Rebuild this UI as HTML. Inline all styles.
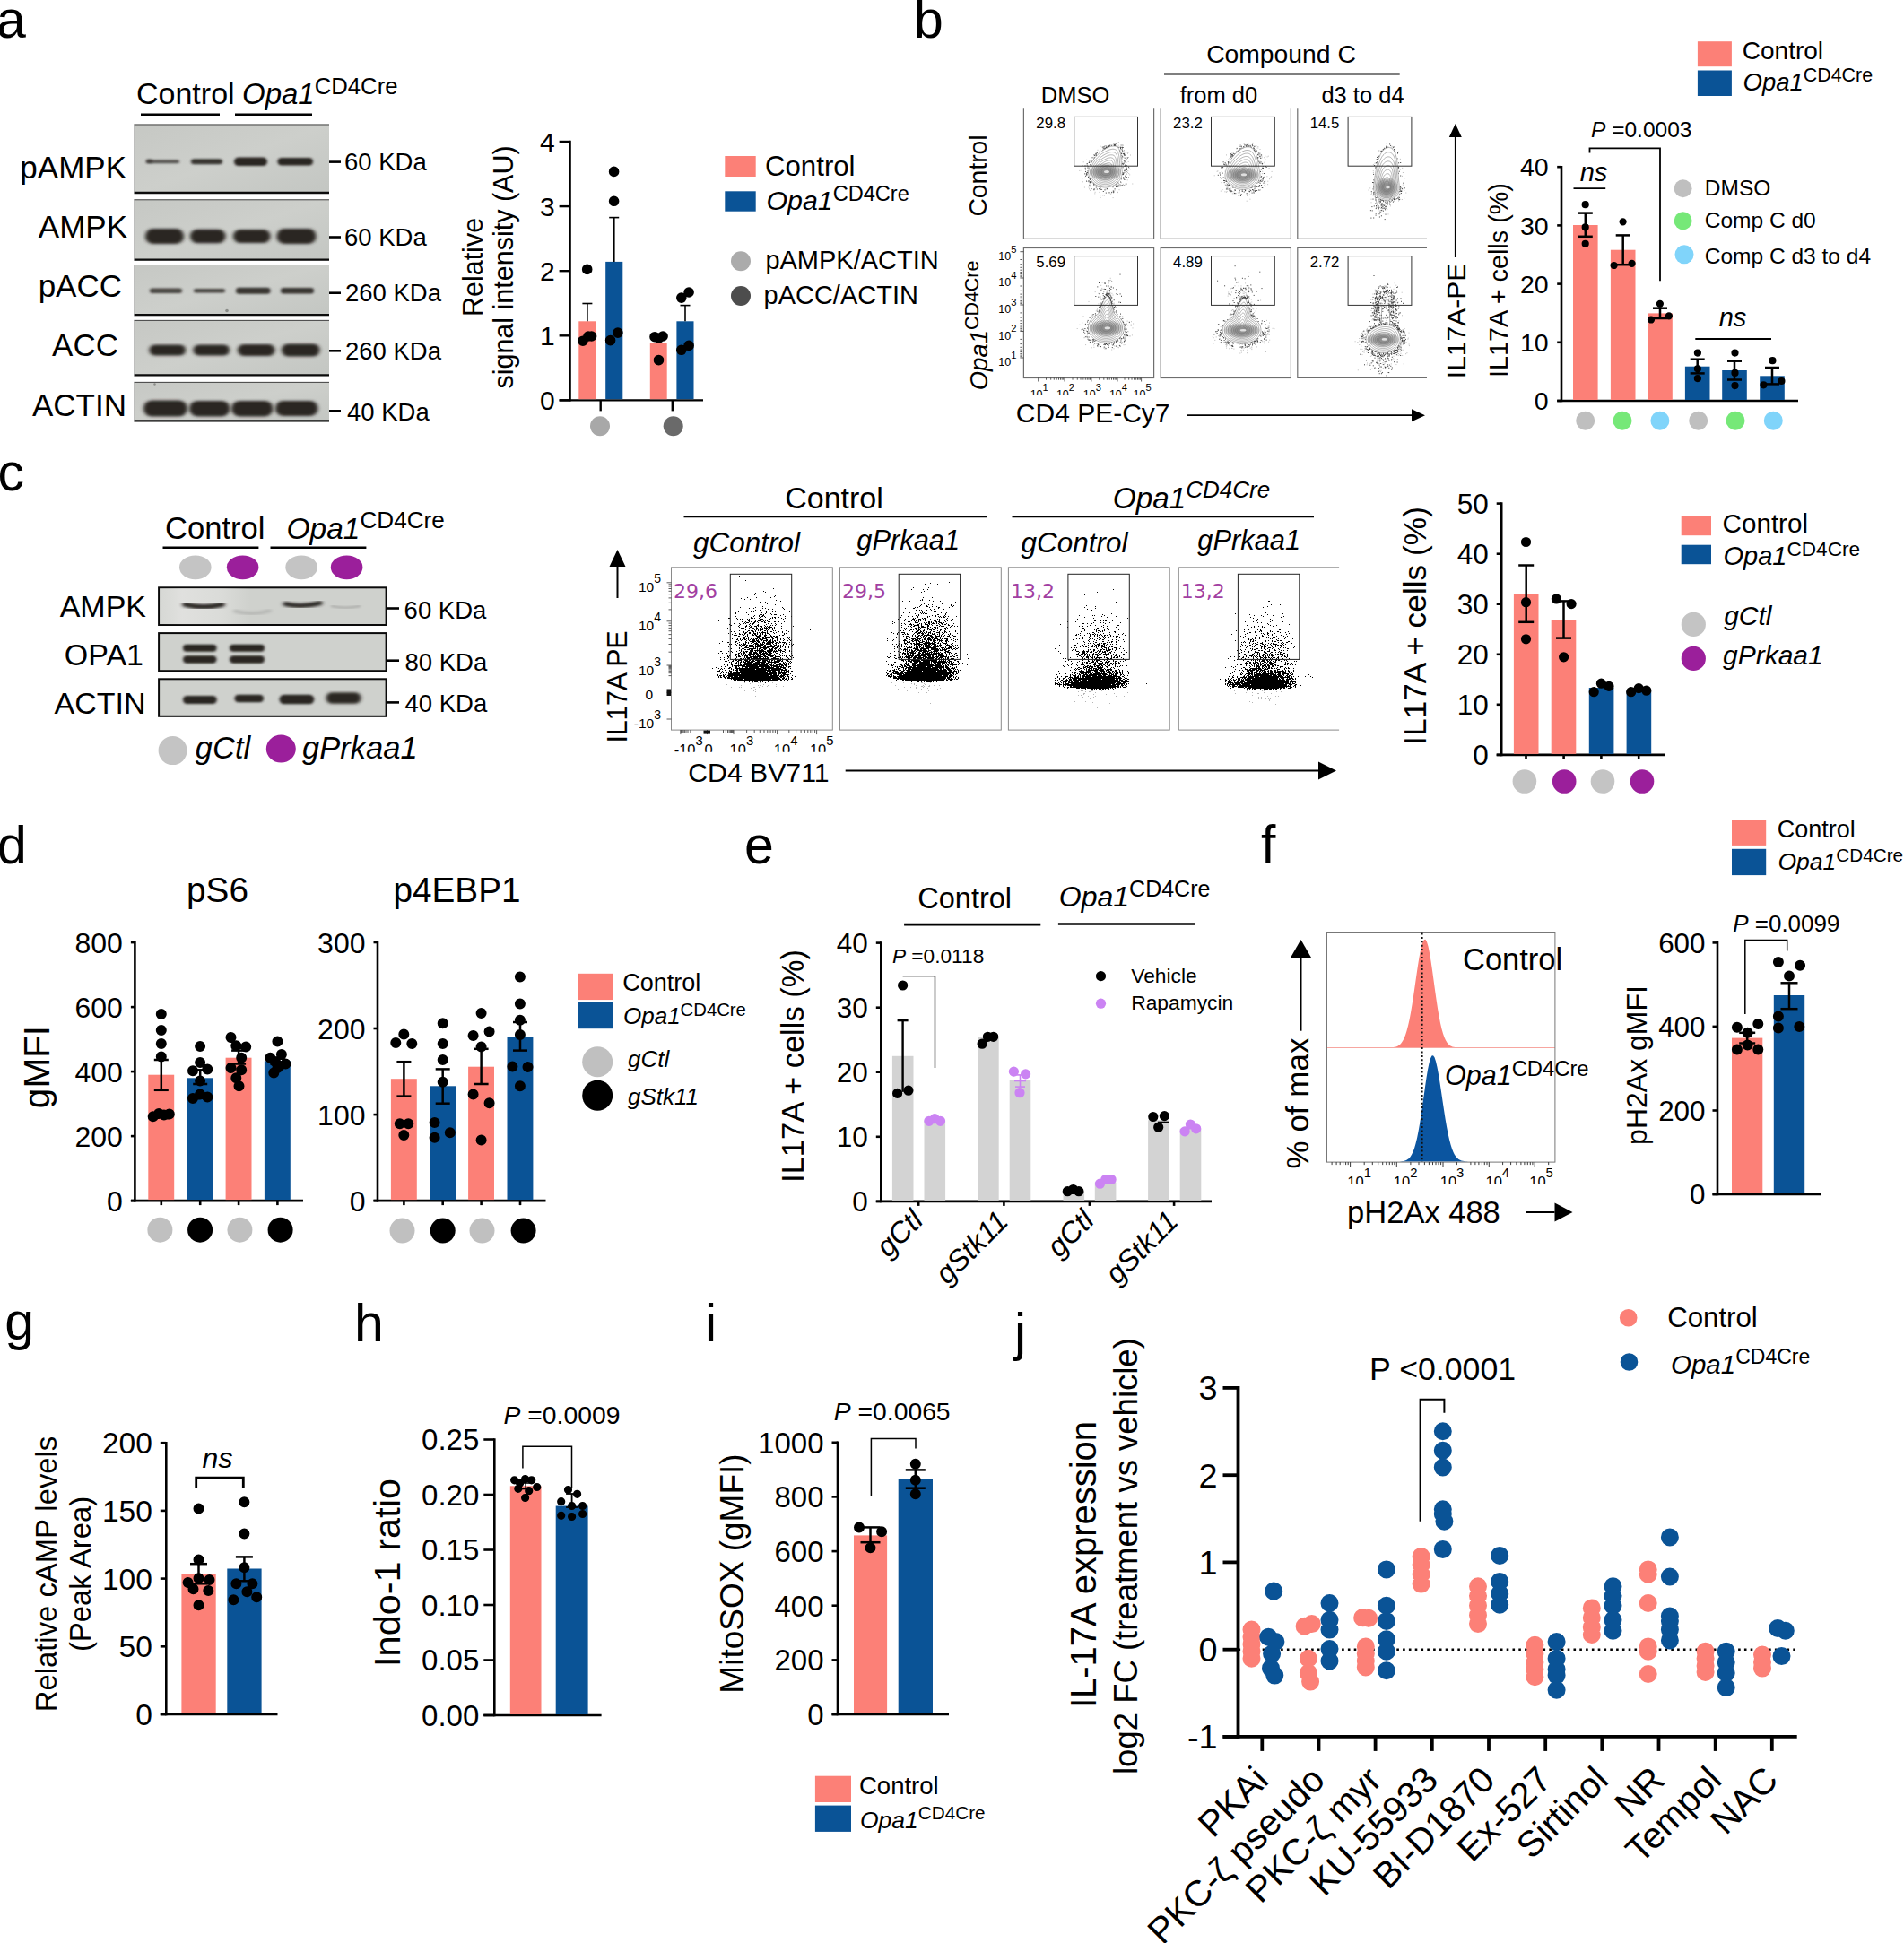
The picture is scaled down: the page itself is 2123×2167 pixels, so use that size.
<!DOCTYPE html>
<html><head><meta charset="utf-8"><title>Figure</title>
<style>html,body{margin:0;padding:0;background:#fff}svg{display:block}</style></head>
<body>
<svg width="2123" height="2167" viewBox="0 0 2123 2167" font-family="Liberation Sans, Arial, sans-serif" fill="#000">
<defs><filter id="b1" x="-20%" y="-50%" width="140%" height="200%"><feGaussianBlur stdDeviation="1.6 1.2"/></filter><filter id="b2" x="-20%" y="-50%" width="140%" height="200%"><feGaussianBlur stdDeviation="2.2 1.6"/></filter><filter id="b3" x="-20%" y="-80%" width="140%" height="260%"><feGaussianBlur stdDeviation="3 2.2"/></filter><linearGradient id="bg1" x1="0" y1="0" x2="1" y2="1"><stop offset="0" stop-color="#c6c8c4"/><stop offset="0.5" stop-color="#cdcfcb"/><stop offset="1" stop-color="#c3c6c2"/></linearGradient></defs>
<text x="-4" y="41.8" font-size="59">a</text>
<text x="152" y="116" font-size="34">Control</text>
<text x="270" y="116" font-size="33"><tspan font-style="italic">Opa1</tspan><tspan dy="-11.5" font-size="25.7">CD4Cre</tspan></text>
<line x1="157" y1="127.7" x2="245" y2="127.7" stroke="#000" stroke-width="2.6"/>
<line x1="262" y1="127.7" x2="348" y2="127.7" stroke="#000" stroke-width="2.6"/>
<rect x="149.5" y="138.5" width="217.5" height="77.5" fill="url(#bg1)"/>
<line x1="149.5" y1="139" x2="367" y2="139" stroke="#444" stroke-width="1"/>
<line x1="149.5" y1="215" x2="367" y2="215" stroke="#0c0c0c" stroke-width="2.3"/>
<line x1="150" y1="138.5" x2="150" y2="216" stroke="#999" stroke-width="1"/>
<rect x="149.5" y="222.3" width="217.5" height="68.4" fill="url(#bg1)"/>
<line x1="149.5" y1="222.8" x2="367" y2="222.8" stroke="#444" stroke-width="1"/>
<line x1="149.5" y1="289.7" x2="367" y2="289.7" stroke="#0c0c0c" stroke-width="2.3"/>
<line x1="150" y1="222.3" x2="150" y2="290.7" stroke="#999" stroke-width="1"/>
<rect x="149.5" y="295" width="217.5" height="57.2" fill="url(#bg1)"/>
<line x1="149.5" y1="295.5" x2="367" y2="295.5" stroke="#444" stroke-width="1"/>
<line x1="149.5" y1="351.2" x2="367" y2="351.2" stroke="#0c0c0c" stroke-width="2.3"/>
<line x1="150" y1="295" x2="150" y2="352.2" stroke="#999" stroke-width="1"/>
<rect x="149.5" y="356.9" width="217.5" height="62.4" fill="url(#bg1)"/>
<line x1="149.5" y1="357.4" x2="367" y2="357.4" stroke="#444" stroke-width="1"/>
<line x1="149.5" y1="418.3" x2="367" y2="418.3" stroke="#0c0c0c" stroke-width="2.3"/>
<line x1="150" y1="356.9" x2="150" y2="419.3" stroke="#999" stroke-width="1"/>
<rect x="149.5" y="425.9" width="217.5" height="44.4" fill="url(#bg1)"/>
<line x1="149.5" y1="426.4" x2="367" y2="426.4" stroke="#444" stroke-width="1"/>
<line x1="149.5" y1="469.3" x2="367" y2="469.3" stroke="#0c0c0c" stroke-width="2.3"/>
<line x1="150" y1="425.9" x2="150" y2="470.3" stroke="#999" stroke-width="1"/>
<rect x="163" y="178.3" width="37" height="4" rx="2" fill="#2a2524" opacity="0.7" filter="url(#b1)"/>
<rect x="163" y="177.3" width="7" height="5" rx="2.5" fill="#2a2524" opacity="0.5" filter="url(#b1)"/>
<rect x="213" y="177.3" width="35" height="6" rx="3" fill="#2a2524" opacity="0.9" filter="url(#b1)"/>
<rect x="261" y="175.6" width="37" height="9.5" rx="4.8" fill="#2a2524" opacity="1" filter="url(#b1)"/>
<rect x="309.5" y="176.1" width="39.5" height="8.5" rx="4.2" fill="#2a2524" opacity="1" filter="url(#b1)"/>
<rect x="162" y="255" width="43" height="17" rx="8.5" fill="#2a2524" opacity="1" filter="url(#b2)"/>
<rect x="212" y="255.8" width="39.5" height="15.5" rx="7.8" fill="#2a2524" opacity="1" filter="url(#b2)"/>
<rect x="260" y="256" width="41.5" height="15" rx="7.5" fill="#2a2524" opacity="1" filter="url(#b2)"/>
<rect x="308.5" y="255" width="44" height="17" rx="8.5" fill="#2a2524" opacity="1" filter="url(#b2)"/>
<rect x="167" y="321.4" width="36" height="5.5" rx="2.8" fill="#2a2524" opacity="0.8" filter="url(#b1)"/>
<rect x="216" y="321.9" width="35" height="4.5" rx="2.2" fill="#2a2524" opacity="0.8" filter="url(#b1)"/>
<rect x="263" y="320.7" width="38.5" height="7" rx="3.5" fill="#2a2524" opacity="0.9" filter="url(#b1)"/>
<rect x="313" y="320.9" width="37" height="6.5" rx="3.2" fill="#2a2524" opacity="0.9" filter="url(#b1)"/>
<rect x="166.5" y="384.5" width="40.5" height="12" rx="6" fill="#2a2524" opacity="1" filter="url(#b2)"/>
<rect x="215.5" y="384.5" width="40.5" height="12" rx="6" fill="#2a2524" opacity="1" filter="url(#b2)"/>
<rect x="265" y="384" width="41.5" height="13" rx="6.5" fill="#2a2524" opacity="1" filter="url(#b2)"/>
<rect x="314" y="383.5" width="42.5" height="14" rx="7" fill="#2a2524" opacity="1" filter="url(#b2)"/>
<rect x="160" y="446.6" width="49" height="18" rx="9" fill="#2a2524" opacity="1" filter="url(#b2)"/>
<rect x="211" y="446.9" width="45.5" height="17.5" rx="8.8" fill="#2a2524" opacity="1" filter="url(#b2)"/>
<rect x="258" y="446.9" width="46.5" height="17.5" rx="8.8" fill="#2a2524" opacity="1" filter="url(#b2)"/>
<rect x="307" y="447.1" width="47.5" height="17" rx="8.5" fill="#2a2524" opacity="1" filter="url(#b2)"/>
<circle cx="253" cy="346.5" r="1.8" fill="#8b8d89"/>
<circle cx="172.5" cy="428.5" r="1.2" fill="#8b8d89"/>
<text x="141" y="198.5" font-size="35" text-anchor="end">pAMPK</text>
<text x="142" y="265" font-size="35" text-anchor="end">AMPK</text>
<text x="136" y="330.5" font-size="35" text-anchor="end">pACC</text>
<text x="132" y="397" font-size="35" text-anchor="end">ACC</text>
<text x="141" y="463.7" font-size="35" text-anchor="end">ACTIN</text>
<line x1="367" y1="180.6" x2="380" y2="180.6" stroke="#000" stroke-width="2.6"/>
<text x="384" y="189.7" font-size="27.5">60 KDa</text>
<line x1="367" y1="264.5" x2="380" y2="264.5" stroke="#000" stroke-width="2.6"/>
<text x="384" y="273.5" font-size="27.5">60 KDa</text>
<line x1="367" y1="326.7" x2="380" y2="326.7" stroke="#000" stroke-width="2.6"/>
<text x="385" y="335.5" font-size="27.5">260 KDa</text>
<line x1="367" y1="391.3" x2="380" y2="391.3" stroke="#000" stroke-width="2.6"/>
<text x="385" y="400.5" font-size="27.5">260 KDa</text>
<line x1="367" y1="458.3" x2="380" y2="458.3" stroke="#000" stroke-width="2.6"/>
<text x="387" y="468.5" font-size="27.5">40 KDa</text>
<line x1="635.6" y1="156.8" x2="635.6" y2="447.6" stroke="#000" stroke-width="2.4"/>
<line x1="623.6" y1="446.4" x2="635.6" y2="446.4" stroke="#000" stroke-width="2.4"/>
<text x="618.6" y="457.1" font-size="30" text-anchor="end">0</text>
<line x1="623.6" y1="374.3" x2="635.6" y2="374.3" stroke="#000" stroke-width="2.4"/>
<text x="618.6" y="385" font-size="30" text-anchor="end">1</text>
<line x1="623.6" y1="302.2" x2="635.6" y2="302.2" stroke="#000" stroke-width="2.4"/>
<text x="618.6" y="312.9" font-size="30" text-anchor="end">2</text>
<line x1="623.6" y1="230.1" x2="635.6" y2="230.1" stroke="#000" stroke-width="2.4"/>
<text x="618.6" y="240.8" font-size="30" text-anchor="end">3</text>
<line x1="623.6" y1="158" x2="635.6" y2="158" stroke="#000" stroke-width="2.4"/>
<text x="618.6" y="168.7" font-size="30" text-anchor="end">4</text>
<line x1="623.6" y1="446.4" x2="784" y2="446.4" stroke="#000" stroke-width="2.4"/>
<line x1="669.7" y1="446.4" x2="669.7" y2="458.4" stroke="#000" stroke-width="2.4"/>
<line x1="749.8" y1="446.4" x2="749.8" y2="458.4" stroke="#000" stroke-width="2.4"/>
<text font-size="30.5" text-anchor="middle" transform="translate(537.5 298) rotate(-90)">Relative</text>
<text font-size="30.5" text-anchor="middle" transform="translate(572 298) rotate(-90)">signal intensity (AU)</text>
<rect x="645.3" y="358.3" width="19.2" height="86.9" fill="#fc8077"/>
<line x1="654.9" y1="338.5" x2="654.9" y2="358.3" stroke="#000" stroke-width="1.6"/>
<line x1="649.4" y1="338.5" x2="660.4" y2="338.5" stroke="#000" stroke-width="1.6"/>
<rect x="675.2" y="291.9" width="19.1" height="153.3" fill="#0a5396"/>
<line x1="684.8" y1="242.6" x2="684.8" y2="291.9" stroke="#000" stroke-width="1.6"/>
<line x1="679.2" y1="242.6" x2="690.2" y2="242.6" stroke="#000" stroke-width="1.6"/>
<rect x="724.8" y="382.7" width="18.9" height="62.5" fill="#fc8077"/>
<rect x="754.4" y="358.3" width="19.1" height="86.9" fill="#0a5396"/>
<line x1="764" y1="340.6" x2="764" y2="358.3" stroke="#000" stroke-width="1.6"/>
<line x1="758.5" y1="340.6" x2="769.5" y2="340.6" stroke="#000" stroke-width="1.6"/>
<path d="M648.9 300.4a5.8 5.8 0 1 0 11.6 0a5.8 5.8 0 1 0 -11.6 0M644.1 380.2a5.8 5.8 0 1 0 11.6 0a5.8 5.8 0 1 0 -11.6 0M650.2 375a5.8 5.8 0 1 0 11.6 0a5.8 5.8 0 1 0 -11.6 0M653.8 375a5.8 5.8 0 1 0 11.6 0a5.8 5.8 0 1 0 -11.6 0M678.8 191.4a5.8 5.8 0 1 0 11.6 0a5.8 5.8 0 1 0 -11.6 0M678.8 224.3a5.8 5.8 0 1 0 11.6 0a5.8 5.8 0 1 0 -11.6 0M674.8 379.6a5.8 5.8 0 1 0 11.6 0a5.8 5.8 0 1 0 -11.6 0M683.1 371.1a5.8 5.8 0 1 0 11.6 0a5.8 5.8 0 1 0 -11.6 0M724.2 375.7a5.8 5.8 0 1 0 11.6 0a5.8 5.8 0 1 0 -11.6 0M728.7 377.2a5.8 5.8 0 1 0 11.6 0a5.8 5.8 0 1 0 -11.6 0M733.3 375a5.8 5.8 0 1 0 11.6 0a5.8 5.8 0 1 0 -11.6 0M728.7 401.6a5.8 5.8 0 1 0 11.6 0a5.8 5.8 0 1 0 -11.6 0M754 332.1a5.8 5.8 0 1 0 11.6 0a5.8 5.8 0 1 0 -11.6 0M762.3 326a5.8 5.8 0 1 0 11.6 0a5.8 5.8 0 1 0 -11.6 0M754 390.3a5.8 5.8 0 1 0 11.6 0a5.8 5.8 0 1 0 -11.6 0M762.3 385.4a5.8 5.8 0 1 0 11.6 0a5.8 5.8 0 1 0 -11.6 0" fill="#000"/>
<circle cx="669" cy="475.3" r="11" fill="#a8a8a8"/>
<circle cx="750.7" cy="475.3" r="11" fill="#6a6a6a"/>
<rect x="808.3" y="174" width="34.4" height="23" fill="#fc8077"/>
<rect x="808.3" y="213.3" width="34.4" height="22.4" fill="#0a5396"/>
<text x="853" y="195.6" font-size="31.2">Control</text>
<text x="854.5" y="234.3" font-size="30.3"><tspan font-style="italic">Opa1</tspan><tspan dy="-10.6" font-size="23.6">CD4Cre</tspan></text>
<circle cx="826" cy="291.3" r="11" fill="#ababab"/>
<circle cx="826" cy="330" r="11" fill="#4d4d4d"/>
<text x="853.4" y="299.5" font-size="29">pAMPK/ACTIN</text>
<text x="851.5" y="338.5" font-size="29">pACC/ACTIN</text>
<text x="1019" y="41.6" font-size="59">b</text>
<text x="1428.5" y="69.6" font-size="28.3" text-anchor="middle">Compound C</text>
<line x1="1298" y1="82.5" x2="1560.7" y2="82.5" stroke="#000" stroke-width="2.2"/>
<text x="1199" y="115" font-size="25.5" text-anchor="middle">DMSO</text>
<text x="1359" y="115" font-size="25.5" text-anchor="middle">from d0</text>
<text x="1519.5" y="115" font-size="25.5" text-anchor="middle">d3 to d4</text>
<path d="M1218.7 175.3h1M1228.2 211.5h1M1239.2 162.1h1M1226.6 220.4h1M1229.1 217.9h1M1230.8 166.2h1M1232.7 210.3h1M1212.6 187.6h1M1203.3 190.4h1M1226.6 163.2h1M1246 214.6h1M1220.3 215.9h1M1257.4 170.3h1M1256.9 192.5h1M1212.6 202.5h1M1218.9 176.4h1M1262.3 205h1M1240.6 159.5h1M1254.9 191.4h1M1252.5 168.5h1M1246.7 162.2h1M1250.2 206.9h1M1214 210.8h1M1230.8 218.2h1M1215.1 212.4h1M1236 163.1h1M1206.2 199.7h1M1233.6 211.6h1M1234.7 164.2h1M1213.2 196.9h1M1250.7 177.4h1M1205.7 190.2h1M1258.6 178.4h1M1257.9 175.5h1M1230.7 163.7h1M1213.5 209h1M1255.9 189.4h1M1231.4 162.6h1M1257.3 190.7h1M1208.9 209h1M1259.2 194.9h1M1247.5 211.7h1M1236.5 214.7h1M1231.5 163.1h1M1216.1 199.5h1M1254.4 205.2h1M1206.8 184.6h1M1234.8 210.1h1M1245.2 213.6h1M1256.7 200.8h1M1248.4 208h1M1207.7 180.8h1M1250.8 180.8h1M1260.5 198.5h1M1219.4 212.3h1M1220.6 214.3h1M1237.1 162.1h1M1213.9 180.3h1M1230.6 164.1h1M1240.6 220.6h1M1259.9 188.7h1M1222.2 203.6h1M1223.7 207.8h1M1237.9 216.8h1M1235.4 163.3h1M1255.3 177.6h1M1240.7 161.4h1M1255.3 181.5h1M1256.3 169.8h1M1206 184.3h1M1253 167.5h1M1221.7 170.5h1M1254.5 197.7h1M1258.2 193.6h1M1251.9 192.8h1M1252.4 175.2h1M1250.9 171.2h1M1260 173h1M1255.8 204.9h1M1222.9 169.5h1M1216.8 182.5h1M1215 186.9h1M1237.6 161.8h1M1243 161.8h1M1241.9 164.5h1M1251.8 205.4h1M1219.9 173.6h1M1216.3 203h1M1242.9 161.1h1M1226.9 209.5h1M1252 162.1h1M1247.5 205.5h1M1213.5 187.8h1M1252.3 194.2h1M1238.7 215.7h1M1256.6 175.6h1M1241.4 160.6h1M1232 162.6h1M1242.7 160.6h1M1224.8 217.5h1M1241.5 160.8h1M1253.3 170.7h1M1214.4 180.7h1M1257.7 180.4h1M1246.9 158.7h1M1226.4 217.8h1M1247 204.6h1M1257 171.2h1M1249 162h1M1211.1 178.3h1M1225.4 214.4h1M1254.5 206.7h1M1249.8 203.8h1M1246.5 159.2h1M1206.3 203h1M1254.6 195.9h1M1241.5 214.5h1M1258.5 187.5h1M1242.5 212.2h1M1243 162h1M1206.7 202.7h1M1223.5 167.3h1M1251.1 164.5h1M1231.6 211.1h1" stroke="#bdbdbd" stroke-width="1" fill="none"/>
<path d="M1211 195h1M1225.6 169.3h1M1223.8 207.6h1M1221.8 209h1M1215.1 203.2h1M1222.8 170.6h1M1253.7 176.2h1M1255.3 177.3h1M1249.3 164.5h1M1252 194.2h1M1246.6 206.8h1M1241.3 213.4h1M1238.8 162.3h1M1244.7 162.7h1M1249.5 166.8h1M1240.5 208.7h1M1252.8 172.1h1M1242.2 161.7h1M1214.5 178.9h1M1216.5 210.6h1M1230.5 163.7h1M1236.3 162.7h1M1258.1 186.3h1M1243.4 159.6h1M1213.8 181.5h1M1219.6 177.9h1M1239.2 214.4h1M1251.1 167.8h1M1241.1 214.7h1M1223.2 207.7h1M1248.6 206.2h1M1241.9 162.2h1M1252.5 199.6h1M1217.8 179.1h1M1219.2 205.2h1M1250.7 206.6h1M1228.8 164.1h1M1256 197.8h1M1213.5 201.6h1M1214.7 203.8h1M1221.4 172.1h1M1209.7 187.3h1M1255.2 198.4h1M1244.4 208.2h1M1251.1 168.9h1M1231.7 165.5h1M1221.6 171.5h1M1230.5 165.2h1M1214.9 197.9h1M1241.8 162.6h1M1244.8 207.1h1M1253.2 190.3h1M1250.5 162h1M1229.8 213.5h1M1246.7 164.3h1M1220.1 175.9h1M1217 180.3h1M1236 163.5h1M1253.6 173.3h1M1251.1 174.8h1M1240.8 213h1M1214.4 206.3h1M1252.7 182.1h1M1218.7 204.1h1M1254 184.2h1M1219.1 211.2h1M1233.2 163.1h1M1215.3 203.7h1M1250.4 173.8h1M1213 197.4h1M1242.6 162.1h1M1231.5 211.9h1M1213.6 202.7h1M1211.8 192.7h1M1215.5 189.3h1M1249.8 199.8h1M1229.7 165.1h1M1252.7 206.9h1M1220.1 176.6h1M1209.9 188.9h1M1222.8 211h1M1209.3 198.4h1M1221.7 173.2h1M1250 187.2h1M1217.5 175.8h1M1253.4 200.5h1M1250 171.7h1M1243.5 204.5h1M1249.1 207.5h1M1227.6 211.4h1M1255.8 189.5h1M1211.8 192.4h1M1213.4 192.9h1M1216.3 182.6h1M1244.9 161.2h1M1252.8 171.5h1M1242.6 210.8h1M1211.9 188.4h1M1219.1 207.2h1M1250.4 176h1M1214.8 199.9h1M1215.3 200.5h1M1244.5 160.6h1M1232 166.1h1M1229.6 167.9h1M1215.1 199h1M1252.3 193.4h1M1248.6 164.2h1M1212.5 190.8h1M1247.4 167.5h1M1229.6 167.1h1M1214.6 199.1h1M1256.9 176.1h1M1253.4 192.2h1M1212.5 186.9h1M1231.2 166.2h1M1253.6 180.8h1M1255.1 194.5h1M1253.9 190.1h1M1211.7 182.5h1M1255.5 191.4h1M1255.7 184.7h1M1254.3 196.3h1M1225.2 210.7h1M1224.7 208h1M1219.5 172.8h1M1211.2 193.3h1M1211.7 184.1h1M1236.5 163.7h1M1245.4 163.8h1M1209.5 184.9h1M1243.6 205.7h1M1216.6 203h1M1249.9 198.3h1M1210 191.4h1M1212.6 185.4h1M1214.2 181.2h1M1244 208.4h1M1251 194.2h1M1251.7 164.5h1M1251.1 182.3h1M1210.1 196.3h1M1252.1 183h1M1251.7 194.6h1M1254.7 198.1h1M1252.9 179.1h1M1215.9 208.3h1M1251.5 183.2h1M1252.1 171.4h1M1251 164.3h1M1232.8 215.1h1M1215.4 183.6h1M1249.1 203h1M1248.1 170.1h1M1232.8 164.4h1M1219.5 205.8h1M1242.4 161.8h1M1222 173.2h1M1246.4 208.1h1M1211 202.1h1M1226.7 211.2h1M1249.6 170.9h1M1245.1 206h1M1255.2 205.6h1M1242.7 161.7h1M1253.5 172.9h1M1254.8 172.1h1M1233.4 164.6h1M1244.5 204.5h1M1226.1 167h1M1211.6 194.8h1M1246.2 203.8h1M1255.3 194h1M1244.8 206.8h1M1245.8 207.6h1M1252.9 172.8h1M1251.6 186.8h1M1220.1 211h1M1219.4 207.2h1M1253.7 185.5h1M1242.7 207.3h1M1236.8 162.3h1M1234.1 210.6h1M1249 165.4h1M1249.5 164.3h1M1234.2 164.1h1M1210.9 194.1h1M1245.8 207.9h1M1232.8 164.6h1M1258 198.1h1M1215 202.8h1M1225.7 210.4h1M1255.8 187.2h1M1242.7 162.6h1M1248.2 168.5h1M1253.6 179.8h1M1245.1 208.1h1M1221.7 206.9h1M1215.2 199.2h1M1250.9 165.9h1M1252.2 197.8h1M1235.7 163.7h1M1251.4 192.6h1M1209.2 193.9h1M1220.2 173.4h1M1236.5 214.9h1" stroke="#3a3a3a" stroke-width="1" fill="none"/>
<path d="M1251.3 191.5L1251.1 189.8L1250.9 188.1L1250.7 186.3L1250.5 184.7L1250.4 183L1250.3 181.4L1250.2 179.8L1250.1 178.2L1250 176.7L1249.8 175.3L1249.7 173.9L1249.5 172.5L1249.3 171.3L1249 170.1L1248.8 169L1248.4 168L1248.1 167L1247.7 166.2L1247.2 165.4L1246.6 164.8L1246 164.2L1245.4 163.7L1244.6 163.4L1243.8 163.1L1242.9 163L1242 162.9L1241 163L1239.9 163.1L1238.7 163.4L1237.5 163.7L1236.3 164.2L1235 164.8L1233.6 165.4L1232.2 166.2L1230.8 167L1229.4 168L1228 169L1226.6 170.1L1225.2 171.3L1223.9 172.5L1222.6 173.9L1221.3 175.3L1220.1 176.7L1219 178.2L1218 179.8L1217.1 181.4L1216.3 183L1215.5 184.7L1214.9 186.3L1214.4 188.1L1214 189.8L1213.7 191.5L1213.7 192.6L1213.8 193.6L1214 194.7L1214.2 195.7L1214.6 196.7L1214.9 197.7L1215.4 198.7L1215.9 199.6L1216.4 200.6L1217 201.4L1217.7 202.3L1218.4 203.1L1219.2 203.9L1220 204.6L1220.9 205.3L1221.8 205.9L1222.8 206.5L1223.8 207L1224.8 207.5L1225.8 207.9L1226.9 208.2L1228 208.5L1229.1 208.7L1230.2 208.9L1231.4 209L1232.5 209L1233.6 209L1234.8 208.9L1235.9 208.7L1237 208.5L1238.1 208.2L1239.2 207.9L1240.2 207.5L1241.2 207L1242.2 206.5L1243.2 205.9L1244.1 205.3L1245 204.6L1245.8 203.9L1246.6 203.1L1247.3 202.3L1248 201.4L1248.6 200.6L1249.1 199.6L1249.6 198.7L1250.1 197.7L1250.4 196.7L1250.8 195.7L1251 194.7L1251.2 193.6L1251.3 192.6Z" fill="#fff" stroke="#8a8a8a" stroke-width="0.65"/>
<path d="M1249.5 191.5L1249.3 190L1249.1 188.5L1249 187L1248.8 185.5L1248.7 184L1248.6 182.6L1248.5 181.1L1248.4 179.8L1248.3 178.4L1248.2 177.2L1248 175.9L1247.9 174.8L1247.7 173.7L1247.5 172.6L1247.2 171.6L1246.9 170.7L1246.6 169.9L1246.2 169.2L1245.8 168.5L1245.3 167.9L1244.7 167.4L1244.1 167L1243.5 166.7L1242.7 166.5L1242 166.3L1241.1 166.3L1240.2 166.3L1239.2 166.5L1238.1 166.7L1237.1 167L1235.9 167.4L1234.7 167.9L1233.5 168.5L1232.3 169.2L1231 169.9L1229.7 170.7L1228.4 171.6L1227.2 172.6L1225.9 173.7L1224.7 174.8L1223.5 175.9L1222.4 177.2L1221.3 178.4L1220.3 179.8L1219.4 181.1L1218.6 182.6L1217.8 184L1217.2 185.5L1216.6 187L1216.1 188.5L1215.8 190L1215.5 191.5L1215.5 192.5L1215.6 193.4L1215.8 194.4L1216 195.3L1216.3 196.2L1216.6 197.1L1217 198L1217.4 198.9L1217.9 199.7L1218.5 200.5L1219.1 201.3L1219.8 202L1220.5 202.7L1221.2 203.3L1222 204L1222.8 204.5L1223.7 205L1224.6 205.5L1225.5 205.9L1226.5 206.3L1227.4 206.6L1228.4 206.9L1229.4 207.1L1230.5 207.2L1231.5 207.3L1232.5 207.3L1233.5 207.3L1234.5 207.2L1235.6 207.1L1236.6 206.9L1237.6 206.6L1238.5 206.3L1239.5 205.9L1240.4 205.5L1241.3 205L1242.2 204.5L1243 204L1243.8 203.3L1244.5 202.7L1245.2 202L1245.9 201.3L1246.5 200.5L1247.1 199.7L1247.6 198.9L1248 198L1248.4 197.1L1248.7 196.2L1249 195.3L1249.2 194.4L1249.4 193.4L1249.5 192.5Z" fill="none" stroke="#8a8a8a" stroke-width="0.65"/>
<path d="M1247.7 191.5L1247.5 190.2L1247.3 188.9L1247.2 187.5L1247.1 186.2L1247 185L1246.9 183.7L1246.8 182.5L1246.7 181.3L1246.6 180.1L1246.5 179L1246.4 178L1246.2 177L1246.1 176L1245.9 175.1L1245.7 174.2L1245.4 173.4L1245.1 172.7L1244.8 172.1L1244.4 171.5L1243.9 171L1243.5 170.6L1242.9 170.2L1242.3 169.9L1241.7 169.7L1241 169.6L1240.2 169.6L1239.4 169.6L1238.5 169.7L1237.6 169.9L1236.6 170.2L1235.6 170.6L1234.5 171L1233.4 171.5L1232.3 172.1L1231.2 172.7L1230 173.4L1228.9 174.2L1227.7 175.1L1226.6 176L1225.5 177L1224.5 178L1223.5 179L1222.5 180.1L1221.6 181.3L1220.8 182.5L1220 183.7L1219.4 185L1218.8 186.2L1218.3 187.5L1217.9 188.9L1217.5 190.2L1217.3 191.5L1217.3 192.4L1217.4 193.2L1217.5 194.1L1217.7 194.9L1218 195.7L1218.3 196.5L1218.6 197.3L1219 198.1L1219.5 198.8L1220 199.5L1220.5 200.2L1221.1 200.9L1221.7 201.5L1222.4 202.1L1223.1 202.6L1223.9 203.1L1224.6 203.6L1225.4 204L1226.3 204.4L1227.1 204.7L1228 205L1228.9 205.2L1229.8 205.4L1230.7 205.6L1231.6 205.6L1232.5 205.7L1233.4 205.6L1234.3 205.6L1235.2 205.4L1236.1 205.2L1237 205L1237.9 204.7L1238.7 204.4L1239.6 204L1240.4 203.6L1241.1 203.1L1241.9 202.6L1242.6 202.1L1243.3 201.5L1243.9 200.9L1244.5 200.2L1245 199.5L1245.5 198.8L1246 198.1L1246.4 197.3L1246.7 196.5L1247 195.7L1247.3 194.9L1247.5 194.1L1247.6 193.2L1247.7 192.4Z" fill="none" stroke="#8a8a8a" stroke-width="0.65"/>
<path d="M1245.9 191.5L1245.7 190.4L1245.6 189.2L1245.5 188.1L1245.4 187L1245.3 185.9L1245.2 184.9L1245.1 183.8L1245 182.8L1244.9 181.8L1244.9 180.8L1244.7 179.9L1244.6 179.1L1244.5 178.2L1244.3 177.5L1244.1 176.7L1243.9 176.1L1243.6 175.5L1243.3 174.9L1243 174.4L1242.6 174L1242.2 173.6L1241.7 173.3L1241.2 173.1L1240.6 172.9L1240 172.8L1239.3 172.8L1238.6 172.8L1237.8 172.9L1237 173.1L1236.1 173.3L1235.2 173.6L1234.3 174L1233.3 174.4L1232.3 174.9L1231.3 175.5L1230.3 176.1L1229.3 176.7L1228.3 177.5L1227.3 178.2L1226.3 179.1L1225.4 179.9L1224.5 180.8L1223.7 181.8L1222.9 182.8L1222.2 183.8L1221.5 184.9L1220.9 185.9L1220.4 187L1220 188.1L1219.6 189.2L1219.3 190.4L1219.1 191.5L1219.1 192.3L1219.2 193L1219.3 193.8L1219.5 194.5L1219.7 195.2L1220 195.9L1220.3 196.6L1220.6 197.3L1221 198L1221.5 198.6L1221.9 199.2L1222.5 199.8L1223 200.3L1223.6 200.8L1224.2 201.3L1224.9 201.8L1225.6 202.2L1226.3 202.6L1227 202.9L1227.7 203.2L1228.5 203.4L1229.3 203.6L1230.1 203.8L1230.9 203.9L1231.7 204L1232.5 204L1233.3 204L1234.1 203.9L1234.9 203.8L1235.7 203.6L1236.5 203.4L1237.3 203.2L1238 202.9L1238.7 202.6L1239.4 202.2L1240.1 201.8L1240.8 201.3L1241.4 200.8L1242 200.3L1242.5 199.8L1243.1 199.2L1243.5 198.6L1244 198L1244.4 197.3L1244.7 196.6L1245 195.9L1245.3 195.2L1245.5 194.5L1245.7 193.8L1245.8 193L1245.9 192.3Z" fill="none" stroke="#8a8a8a" stroke-width="0.65"/>
<path d="M1244.1 191.5L1244 190.6L1243.8 189.6L1243.7 188.7L1243.6 187.8L1243.6 186.8L1243.5 185.9L1243.4 185.1L1243.4 184.2L1243.3 183.4L1243.2 182.6L1243.1 181.8L1243 181.1L1242.9 180.4L1242.7 179.8L1242.5 179.2L1242.4 178.6L1242.1 178.1L1241.9 177.6L1241.6 177.2L1241.2 176.9L1240.9 176.5L1240.5 176.3L1240 176.1L1239.5 176L1239 175.9L1238.4 175.8L1237.7 175.9L1237.1 176L1236.4 176.1L1235.6 176.3L1234.8 176.5L1234 176.9L1233.2 177.2L1232.3 177.6L1231.5 178.1L1230.6 178.6L1229.7 179.2L1228.9 179.8L1228 180.4L1227.2 181.1L1226.4 181.8L1225.6 182.6L1224.9 183.4L1224.2 184.2L1223.5 185.1L1223 185.9L1222.5 186.8L1222 187.8L1221.6 188.7L1221.3 189.6L1221.1 190.6L1220.9 191.5L1220.9 192.2L1221 192.8L1221.1 193.4L1221.2 194.1L1221.4 194.7L1221.6 195.3L1221.9 195.9L1222.2 196.5L1222.6 197.1L1222.9 197.6L1223.4 198.2L1223.8 198.7L1224.3 199.1L1224.8 199.6L1225.3 200L1225.9 200.4L1226.5 200.8L1227.1 201.1L1227.7 201.4L1228.4 201.6L1229 201.8L1229.7 202L1230.4 202.1L1231.1 202.2L1231.8 202.3L1232.5 202.3L1233.2 202.3L1233.9 202.2L1234.6 202.1L1235.3 202L1236 201.8L1236.6 201.6L1237.3 201.4L1237.9 201.1L1238.5 200.8L1239.1 200.4L1239.7 200L1240.2 199.6L1240.7 199.1L1241.2 198.7L1241.6 198.2L1242.1 197.6L1242.4 197.1L1242.8 196.5L1243.1 195.9L1243.4 195.3L1243.6 194.7L1243.8 194.1L1243.9 193.4L1244 192.8L1244.1 192.2Z" fill="none" stroke="#8a8a8a" stroke-width="0.65"/>
<path d="M1242.3 191.5L1242.2 190.7L1242.1 190L1242 189.2L1241.9 188.5L1241.9 187.7L1241.8 187L1241.7 186.3L1241.7 185.6L1241.6 184.9L1241.5 184.3L1241.5 183.7L1241.4 183.1L1241.3 182.5L1241.1 182L1241 181.5L1240.8 181.1L1240.6 180.6L1240.4 180.3L1240.2 179.9L1239.9 179.6L1239.6 179.4L1239.2 179.2L1238.8 179L1238.4 178.9L1238 178.8L1237.5 178.8L1236.9 178.8L1236.4 178.9L1235.8 179L1235.1 179.2L1234.5 179.4L1233.8 179.6L1233.1 179.9L1232.4 180.3L1231.6 180.6L1230.9 181.1L1230.2 181.5L1229.4 182L1228.7 182.5L1228 183.1L1227.3 183.7L1226.7 184.3L1226 184.9L1225.5 185.6L1224.9 186.3L1224.5 187L1224 187.7L1223.6 188.5L1223.3 189.2L1223.1 190L1222.8 190.7L1222.7 191.5L1222.7 192.1L1222.8 192.6L1222.8 193.1L1223 193.7L1223.1 194.2L1223.3 194.7L1223.5 195.3L1223.8 195.7L1224.1 196.2L1224.4 196.7L1224.8 197.1L1225.2 197.6L1225.6 198L1226 198.3L1226.4 198.7L1226.9 199L1227.4 199.3L1227.9 199.6L1228.5 199.8L1229 200L1229.6 200.2L1230.2 200.4L1230.7 200.5L1231.3 200.6L1231.9 200.6L1232.5 200.6L1233.1 200.6L1233.7 200.6L1234.3 200.5L1234.8 200.4L1235.4 200.2L1236 200L1236.5 199.8L1237.1 199.6L1237.6 199.3L1238.1 199L1238.6 198.7L1239 198.3L1239.4 198L1239.8 197.6L1240.2 197.1L1240.6 196.7L1240.9 196.2L1241.2 195.7L1241.5 195.3L1241.7 194.7L1241.9 194.2L1242 193.7L1242.2 193.1L1242.2 192.6L1242.3 192.1Z" fill="none" stroke="#8a8a8a" stroke-width="0.65"/>
<path d="M1240.5 191.5L1240.4 190.9L1240.3 190.3L1240.3 189.7L1240.2 189.1L1240.1 188.6L1240.1 188L1240 187.5L1240 186.9L1239.9 186.4L1239.9 185.9L1239.8 185.4L1239.7 185L1239.7 184.5L1239.6 184.1L1239.4 183.7L1239.3 183.4L1239.1 183.1L1239 182.8L1238.8 182.5L1238.5 182.3L1238.3 182.1L1238 181.9L1237.7 181.8L1237.3 181.7L1237 181.7L1236.6 181.6L1236.1 181.7L1235.7 181.7L1235.2 181.8L1234.6 181.9L1234.1 182.1L1233.6 182.3L1233 182.5L1232.4 182.8L1231.8 183.1L1231.2 183.4L1230.6 183.7L1230 184.1L1229.4 184.5L1228.8 185L1228.3 185.4L1227.7 185.9L1227.2 186.4L1226.8 186.9L1226.3 187.5L1225.9 188L1225.6 188.6L1225.3 189.1L1225 189.7L1224.8 190.3L1224.6 190.9L1224.5 191.5L1224.5 192L1224.5 192.4L1224.6 192.8L1224.7 193.3L1224.8 193.7L1225 194.1L1225.2 194.6L1225.4 195L1225.6 195.4L1225.9 195.7L1226.2 196.1L1226.5 196.5L1226.8 196.8L1227.2 197.1L1227.6 197.4L1227.9 197.6L1228.4 197.9L1228.8 198.1L1229.2 198.3L1229.7 198.5L1230.1 198.6L1230.6 198.7L1231.1 198.8L1231.5 198.9L1232 199L1232.5 199L1233 199L1233.5 198.9L1233.9 198.8L1234.4 198.7L1234.9 198.6L1235.3 198.5L1235.8 198.3L1236.2 198.1L1236.6 197.9L1237.1 197.6L1237.4 197.4L1237.8 197.1L1238.2 196.8L1238.5 196.5L1238.8 196.1L1239.1 195.7L1239.4 195.4L1239.6 195L1239.8 194.6L1240 194.1L1240.2 193.7L1240.3 193.3L1240.4 192.8L1240.5 192.4L1240.5 192Z" fill="none" stroke="#8a8a8a" stroke-width="0.65"/>
<path d="M1238.7 191.5L1238.6 191.1L1238.6 190.6L1238.5 190.2L1238.5 189.8L1238.4 189.4L1238.4 189L1238.4 188.6L1238.3 188.2L1238.3 187.8L1238.2 187.4L1238.2 187.1L1238.1 186.7L1238.1 186.4L1238 186.1L1237.9 185.8L1237.8 185.6L1237.7 185.4L1237.5 185.1L1237.4 184.9L1237.2 184.8L1237 184.6L1236.8 184.5L1236.5 184.4L1236.3 184.4L1236 184.3L1235.6 184.3L1235.3 184.3L1234.9 184.4L1234.6 184.4L1234.2 184.5L1233.8 184.6L1233.3 184.8L1232.9 184.9L1232.4 185.1L1231.9 185.4L1231.5 185.6L1231 185.8L1230.5 186.1L1230.1 186.4L1229.6 186.7L1229.2 187.1L1228.8 187.4L1228.4 187.8L1228 188.2L1227.7 188.6L1227.4 189L1227.1 189.4L1226.9 189.8L1226.7 190.2L1226.5 190.6L1226.4 191.1L1226.3 191.5L1226.3 191.8L1226.3 192.2L1226.4 192.5L1226.5 192.9L1226.6 193.2L1226.7 193.6L1226.8 193.9L1227 194.2L1227.2 194.5L1227.4 194.8L1227.6 195.1L1227.8 195.3L1228.1 195.6L1228.4 195.8L1228.7 196.1L1229 196.3L1229.3 196.5L1229.6 196.6L1229.9 196.8L1230.3 196.9L1230.6 197L1231 197.1L1231.4 197.2L1231.7 197.3L1232.1 197.3L1232.5 197.3L1232.9 197.3L1233.3 197.3L1233.6 197.2L1234 197.1L1234.4 197L1234.7 196.9L1235.1 196.8L1235.4 196.6L1235.7 196.5L1236 196.3L1236.3 196.1L1236.6 195.8L1236.9 195.6L1237.2 195.3L1237.4 195.1L1237.6 194.8L1237.8 194.5L1238 194.2L1238.2 193.9L1238.3 193.6L1238.4 193.2L1238.5 192.9L1238.6 192.5L1238.7 192.2L1238.7 191.8Z" fill="none" stroke="#8a8a8a" stroke-width="0.65"/>
<path d="M1236.9 191.5L1236.9 191.2L1236.8 190.9L1236.8 190.7L1236.8 190.4L1236.7 190.1L1236.7 189.8L1236.7 189.6L1236.6 189.3L1236.6 189.1L1236.6 188.8L1236.5 188.6L1236.5 188.4L1236.5 188.2L1236.4 188L1236.3 187.8L1236.3 187.6L1236.2 187.5L1236.1 187.3L1236 187.2L1235.8 187.1L1235.7 187L1235.5 186.9L1235.4 186.9L1235.2 186.8L1235 186.8L1234.7 186.8L1234.5 186.8L1234.2 186.8L1234 186.9L1233.7 186.9L1233.4 187L1233.1 187.1L1232.8 187.2L1232.4 187.3L1232.1 187.5L1231.8 187.6L1231.4 187.8L1231.1 188L1230.8 188.2L1230.5 188.4L1230.2 188.6L1229.9 188.8L1229.6 189.1L1229.3 189.3L1229.1 189.6L1228.9 189.8L1228.7 190.1L1228.5 190.4L1228.4 190.7L1228.2 190.9L1228.1 191.2L1228.1 191.5L1228.1 191.7L1228.1 192L1228.1 192.2L1228.2 192.5L1228.3 192.7L1228.4 193L1228.5 193.2L1228.6 193.4L1228.7 193.6L1228.9 193.8L1229 194L1229.2 194.2L1229.4 194.4L1229.6 194.6L1229.8 194.7L1230 194.9L1230.2 195L1230.4 195.2L1230.7 195.3L1230.9 195.4L1231.2 195.4L1231.4 195.5L1231.7 195.6L1232 195.6L1232.2 195.6L1232.5 195.6L1232.8 195.6L1233 195.6L1233.3 195.6L1233.6 195.5L1233.8 195.4L1234.1 195.4L1234.3 195.3L1234.6 195.2L1234.8 195L1235 194.9L1235.2 194.7L1235.4 194.6L1235.6 194.4L1235.8 194.2L1236 194L1236.1 193.8L1236.3 193.6L1236.4 193.4L1236.5 193.2L1236.6 193L1236.7 192.7L1236.8 192.5L1236.9 192.2L1236.9 192L1236.9 191.7Z" fill="none" stroke="#8a8a8a" stroke-width="0.65"/>
<ellipse cx="1232.5" cy="191.8" rx="17.3" ry="9.6" fill="#6c6c6c" opacity="0.3"/>
<ellipse cx="1232.5" cy="191.8" rx="14.2" ry="7.9" fill="#6c6c6c" opacity="0.3"/>
<ellipse cx="1232.5" cy="191.8" rx="11.1" ry="6.2" fill="#6c6c6c" opacity="0.3"/>
<ellipse cx="1232.5" cy="191.8" rx="8" ry="4.4" fill="#6c6c6c" opacity="0.3"/>
<ellipse cx="1234" cy="191.5" rx="3" ry="1.6" fill="#e8e8e8" opacity="0.9"/>
<path d="M1141.4 121.3V266.3H1286.6V121.3" fill="none" stroke="#6e6e6e" stroke-width="1.2"/>
<rect x="1197.7" y="130.4" width="70.8" height="54.8" fill="none" stroke="#333" stroke-width="1"/>
<text x="1155.3" y="143.2" font-size="16.8">29.8</text>
<path d="M1413.3 202.2h1M1415 199.7h1M1396.6 159.4h1M1413.8 174.2h1M1402.3 165h1M1406.9 201.5h1M1362.5 211.6h1M1373 173.9h1M1356.6 191.3h1M1393.3 211.8h1M1380.5 218.5h1M1373.8 215.9h1M1380.3 168.1h1M1407.4 199.4h1M1383.8 164h1M1409.8 182.2h1M1367 172.9h1M1416.6 197.8h1M1417.1 196.9h1M1369.4 204.3h1M1368.5 211.5h1M1361.8 191.4h1M1369 205h1M1412.6 174.9h1M1406.7 175.1h1M1382.6 161.5h1M1370.2 204.1h1M1380.8 217.7h1M1394.9 213h1M1380.8 210.4h1M1409.5 196.9h1M1404.4 212.3h1M1410.6 178.1h1M1388.3 161.8h1M1370.4 176.6h1M1386.7 160.6h1M1400.4 162.8h1M1417.6 191.4h1M1371.6 207.1h1M1395.3 163.6h1M1409.2 175.7h1M1412.4 196.8h1M1410.3 174.1h1M1410.2 205.1h1M1397.5 164.2h1M1379.8 215h1M1353.7 195.8h1M1414.6 187.5h1M1375.5 214h1M1366.9 214.3h1M1391.3 160.8h1M1393.4 222.2h1M1371.3 214.6h1M1372.5 173.3h1M1398.1 211h1M1404.8 211.7h1M1373.2 173h1M1402.3 163.6h1M1409.4 206.7h1M1360.8 213.1h1M1378.5 166h1M1402.5 176.8h1M1405.4 173.1h1M1396.6 159.9h1M1368.7 209h1M1377.4 171h1M1392.9 217.1h1M1365.7 205.9h1M1405.1 201h1M1365.6 181.4h1M1415.1 199.1h1M1392.2 213h1M1379.5 168.5h1M1375.4 208.9h1M1365.4 213.8h1M1384.7 212.6h1M1387.6 161.4h1M1396.9 212.3h1M1407 183.6h1M1365.6 191.1h1M1367.6 213.6h1M1410.3 202.1h1M1386.4 163.5h1M1367.3 204.7h1M1370.6 206.3h1M1404.3 170.5h1M1392.4 162.1h1M1382.7 162.8h1M1410.4 207.8h1M1396 160.8h1M1388.9 161.5h1M1373.3 170.9h1M1389 163.5h1M1409.3 181.2h1M1374.6 169.8h1M1392.9 211.5h1M1395.8 161.7h1M1403.1 211.7h1M1366.8 211h1M1392.6 162.7h1M1390.1 163.8h1M1406.2 174h1M1372.2 210.1h1M1384.7 213.4h1M1407.2 191.2h1M1406 200.5h1M1357.4 190.8h1M1388.9 161.4h1M1369.3 178h1M1369 181.5h1M1383.2 210.4h1M1411.8 198.5h1M1407.7 209.6h1M1413.1 205.7h1M1404.5 166.5h1M1375.7 216.1h1M1365 183.5h1M1406.9 193.7h1M1389.7 224.2h1M1406.2 176.4h1M1400.4 165.1h1M1370.2 213h1M1369.7 207.1h1M1404.5 180.1h1M1387.8 213.2h1" stroke="#bdbdbd" stroke-width="1" fill="none"/>
<path d="M1372.2 213.6h1M1376.5 172.8h1M1404.1 206.6h1M1398.6 168.1h1M1398 167.6h1M1399.7 163.2h1M1395.1 208h1M1405.8 189h1M1393.1 213.7h1M1376.4 171.6h1M1367.9 205.9h1M1372.5 212.7h1M1366.4 202.1h1M1371.7 212.2h1M1398.9 213.4h1M1387.5 211.4h1M1373.5 172.6h1M1360 198.2h1M1368.9 206.8h1M1359.6 193h1M1390.3 161.4h1M1401.9 176.1h1M1409.9 203.6h1M1374.5 173.9h1M1366 207.2h1M1397.8 165.4h1M1392.6 213.6h1M1382.2 166h1M1407.1 182.4h1M1406.8 209.5h1M1361.4 186.4h1M1378.4 169h1M1406.4 202.5h1M1405.2 201.5h1M1404.5 182.2h1M1407.9 199h1M1368.9 180.6h1M1391.1 163.1h1M1382.9 217.3h1M1377.3 215.7h1M1394.7 164.7h1M1372.5 173.8h1M1403.3 208.4h1M1364.9 183.8h1M1369.9 206.6h1M1406.7 182.6h1M1371.8 175.1h1M1406.1 206.5h1M1390.6 218.2h1M1399.8 208.8h1M1398.4 166.7h1M1365 201.6h1M1394.5 209.6h1M1400.4 168.8h1M1361.4 198.9h1M1404.3 207.6h1M1396.1 208.8h1M1371.3 178.3h1M1381.9 168h1M1407.1 187.3h1M1366.9 199.7h1M1383.9 163.2h1M1404.3 171.9h1M1405 191.4h1M1398.2 208h1M1389.6 215.8h1M1401.3 208.5h1M1381.4 214.8h1M1367.2 202.5h1M1387.4 161.9h1M1370.8 181.6h1M1405.6 180.9h1M1410.8 185.5h1M1402.2 172.4h1M1370.2 206h1M1367.4 211h1M1380.6 169.1h1M1373.3 213.6h1M1386.8 165.2h1M1392 163h1M1364.4 198.3h1M1369.4 182.4h1M1399.4 168.6h1M1368.6 202h1M1406.1 172.9h1M1362.2 187.2h1M1369.7 210.8h1M1402.4 198.3h1M1408.6 197.9h1M1373.1 176.5h1M1408.9 193.5h1M1371.7 172.2h1M1371.2 207.5h1M1367.7 199.4h1M1363.6 198h1M1405.1 176.3h1M1374.5 173.8h1M1376.7 212.5h1M1388.1 212.3h1M1377.1 209.4h1M1381.8 212.8h1M1400 166.6h1M1402.5 172.9h1M1380.9 169.3h1M1388.9 162.7h1M1385.9 165.2h1M1398.2 163.3h1M1367.1 207.2h1M1394.4 209.4h1M1397.1 165.1h1M1399.9 173h1M1393.7 162.4h1M1378.7 165.4h1M1361.8 203.7h1M1363.1 186.6h1M1364.7 203.6h1M1382.7 165.8h1M1401.4 204h1M1361.3 188h1M1389.3 163.8h1M1367.6 207.7h1M1402.3 175.5h1M1364 201.4h1M1400.7 168h1M1360 195h1M1362.7 193.1h1M1403 207.4h1M1371.7 171.5h1M1403.3 203.3h1M1374.8 174.2h1M1398.6 212.4h1M1388.1 212.4h1M1398.6 210.1h1M1369.1 181.8h1M1403.4 212.1h1M1383.8 216.9h1M1379.9 168.2h1M1402.9 171h1M1407.8 185.7h1M1401.4 177.1h1M1360.7 198.5h1M1363.6 180.8h1M1396.3 162.6h1M1399.2 213h1M1411.6 186.5h1M1399.5 208.2h1M1365.6 198.9h1M1408 187.6h1M1395.6 215.1h1M1396 211.6h1M1374.4 209.2h1M1382.9 218.5h1M1374.9 171.3h1M1401.1 212.5h1M1370.3 212.1h1M1389.7 162.1h1M1384.4 165.2h1M1367.6 210.1h1M1397.4 214h1M1408.5 204.2h1M1407.5 201h1M1366.6 183.2h1M1403.2 201.6h1M1397.6 215.1h1M1405.6 197.3h1M1396.9 212h1M1366.9 178.6h1M1403.1 180.1h1M1364.1 183.1h1M1384.7 211.7h1M1382.1 167.8h1M1376.5 211.7h1M1404.5 174.7h1M1386.3 163.6h1M1374.2 174.7h1M1382.5 163.3h1M1393.9 212.4h1M1373.1 172.4h1M1375.9 215.5h1M1393.7 163.7h1M1365.7 181.9h1M1404.2 181.2h1M1399.6 206.6h1M1367.8 207.4h1M1400 169.7h1M1390.7 215.9h1M1404.6 204.3h1M1406.1 196.7h1M1372.6 174.8h1M1366.8 201.4h1M1357.8 195.3h1M1404.3 174.2h1M1366.6 184.3h1M1386.7 214h1M1407.7 199.7h1M1409.4 202.6h1M1408.1 198h1M1362.1 188.3h1M1369.4 183.4h1M1374.1 173h1M1404.6 202.3h1M1379.7 169.7h1M1384.8 213.3h1M1408.8 198.4h1M1395.9 161.8h1" stroke="#3a3a3a" stroke-width="1" fill="none"/>
<path d="M1405 194.8L1404.7 192.9L1404.4 191.1L1404.2 189.2L1403.9 187.4L1403.6 185.6L1403.3 183.8L1403 182.1L1402.7 180.4L1402.4 178.8L1402 177.2L1401.6 175.7L1401.2 174.2L1400.8 172.9L1400.3 171.6L1399.8 170.4L1399.2 169.3L1398.6 168.3L1398 167.4L1397.4 166.5L1396.7 165.8L1395.9 165.2L1395.1 164.7L1394.3 164.3L1393.4 164L1392.5 163.9L1391.5 163.8L1390.5 163.9L1389.4 164L1388.3 164.3L1387.2 164.7L1386 165.2L1384.8 165.8L1383.6 166.5L1382.4 167.4L1381.1 168.3L1379.9 169.3L1378.7 170.4L1377.4 171.6L1376.2 172.9L1375.1 174.2L1373.9 175.7L1372.9 177.2L1371.8 178.8L1370.9 180.4L1370 182.1L1369.2 183.8L1368.4 185.6L1367.8 187.4L1367.2 189.2L1366.7 191.1L1366.3 192.9L1366 194.8L1366 195.8L1366.1 196.8L1366.3 197.8L1366.6 198.7L1366.9 199.7L1367.3 200.7L1367.7 201.6L1368.2 202.5L1368.8 203.3L1369.5 204.2L1370.1 205L1370.9 205.7L1371.7 206.5L1372.6 207.2L1373.5 207.8L1374.4 208.4L1375.4 208.9L1376.4 209.4L1377.5 209.8L1378.6 210.2L1379.7 210.6L1380.8 210.8L1382 211L1383.1 211.2L1384.3 211.3L1385.5 211.3L1386.7 211.3L1387.9 211.2L1389 211L1390.2 210.8L1391.3 210.6L1392.4 210.2L1393.5 209.8L1394.6 209.4L1395.6 208.9L1396.6 208.4L1397.5 207.8L1398.4 207.2L1399.3 206.5L1400.1 205.7L1400.9 205L1401.5 204.2L1402.2 203.3L1402.8 202.5L1403.3 201.6L1403.7 200.7L1404.1 199.7L1404.4 198.7L1404.7 197.8L1404.9 196.8L1405 195.8Z" fill="#fff" stroke="#8a8a8a" stroke-width="0.65"/>
<path d="M1403.1 194.8L1402.9 193.1L1402.6 191.5L1402.4 189.9L1402.1 188.3L1401.9 186.7L1401.6 185.1L1401.4 183.6L1401.1 182.1L1400.8 180.7L1400.4 179.3L1400.1 177.9L1399.7 176.7L1399.3 175.5L1398.9 174.3L1398.4 173.3L1397.9 172.3L1397.4 171.4L1396.8 170.6L1396.2 169.9L1395.6 169.2L1394.9 168.7L1394.2 168.3L1393.4 167.9L1392.6 167.7L1391.8 167.5L1390.9 167.5L1390 167.5L1389.1 167.7L1388.1 167.9L1387 168.3L1386 168.7L1384.9 169.2L1383.8 169.9L1382.7 170.6L1381.6 171.4L1380.4 172.3L1379.3 173.3L1378.2 174.3L1377.1 175.5L1376.1 176.7L1375 177.9L1374.1 179.3L1373.1 180.7L1372.3 182.1L1371.5 183.6L1370.7 185.1L1370.1 186.7L1369.5 188.3L1369 189.9L1368.5 191.5L1368.2 193.1L1367.9 194.8L1367.9 195.7L1368 196.6L1368.2 197.5L1368.4 198.4L1368.7 199.2L1369 200.1L1369.4 200.9L1369.9 201.7L1370.4 202.5L1371 203.3L1371.6 204L1372.3 204.7L1373 205.4L1373.8 206L1374.6 206.5L1375.5 207.1L1376.4 207.6L1377.3 208L1378.3 208.4L1379.2 208.8L1380.3 209L1381.3 209.3L1382.3 209.5L1383.4 209.6L1384.4 209.7L1385.5 209.7L1386.6 209.7L1387.6 209.6L1388.7 209.5L1389.7 209.3L1390.7 209L1391.8 208.8L1392.7 208.4L1393.7 208L1394.6 207.6L1395.5 207.1L1396.4 206.5L1397.2 206L1398 205.4L1398.7 204.7L1399.4 204L1400 203.3L1400.6 202.5L1401.1 201.7L1401.6 200.9L1402 200.1L1402.3 199.2L1402.6 198.4L1402.8 197.5L1403 196.6L1403.1 195.7Z" fill="none" stroke="#8a8a8a" stroke-width="0.65"/>
<path d="M1401.3 194.8L1401 193.4L1400.8 191.9L1400.6 190.5L1400.4 189.1L1400.2 187.7L1399.9 186.4L1399.7 185L1399.4 183.7L1399.2 182.5L1398.9 181.3L1398.5 180.1L1398.2 179L1397.8 178L1397.5 177L1397 176.1L1396.6 175.2L1396.1 174.4L1395.6 173.7L1395.1 173.1L1394.5 172.6L1393.9 172.1L1393.3 171.7L1392.6 171.4L1391.9 171.2L1391.1 171.1L1390.4 171L1389.5 171.1L1388.7 171.2L1387.8 171.4L1386.9 171.7L1385.9 172.1L1385 172.6L1384 173.1L1383 173.7L1382 174.4L1381 175.2L1380 176.1L1379 177L1378 178L1377.1 179L1376.1 180.1L1375.3 181.3L1374.4 182.5L1373.7 183.7L1372.9 185L1372.3 186.4L1371.7 187.7L1371.2 189.1L1370.7 190.5L1370.3 191.9L1370 193.4L1369.7 194.8L1369.8 195.6L1369.8 196.4L1370 197.2L1370.2 198L1370.4 198.8L1370.8 199.5L1371.1 200.3L1371.5 201L1372 201.7L1372.5 202.4L1373.1 203L1373.7 203.7L1374.3 204.2L1375 204.8L1375.8 205.3L1376.5 205.8L1377.3 206.2L1378.2 206.6L1379 207L1379.9 207.3L1380.8 207.5L1381.7 207.8L1382.7 207.9L1383.6 208L1384.5 208.1L1385.5 208.1L1386.5 208.1L1387.4 208L1388.3 207.9L1389.3 207.8L1390.2 207.5L1391.1 207.3L1392 207L1392.8 206.6L1393.7 206.2L1394.5 205.8L1395.2 205.3L1396 204.8L1396.7 204.2L1397.3 203.7L1397.9 203L1398.5 202.4L1399 201.7L1399.5 201L1399.9 200.3L1400.2 199.5L1400.6 198.8L1400.8 198L1401 197.2L1401.2 196.4L1401.2 195.6Z" fill="none" stroke="#8a8a8a" stroke-width="0.65"/>
<path d="M1399.4 194.8L1399.2 193.6L1399 192.4L1398.8 191.1L1398.6 189.9L1398.4 188.8L1398.2 187.6L1398 186.5L1397.8 185.4L1397.5 184.3L1397.3 183.3L1397 182.3L1396.7 181.3L1396.4 180.4L1396 179.6L1395.7 178.8L1395.3 178.1L1394.9 177.4L1394.4 176.8L1394 176.3L1393.5 175.8L1392.9 175.4L1392.4 175.1L1391.8 174.8L1391.1 174.6L1390.5 174.5L1389.8 174.5L1389.1 174.5L1388.3 174.6L1387.5 174.8L1386.7 175.1L1385.9 175.4L1385 175.8L1384.2 176.3L1383.3 176.8L1382.4 177.4L1381.5 178.1L1380.6 178.8L1379.7 179.6L1378.9 180.4L1378.1 181.3L1377.2 182.3L1376.5 183.3L1375.7 184.3L1375.1 185.4L1374.4 186.5L1373.8 187.6L1373.3 188.8L1372.9 189.9L1372.5 191.1L1372.1 192.4L1371.8 193.6L1371.6 194.8L1371.6 195.5L1371.7 196.2L1371.8 196.9L1372 197.6L1372.2 198.3L1372.5 199L1372.8 199.6L1373.2 200.3L1373.6 200.9L1374.1 201.5L1374.6 202.1L1375.1 202.6L1375.7 203.1L1376.3 203.6L1376.9 204.1L1377.6 204.5L1378.3 204.9L1379 205.2L1379.8 205.5L1380.6 205.8L1381.4 206L1382.2 206.2L1383 206.4L1383.8 206.5L1384.7 206.5L1385.5 206.6L1386.3 206.5L1387.2 206.5L1388 206.4L1388.8 206.2L1389.6 206L1390.4 205.8L1391.2 205.5L1392 205.2L1392.7 204.9L1393.4 204.5L1394.1 204.1L1394.7 203.6L1395.3 203.1L1395.9 202.6L1396.4 202.1L1396.9 201.5L1397.4 200.9L1397.8 200.3L1398.2 199.6L1398.5 199L1398.8 198.3L1399 197.6L1399.2 196.9L1399.3 196.2L1399.4 195.5Z" fill="none" stroke="#8a8a8a" stroke-width="0.65"/>
<path d="M1397.5 194.8L1397.4 193.8L1397.2 192.8L1397 191.7L1396.9 190.7L1396.7 189.7L1396.5 188.8L1396.3 187.8L1396.1 186.9L1395.9 186L1395.7 185.2L1395.5 184.3L1395.2 183.5L1394.9 182.8L1394.6 182.1L1394.3 181.4L1394 180.8L1393.6 180.3L1393.2 179.8L1392.8 179.3L1392.4 178.9L1391.9 178.6L1391.4 178.3L1390.9 178.1L1390.4 177.9L1389.8 177.9L1389.2 177.8L1388.6 177.9L1387.9 177.9L1387.2 178.1L1386.5 178.3L1385.8 178.6L1385.1 178.9L1384.3 179.3L1383.6 179.8L1382.8 180.3L1382 180.8L1381.3 181.4L1380.5 182.1L1379.8 182.8L1379.1 183.5L1378.4 184.3L1377.7 185.2L1377.1 186L1376.5 186.9L1375.9 187.8L1375.4 188.8L1375 189.7L1374.6 190.7L1374.2 191.7L1373.9 192.8L1373.7 193.8L1373.5 194.8L1373.5 195.4L1373.5 196L1373.7 196.6L1373.8 197.2L1374 197.8L1374.2 198.4L1374.5 199L1374.8 199.5L1375.2 200.1L1375.6 200.6L1376 201.1L1376.5 201.6L1377 202L1377.5 202.4L1378.1 202.8L1378.7 203.2L1379.3 203.5L1379.9 203.8L1380.6 204.1L1381.2 204.3L1381.9 204.5L1382.6 204.7L1383.3 204.8L1384 204.9L1384.8 205L1385.5 205L1386.2 205L1387 204.9L1387.7 204.8L1388.4 204.7L1389.1 204.5L1389.8 204.3L1390.4 204.1L1391.1 203.8L1391.7 203.5L1392.3 203.2L1392.9 202.8L1393.5 202.4L1394 202L1394.5 201.6L1395 201.1L1395.4 200.6L1395.8 200.1L1396.2 199.5L1396.5 199L1396.8 198.4L1397 197.8L1397.2 197.2L1397.3 196.6L1397.5 196L1397.5 195.4Z" fill="none" stroke="#8a8a8a" stroke-width="0.65"/>
<path d="M1395.7 194.8L1395.5 194L1395.4 193.1L1395.3 192.3L1395.1 191.5L1395 190.7L1394.8 189.9L1394.7 189.2L1394.5 188.4L1394.3 187.7L1394.1 187L1393.9 186.3L1393.7 185.7L1393.5 185.1L1393.2 184.5L1393 184L1392.7 183.5L1392.4 183L1392 182.6L1391.7 182.3L1391.3 181.9L1390.9 181.7L1390.5 181.4L1390.1 181.3L1389.6 181.1L1389.1 181.1L1388.6 181L1388.1 181.1L1387.6 181.1L1387 181.3L1386.4 181.4L1385.8 181.7L1385.2 181.9L1384.5 182.3L1383.9 182.6L1383.2 183L1382.6 183.5L1381.9 184L1381.3 184.5L1380.7 185.1L1380.1 185.7L1379.5 186.3L1378.9 187L1378.4 187.7L1377.9 188.4L1377.4 189.2L1377 189.9L1376.6 190.7L1376.2 191.5L1376 192.3L1375.7 193.1L1375.5 194L1375.3 194.8L1375.3 195.3L1375.4 195.8L1375.5 196.4L1375.6 196.9L1375.8 197.4L1376 197.9L1376.2 198.3L1376.5 198.8L1376.8 199.3L1377.1 199.7L1377.5 200.1L1377.9 200.5L1378.3 200.9L1378.7 201.2L1379.2 201.6L1379.7 201.9L1380.2 202.2L1380.8 202.4L1381.3 202.7L1381.9 202.9L1382.5 203L1383.1 203.2L1383.7 203.3L1384.3 203.4L1384.9 203.4L1385.5 203.4L1386.1 203.4L1386.7 203.4L1387.3 203.3L1387.9 203.2L1388.5 203L1389.1 202.9L1389.7 202.7L1390.2 202.4L1390.8 202.2L1391.3 201.9L1391.8 201.6L1392.3 201.2L1392.7 200.9L1393.1 200.5L1393.5 200.1L1393.9 199.7L1394.2 199.3L1394.5 198.8L1394.8 198.3L1395 197.9L1395.2 197.4L1395.4 196.9L1395.5 196.4L1395.6 195.8L1395.7 195.3Z" fill="none" stroke="#8a8a8a" stroke-width="0.65"/>
<path d="M1393.8 194.8L1393.7 194.2L1393.6 193.5L1393.5 192.9L1393.4 192.2L1393.2 191.6L1393.1 191L1393 190.4L1392.9 189.8L1392.7 189.3L1392.5 188.7L1392.4 188.2L1392.2 187.7L1392 187.2L1391.8 186.8L1391.6 186.4L1391.4 186L1391.1 185.7L1390.8 185.3L1390.6 185.1L1390.3 184.8L1389.9 184.6L1389.6 184.4L1389.2 184.3L1388.9 184.2L1388.5 184.1L1388.1 184.1L1387.6 184.1L1387.2 184.2L1386.7 184.3L1386.2 184.4L1385.7 184.6L1385.2 184.8L1384.7 185.1L1384.2 185.3L1383.6 185.7L1383.1 186L1382.6 186.4L1382.1 186.8L1381.5 187.2L1381 187.7L1380.6 188.2L1380.1 188.7L1379.7 189.3L1379.3 189.8L1378.9 190.4L1378.5 191L1378.2 191.6L1377.9 192.2L1377.7 192.9L1377.5 193.5L1377.3 194.2L1377.2 194.8L1377.2 195.2L1377.2 195.6L1377.3 196.1L1377.4 196.5L1377.6 196.9L1377.7 197.3L1377.9 197.7L1378.1 198.1L1378.4 198.4L1378.7 198.8L1379 199.1L1379.3 199.5L1379.6 199.8L1380 200.1L1380.4 200.3L1380.8 200.6L1381.2 200.8L1381.6 201L1382.1 201.2L1382.5 201.4L1383 201.5L1383.5 201.6L1384 201.7L1384.5 201.8L1385 201.8L1385.5 201.8L1386 201.8L1386.5 201.8L1387 201.7L1387.5 201.6L1388 201.5L1388.5 201.4L1388.9 201.2L1389.4 201L1389.8 200.8L1390.2 200.6L1390.6 200.3L1391 200.1L1391.4 199.8L1391.7 199.5L1392 199.1L1392.3 198.8L1392.6 198.4L1392.9 198.1L1393.1 197.7L1393.3 197.3L1393.4 196.9L1393.6 196.5L1393.7 196.1L1393.8 195.6L1393.8 195.2Z" fill="none" stroke="#8a8a8a" stroke-width="0.65"/>
<path d="M1392 194.8L1391.9 194.3L1391.8 193.9L1391.7 193.4L1391.6 192.9L1391.5 192.5L1391.4 192L1391.3 191.6L1391.2 191.2L1391.1 190.8L1391 190.4L1390.8 190L1390.7 189.6L1390.6 189.3L1390.4 189L1390.2 188.7L1390 188.4L1389.9 188.1L1389.6 187.9L1389.4 187.7L1389.2 187.5L1388.9 187.4L1388.7 187.2L1388.4 187.1L1388.1 187.1L1387.8 187L1387.5 187L1387.2 187L1386.8 187.1L1386.4 187.1L1386.1 187.2L1385.7 187.4L1385.3 187.5L1384.9 187.7L1384.5 187.9L1384.1 188.1L1383.6 188.4L1383.2 188.7L1382.8 189L1382.4 189.3L1382 189.6L1381.7 190L1381.3 190.4L1381 190.8L1380.7 191.2L1380.4 191.6L1380.1 192L1379.8 192.5L1379.6 192.9L1379.4 193.4L1379.3 193.9L1379.2 194.3L1379 194.8L1379.1 195.1L1379.1 195.5L1379.1 195.8L1379.2 196.1L1379.3 196.4L1379.5 196.7L1379.6 197L1379.8 197.3L1380 197.6L1380.2 197.9L1380.4 198.2L1380.7 198.4L1380.9 198.7L1381.2 198.9L1381.5 199.1L1381.8 199.3L1382.2 199.5L1382.5 199.6L1382.9 199.8L1383.2 199.9L1383.6 200L1384 200.1L1384.3 200.2L1384.7 200.2L1385.1 200.3L1385.5 200.3L1385.9 200.3L1386.3 200.2L1386.7 200.2L1387 200.1L1387.4 200L1387.8 199.9L1388.1 199.8L1388.5 199.6L1388.8 199.5L1389.2 199.3L1389.5 199.1L1389.8 198.9L1390.1 198.7L1390.3 198.4L1390.6 198.2L1390.8 197.9L1391 197.6L1391.2 197.3L1391.4 197L1391.5 196.7L1391.7 196.4L1391.8 196.1L1391.9 195.8L1391.9 195.5L1391.9 195.1Z" fill="none" stroke="#8a8a8a" stroke-width="0.65"/>
<path d="M1390.1 194.8L1390 194.5L1390 194.2L1389.9 193.9L1389.8 193.6L1389.8 193.3L1389.7 193L1389.6 192.7L1389.6 192.4L1389.5 192.2L1389.4 191.9L1389.3 191.7L1389.2 191.4L1389.1 191.2L1389 191L1388.9 190.8L1388.7 190.6L1388.6 190.4L1388.4 190.3L1388.3 190.2L1388.1 190L1388 189.9L1387.8 189.9L1387.6 189.8L1387.4 189.7L1387.1 189.7L1386.9 189.7L1386.7 189.7L1386.4 189.7L1386.2 189.8L1385.9 189.9L1385.6 189.9L1385.3 190L1385.1 190.2L1384.8 190.3L1384.5 190.4L1384.2 190.6L1383.9 190.8L1383.6 191L1383.3 191.2L1383 191.4L1382.8 191.7L1382.5 191.9L1382.3 192.2L1382.1 192.4L1381.8 192.7L1381.7 193L1381.5 193.3L1381.3 193.6L1381.2 193.9L1381.1 194.2L1381 194.5L1380.9 194.8L1380.9 195L1380.9 195.3L1381 195.5L1381 195.7L1381.1 196L1381.2 196.2L1381.3 196.4L1381.4 196.6L1381.6 196.8L1381.7 197L1381.9 197.2L1382.1 197.4L1382.3 197.5L1382.5 197.7L1382.7 197.9L1382.9 198L1383.1 198.1L1383.4 198.2L1383.6 198.3L1383.9 198.4L1384.1 198.5L1384.4 198.6L1384.7 198.6L1384.9 198.7L1385.2 198.7L1385.5 198.7L1385.8 198.7L1386.1 198.7L1386.3 198.6L1386.6 198.6L1386.9 198.5L1387.1 198.4L1387.4 198.3L1387.6 198.2L1387.9 198.1L1388.1 198L1388.3 197.9L1388.5 197.7L1388.7 197.5L1388.9 197.4L1389.1 197.2L1389.3 197L1389.4 196.8L1389.6 196.6L1389.7 196.4L1389.8 196.2L1389.9 196L1390 195.7L1390 195.5L1390.1 195.3L1390.1 195Z" fill="none" stroke="#8a8a8a" stroke-width="0.65"/>
<ellipse cx="1385.5" cy="195.1" rx="17.9" ry="9.1" fill="#6c6c6c" opacity="0.3"/>
<ellipse cx="1385.5" cy="195.1" rx="14.7" ry="7.4" fill="#6c6c6c" opacity="0.3"/>
<ellipse cx="1385.5" cy="195.1" rx="11.5" ry="5.8" fill="#6c6c6c" opacity="0.3"/>
<ellipse cx="1385.5" cy="195.1" rx="8.3" ry="4.2" fill="#6c6c6c" opacity="0.3"/>
<ellipse cx="1387" cy="194.8" rx="3.1" ry="1.5" fill="#e8e8e8" opacity="0.9"/>
<path d="M1294.2 121.3V266.3H1439.4V121.3" fill="none" stroke="#6e6e6e" stroke-width="1.2"/>
<rect x="1350.5" y="130.4" width="70.8" height="54.8" fill="none" stroke="#333" stroke-width="1"/>
<text x="1308.1" y="143.2" font-size="16.8">23.2</text>
<path d="M1530.9 183.7h1M1541.3 223.2h1M1563.3 210.1h1M1565.2 221.2h1M1545.9 164.9h1M1557.4 218.8h1M1559.3 215.8h1M1541.5 229.2h1M1563 196.4h1M1537.3 167.8h1M1532.5 182.2h1M1549.6 225.2h1M1558.9 187.7h1M1531 215.9h1M1534.2 182.4h1M1559 224h1M1563.8 206.1h1M1540.5 223.1h1M1562.8 222.5h1M1544.2 223.7h1M1545.7 159.9h1M1533.6 223.5h1M1526 213.5h1M1550.9 224h1M1550.7 164.3h1M1530.9 192.6h1M1537.8 221h1M1567.3 215h1M1535.6 175.1h1M1558.9 169.3h1M1541.1 229.7h1M1552.3 165.4h1M1528.6 216.5h1M1530.8 190.7h1M1533.5 217.4h1M1537 229.7h1M1543.5 165.4h1M1525.5 212h1M1537.4 173.5h1M1561.9 212.7h1M1566.1 198.7h1M1558.9 219.5h1M1545.7 159.8h1M1563.2 187.4h1M1560.8 189.1h1M1560.6 222.3h1M1564.8 211.3h1M1549.9 229.8h1M1528.5 222.2h1M1530.8 210.2h1M1527.2 209.9h1M1551.6 163.3h1M1546.4 226.2h1M1533 214.3h1M1563.9 192.5h1M1560.9 177.4h1M1529 215.2h1M1537.2 168.2h1M1545.6 224.2h1M1553.7 224.5h1M1558.1 197.4h1M1559.7 223.2h1M1528.5 225.8h1M1544 233.2h1M1544 230.1h1M1529.3 227.5h1M1537.7 235h1M1532.8 219.5h1M1547.5 238.9h1" stroke="#bdbdbd" stroke-width="1" fill="none"/>
<path d="M1554.4 222.8h1M1553.7 168.4h1M1531.9 214.2h1M1545.4 165.3h1M1535.7 181.5h1M1558.9 186.4h1M1561.2 196h1M1534.1 194.1h1M1533.9 181.6h1M1549.4 228.1h1M1533.4 198.3h1M1559.1 181.8h1M1535.2 180.8h1M1532.3 214.2h1M1546.4 224.9h1M1539.5 168.4h1M1546.8 226h1M1531.4 216.3h1M1542 224h1M1536.4 222.4h1M1554.4 166.7h1M1530.6 210.9h1M1561.2 210.8h1M1530.7 217.7h1M1561.1 208.4h1M1534.9 185.4h1M1561.4 209.6h1M1528.8 213.7h1M1561.5 213.3h1M1558.5 221.1h1M1542.6 227.6h1M1561.8 215.5h1M1565.1 212.5h1M1531.1 203.7h1M1552.6 220.7h1M1545.5 164h1M1547.3 164.2h1M1559.9 220.3h1M1558.1 170.4h1M1556 169.7h1M1536.2 220.7h1M1535.1 175.5h1M1532.9 196.9h1M1550.1 162.4h1M1563 210.7h1M1549.1 160.9h1M1549.1 224.8h1M1536.8 174.6h1M1561.1 212.9h1M1559.8 191.2h1M1542.2 224.7h1M1535.1 177.8h1M1545.2 164.3h1M1544.3 223.7h1M1559.6 217.7h1M1562.4 213.1h1M1531 208.7h1M1552.9 225.1h1M1539.8 168.9h1M1554 166.8h1M1558.8 193.3h1M1553.9 221.7h1M1543.2 165.3h1M1552.9 164.3h1M1531 214.9h1M1560.2 213.7h1M1556.8 221.7h1M1560.4 211.4h1M1533.5 222.9h1M1545.3 164.6h1M1551.7 221.8h1M1533.1 187h1M1532.1 184.5h1M1534.6 177.9h1M1538.9 222.6h1M1561.2 181.5h1M1555 164.5h1M1530.5 222.1h1M1553.7 163.9h1M1551.9 223.4h1M1533.8 220.6h1M1542.2 166.4h1M1531.1 194.4h1M1535.9 219.6h1M1564.3 204.2h1M1539.7 223.6h1M1540.5 168.3h1M1556.9 215.5h1M1545.3 163.2h1M1565.8 209.8h1M1559.9 222.5h1M1558 171h1M1553.9 222.5h1M1531.3 200.8h1M1531.3 217.5h1M1557.6 176.9h1M1538.6 224.7h1M1530.1 203.5h1M1541.6 167h1M1559.1 187.1h1M1559.3 222.2h1M1558.4 220.9h1M1561.5 217.4h1M1534.4 186.7h1M1555.4 222.4h1M1541.2 223.2h1M1562 213.5h1M1560.2 216.9h1M1544.3 225.3h1M1533.3 226.9h1M1541.5 228.6h1M1541.4 230.6h1M1538.5 224.4h1M1544.6 230.7h1M1544.1 233.8h1M1533.8 232.6h1M1544.5 230.5h1M1538.5 236.3h1M1537.5 238.7h1M1528.4 243.1h1M1533.7 238.2h1M1537.9 242h1M1526 239.7h1M1535.6 228.9h1M1540.3 234.7h1M1539.5 219.8h1M1538.5 227.4h1M1540.2 227h1M1546.1 233.6h1M1542.7 232.6h1M1541.7 223.4h1M1531.8 229.9h1M1534 229.6h1M1544.5 239.1h1M1536.9 232.8h1M1538.7 225.6h1M1531.2 243h1M1541.9 235.2h1M1548.9 220.5h1M1534.3 231.1h1M1533.6 240.1h1M1539.4 237.3h1M1529.4 230.6h1M1543.7 244.6h1M1539.6 234.6h1M1536.8 231.7h1M1540.1 231.5h1M1539.9 240.8h1M1540.9 227.1h1M1529.7 234.9h1M1541.4 232.2h1M1539.7 229.8h1M1543.1 229.4h1M1544.7 226.9h1M1538.5 222.9h1M1540 228.7h1M1547.8 215.8h1M1527.9 234.7h1M1542.3 237.6h1M1535.2 220.1h1M1544.5 232.3h1" stroke="#3a3a3a" stroke-width="1" fill="none"/>
<path d="M1560.5 209L1560.2 206.3L1559.9 203.6L1559.6 201L1559.4 198.4L1559.2 195.8L1559 193.2L1558.7 190.7L1558.6 188.3L1558.4 186L1558.1 183.7L1557.9 181.6L1557.7 179.5L1557.4 177.5L1557 175.7L1556.6 174L1556.2 172.4L1555.6 170.9L1555.1 169.6L1554.4 168.4L1553.7 167.4L1553 166.5L1552.2 165.8L1551.3 165.2L1550.4 164.8L1549.5 164.6L1548.5 164.5L1547.5 164.6L1546.5 164.8L1545.5 165.2L1544.6 165.8L1543.6 166.5L1542.6 167.4L1541.7 168.4L1540.9 169.6L1540 170.9L1539.2 172.4L1538.5 174L1537.8 175.7L1537.1 177.5L1536.5 179.5L1536 181.6L1535.5 183.7L1535 186L1534.5 188.3L1534.1 190.7L1533.7 193.2L1533.3 195.8L1532.9 198.4L1532.5 201L1532.2 203.6L1531.8 206.3L1531.5 209L1531.5 209.9L1531.6 210.7L1531.7 211.6L1531.9 212.5L1532.2 213.3L1532.4 214.1L1532.8 215L1533.2 215.7L1533.6 216.5L1534.1 217.2L1534.6 217.9L1535.1 218.6L1535.7 219.3L1536.4 219.9L1537.1 220.4L1537.8 220.9L1538.5 221.4L1539.3 221.8L1540 222.2L1540.9 222.6L1541.7 222.8L1542.5 223.1L1543.4 223.3L1544.3 223.4L1545.1 223.5L1546 223.5L1546.9 223.5L1547.7 223.4L1548.6 223.3L1549.5 223.1L1550.3 222.8L1551.1 222.6L1552 222.2L1552.7 221.8L1553.5 221.4L1554.2 220.9L1554.9 220.4L1555.6 219.9L1556.3 219.3L1556.9 218.6L1557.4 217.9L1557.9 217.2L1558.4 216.5L1558.8 215.7L1559.2 215L1559.6 214.1L1559.8 213.3L1560.1 212.5L1560.3 211.6L1560.4 210.7L1560.5 209.9Z" fill="#fff" stroke="#8a8a8a" stroke-width="0.65"/>
<path d="M1559.1 209L1558.8 206.6L1558.6 204.3L1558.3 201.9L1558.1 199.6L1557.9 197.3L1557.7 195.1L1557.5 192.9L1557.4 190.8L1557.2 188.7L1557 186.7L1556.8 184.8L1556.5 183L1556.3 181.2L1556 179.6L1555.6 178.1L1555.2 176.7L1554.7 175.4L1554.2 174.2L1553.6 173.2L1553 172.3L1552.3 171.5L1551.6 170.9L1550.8 170.4L1550 170L1549.1 169.8L1548.3 169.8L1547.4 169.8L1546.5 170L1545.6 170.4L1544.7 170.9L1543.8 171.5L1543 172.3L1542.1 173.2L1541.3 174.2L1540.6 175.4L1539.9 176.7L1539.2 178.1L1538.6 179.6L1538 181.2L1537.4 183L1536.9 184.8L1536.5 186.7L1536 188.7L1535.6 190.8L1535.2 192.9L1534.9 195.1L1534.5 197.3L1534.1 199.6L1533.8 201.9L1533.5 204.3L1533.2 206.6L1532.9 209L1532.9 209.8L1533 210.6L1533.1 211.4L1533.3 212.1L1533.5 212.9L1533.7 213.7L1534 214.4L1534.4 215.1L1534.8 215.8L1535.2 216.4L1535.7 217.1L1536.2 217.7L1536.7 218.3L1537.3 218.8L1537.9 219.3L1538.6 219.8L1539.2 220.2L1539.9 220.6L1540.6 221L1541.3 221.3L1542.1 221.5L1542.9 221.7L1543.6 221.9L1544.4 222L1545.2 222.1L1546 222.1L1546.8 222.1L1547.6 222L1548.4 221.9L1549.1 221.7L1549.9 221.5L1550.7 221.3L1551.4 221L1552.1 220.6L1552.8 220.2L1553.4 219.8L1554.1 219.3L1554.7 218.8L1555.3 218.3L1555.8 217.7L1556.3 217.1L1556.8 216.4L1557.2 215.8L1557.6 215.1L1558 214.4L1558.3 213.7L1558.5 212.9L1558.7 212.1L1558.9 211.4L1559 210.6L1559.1 209.8Z" fill="none" stroke="#8a8a8a" stroke-width="0.65"/>
<path d="M1557.7 209L1557.5 206.9L1557.2 204.9L1557 202.8L1556.8 200.8L1556.6 198.8L1556.5 196.9L1556.3 195L1556.2 193.1L1556 191.3L1555.8 189.6L1555.6 187.9L1555.4 186.4L1555.2 184.9L1554.9 183.4L1554.6 182.1L1554.2 180.9L1553.8 179.8L1553.3 178.8L1552.8 177.9L1552.2 177.1L1551.6 176.4L1551 175.9L1550.3 175.4L1549.6 175.1L1548.8 174.9L1548 174.9L1547.2 174.9L1546.4 175.1L1545.6 175.4L1544.8 175.9L1544.1 176.4L1543.3 177.1L1542.5 177.9L1541.8 178.8L1541.2 179.8L1540.5 180.9L1539.9 182.1L1539.4 183.4L1538.8 184.9L1538.3 186.4L1537.9 187.9L1537.5 189.6L1537.1 191.3L1536.7 193.1L1536.4 195L1536 196.9L1535.7 198.8L1535.4 200.8L1535.1 202.8L1534.8 204.9L1534.5 206.9L1534.3 209L1534.3 209.7L1534.4 210.4L1534.5 211.1L1534.6 211.8L1534.8 212.5L1535 213.2L1535.3 213.8L1535.6 214.5L1536 215.1L1536.3 215.7L1536.8 216.2L1537.2 216.8L1537.7 217.3L1538.2 217.8L1538.8 218.2L1539.3 218.7L1539.9 219L1540.5 219.4L1541.2 219.7L1541.8 220L1542.5 220.2L1543.2 220.4L1543.9 220.5L1544.6 220.6L1545.3 220.7L1546 220.7L1546.7 220.7L1547.4 220.6L1548.1 220.5L1548.8 220.4L1549.5 220.2L1550.2 220L1550.8 219.7L1551.5 219.4L1552.1 219L1552.7 218.7L1553.2 218.2L1553.8 217.8L1554.3 217.3L1554.8 216.8L1555.2 216.2L1555.7 215.7L1556 215.1L1556.4 214.5L1556.7 213.8L1557 213.2L1557.2 212.5L1557.4 211.8L1557.5 211.1L1557.6 210.4L1557.7 209.7Z" fill="none" stroke="#8a8a8a" stroke-width="0.65"/>
<path d="M1556.3 209L1556.1 207.2L1555.9 205.5L1555.7 203.7L1555.6 202L1555.4 200.3L1555.2 198.7L1555.1 197L1555 195.4L1554.8 193.9L1554.7 192.4L1554.5 191L1554.3 189.7L1554.1 188.4L1553.9 187.2L1553.6 186L1553.3 185L1552.9 184L1552.5 183.2L1552 182.4L1551.5 181.7L1551 181.1L1550.4 180.7L1549.8 180.3L1549.1 180L1548.5 179.9L1547.8 179.8L1547.1 179.9L1546.4 180L1545.7 180.3L1545 180.7L1544.3 181.1L1543.6 181.7L1543 182.4L1542.3 183.2L1541.7 184L1541.2 185L1540.6 186L1540.1 187.2L1539.7 188.4L1539.3 189.7L1538.9 191L1538.5 192.4L1538.1 193.9L1537.8 195.4L1537.5 197L1537.2 198.7L1536.9 200.3L1536.7 202L1536.4 203.7L1536.1 205.5L1535.9 207.2L1535.7 209L1535.7 209.6L1535.7 210.2L1535.8 210.9L1536 211.5L1536.1 212.1L1536.3 212.7L1536.6 213.2L1536.8 213.8L1537.1 214.4L1537.5 214.9L1537.9 215.4L1538.3 215.9L1538.7 216.3L1539.1 216.7L1539.6 217.1L1540.1 217.5L1540.6 217.9L1541.2 218.2L1541.8 218.4L1542.3 218.7L1542.9 218.9L1543.5 219L1544.1 219.2L1544.8 219.3L1545.4 219.3L1546 219.3L1546.6 219.3L1547.2 219.3L1547.9 219.2L1548.5 219L1549.1 218.9L1549.7 218.7L1550.2 218.4L1550.8 218.2L1551.4 217.9L1551.9 217.5L1552.4 217.1L1552.9 216.7L1553.3 216.3L1553.7 215.9L1554.1 215.4L1554.5 214.9L1554.9 214.4L1555.2 213.8L1555.4 213.2L1555.7 212.7L1555.9 212.1L1556 211.5L1556.2 210.9L1556.3 210.2L1556.3 209.6Z" fill="none" stroke="#8a8a8a" stroke-width="0.65"/>
<path d="M1555 209L1554.8 207.5L1554.6 206.1L1554.4 204.6L1554.3 203.2L1554.1 201.7L1554 200.4L1553.9 199L1553.8 197.7L1553.6 196.4L1553.5 195.2L1553.4 194L1553.2 192.8L1553 191.8L1552.8 190.8L1552.6 189.8L1552.3 188.9L1552 188.1L1551.6 187.4L1551.2 186.8L1550.8 186.2L1550.3 185.7L1549.8 185.3L1549.3 185L1548.7 184.8L1548.1 184.7L1547.5 184.6L1546.9 184.7L1546.3 184.8L1545.7 185L1545.1 185.3L1544.5 185.7L1543.9 186.2L1543.4 186.8L1542.8 187.4L1542.3 188.1L1541.8 188.9L1541.4 189.8L1540.9 190.8L1540.5 191.8L1540.2 192.8L1539.8 194L1539.5 195.2L1539.2 196.4L1538.9 197.7L1538.6 199L1538.4 200.4L1538.1 201.7L1537.9 203.2L1537.7 204.6L1537.5 206.1L1537.2 207.5L1537 209L1537.1 209.5L1537.1 210.1L1537.2 210.6L1537.3 211.1L1537.4 211.7L1537.6 212.2L1537.8 212.7L1538.1 213.2L1538.3 213.6L1538.6 214.1L1538.9 214.5L1539.3 214.9L1539.7 215.3L1540.1 215.7L1540.5 216.1L1540.9 216.4L1541.4 216.7L1541.8 216.9L1542.3 217.2L1542.8 217.4L1543.3 217.6L1543.9 217.7L1544.4 217.8L1544.9 217.9L1545.5 217.9L1546 218L1546.5 217.9L1547.1 217.9L1547.6 217.8L1548.1 217.7L1548.7 217.6L1549.2 217.4L1549.7 217.2L1550.2 216.9L1550.6 216.7L1551.1 216.4L1551.5 216.1L1551.9 215.7L1552.3 215.3L1552.7 214.9L1553.1 214.5L1553.4 214.1L1553.7 213.6L1553.9 213.2L1554.2 212.7L1554.4 212.2L1554.6 211.7L1554.7 211.1L1554.8 210.6L1554.9 210.1L1554.9 209.5Z" fill="none" stroke="#8a8a8a" stroke-width="0.65"/>
<path d="M1553.6 209L1553.4 207.8L1553.3 206.6L1553.1 205.4L1553 204.3L1552.9 203.1L1552.8 202L1552.7 200.9L1552.6 199.8L1552.5 198.8L1552.3 197.8L1552.2 196.8L1552.1 195.9L1551.9 195L1551.8 194.2L1551.5 193.4L1551.3 192.7L1551 192.1L1550.7 191.5L1550.4 191L1550 190.5L1549.6 190.1L1549.2 189.8L1548.8 189.6L1548.3 189.4L1547.8 189.3L1547.3 189.2L1546.8 189.3L1546.3 189.4L1545.8 189.6L1545.2 189.8L1544.7 190.1L1544.2 190.5L1543.8 191L1543.3 191.5L1542.9 192.1L1542.5 192.7L1542.1 193.4L1541.7 194.2L1541.4 195L1541.1 195.9L1540.8 196.8L1540.5 197.8L1540.2 198.8L1540 199.8L1539.8 200.9L1539.6 202L1539.4 203.1L1539.2 204.3L1539 205.4L1538.8 206.6L1538.6 207.8L1538.4 209L1538.4 209.5L1538.5 209.9L1538.6 210.4L1538.6 210.8L1538.8 211.3L1538.9 211.7L1539.1 212.1L1539.3 212.5L1539.5 212.9L1539.8 213.3L1540 213.7L1540.3 214L1540.6 214.4L1541 214.7L1541.3 215L1541.7 215.2L1542.1 215.5L1542.5 215.7L1542.9 215.9L1543.3 216.1L1543.7 216.2L1544.2 216.4L1544.6 216.4L1545.1 216.5L1545.5 216.6L1546 216.6L1546.5 216.6L1546.9 216.5L1547.4 216.4L1547.8 216.4L1548.3 216.2L1548.7 216.1L1549.1 215.9L1549.5 215.7L1549.9 215.5L1550.3 215.2L1550.7 215L1551 214.7L1551.4 214.4L1551.7 214L1552 213.7L1552.2 213.3L1552.5 212.9L1552.7 212.5L1552.9 212.1L1553.1 211.7L1553.2 211.3L1553.4 210.8L1553.4 210.4L1553.5 209.9L1553.6 209.5Z" fill="none" stroke="#8a8a8a" stroke-width="0.65"/>
<path d="M1552.2 209L1552.1 208.1L1551.9 207.2L1551.8 206.2L1551.7 205.3L1551.6 204.4L1551.5 203.6L1551.4 202.7L1551.4 201.9L1551.3 201.1L1551.2 200.3L1551.1 199.5L1551 198.8L1550.8 198.1L1550.7 197.5L1550.5 196.9L1550.3 196.4L1550.1 195.9L1549.9 195.4L1549.6 195L1549.3 194.7L1549 194.3L1548.6 194.1L1548.3 193.9L1547.9 193.8L1547.5 193.7L1547.1 193.7L1546.6 193.7L1546.2 193.8L1545.8 193.9L1545.4 194.1L1545 194.3L1544.6 194.7L1544.2 195L1543.8 195.4L1543.4 195.9L1543.1 196.4L1542.8 196.9L1542.5 197.5L1542.2 198.1L1542 198.8L1541.7 199.5L1541.5 200.3L1541.3 201.1L1541.1 201.9L1540.9 202.7L1540.7 203.6L1540.6 204.4L1540.4 205.3L1540.2 206.2L1540.1 207.2L1540 208.1L1539.8 209L1539.8 209.4L1539.9 209.7L1539.9 210.1L1540 210.5L1540.1 210.8L1540.2 211.2L1540.4 211.5L1540.5 211.9L1540.7 212.2L1540.9 212.5L1541.1 212.8L1541.4 213.1L1541.6 213.4L1541.9 213.6L1542.2 213.9L1542.5 214.1L1542.8 214.3L1543.1 214.5L1543.5 214.6L1543.8 214.8L1544.2 214.9L1544.5 215L1544.9 215.1L1545.3 215.1L1545.6 215.2L1546 215.2L1546.4 215.2L1546.7 215.1L1547.1 215.1L1547.5 215L1547.8 214.9L1548.2 214.8L1548.5 214.6L1548.9 214.5L1549.2 214.3L1549.5 214.1L1549.8 213.9L1550.1 213.6L1550.4 213.4L1550.6 213.1L1550.9 212.8L1551.1 212.5L1551.3 212.2L1551.5 211.9L1551.6 211.5L1551.8 211.2L1551.9 210.8L1552 210.5L1552.1 210.1L1552.1 209.7L1552.2 209.4Z" fill="none" stroke="#8a8a8a" stroke-width="0.65"/>
<path d="M1550.8 209L1550.7 208.3L1550.6 207.7L1550.5 207L1550.4 206.3L1550.4 205.7L1550.3 205L1550.2 204.4L1550.2 203.8L1550.1 203.2L1550 202.7L1549.9 202.1L1549.9 201.6L1549.8 201.1L1549.6 200.6L1549.5 200.2L1549.4 199.8L1549.2 199.4L1549 199.1L1548.8 198.8L1548.6 198.5L1548.3 198.3L1548 198.1L1547.8 198L1547.5 197.9L1547.1 197.8L1546.8 197.8L1546.5 197.8L1546.2 197.9L1545.8 198L1545.5 198.1L1545.2 198.3L1544.9 198.5L1544.6 198.8L1544.3 199.1L1544 199.4L1543.8 199.8L1543.5 200.2L1543.3 200.6L1543.1 201.1L1542.9 201.6L1542.7 202.1L1542.5 202.7L1542.4 203.2L1542.2 203.8L1542.1 204.4L1541.9 205L1541.8 205.7L1541.7 206.3L1541.5 207L1541.4 207.7L1541.3 208.3L1541.2 209L1541.2 209.3L1541.2 209.6L1541.3 209.9L1541.3 210.1L1541.4 210.4L1541.5 210.7L1541.6 211L1541.7 211.2L1541.9 211.5L1542 211.7L1542.2 212L1542.4 212.2L1542.6 212.4L1542.8 212.6L1543 212.8L1543.3 213L1543.5 213.1L1543.8 213.3L1544 213.4L1544.3 213.5L1544.6 213.6L1544.9 213.7L1545.1 213.7L1545.4 213.8L1545.7 213.8L1546 213.8L1546.3 213.8L1546.6 213.8L1546.9 213.7L1547.1 213.7L1547.4 213.6L1547.7 213.5L1548 213.4L1548.2 213.3L1548.5 213.1L1548.7 213L1549 212.8L1549.2 212.6L1549.4 212.4L1549.6 212.2L1549.8 212L1550 211.7L1550.1 211.5L1550.3 211.2L1550.4 211L1550.5 210.7L1550.6 210.4L1550.7 210.1L1550.7 209.9L1550.8 209.6L1550.8 209.3Z" fill="none" stroke="#8a8a8a" stroke-width="0.65"/>
<path d="M1549.4 209L1549.3 208.6L1549.3 208.1L1549.2 207.7L1549.2 207.3L1549.1 206.8L1549.1 206.4L1549 206L1549 205.6L1548.9 205.2L1548.9 204.9L1548.8 204.5L1548.7 204.2L1548.7 203.8L1548.6 203.5L1548.5 203.3L1548.4 203L1548.3 202.8L1548.1 202.5L1548 202.3L1547.8 202.2L1547.6 202L1547.4 201.9L1547.2 201.8L1547 201.8L1546.8 201.7L1546.6 201.7L1546.4 201.7L1546.1 201.8L1545.9 201.8L1545.7 201.9L1545.4 202L1545.2 202.2L1545 202.3L1544.8 202.5L1544.6 202.8L1544.4 203L1544.2 203.3L1544.1 203.5L1543.9 203.8L1543.8 204.2L1543.6 204.5L1543.5 204.9L1543.4 205.2L1543.3 205.6L1543.2 206L1543.1 206.4L1543 206.8L1542.9 207.3L1542.8 207.7L1542.7 208.1L1542.7 208.6L1542.6 209L1542.6 209.2L1542.6 209.4L1542.6 209.6L1542.7 209.8L1542.7 210L1542.8 210.2L1542.9 210.4L1543 210.6L1543.1 210.8L1543.2 210.9L1543.3 211.1L1543.4 211.3L1543.6 211.4L1543.7 211.6L1543.9 211.7L1544.1 211.8L1544.2 211.9L1544.4 212L1544.6 212.1L1544.8 212.2L1545 212.3L1545.2 212.3L1545.4 212.4L1545.6 212.4L1545.8 212.4L1546 212.4L1546.2 212.4L1546.4 212.4L1546.6 212.4L1546.8 212.3L1547 212.3L1547.2 212.2L1547.4 212.1L1547.6 212L1547.8 211.9L1547.9 211.8L1548.1 211.7L1548.3 211.6L1548.4 211.4L1548.6 211.3L1548.7 211.1L1548.8 210.9L1548.9 210.8L1549 210.6L1549.1 210.4L1549.2 210.2L1549.3 210L1549.3 209.8L1549.4 209.6L1549.4 209.4L1549.4 209.2Z" fill="none" stroke="#8a8a8a" stroke-width="0.65"/>
<path d="M1533 214C1533 224 1536 231 1541 233C1545 231 1551 226 1556 218M1536 214C1536 222 1538 228 1541.5 230C1545 228 1550 223 1553 217" fill="none" stroke="#8a8a8a" stroke-width="0.65"/>
<ellipse cx="1546" cy="209.3" rx="12.3" ry="11.6" fill="#6c6c6c" opacity="0.3"/>
<ellipse cx="1546" cy="209.3" rx="10.1" ry="9.5" fill="#6c6c6c" opacity="0.3"/>
<ellipse cx="1546" cy="209.3" rx="7.9" ry="7.4" fill="#6c6c6c" opacity="0.3"/>
<ellipse cx="1546" cy="209.3" rx="5.7" ry="5.3" fill="#6c6c6c" opacity="0.3"/>
<ellipse cx="1547.5" cy="209" rx="2.3" ry="1.3" fill="#e8e8e8" opacity="0.9"/>
<path d="M1446.8 121.3V266.3H1591" fill="none" stroke="#6e6e6e" stroke-width="1.2"/>
<rect x="1503.1" y="130.4" width="70.8" height="54.8" fill="none" stroke="#333" stroke-width="1"/>
<text x="1460.7" y="143.2" font-size="16.8">14.5</text>
<path d="M1254.1 365.6h1M1216 378.7h1M1209.4 368.2h1M1243.8 342.7h1M1262.5 365.9h1M1252.3 375.3h1M1239.4 327.3h1M1259.7 374.9h1M1250.5 373.4h1M1255 362.8h1M1203.4 362.2h1M1261 358.7h1M1242.9 347.9h1M1242.6 343.2h1M1260.7 363.4h1M1243 343h1M1236.7 333.8h1M1230.9 331.6h1M1241.7 338.1h1M1258.5 374.8h1M1231.3 332.5h1M1259 359.6h1M1241.6 339.7h1M1233.7 327.9h1M1240.6 339.7h1M1236.5 382.9h1M1211.5 375.1h1M1239 384h1M1241 384.6h1M1260.7 362h1M1254.6 364.4h1M1207.5 352.8h1M1200.7 366.5h1M1250.1 381.9h1M1232.1 388h1M1208.5 376.7h1M1254.2 361.6h1M1257.5 369.8h1M1239.9 336.1h1M1250.9 381.6h1M1241.5 388.8h1M1230.4 388.1h1M1252.5 360h1M1232.9 332.5h1M1254 376.3h1M1237.6 336h1M1243.4 342.6h1M1254.1 369.3h1M1240.9 384.1h1M1217.4 379.2h1M1236.3 327h1M1225.1 341h1M1245.8 379h1M1231.5 389h1M1252.6 384.7h1M1224.2 383.3h1M1227.5 342.6h1M1253.1 377.1h1M1239.2 390h1M1231.3 332.6h1M1248 352.6h1M1250.4 377.5h1M1223.1 344.8h1M1234.6 383.4h1M1218.5 380.6h1M1224.2 386.6h1M1212.8 366.2h1M1219.2 384.9h1M1237.8 334.4h1M1263.1 361h1M1234.2 324.9h1M1235.8 383h1M1235.8 332.1h1M1205.9 368.4h1M1238 334h1M1221.9 383.1h1M1227.7 391.5h1M1228.7 382.4h1M1211.2 368.3h1M1257.1 369.5h1M1219.4 387.3h1M1242.4 340.5h1M1230.6 332.3h1M1215.3 378.6h1M1254.3 367.3h1M1216.8 387.8h1M1206.3 360h1M1245.7 378.4h1M1235.6 381h1M1211 369.5h1M1251.2 352.8h1M1244.7 346.6h1M1261.9 373.9h1M1229.3 332.1h1M1209.4 376.2h1M1240.6 346.2h1M1225.1 347.8h1M1230.9 330.4h1M1230 384.4h1M1226 385.4h1M1238.2 338.5h1M1235 328.4h1M1210.1 384.6h1M1254.1 374.9h1M1216 355.7h1M1253.2 364.8h1M1217.9 351.7h1M1221.8 346.9h1M1226.7 339.7h1M1254.4 384.6h1M1242.1 385.9h1M1256.6 358.1h1M1237 325.8h1M1238.8 333.2h1M1237.6 326.9h1M1248.1 377.8h1M1237 334.1h1M1224.6 384.9h1M1217.4 351.2h1M1218.7 350.5h1M1246.9 387.7h1M1205.2 367.6h1M1222.7 345.9h1M1249.6 353.4h1M1241.4 338.7h1M1229.8 314.6h1M1228.5 322.4h1M1230.4 325.7h1M1234.8 343.7h1M1228.2 321.4h1M1237.7 310.3h1M1240.5 329h1M1213.5 336.4h1M1229.3 327.5h1M1226.4 330.4h1M1224.4 338.9h1M1227.2 318.3h1M1229.4 333h1M1233.8 323.8h1M1226.1 326.2h1M1233.4 338.9h1M1230.5 336.5h1M1224.4 327.3h1M1237 329.7h1M1238.2 312.4h1M1223.4 314.4h1M1238.7 320.1h1M1226.9 332.1h1M1226.3 339.1h1M1227.4 334.3h1M1226.1 318.5h1M1230 325.7h1M1238.6 319.4h1M1237.8 336.8h1M1220.7 325.6h1" stroke="#bdbdbd" stroke-width="1" fill="none"/>
<path d="M1232.8 328.7h1M1254.7 367.8h1M1233.6 329.7h1M1251.3 355.4h1M1238.2 341.2h1M1233 383.5h1M1215.8 358h1M1213.4 379.2h1M1221.3 379.7h1M1219.5 378.7h1M1227.8 339.1h1M1244 380.7h1M1232.9 382.5h1M1248.6 386.1h1M1249 350.1h1M1228.3 339.2h1M1232.5 328.7h1M1253.2 366.9h1M1242.9 341.2h1M1224.9 348h1M1239.2 381.5h1M1214.9 381.6h1M1235.9 330.4h1M1240.3 385h1M1230.8 387.1h1M1214 379.1h1M1246.2 380h1M1224.7 348h1M1255.8 370.4h1M1239.5 336.2h1M1237.7 329.2h1M1212.1 359h1M1216.6 374.1h1M1245.4 350.7h1M1224.2 384.4h1M1218.2 381.2h1M1212.8 371.8h1M1239.8 387.6h1M1214.6 354.3h1M1252 359.5h1M1227.9 340.1h1M1235.1 382.5h1M1226.7 341.1h1M1239.3 338.6h1M1218.7 379.9h1M1241.5 345.3h1M1223 385.9h1M1213 366.3h1M1241.3 347.3h1M1238.9 382h1M1245.3 379.6h1M1236.2 328h1M1231.1 330.5h1M1231.7 332.4h1M1245.2 387.2h1M1223.3 347.2h1M1234.5 329.1h1M1250.2 382.9h1M1218.6 379h1M1244 347h1M1256.3 374.6h1M1255.5 361.2h1M1229.7 336.9h1M1254.1 363.2h1M1234 329.7h1M1225.1 346.1h1M1241.1 344.1h1M1223.6 383.3h1M1208.2 368.6h1M1229.6 382.1h1M1253.1 380.3h1M1214.1 371.5h1M1226.1 345.5h1M1234.6 329.9h1M1217.4 353.2h1M1234 384.3h1M1243.9 386.1h1M1252.9 381h1M1231.1 336.1h1M1253.4 373.9h1M1238.1 334.4h1M1252 370.9h1M1254.6 372.3h1M1232.3 331.4h1M1254.2 379.8h1M1230.7 384.4h1M1218.3 378.6h1M1239.2 331.8h1M1248.5 376.3h1M1233.2 329h1M1232.2 383.9h1M1231.8 334.3h1M1212.5 361.8h1M1237.9 332h1M1212.7 357.4h1M1226.8 343.6h1M1241.5 383.2h1M1209.2 371.9h1M1212 372.7h1M1225.5 382.4h1M1227.5 341.8h1M1242.4 379.4h1M1238.9 336.9h1M1220.2 380.3h1M1241.9 342.6h1M1252 377h1M1257 374.5h1M1218.7 376h1M1245.5 378.6h1M1241.8 342.6h1M1232.6 388.7h1M1248.2 377.2h1M1255.6 367.1h1M1209.4 366.5h1M1237.4 382.5h1M1234.7 330.1h1M1218.6 350.7h1M1220.9 349.8h1M1210.3 375.6h1M1221.3 351.2h1M1247.9 385.4h1M1253.5 367h1M1257.2 362.6h1M1225.3 346.8h1M1235.7 385.1h1M1214.3 368.5h1M1256.3 373.5h1M1239.5 338.2h1M1237 331.7h1M1233.8 329.4h1M1209.9 361.4h1M1236.9 332.9h1M1208.2 370.3h1M1235.7 330.5h1M1248.7 381.8h1M1212 366h1M1213.6 376h1M1226.6 342.9h1M1234.5 380.1h1M1225.6 342.6h1M1220.1 383h1M1240.1 345h1M1213.3 367.4h1M1238.9 338.8h1M1255 366.6h1M1249.7 378h1M1207.3 367.2h1M1237.2 332.9h1M1238.8 337.2h1M1231.4 333.1h1M1251.4 358.4h1M1253.3 373.3h1M1235.8 387.3h1M1212.3 370.9h1M1225.4 342.5h1M1235.6 327.8h1M1223.5 385.1h1M1230 333h1M1237.9 335.1h1M1229.2 336.9h1M1243.9 381.7h1M1241.9 381.2h1M1229.6 339.1h1M1234.3 327.4h1M1248.7 353h1M1229.1 382.4h1M1235.2 328.9h1M1253.6 378h1M1241.5 348.7h1M1258.8 359.3h1M1241 384.1h1M1239.2 332.1h1M1240.3 342.1h1M1211.8 376h1M1246.5 353.6h1M1231.8 384.6h1M1236.1 331.2h1M1252.2 376.2h1M1244.8 352.2h1M1235 329.9h1M1214.3 368.9h1M1245.1 380.7h1M1211.9 369.5h1M1236.7 383.6h1M1244.3 348.8h1M1250.3 377.6h1M1239 339.7h1M1222.2 379.1h1M1234 328h1M1227 342h1M1227 386.6h1M1233 328.5h1M1231.3 383.6h1M1255.1 372.1h1M1215.3 379.6h1M1249.4 380h1M1219 353.4h1M1253.3 361.4h1M1221.7 378.3h1M1254.4 370h1M1212.6 378.2h1M1249.8 356.2h1M1238.9 382.4h1M1229.6 333.6h1M1231.5 331.7h1M1244.4 327.7h1M1232.7 331.8h1M1238.3 322.5h1M1229.4 337.5h1M1231.3 334.7h1M1236.8 323.4h1M1235.3 315.9h1M1225.4 315h1M1227.4 323.3h1M1238.3 330.3h1M1236.5 328.2h1M1231.5 315.6h1M1238.1 335.4h1M1238.7 320.1h1M1249 337.4h1M1241.7 334.7h1M1231.1 333.1h1M1230.2 333.9h1M1228.6 314.7h1M1229.8 329.7h1M1221.3 330.5h1M1244.3 322.7h1M1238.7 337.5h1M1230.7 322.4h1M1230.2 338.6h1M1225 315.5h1M1235.3 335.6h1M1223.3 319.9h1M1216.4 333.6h1M1232.1 322.5h1M1250 330.3h1M1233.2 319h1M1239.8 341.1h1M1248.6 327.9h1M1239.2 314h1M1237.1 321.4h1M1233.1 327.8h1M1236.5 327.4h1M1231.2 345.9h1M1248.5 306.1h1M1235.6 319h1M1247.4 337.1h1M1231.6 316.5h1M1229.5 327.6h1M1231.7 340.6h1M1234.2 339.9h1M1234.8 332.2h1M1228.3 333.9h1M1245.6 328.5h1M1227.5 338h1M1240.9 321h1M1235.1 320.2h1M1232.4 338.6h1M1233.6 326.2h1M1233.7 343h1M1235 318.6h1M1236.4 312.8h1M1224.3 331.2h1M1235.2 329.8h1M1225.4 327.7h1" stroke="#3a3a3a" stroke-width="1" fill="none"/>
<path d="M1253.4 365.8L1253.3 363.7L1252.8 361.5L1252 359.4L1250.9 357.4L1249.4 355.3L1247.3 353.3L1244.4 351.3L1242.1 349.4L1241.6 347.5L1241.1 345.7L1240.6 344L1240.1 342.4L1239.7 340.8L1239.2 339.4L1238.8 338L1238.4 336.7L1237.9 335.6L1237.6 334.5L1237.2 333.6L1236.8 332.8L1236.4 332.1L1236.1 331.5L1235.7 331.1L1235.3 330.8L1235 330.6L1234.6 330.5L1234.2 330.6L1233.8 330.8L1233.4 331.1L1233 331.5L1232.6 332.1L1232.1 332.8L1231.6 333.6L1231.1 334.5L1230.6 335.6L1230.1 336.7L1229.5 338L1228.9 339.4L1228.3 340.8L1227.7 342.4L1227.1 344L1226.5 345.7L1225.9 347.5L1225.2 349.4L1222.8 351.3L1219.8 353.3L1217.7 355.3L1216 357.4L1214.9 359.4L1214 361.5L1213.6 363.7L1213.4 365.8L1213.4 366.8L1213.5 367.8L1213.7 368.8L1214 369.7L1214.3 370.7L1214.7 371.6L1215.2 372.5L1215.7 373.4L1216.3 374.3L1216.9 375.1L1217.7 375.9L1218.4 376.7L1219.3 377.4L1220.1 378.1L1221.1 378.7L1222 379.3L1223.1 379.8L1224.1 380.3L1225.2 380.8L1226.3 381.1L1227.4 381.5L1228.6 381.7L1229.8 381.9L1231 382.1L1232.2 382.2L1233.4 382.2L1234.6 382.2L1235.8 382.1L1237 381.9L1238.2 381.7L1239.4 381.5L1240.5 381.1L1241.6 380.8L1242.7 380.3L1243.7 379.8L1244.8 379.3L1245.7 378.7L1246.7 378.1L1247.5 377.4L1248.4 376.7L1249.1 375.9L1249.9 375.1L1250.5 374.3L1251.1 373.4L1251.6 372.5L1252.1 371.6L1252.5 370.7L1252.8 369.7L1253.1 368.8L1253.3 367.8L1253.4 366.8Z" fill="#fff" stroke="#8a8a8a" stroke-width="0.65"/>
<path d="M1251.5 365.8L1251.4 363.9L1251 362L1250.3 360.2L1249.3 358.3L1248 356.5L1246.3 354.8L1243.9 353L1241.3 351.3L1240.8 349.7L1240.4 348.1L1239.9 346.6L1239.5 345.2L1239.1 343.8L1238.7 342.5L1238.3 341.3L1237.9 340.2L1237.5 339.2L1237.2 338.2L1236.8 337.4L1236.5 336.7L1236.1 336.1L1235.8 335.6L1235.5 335.2L1235.2 334.9L1234.8 334.7L1234.5 334.7L1234.1 334.7L1233.8 334.9L1233.4 335.2L1233 335.6L1232.6 336.1L1232.2 336.7L1231.8 337.4L1231.3 338.2L1230.9 339.2L1230.4 340.2L1229.9 341.3L1229.4 342.5L1228.8 343.8L1228.3 345.2L1227.7 346.6L1227.1 348.1L1226.6 349.7L1226 351.3L1223.2 353L1220.8 354.8L1219 356.5L1217.6 358.3L1216.6 360.2L1215.9 362L1215.4 363.9L1215.3 365.8L1215.3 366.7L1215.4 367.6L1215.6 368.5L1215.8 369.3L1216.1 370.2L1216.5 371.1L1216.9 371.9L1217.4 372.7L1217.9 373.5L1218.5 374.2L1219.2 374.9L1219.9 375.6L1220.6 376.3L1221.4 376.9L1222.2 377.5L1223.1 378L1224 378.5L1225 378.9L1226 379.3L1227 379.7L1228 380L1229.1 380.2L1230.1 380.4L1231.2 380.5L1232.3 380.6L1233.4 380.6L1234.5 380.6L1235.6 380.5L1236.7 380.4L1237.7 380.2L1238.8 380L1239.8 379.7L1240.8 379.3L1241.8 378.9L1242.8 378.5L1243.7 378L1244.6 377.5L1245.4 376.9L1246.2 376.3L1246.9 375.6L1247.6 374.9L1248.3 374.2L1248.9 373.5L1249.4 372.7L1249.9 371.9L1250.3 371.1L1250.7 370.2L1251 369.3L1251.2 368.5L1251.4 367.6L1251.5 366.7Z" fill="none" stroke="#8a8a8a" stroke-width="0.65"/>
<path d="M1249.6 365.8L1249.5 364.2L1249.1 362.5L1248.6 360.9L1247.8 359.3L1246.7 357.7L1245.2 356.2L1243.3 354.7L1240.5 353.2L1240 351.8L1239.6 350.4L1239.2 349.1L1238.8 347.8L1238.5 346.7L1238.1 345.5L1237.8 344.5L1237.4 343.5L1237.1 342.6L1236.8 341.8L1236.4 341.1L1236.1 340.5L1235.8 339.9L1235.6 339.5L1235.3 339.2L1235 338.9L1234.7 338.8L1234.4 338.7L1234.1 338.8L1233.7 338.9L1233.4 339.2L1233.1 339.5L1232.7 339.9L1232.4 340.5L1232 341.1L1231.6 341.8L1231.1 342.6L1230.7 343.5L1230.3 344.5L1229.8 345.5L1229.3 346.7L1228.8 347.8L1228.3 349.1L1227.8 350.4L1227.3 351.8L1226.7 353.2L1223.8 354.7L1221.8 356.2L1220.3 357.7L1219.1 359.3L1218.3 360.9L1217.7 362.5L1217.3 364.2L1217.2 365.8L1217.3 366.6L1217.3 367.4L1217.5 368.2L1217.7 369L1218 369.7L1218.3 370.5L1218.6 371.2L1219.1 372L1219.6 372.7L1220.1 373.3L1220.7 374L1221.3 374.6L1222 375.2L1222.7 375.7L1223.4 376.2L1224.2 376.7L1225 377.2L1225.9 377.5L1226.8 377.9L1227.7 378.2L1228.6 378.5L1229.5 378.7L1230.5 378.8L1231.4 379L1232.4 379L1233.4 379.1L1234.4 379L1235.4 379L1236.3 378.8L1237.3 378.7L1238.2 378.5L1239.1 378.2L1240 377.9L1240.9 377.5L1241.8 377.2L1242.6 376.7L1243.4 376.2L1244.1 375.7L1244.8 375.2L1245.5 374.6L1246.1 374L1246.7 373.3L1247.2 372.7L1247.7 372L1248.2 371.2L1248.5 370.5L1248.8 369.7L1249.1 369L1249.3 368.2L1249.5 367.4L1249.5 366.6Z" fill="none" stroke="#8a8a8a" stroke-width="0.65"/>
<path d="M1247.7 365.8L1247.6 364.4L1247.3 363L1246.8 361.6L1246.2 360.3L1245.3 358.9L1244.1 357.6L1242.6 356.3L1240.5 355L1239.2 353.8L1238.9 352.7L1238.5 351.5L1238.2 350.5L1237.9 349.4L1237.5 348.5L1237.2 347.6L1236.9 346.8L1236.6 346L1236.4 345.3L1236.1 344.7L1235.8 344.2L1235.6 343.7L1235.3 343.3L1235 343L1234.8 342.8L1234.5 342.7L1234.3 342.7L1234 342.7L1233.7 342.8L1233.4 343L1233.1 343.3L1232.8 343.7L1232.5 344.2L1232.1 344.7L1231.8 345.3L1231.4 346L1231 346.8L1230.6 347.6L1230.2 348.5L1229.8 349.4L1229.4 350.5L1228.9 351.5L1228.5 352.7L1228 353.8L1226.7 355L1224.5 356.3L1222.9 357.6L1221.7 358.9L1220.7 360.3L1220 361.6L1219.5 363L1219.2 364.4L1219.1 365.8L1219.2 366.5L1219.2 367.2L1219.4 367.9L1219.5 368.6L1219.8 369.3L1220.1 369.9L1220.4 370.6L1220.8 371.2L1221.2 371.9L1221.7 372.4L1222.2 373L1222.7 373.6L1223.3 374.1L1223.9 374.6L1224.6 375L1225.3 375.4L1226 375.8L1226.8 376.2L1227.5 376.5L1228.3 376.7L1229.2 377L1230 377.2L1230.8 377.3L1231.7 377.4L1232.5 377.5L1233.4 377.5L1234.3 377.5L1235.1 377.4L1236 377.3L1236.8 377.2L1237.6 377L1238.5 376.7L1239.3 376.5L1240 376.2L1240.8 375.8L1241.5 375.4L1242.2 375L1242.9 374.6L1243.5 374.1L1244.1 373.6L1244.6 373L1245.1 372.4L1245.6 371.9L1246 371.2L1246.4 370.6L1246.7 369.9L1247 369.3L1247.3 368.6L1247.4 367.9L1247.6 367.2L1247.6 366.5Z" fill="none" stroke="#8a8a8a" stroke-width="0.65"/>
<path d="M1245.8 365.8L1245.7 364.6L1245.5 363.5L1245.1 362.3L1244.6 361.2L1243.9 360L1242.9 358.9L1241.8 357.9L1240.2 356.8L1238.5 355.8L1238.2 354.8L1237.9 353.9L1237.6 353L1237.3 352.1L1237 351.3L1236.7 350.6L1236.5 349.9L1236.2 349.3L1236 348.7L1235.7 348.2L1235.5 347.7L1235.3 347.3L1235 347L1234.8 346.8L1234.6 346.6L1234.4 346.5L1234.1 346.5L1233.9 346.5L1233.7 346.6L1233.4 346.8L1233.2 347L1232.9 347.3L1232.6 347.7L1232.3 348.2L1232 348.7L1231.7 349.3L1231.3 349.9L1231 350.6L1230.6 351.3L1230.3 352.1L1229.9 353L1229.5 353.9L1229.1 354.8L1228.7 355.8L1226.9 356.8L1225.3 357.9L1224 358.9L1223.1 360L1222.3 361.2L1221.8 362.3L1221.4 363.5L1221.1 364.6L1221 365.8L1221.1 366.4L1221.1 367L1221.2 367.6L1221.4 368.2L1221.6 368.8L1221.8 369.4L1222.1 370L1222.5 370.5L1222.8 371L1223.2 371.6L1223.7 372L1224.2 372.5L1224.7 373L1225.2 373.4L1225.8 373.8L1226.4 374.1L1227 374.5L1227.7 374.8L1228.3 375L1229 375.3L1229.7 375.5L1230.4 375.6L1231.2 375.8L1231.9 375.9L1232.7 375.9L1233.4 375.9L1234.1 375.9L1234.9 375.9L1235.6 375.8L1236.4 375.6L1237.1 375.5L1237.8 375.3L1238.5 375L1239.1 374.8L1239.8 374.5L1240.4 374.1L1241 373.8L1241.6 373.4L1242.1 373L1242.6 372.5L1243.1 372L1243.6 371.6L1244 371L1244.3 370.5L1244.7 370L1245 369.4L1245.2 368.8L1245.4 368.2L1245.6 367.6L1245.7 367L1245.7 366.4Z" fill="none" stroke="#8a8a8a" stroke-width="0.65"/>
<path d="M1243.8 365.8L1243.8 364.9L1243.6 363.9L1243.3 363L1242.9 362L1242.4 361.1L1241.7 360.2L1240.8 359.4L1239.7 358.5L1238.1 357.7L1237.4 356.9L1237.2 356.1L1236.9 355.4L1236.7 354.7L1236.4 354.1L1236.2 353.5L1236 352.9L1235.8 352.4L1235.6 351.9L1235.4 351.5L1235.2 351.1L1235 350.8L1234.8 350.6L1234.6 350.4L1234.4 350.2L1234.2 350.2L1234 350.1L1233.8 350.2L1233.6 350.2L1233.4 350.4L1233.2 350.6L1233 350.8L1232.7 351.1L1232.5 351.5L1232.2 351.9L1231.9 352.4L1231.7 352.9L1231.4 353.5L1231.1 354.1L1230.8 354.7L1230.4 355.4L1230.1 356.1L1229.8 356.9L1229 357.7L1227.4 358.5L1226.2 359.4L1225.3 360.2L1224.5 361.1L1223.9 362L1223.5 363L1223.2 363.9L1223 364.9L1223 365.8L1223 366.3L1223 366.8L1223.1 367.3L1223.3 367.8L1223.4 368.3L1223.6 368.8L1223.9 369.3L1224.2 369.8L1224.5 370.2L1224.8 370.7L1225.2 371.1L1225.6 371.5L1226 371.9L1226.5 372.2L1227 372.5L1227.5 372.8L1228 373.1L1228.5 373.4L1229.1 373.6L1229.7 373.8L1230.3 374L1230.9 374.1L1231.5 374.2L1232.1 374.3L1232.8 374.3L1233.4 374.4L1234 374.3L1234.7 374.3L1235.3 374.2L1235.9 374.1L1236.5 374L1237.1 373.8L1237.7 373.6L1238.3 373.4L1238.8 373.1L1239.3 372.8L1239.8 372.5L1240.3 372.2L1240.8 371.9L1241.2 371.5L1241.6 371.1L1242 370.7L1242.3 370.2L1242.6 369.8L1242.9 369.3L1243.2 368.8L1243.4 368.3L1243.5 367.8L1243.7 367.3L1243.8 366.8L1243.8 366.3Z" fill="none" stroke="#8a8a8a" stroke-width="0.65"/>
<path d="M1241.9 365.8L1241.9 365.1L1241.8 364.3L1241.6 363.6L1241.3 362.9L1240.9 362.2L1240.4 361.5L1239.7 360.8L1239 360.1L1237.9 359.5L1236.7 358.9L1236.5 358.3L1236.3 357.7L1236.1 357.2L1235.9 356.7L1235.7 356.2L1235.5 355.8L1235.3 355.4L1235.2 355L1235 354.7L1234.8 354.4L1234.7 354.2L1234.5 354L1234.4 353.8L1234.2 353.7L1234.1 353.6L1233.9 353.6L1233.8 353.6L1233.6 353.7L1233.4 353.8L1233.2 354L1233 354.2L1232.8 354.4L1232.6 354.7L1232.4 355L1232.2 355.4L1232 355.8L1231.7 356.2L1231.5 356.7L1231.2 357.2L1231 357.7L1230.7 358.3L1230.4 358.9L1229.1 359.5L1228.1 360.1L1227.2 360.8L1226.6 361.5L1226 362.2L1225.6 362.9L1225.3 363.6L1225 364.3L1224.9 365.1L1224.9 365.8L1224.9 366.2L1224.9 366.6L1225 367.1L1225.1 367.5L1225.3 367.9L1225.4 368.3L1225.6 368.7L1225.8 369.1L1226.1 369.4L1226.4 369.8L1226.7 370.1L1227 370.4L1227.4 370.7L1227.7 371L1228.1 371.3L1228.6 371.6L1229 371.8L1229.4 372L1229.9 372.2L1230.4 372.3L1230.9 372.5L1231.4 372.6L1231.9 372.7L1232.4 372.7L1232.9 372.8L1233.4 372.8L1233.9 372.8L1234.4 372.7L1234.9 372.7L1235.4 372.6L1235.9 372.5L1236.4 372.3L1236.9 372.2L1237.4 372L1237.8 371.8L1238.2 371.6L1238.7 371.3L1239.1 371L1239.4 370.7L1239.8 370.4L1240.1 370.1L1240.4 369.8L1240.7 369.4L1241 369.1L1241.2 368.7L1241.4 368.3L1241.5 367.9L1241.7 367.5L1241.8 367.1L1241.9 366.6L1241.9 366.2Z" fill="none" stroke="#8a8a8a" stroke-width="0.65"/>
<path d="M1240 365.8L1240 365.3L1239.9 364.7L1239.8 364.2L1239.6 363.7L1239.3 363.2L1239 362.7L1238.6 362.2L1238.1 361.7L1237.4 361.2L1236.6 360.8L1235.8 360.3L1235.6 359.9L1235.5 359.5L1235.3 359.2L1235.2 358.8L1235 358.5L1234.9 358.2L1234.8 357.9L1234.6 357.7L1234.5 357.5L1234.4 357.3L1234.3 357.2L1234.2 357.1L1234 357L1233.9 356.9L1233.8 356.9L1233.7 356.9L1233.5 357L1233.4 357.1L1233.3 357.2L1233.1 357.3L1233 357.5L1232.8 357.7L1232.6 357.9L1232.5 358.2L1232.3 358.5L1232.1 358.8L1231.9 359.2L1231.7 359.5L1231.5 359.9L1231.3 360.3L1230.4 360.8L1229.6 361.2L1228.9 361.7L1228.4 362.2L1227.9 362.7L1227.6 363.2L1227.3 363.7L1227.1 364.2L1226.9 364.7L1226.8 365.3L1226.8 365.8L1226.8 366.1L1226.8 366.5L1226.9 366.8L1227 367.1L1227.1 367.4L1227.2 367.7L1227.4 368L1227.5 368.3L1227.7 368.6L1228 368.9L1228.2 369.1L1228.4 369.4L1228.7 369.6L1229 369.9L1229.3 370.1L1229.6 370.3L1230 370.4L1230.3 370.6L1230.7 370.8L1231.1 370.9L1231.4 371L1231.8 371.1L1232.2 371.1L1232.6 371.2L1233 371.2L1233.4 371.2L1233.8 371.2L1234.2 371.2L1234.6 371.1L1235 371.1L1235.4 371L1235.7 370.9L1236.1 370.8L1236.5 370.6L1236.8 370.4L1237.2 370.3L1237.5 370.1L1237.8 369.9L1238.1 369.6L1238.4 369.4L1238.6 369.1L1238.8 368.9L1239.1 368.6L1239.3 368.3L1239.4 368L1239.6 367.7L1239.7 367.4L1239.8 367.1L1239.9 366.8L1240 366.5L1240 366.1Z" fill="none" stroke="#8a8a8a" stroke-width="0.65"/>
<path d="M1238.1 365.8L1238.1 365.5L1238 365.1L1238 364.8L1237.8 364.4L1237.7 364.1L1237.5 363.7L1237.3 363.4L1237 363.1L1236.7 362.8L1236.2 362.5L1235.7 362.2L1235 362L1234.9 361.7L1234.8 361.5L1234.7 361.2L1234.6 361L1234.5 360.8L1234.4 360.7L1234.3 360.5L1234.2 360.4L1234.1 360.3L1234 360.2L1233.9 360.1L1233.9 360L1233.8 360L1233.7 360L1233.6 360L1233.5 360L1233.4 360.1L1233.3 360.2L1233.2 360.3L1233.1 360.4L1233 360.5L1232.9 360.7L1232.7 360.8L1232.6 361L1232.5 361.2L1232.3 361.5L1232.2 361.7L1232 362L1231.3 362.2L1230.7 362.5L1230.3 362.8L1229.9 363.1L1229.6 363.4L1229.4 363.7L1229.2 364.1L1229 364.4L1228.9 364.8L1228.8 365.1L1228.7 365.5L1228.7 365.8L1228.7 366L1228.7 366.3L1228.8 366.5L1228.8 366.7L1228.9 366.9L1229 367.2L1229.1 367.4L1229.2 367.6L1229.4 367.8L1229.5 368L1229.7 368.2L1229.9 368.4L1230.1 368.5L1230.3 368.7L1230.5 368.8L1230.7 369L1231 369.1L1231.2 369.2L1231.5 369.3L1231.7 369.4L1232 369.5L1232.3 369.6L1232.6 369.6L1232.8 369.6L1233.1 369.7L1233.4 369.7L1233.7 369.7L1234 369.6L1234.2 369.6L1234.5 369.6L1234.8 369.5L1235.1 369.4L1235.3 369.3L1235.6 369.2L1235.8 369.1L1236.1 369L1236.3 368.8L1236.5 368.7L1236.7 368.5L1236.9 368.4L1237.1 368.2L1237.3 368L1237.4 367.8L1237.6 367.6L1237.7 367.4L1237.8 367.2L1237.9 366.9L1238 366.7L1238 366.5L1238.1 366.3L1238.1 366Z" fill="none" stroke="#8a8a8a" stroke-width="0.65"/>
<ellipse cx="1233.4" cy="366.1" rx="18.4" ry="9" fill="#6c6c6c" opacity="0.3"/>
<ellipse cx="1233.4" cy="366.1" rx="15.1" ry="7.4" fill="#6c6c6c" opacity="0.3"/>
<ellipse cx="1233.4" cy="366.1" rx="11.8" ry="5.8" fill="#6c6c6c" opacity="0.3"/>
<ellipse cx="1233.4" cy="366.1" rx="8.5" ry="4.1" fill="#6c6c6c" opacity="0.3"/>
<ellipse cx="1234.9" cy="365.8" rx="3.2" ry="1.5" fill="#e8e8e8" opacity="0.9"/>
<rect x="1141.4" y="276.5" width="145.2" height="145" fill="none" stroke="#6e6e6e" stroke-width="1.2"/>
<rect x="1197.7" y="285.6" width="70.8" height="54.8" fill="none" stroke="#333" stroke-width="1"/>
<text x="1155.3" y="298.4" font-size="16.8">5.69</text>
<path d="M1388.9 328h1M1409.6 383h1M1398.2 382.1h1M1375.4 389.1h1M1385.2 334.5h1M1409.1 372.7h1M1414.1 381.2h1M1366.3 384.3h1M1387.9 332h1M1385.8 331.8h1M1418.6 366.3h1M1390.4 390.2h1M1366.1 382.1h1M1392.1 333h1M1383.9 393.1h1M1374.6 345.8h1M1373.7 385.6h1M1382 335.5h1M1406.9 370.5h1M1393.5 346.2h1M1395.2 387h1M1366.2 380.3h1M1384.6 331.3h1M1397.1 349.5h1M1394.4 346.3h1M1359.6 374.6h1M1370.2 388.8h1M1396.6 343.5h1M1351.8 375.6h1M1376.9 382h1M1399 384.5h1M1362.5 368.3h1M1360.6 364.6h1M1415 360.1h1M1383.5 390.5h1M1373.4 388.5h1M1352.4 383.3h1M1391.8 335.4h1M1371 378.9h1M1361.8 373.8h1M1381 333.7h1M1386.4 331.4h1M1383.2 333.7h1M1395.3 337h1M1407.7 374h1M1362.1 365.8h1M1415.2 379.2h1M1391.2 338.5h1M1388.1 383.8h1M1395.3 387.9h1M1359.6 377.8h1M1382.2 330.8h1M1367.4 385.4h1M1358.1 374.6h1M1395.3 389.6h1M1378.6 341.6h1M1393.6 382.5h1M1354.3 379.4h1M1352.7 376.7h1M1415 365.1h1M1414.1 365.1h1M1387.9 385.9h1M1386.5 327.5h1M1407 380.1h1M1420.4 366.7h1M1389 386.3h1M1384 331h1M1385 383.9h1M1384.4 331.6h1M1387.6 331.5h1M1376.6 350.2h1M1391.9 333.9h1M1367.7 379.7h1M1400.9 386.9h1M1367.1 388.1h1M1397.9 348.6h1M1384.3 335.8h1M1385.6 331.4h1M1410.9 392.5h1M1409.1 380.9h1M1393.8 339.1h1M1373.1 388.3h1M1381.5 335.8h1M1355.4 370.6h1M1393.5 346.8h1M1362.1 380.4h1M1372.9 346.6h1M1355.7 375.9h1M1414.7 373.4h1M1389.8 333.6h1M1389.4 333.6h1M1393.9 338h1M1368.9 378.9h1M1371.9 349.9h1M1410.3 379.4h1M1398 382.2h1M1371.8 385.6h1M1386.6 388.1h1M1368.9 380.8h1M1407.4 380.9h1M1359.9 382h1M1385.9 390.3h1M1412 357.4h1M1388.9 329.1h1M1387.1 391.5h1M1385.2 333.8h1M1366.9 386.3h1M1377 342.1h1M1394.7 346.5h1M1386.8 332.4h1M1373.8 352.9h1M1385.2 333h1M1392.8 345.1h1M1361.1 382.6h1M1398.8 352.4h1M1373.8 345.5h1M1411 361.6h1M1382.6 332.6h1M1371 381.1h1M1393 350.5h1M1384.5 383.9h1M1414.5 363.3h1M1380.8 341.5h1M1413.7 364.3h1M1393.5 344.4h1M1387.1 332.2h1M1394.4 381.4h1M1396.3 344.2h1M1385 331.7h1M1393.7 388.2h1M1387.5 330.5h1M1396 384.9h1M1370.7 351.2h1M1383.7 331.5h1M1397.2 344.8h1M1356.9 362.4h1M1382.3 394h1M1390 393.7h1M1369.2 326h1M1385.6 327.1h1M1392 323.2h1M1381.3 334.4h1M1394.1 321.9h1M1388.4 326.5h1M1368.7 330.1h1M1371.9 321.8h1M1389 321.1h1M1389 321.8h1M1386.9 325.9h1M1380.5 345.9h1M1393 332.9h1M1395.4 343h1M1391.9 324h1M1405.1 335h1M1392.5 304.3h1M1384.1 332.4h1M1371.6 329.1h1M1388.1 315.9h1M1372.9 326h1M1396.1 323.9h1M1387.3 334.9h1M1389.2 337.5h1M1383.5 318.9h1M1387.1 333.8h1M1387.7 345.3h1M1390.6 324.5h1M1381.4 348.5h1M1381.9 336.2h1M1389.1 322.5h1M1381.9 330.4h1M1382.7 326.4h1M1392.7 330.9h1M1379.4 331.3h1M1376.5 318.8h1M1386.4 337.6h1M1385.7 325.1h1M1391.1 347.6h1" stroke="#bdbdbd" stroke-width="1" fill="none"/>
<path d="M1361.7 372.6h1M1393.5 343.4h1M1409.8 369.1h1M1409.2 373.2h1M1392.9 385.1h1M1396.6 350h1M1374.6 383.2h1M1387.9 385.4h1M1389.8 382.9h1M1394.1 382.6h1M1397 352.2h1M1360.6 368.4h1M1392.2 343.6h1M1365 373.4h1M1368.3 356.6h1M1360.8 371.1h1M1363 372.3h1M1401.3 378.2h1M1379.5 340.3h1M1399.7 354.9h1M1398.3 383.3h1M1396.3 383.4h1M1378.5 341.5h1M1392.6 344.9h1M1369.9 382.1h1M1414.4 369.7h1M1371.8 356.1h1M1390 387h1M1362.7 363.6h1M1374.4 381.5h1M1388 331.7h1M1373.5 350.4h1M1401.9 380.6h1M1407.9 371.4h1M1407 369.9h1M1389.3 332.9h1M1392.4 343.3h1M1412.9 369.2h1M1410.8 366h1M1384.2 336.4h1M1356.6 369.5h1M1364.3 357.7h1M1404.6 374.3h1M1370.9 384.5h1M1407.7 371.2h1M1387.2 331.2h1M1409.1 377.9h1M1387.4 333.3h1M1413.3 372.2h1M1396.1 353.7h1M1389.9 337.9h1M1412.5 366.4h1M1360.9 379.4h1M1413.7 365.9h1M1398 352.2h1M1366.3 376.8h1M1391.2 342h1M1382.2 336.4h1M1362.7 375.5h1M1384.8 386.8h1M1356.6 371.6h1M1402.6 358.5h1M1395.5 353.2h1M1388.7 333.7h1M1371 381.5h1M1394.3 339.3h1M1396.6 352.2h1M1379.6 343h1M1411.7 379.1h1M1411.3 376.1h1M1397.3 382.3h1M1382.5 387.2h1M1391.1 335.8h1M1407.8 374.3h1M1362.1 372.7h1M1360.4 374h1M1372.3 350.9h1M1360.9 371.9h1M1394.1 351.2h1M1383.5 334.8h1M1389.6 329.9h1M1375.7 349.2h1M1375.9 348h1M1386.8 333.9h1M1395.8 381h1M1386.7 331.8h1M1395.6 351.9h1M1390.3 332h1M1363.8 362.8h1M1364.6 379.6h1M1407 372.4h1M1369.5 382.2h1M1386.5 332.2h1M1409.5 378.4h1M1401.5 379.8h1M1388.8 332.4h1M1373.7 385.3h1M1365.4 358.3h1M1380.6 341h1M1400.2 381.4h1M1409.2 373.3h1M1398.2 381h1M1379.7 338.2h1M1375.3 350.1h1M1388 331.9h1M1391.5 336.2h1M1363.3 368.9h1M1399.6 380.8h1M1405.7 379.6h1M1376.3 350.3h1M1370.6 378.3h1M1383.1 335.7h1M1361.4 381.5h1M1386.4 331.9h1M1388 331.5h1M1366 378.1h1M1406.6 372.9h1M1375.1 350.3h1M1359.2 378.3h1M1406.2 362.1h1M1390.3 330.8h1M1371.6 380.2h1M1390.6 337.8h1M1355.3 369.6h1M1392.1 337.5h1M1390.5 338.5h1M1394.8 347.6h1M1364.6 381.9h1M1391.8 337h1M1406.3 360.4h1M1392.1 384.4h1M1388.1 331.9h1M1363.9 376.8h1M1390.5 339.6h1M1368.5 380.9h1M1401.6 355.5h1M1410.4 372.1h1M1408.4 371h1M1398.9 380.5h1M1395.4 351h1M1381.2 384.4h1M1399.6 379.2h1M1376.8 347.1h1M1401.5 379.8h1M1383.6 386.9h1M1388.6 333.1h1M1370.2 379.3h1M1379.4 341h1M1409.7 377.9h1M1388.5 334h1M1367.4 383.9h1M1383.5 335.2h1M1379.9 338.8h1M1406.8 357.9h1M1394.1 347.7h1M1405.5 375.1h1M1380.8 344.2h1M1410 369.2h1M1385.3 386.9h1M1388.3 387.3h1M1363.8 357.7h1M1392.3 386.4h1M1408 372.9h1M1357.9 368.2h1M1360.4 373.7h1M1374.3 381.9h1M1384.3 388h1M1403.2 373.4h1M1377.5 346.9h1M1361.5 367.7h1M1389.6 337.6h1M1359.5 375h1M1377.3 346.4h1M1368.9 382h1M1373.1 385.7h1M1387.8 384.7h1M1394.8 345.7h1M1366.4 381.7h1M1414.6 368h1M1363.7 370.3h1M1373.8 386.4h1M1404.8 381.7h1M1411.8 366.5h1M1390.7 386.2h1M1369.3 383.5h1M1377 341.8h1M1382.3 336.5h1M1358.3 361.5h1M1397.8 380.6h1M1389.6 332.5h1M1383.3 383.2h1M1394.6 341.3h1M1402.1 381.1h1M1357.7 367.9h1M1374.3 386.4h1M1380.6 341.2h1M1384.6 330.4h1M1390.3 331.6h1M1367.7 381.3h1M1359.7 373.2h1M1382.7 334.1h1M1400 379.1h1M1361.7 371.8h1M1375.4 347.1h1M1396 384.8h1M1393.8 380.6h1M1360 370.3h1M1353.4 373h1M1364.2 376.7h1M1369.6 381.9h1M1370.7 384.8h1M1393.8 384.1h1M1402.2 377.7h1M1387.4 383.8h1M1394.9 381.5h1M1410.2 376h1M1395.1 351.6h1M1411.4 373.9h1M1413.2 372.7h1M1384.5 332.1h1M1410.6 370.4h1M1387.5 333.8h1M1391.3 318.9h1M1392.1 325.2h1M1394.8 333.7h1M1388.5 322.8h1M1394.3 317.9h1M1380.2 329.5h1M1380.9 318.9h1M1395.8 325.9h1M1387.1 334.4h1M1379.9 314.7h1M1373.7 321.3h1M1400.6 325.2h1M1377.7 323.5h1M1369.6 327.9h1M1383.6 331h1M1381.6 338.5h1M1383.8 322.7h1M1376.6 310.2h1M1400.2 344h1M1380.4 324.3h1M1390 314.5h1M1389.9 338.3h1M1381.8 327.7h1M1406.5 321.6h1M1384.9 332.5h1M1378 331.6h1M1383.4 321.3h1M1376.6 296.7h1M1378.2 333.1h1M1380.4 339.3h1M1380.6 314.4h1M1386.1 321.3h1M1394.6 321.9h1M1375.7 337.5h1M1357.1 313.2h1M1393.1 338.9h1M1370.2 339h1M1378.4 351h1M1384.9 310.3h1M1385.1 323.2h1M1389.8 318.7h1M1402.6 335.4h1M1379.4 337.8h1M1383.3 323h1M1395.2 340.1h1M1375.6 333.1h1M1399.9 347h1M1375 320.8h1M1397.7 329.4h1M1387.2 341.2h1M1409.3 358.5h1M1392.3 321h1M1377.3 326.6h1M1380.4 326.6h1M1365.1 318.8h1M1404.3 303.2h1M1386.4 321.4h1M1386.6 330h1M1374.1 340.4h1M1397.9 339.4h1M1389.2 337.2h1M1374.5 335.6h1M1391.9 331.1h1M1386 340.2h1M1378.3 315.1h1M1390 343h1M1385.9 331.8h1M1392.2 324.9h1M1389.9 333.5h1M1394.8 323.1h1M1391.3 325.8h1M1391.2 330.5h1M1377.1 311.9h1M1382 325.4h1M1388 321.3h1M1371.3 328.7h1M1381.8 334.1h1M1391.5 308.4h1M1387.6 310.8h1M1390.9 328.9h1M1382.6 332.3h1" stroke="#3a3a3a" stroke-width="1" fill="none"/>
<path d="M1406 368.3L1405.8 366.2L1405.3 364L1404.4 361.9L1403.1 359.9L1401.3 357.8L1398.9 355.8L1395.3 353.8L1394.7 351.9L1394.2 350L1393.7 348.2L1393.2 346.5L1392.8 344.9L1392.3 343.3L1391.9 341.9L1391.4 340.5L1391 339.2L1390.6 338.1L1390.2 337L1389.8 336.1L1389.5 335.3L1389.1 334.6L1388.7 334L1388.3 333.6L1387.9 333.3L1387.5 333.1L1387.1 333L1386.7 333.1L1386.2 333.3L1385.7 333.6L1385.2 334L1384.7 334.6L1384.1 335.3L1383.5 336.1L1382.9 337L1382.3 338.1L1381.6 339.2L1380.9 340.5L1380.1 341.9L1379.4 343.3L1378.6 344.9L1377.9 346.5L1377.1 348.2L1376.3 350L1375.5 351.9L1374.8 353.8L1371 355.8L1368.3 357.8L1366.4 359.9L1364.9 361.9L1364 364L1363.4 366.2L1363.2 368.3L1363.2 369.2L1363.4 370.1L1363.6 371L1363.8 371.9L1364.2 372.8L1364.6 373.6L1365.1 374.5L1365.7 375.3L1366.3 376.1L1367 376.8L1367.8 377.6L1368.6 378.2L1369.5 378.9L1370.4 379.5L1371.4 380.1L1372.4 380.6L1373.5 381.1L1374.7 381.6L1375.8 382L1377 382.3L1378.2 382.6L1379.5 382.9L1380.7 383.1L1382 383.2L1383.3 383.3L1384.6 383.3L1385.9 383.3L1387.2 383.2L1388.5 383.1L1389.7 382.9L1391 382.6L1392.2 382.3L1393.4 382L1394.5 381.6L1395.7 381.1L1396.8 380.6L1397.8 380.1L1398.8 379.5L1399.7 378.9L1400.6 378.2L1401.4 377.6L1402.2 376.8L1402.9 376.1L1403.5 375.3L1404.1 374.5L1404.6 373.6L1405 372.8L1405.4 371.9L1405.6 371L1405.8 370.1L1406 369.2Z" fill="#fff" stroke="#8a8a8a" stroke-width="0.65"/>
<path d="M1404 368.3L1403.8 366.4L1403.4 364.5L1402.6 362.7L1401.5 360.8L1400 359L1397.9 357.3L1395 355.5L1393.8 353.8L1393.3 352.2L1392.9 350.6L1392.4 349.1L1392 347.7L1391.6 346.3L1391.2 345L1390.8 343.8L1390.4 342.7L1390 341.7L1389.7 340.7L1389.3 339.9L1389 339.2L1388.6 338.6L1388.3 338.1L1388 337.7L1387.6 337.4L1387.2 337.2L1386.9 337.2L1386.5 337.2L1386.1 337.4L1385.6 337.7L1385.2 338.1L1384.7 338.6L1384.2 339.2L1383.6 339.9L1383.1 340.7L1382.5 341.7L1381.9 342.7L1381.2 343.8L1380.6 345L1379.9 346.3L1379.2 347.7L1378.5 349.1L1377.8 350.6L1377.1 352.2L1376.4 353.8L1375 355.5L1371.9 357.3L1369.6 359L1368 360.8L1366.7 362.7L1365.9 364.5L1365.4 366.4L1365.2 368.3L1365.3 369.1L1365.4 369.9L1365.6 370.7L1365.8 371.5L1366.1 372.3L1366.5 373.1L1367 373.9L1367.5 374.6L1368 375.3L1368.7 376L1369.4 376.7L1370.1 377.3L1370.9 377.9L1371.8 378.5L1372.7 379L1373.6 379.5L1374.6 379.9L1375.6 380.3L1376.7 380.7L1377.7 381L1378.8 381.3L1380 381.5L1381.1 381.6L1382.3 381.8L1383.4 381.8L1384.6 381.9L1385.8 381.8L1386.9 381.8L1388.1 381.6L1389.2 381.5L1390.4 381.3L1391.5 381L1392.5 380.7L1393.6 380.3L1394.6 379.9L1395.6 379.5L1396.5 379L1397.4 378.5L1398.3 377.9L1399.1 377.3L1399.8 376.7L1400.5 376L1401.2 375.3L1401.7 374.6L1402.2 373.9L1402.7 373.1L1403.1 372.3L1403.4 371.5L1403.6 370.7L1403.8 369.9L1403.9 369.1Z" fill="none" stroke="#8a8a8a" stroke-width="0.65"/>
<path d="M1401.9 368.3L1401.8 366.7L1401.4 365L1400.8 363.4L1399.8 361.8L1398.6 360.2L1396.9 358.7L1394.5 357.2L1392.8 355.7L1392.4 354.3L1392 352.9L1391.6 351.6L1391.2 350.3L1390.8 349.2L1390.5 348L1390.1 347L1389.8 346L1389.5 345.1L1389.1 344.3L1388.8 343.6L1388.5 343L1388.2 342.4L1387.9 342L1387.6 341.7L1387.3 341.4L1387 341.3L1386.6 341.2L1386.3 341.3L1385.9 341.4L1385.5 341.7L1385.1 342L1384.7 342.4L1384.2 343L1383.7 343.6L1383.2 344.3L1382.7 345.1L1382.2 346L1381.6 347L1381 348L1380.4 349.2L1379.8 350.3L1379.1 351.6L1378.5 352.9L1377.9 354.3L1377.3 355.7L1375.4 357.2L1372.8 358.7L1371 360.2L1369.6 361.8L1368.6 363.4L1367.8 365L1367.4 366.7L1367.3 368.3L1367.3 369L1367.4 369.8L1367.6 370.5L1367.8 371.2L1368.1 371.9L1368.4 372.6L1368.8 373.3L1369.3 373.9L1369.8 374.6L1370.4 375.2L1371 375.8L1371.6 376.3L1372.4 376.9L1373.1 377.4L1373.9 377.9L1374.8 378.3L1375.6 378.7L1376.6 379L1377.5 379.4L1378.5 379.6L1379.5 379.9L1380.5 380.1L1381.5 380.2L1382.5 380.3L1383.6 380.4L1384.6 380.4L1385.6 380.4L1386.7 380.3L1387.7 380.2L1388.7 380.1L1389.7 379.9L1390.7 379.6L1391.7 379.4L1392.6 379L1393.6 378.7L1394.4 378.3L1395.3 377.9L1396.1 377.4L1396.8 376.9L1397.6 376.3L1398.2 375.8L1398.8 375.2L1399.4 374.6L1399.9 373.9L1400.4 373.3L1400.8 372.6L1401.1 371.9L1401.4 371.2L1401.6 370.5L1401.8 369.8L1401.9 369Z" fill="none" stroke="#8a8a8a" stroke-width="0.65"/>
<path d="M1399.9 368.3L1399.8 366.9L1399.5 365.5L1398.9 364.1L1398.2 362.8L1397.1 361.4L1395.8 360.1L1393.9 358.8L1391.8 357.5L1391.5 356.3L1391.1 355.2L1390.8 354L1390.4 353L1390.1 351.9L1389.8 351L1389.5 350.1L1389.2 349.3L1388.9 348.5L1388.6 347.8L1388.3 347.2L1388.1 346.7L1387.8 346.2L1387.5 345.8L1387.2 345.5L1387 345.3L1386.7 345.2L1386.4 345.2L1386.1 345.2L1385.7 345.3L1385.4 345.5L1385 345.8L1384.7 346.2L1384.3 346.7L1383.8 347.2L1383.4 347.8L1382.9 348.5L1382.4 349.3L1381.9 350.1L1381.4 351L1380.9 351.9L1380.3 353L1379.8 354L1379.2 355.2L1378.7 356.3L1378.1 357.5L1375.9 358.8L1373.9 360.1L1372.4 361.4L1371.2 362.8L1370.4 364.1L1369.8 365.5L1369.4 366.9L1369.3 368.3L1369.4 368.9L1369.4 369.6L1369.6 370.2L1369.8 370.9L1370 371.5L1370.3 372.1L1370.7 372.7L1371.1 373.3L1371.5 373.8L1372 374.4L1372.6 374.9L1373.2 375.4L1373.8 375.9L1374.5 376.3L1375.2 376.7L1375.9 377.1L1376.7 377.5L1377.5 377.8L1378.3 378.1L1379.2 378.3L1380.1 378.5L1380.9 378.7L1381.8 378.8L1382.8 378.9L1383.7 379L1384.6 379L1385.5 379L1386.4 378.9L1387.4 378.8L1388.3 378.7L1389.1 378.5L1390 378.3L1390.9 378.1L1391.7 377.8L1392.5 377.5L1393.3 377.1L1394 376.7L1394.7 376.3L1395.4 375.9L1396 375.4L1396.6 374.9L1397.2 374.4L1397.7 373.8L1398.1 373.3L1398.5 372.7L1398.9 372.1L1399.2 371.5L1399.4 370.9L1399.6 370.2L1399.8 369.6L1399.8 368.9Z" fill="none" stroke="#8a8a8a" stroke-width="0.65"/>
<path d="M1397.8 368.3L1397.7 367.1L1397.5 366L1397.1 364.8L1396.5 363.7L1395.7 362.5L1394.6 361.4L1393.2 360.4L1391.2 359.3L1390.5 358.3L1390.2 357.3L1389.9 356.4L1389.6 355.5L1389.4 354.6L1389.1 353.8L1388.8 353.1L1388.6 352.4L1388.3 351.8L1388.1 351.2L1387.8 350.7L1387.6 350.2L1387.4 349.8L1387.1 349.5L1386.9 349.3L1386.7 349.1L1386.4 349L1386.1 349L1385.9 349L1385.6 349.1L1385.3 349.3L1385 349.5L1384.7 349.8L1384.3 350.2L1383.9 350.7L1383.6 351.2L1383.1 351.8L1382.7 352.4L1382.3 353.1L1381.8 353.8L1381.4 354.6L1380.9 355.5L1380.4 356.4L1380 357.3L1379.5 358.3L1378.7 359.3L1376.6 360.4L1375 361.4L1373.8 362.5L1372.9 363.7L1372.2 364.8L1371.8 366L1371.5 367.1L1371.4 368.3L1371.4 368.9L1371.5 369.4L1371.6 370L1371.8 370.5L1372 371.1L1372.2 371.6L1372.5 372.1L1372.9 372.6L1373.3 373.1L1373.7 373.6L1374.2 374L1374.7 374.4L1375.3 374.9L1375.8 375.2L1376.4 375.6L1377.1 375.9L1377.8 376.2L1378.5 376.5L1379.2 376.8L1379.9 377L1380.7 377.1L1381.4 377.3L1382.2 377.4L1383 377.5L1383.8 377.5L1384.6 377.6L1385.4 377.5L1386.2 377.5L1387 377.4L1387.8 377.3L1388.5 377.1L1389.3 377L1390 376.8L1390.7 376.5L1391.4 376.2L1392.1 375.9L1392.8 375.6L1393.4 375.2L1393.9 374.9L1394.5 374.4L1395 374L1395.5 373.6L1395.9 373.1L1396.3 372.6L1396.7 372.1L1397 371.6L1397.2 371.1L1397.4 370.5L1397.6 370L1397.7 369.4L1397.8 368.9Z" fill="none" stroke="#8a8a8a" stroke-width="0.65"/>
<path d="M1395.8 368.3L1395.7 367.4L1395.5 366.4L1395.2 365.5L1394.7 364.5L1394.1 363.6L1393.3 362.7L1392.3 361.9L1390.9 361L1389.6 360.2L1389.4 359.4L1389.1 358.6L1388.9 357.9L1388.6 357.2L1388.4 356.6L1388.2 356L1388 355.4L1387.7 354.9L1387.5 354.4L1387.3 354L1387.1 353.6L1386.9 353.3L1386.7 353.1L1386.5 352.9L1386.3 352.7L1386.1 352.7L1385.9 352.6L1385.7 352.7L1385.4 352.7L1385.2 352.9L1384.9 353.1L1384.6 353.3L1384.3 353.6L1384 354L1383.7 354.4L1383.4 354.9L1383 355.4L1382.7 356L1382.3 356.6L1381.9 357.2L1381.5 357.9L1381.1 358.6L1380.7 359.4L1380.3 360.2L1378.9 361L1377.4 361.9L1376.2 362.7L1375.3 363.6L1374.6 364.5L1374.1 365.5L1373.7 366.4L1373.5 367.4L1373.4 368.3L1373.4 368.8L1373.5 369.2L1373.6 369.7L1373.7 370.2L1373.9 370.6L1374.2 371.1L1374.4 371.5L1374.7 371.9L1375 372.4L1375.4 372.7L1375.8 373.1L1376.2 373.5L1376.7 373.8L1377.2 374.2L1377.7 374.5L1378.3 374.7L1378.8 375L1379.4 375.2L1380 375.4L1380.6 375.6L1381.3 375.8L1381.9 375.9L1382.6 376L1383.3 376.1L1383.9 376.1L1384.6 376.1L1385.3 376.1L1385.9 376.1L1386.6 376L1387.3 375.9L1387.9 375.8L1388.6 375.6L1389.2 375.4L1389.8 375.2L1390.4 375L1390.9 374.7L1391.5 374.5L1392 374.2L1392.5 373.8L1393 373.5L1393.4 373.1L1393.8 372.7L1394.2 372.4L1394.5 371.9L1394.8 371.5L1395 371.1L1395.3 370.6L1395.5 370.2L1395.6 369.7L1395.7 369.2L1395.8 368.8Z" fill="none" stroke="#8a8a8a" stroke-width="0.65"/>
<path d="M1393.7 368.3L1393.7 367.6L1393.5 366.8L1393.3 366.1L1393 365.4L1392.5 364.7L1391.9 364L1391.2 363.3L1390.3 362.6L1389 362L1388.5 361.4L1388.3 360.8L1388.1 360.2L1387.9 359.7L1387.7 359.2L1387.5 358.7L1387.3 358.3L1387.2 357.9L1387 357.5L1386.8 357.2L1386.7 356.9L1386.5 356.7L1386.3 356.5L1386.2 356.3L1386 356.2L1385.8 356.1L1385.7 356.1L1385.5 356.1L1385.3 356.2L1385.1 356.3L1384.9 356.5L1384.6 356.7L1384.4 356.9L1384.1 357.2L1383.9 357.5L1383.6 357.9L1383.3 358.3L1383 358.7L1382.7 359.2L1382.4 359.7L1382.1 360.2L1381.7 360.8L1381.4 361.4L1380.8 362L1379.4 362.6L1378.3 363.3L1377.5 364L1376.9 364.7L1376.3 365.4L1376 366.1L1375.7 366.8L1375.5 367.6L1375.5 368.3L1375.5 368.7L1375.5 369.1L1375.6 369.5L1375.7 369.8L1375.9 370.2L1376.1 370.6L1376.3 370.9L1376.5 371.3L1376.8 371.6L1377.1 371.9L1377.4 372.2L1377.8 372.5L1378.1 372.8L1378.5 373.1L1379 373.3L1379.4 373.6L1379.9 373.8L1380.4 374L1380.9 374.1L1381.4 374.3L1381.9 374.4L1382.4 374.5L1383 374.6L1383.5 374.7L1384 374.7L1384.6 374.7L1385.2 374.7L1385.7 374.7L1386.2 374.6L1386.8 374.5L1387.3 374.4L1387.8 374.3L1388.3 374.1L1388.8 374L1389.3 373.8L1389.8 373.6L1390.2 373.3L1390.7 373.1L1391.1 372.8L1391.4 372.5L1391.8 372.2L1392.1 371.9L1392.4 371.6L1392.7 371.3L1392.9 370.9L1393.1 370.6L1393.3 370.2L1393.5 369.8L1393.6 369.5L1393.7 369.1L1393.7 368.7Z" fill="none" stroke="#8a8a8a" stroke-width="0.65"/>
<path d="M1391.7 368.3L1391.7 367.8L1391.6 367.2L1391.4 366.7L1391.2 366.2L1390.9 365.7L1390.5 365.2L1390 364.7L1389.4 364.2L1388.7 363.7L1387.6 363.3L1387.5 362.8L1387.3 362.4L1387.2 362L1387 361.7L1386.9 361.3L1386.7 361L1386.6 360.7L1386.5 360.4L1386.3 360.2L1386.2 360L1386.1 359.8L1386 359.7L1385.8 359.6L1385.7 359.5L1385.6 359.4L1385.4 359.4L1385.3 359.4L1385.1 359.5L1385 359.6L1384.8 359.7L1384.6 359.8L1384.4 360L1384.2 360.2L1384 360.4L1383.8 360.7L1383.6 361L1383.4 361.3L1383.1 361.7L1382.9 362L1382.6 362.4L1382.4 362.8L1382.1 363.3L1381 363.7L1380.1 364.2L1379.5 364.7L1378.9 365.2L1378.5 365.7L1378.1 366.2L1377.9 366.7L1377.7 367.2L1377.6 367.8L1377.5 368.3L1377.5 368.6L1377.6 368.9L1377.6 369.2L1377.7 369.5L1377.8 369.8L1378 370.1L1378.1 370.3L1378.3 370.6L1378.5 370.9L1378.8 371.1L1379 371.4L1379.3 371.6L1379.6 371.8L1379.9 372L1380.2 372.2L1380.6 372.4L1380.9 372.6L1381.3 372.7L1381.7 372.8L1382.1 372.9L1382.5 373L1382.9 373.1L1383.3 373.2L1383.7 373.2L1384.2 373.3L1384.6 373.3L1385 373.3L1385.5 373.2L1385.9 373.2L1386.3 373.1L1386.7 373L1387.1 372.9L1387.5 372.8L1387.9 372.7L1388.3 372.6L1388.6 372.4L1389 372.2L1389.3 372L1389.6 371.8L1389.9 371.6L1390.2 371.4L1390.4 371.1L1390.7 370.9L1390.9 370.6L1391.1 370.3L1391.2 370.1L1391.4 369.8L1391.5 369.5L1391.6 369.2L1391.6 368.9L1391.7 368.6Z" fill="none" stroke="#8a8a8a" stroke-width="0.65"/>
<path d="M1389.6 368.3L1389.6 368L1389.6 367.6L1389.5 367.3L1389.3 366.9L1389.2 366.6L1389 366.2L1388.7 365.9L1388.4 365.6L1388 365.3L1387.5 365L1386.8 364.7L1386.5 364.5L1386.4 364.2L1386.3 364L1386.2 363.7L1386.1 363.5L1386 363.3L1385.9 363.2L1385.8 363L1385.7 362.9L1385.7 362.8L1385.6 362.7L1385.5 362.6L1385.4 362.5L1385.3 362.5L1385.2 362.5L1385.1 362.5L1385 362.5L1384.9 362.6L1384.7 362.7L1384.6 362.8L1384.5 362.9L1384.3 363L1384.2 363.2L1384 363.3L1383.9 363.5L1383.7 363.7L1383.5 364L1383.4 364.2L1383.2 364.5L1382.8 364.7L1382.1 365L1381.5 365.3L1381.1 365.6L1380.7 365.9L1380.4 366.2L1380.1 366.6L1379.9 366.9L1379.8 367.3L1379.6 367.6L1379.6 368L1379.6 368.3L1379.6 368.5L1379.6 368.7L1379.6 368.9L1379.7 369.1L1379.8 369.4L1379.9 369.6L1380 369.8L1380.1 369.9L1380.3 370.1L1380.5 370.3L1380.6 370.5L1380.8 370.6L1381 370.8L1381.3 370.9L1381.5 371.1L1381.7 371.2L1382 371.3L1382.3 371.4L1382.5 371.5L1382.8 371.6L1383.1 371.7L1383.4 371.7L1383.7 371.8L1384 371.8L1384.3 371.8L1384.6 371.8L1384.9 371.8L1385.2 371.8L1385.5 371.8L1385.8 371.7L1386.1 371.7L1386.4 371.6L1386.7 371.5L1386.9 371.4L1387.2 371.3L1387.5 371.2L1387.7 371.1L1387.9 370.9L1388.2 370.8L1388.4 370.6L1388.6 370.5L1388.7 370.3L1388.9 370.1L1389.1 369.9L1389.2 369.8L1389.3 369.6L1389.4 369.4L1389.5 369.1L1389.6 368.9L1389.6 368.7L1389.6 368.5Z" fill="none" stroke="#8a8a8a" stroke-width="0.65"/>
<ellipse cx="1384.6" cy="368.6" rx="19.7" ry="8.2" fill="#6c6c6c" opacity="0.3"/>
<ellipse cx="1384.6" cy="368.6" rx="16.1" ry="6.8" fill="#6c6c6c" opacity="0.3"/>
<ellipse cx="1384.6" cy="368.6" rx="12.6" ry="5.3" fill="#6c6c6c" opacity="0.3"/>
<ellipse cx="1384.6" cy="368.6" rx="9.1" ry="3.8" fill="#6c6c6c" opacity="0.3"/>
<ellipse cx="1386.1" cy="368.3" rx="3.4" ry="1.3" fill="#e8e8e8" opacity="0.9"/>
<rect x="1294.2" y="276.5" width="145.2" height="145" fill="none" stroke="#6e6e6e" stroke-width="1.2"/>
<rect x="1350.5" y="285.6" width="70.8" height="54.8" fill="none" stroke="#333" stroke-width="1"/>
<text x="1308.1" y="298.4" font-size="16.8">4.89</text>
<path d="M1563 377.6h1M1560 368.9h1M1525 384.4h1M1517.6 372.2h1M1523.9 366.4h1M1524.7 390.6h1M1555.1 395.9h1M1563.2 396.4h1M1519.6 374.2h1M1558.8 394.6h1M1570.9 385.6h1M1562.2 379.5h1M1558.6 394.6h1M1527.6 389.5h1M1525.6 364.6h1M1529.5 395.2h1M1560 371.8h1M1560.9 371.7h1M1544.2 359.9h1M1518.5 395.6h1M1561.5 394.2h1M1569.4 378.2h1M1546.2 361.9h1M1515.3 380.1h1M1548 400.5h1M1537.7 362h1M1515.6 382.4h1M1554.7 363h1M1547.6 362.6h1M1554.7 400.5h1M1563.6 390.3h1M1551 365.2h1M1562 375.5h1M1549.4 363.1h1M1570.5 371.1h1M1553.5 397.2h1M1559.6 368.8h1M1548.1 362.8h1M1531.5 364.8h1M1547.1 361.3h1M1550.5 394.1h1M1528.2 365.7h1M1549 394.8h1M1531.2 364h1M1554.9 362h1M1533.5 397.5h1M1524.2 371.1h1M1518 371.6h1M1538.2 393.8h1M1527.9 397.3h1M1532.3 364.7h1M1569.8 377.1h1M1522.5 382.1h1M1515.3 384.5h1M1559.4 368.6h1M1561 373.4h1M1525.4 367.7h1M1520.6 393.1h1M1560.1 389.6h1M1521.2 388.8h1M1531.1 364h1M1561.2 384.9h1M1558.5 365.1h1M1558.7 396.6h1M1559 385.4h1M1570.6 384h1M1557.8 390.4h1M1558.6 363.6h1M1561.8 388.1h1M1558.7 370.6h1M1558 363.7h1M1528.7 364h1M1547.3 361.8h1M1552.5 401.7h1M1551.5 395h1M1558.6 366.8h1M1530.5 393.5h1M1562.3 384.8h1M1540.1 362.1h1M1565.7 366.6h1M1539.2 398.8h1M1562.2 383.4h1M1521.8 375.7h1M1516.3 389.3h1M1557.7 392.8h1M1568.4 393.7h1M1547 360h1M1515.2 377.5h1M1520.5 378.7h1M1523.9 369.7h1M1523.9 368.8h1M1564.1 384.3h1M1537.7 394.8h1M1561.1 384.8h1M1523.6 389.7h1M1518.6 371.2h1M1543.5 361.5h1M1523.7 369.4h1M1533.1 363.6h1M1518.3 375.9h1M1519.2 392.5h1M1560.2 395.7h1M1530.8 390.4h1M1519.5 369.6h1M1567.1 394.7h1M1517.4 386.1h1M1533.4 396.8h1M1518 376.8h1M1519.6 374.2h1M1537.1 394.3h1M1559.9 388.4h1M1562.8 379.4h1M1561.6 390.7h1M1535.5 399.4h1M1551.1 391.4h1M1520.3 369.7h1M1521.5 371.9h1M1546.4 393.1h1M1518.9 373.7h1M1560.3 378.4h1M1561.8 387.6h1M1510.6 380.8h1M1540.7 361.6h1M1546.1 400.6h1M1518.4 389.4h1M1526.5 387.7h1M1566.9 373.9h1M1513.4 381.5h1M1548.5 394.8h1M1520.8 390.9h1M1545.2 361.2h1M1535.9 336.4h1M1530.4 328h1M1536.2 347.6h1M1536 349.8h1M1538.1 354h1M1538.2 338.2h1M1536 347.8h1M1538.7 343.5h1M1536.5 349.6h1M1533.2 369.3h1M1536 331.2h1M1536.9 360.7h1M1540.3 338.2h1M1536.9 343.1h1M1541 338.6h1M1537.9 355.5h1M1537.9 370.1h1M1532.6 333.4h1M1532.3 344h1M1535 356.6h1M1537 354.1h1M1535 343.7h1M1529.5 356.8h1M1534.1 344.2h1M1530.9 340.3h1M1535.7 347h1M1535.1 342.8h1M1535.9 332h1M1533.3 356.6h1M1538.9 365.5h1M1538.3 338.5h1M1535 336.3h1M1539.1 339.1h1M1532.2 345.8h1M1538.7 356.7h1M1533.1 353.3h1M1544.2 359.4h1M1528.5 346.4h1M1531.6 338.1h1M1536.7 332.6h1M1532.1 354.9h1M1532.8 331.6h1M1530 355.8h1M1532.5 357.3h1M1532.2 350.2h1M1529.8 349.2h1M1534.5 347.9h1M1537.6 346h1M1531.5 347.4h1M1538.4 350.1h1M1535.4 352.4h1M1538.4 326.9h1M1538.6 331.2h1M1531.1 355.5h1M1535.9 322.7h1M1537.5 341h1M1535.3 339.6h1M1531.3 357.6h1M1538.4 343.6h1M1537.8 342.1h1M1535.7 356.1h1M1529.3 352.8h1M1551.9 334.7h1M1551 352.4h1M1552.6 341.1h1M1548.9 339.2h1M1545.6 334.9h1M1552.9 338.1h1M1557.6 337.3h1M1551.7 350.9h1M1551 345.4h1M1548.4 354.5h1M1550.6 346h1M1555.2 337.1h1M1553.1 348.6h1M1549.5 349.7h1M1549.9 341h1M1557.1 363.3h1M1551.6 346.9h1M1556.9 323.6h1M1550.7 342.7h1M1555.5 336.7h1M1550.4 341h1M1551.9 331.4h1M1550.2 356.7h1M1549.5 336.6h1M1555.7 352.7h1M1553.4 337.1h1M1552.9 354.3h1M1548.1 340h1M1559.4 357.9h1M1549.5 349.9h1M1551.9 367.2h1M1552.9 345.6h1M1551.8 336.9h1M1554.1 352.8h1M1550.3 340.9h1M1555.4 337.6h1M1557.4 345.8h1M1549.8 335.7h1M1552.3 335h1M1556.6 353.2h1M1551.7 350.7h1M1555.4 349.8h1M1549.1 352.3h1M1556.2 354.6h1M1552.9 334.4h1M1563 351.8h1M1552.9 370.4h1M1555.1 348.9h1M1550 339.2h1M1549.7 350.2h1M1548.5 346.8h1M1550 330.5h1M1552.2 343h1M1550.4 347.9h1M1552.4 346.5h1M1557.2 334h1M1556.6 333.4h1M1554.4 352.3h1M1549.8 357.6h1M1558.5 337.1h1M1549.8 343.2h1M1556.3 318.2h1M1543.9 322.1h1M1542 325.2h1M1545.5 334.6h1M1540.9 330.7h1M1542.1 323.2h1M1542.2 329.6h1M1536.1 320.5h1M1536.9 331h1M1539.1 328.9h1M1548.1 327.5h1M1539.6 331.3h1M1547.1 316.4h1M1537.9 325.4h1M1554.9 321h1M1552.4 335h1M1544.7 333h1M1536.8 338.9h1M1545 323.9h1M1545 320.7h1M1539 341.5h1M1541.8 325.5h1M1546.3 324.9h1M1546.1 329.2h1M1536.3 323.8h1M1550.5 333.3h1M1546.4 334h1M1540.4 335.3h1M1543.5 328.2h1M1537 323.8h1M1543.1 319h1M1538 331.9h1M1532.8 323.2h1M1533.4 336.3h1M1549.7 335.7h1M1544.9 327h1M1553.5 322.3h1M1546.5 320.5h1M1541.6 322.3h1M1549.7 320.3h1M1562.7 326.2h1M1541.9 325.5h1M1541.6 344.5h1M1524 405h1M1553.2 399.8h1M1513.8 412.8h1M1537.2 405.3h1M1538 411.6h1M1546.4 396.5h1M1546.5 394.1h1M1537.5 399.9h1M1551 402.5h1M1545.7 392.3h1M1539.2 395.8h1M1541.7 398.4h1M1541.2 395.8h1M1531.7 394.8h1M1539.7 392.1h1M1548.2 392.1h1M1543.3 408.8h1M1538.2 403.4h1M1523.7 406.8h1M1541.1 415.4h1M1537.7 413.6h1M1533.6 411.2h1M1535.7 396.4h1M1538.1 400h1M1532.4 394.5h1M1541.5 404.7h1M1547.7 400.9h1M1541.4 396.1h1M1538.6 400.7h1M1540.4 400.9h1M1550.8 405.9h1M1560.6 392.3h1M1539.5 413.2h1M1543.5 405.3h1M1539 414.4h1M1527.2 405.8h1M1535.3 395.9h1M1534.8 401.2h1M1544.3 410.7h1M1545.8 404h1M1551.9 391.5h1M1537.5 405.5h1M1535.4 387.2h1M1541.8 410.4h1M1529.4 402.6h1M1546 378.7h1M1546.5 397.9h1M1543 406.7h1M1529.5 404.4h1M1536.5 392.8h1M1529.3 396.7h1M1556.4 406.6h1" stroke="#bdbdbd" stroke-width="1" fill="none"/>
<path d="M1559.8 366.5h1M1563.6 374.3h1M1563.9 369.7h1M1551.6 361.8h1M1561.2 376.7h1M1558.5 365.1h1M1544.6 394.7h1M1530.2 366.2h1M1564 383h1M1557.6 367.5h1M1523.7 386.9h1M1529.3 391.9h1M1525 369h1M1525.4 391.5h1M1521.2 372.6h1M1527.1 372.2h1M1553.2 364.3h1M1558.1 370.6h1M1535 391.4h1M1559.1 367.1h1M1547.3 394.5h1M1556.1 363.5h1M1556.6 390.9h1M1552.9 363.9h1M1559.2 372.5h1M1560.5 367.6h1M1530.5 394.1h1M1561.2 369.7h1M1532.3 366.3h1M1560.3 386.9h1M1560.7 383.8h1M1550.5 391.9h1M1540.4 397.6h1M1561.2 369.5h1M1555.2 395.2h1M1528.6 391.5h1M1563.7 370.1h1M1565.6 372.7h1M1553.4 365.8h1M1562.1 372.4h1M1528.8 366.5h1M1537.9 394.1h1M1565.5 370.1h1M1532.9 363.5h1M1557.7 363.3h1M1532.8 392.1h1M1518.7 380.8h1M1562.7 372.5h1M1559.4 391.4h1M1549.1 361.3h1M1534.4 364h1M1527.2 368.1h1M1520 380.8h1M1525.4 370.6h1M1541.7 360.5h1M1554.6 391.9h1M1531.5 391.3h1M1561.9 370.3h1M1545.7 361.3h1M1519 373h1M1531.6 364.8h1M1533.5 364.5h1M1554.1 364.1h1M1548.8 395.3h1M1564.5 381.1h1M1529.6 394.3h1M1522.8 376.1h1M1558 392.7h1M1532.3 396.4h1M1557 365.3h1M1519.2 380.3h1M1538.1 395.6h1M1536.7 396.9h1M1544.2 361h1M1522.9 372.4h1M1539.5 396.9h1M1557.1 395.7h1M1543 396.4h1M1540.7 396.2h1M1550.1 362.7h1M1540 362.7h1M1543.3 361.2h1M1547.6 392.6h1M1531 396.2h1M1529.5 391.9h1M1565.5 381.6h1M1525.2 390.3h1M1555.8 390.4h1M1561.1 374.8h1M1543.9 361.9h1M1524.1 389.6h1M1529.8 392.3h1M1565.8 376.7h1M1542.1 361.9h1M1566.9 378.4h1M1537.2 362.9h1M1553.7 362.2h1M1558.2 387.5h1M1530.9 365.7h1M1550.6 362h1M1538 362.4h1M1523.6 368h1M1518.2 375.5h1M1553.4 362h1M1527 388.4h1M1537.4 362.7h1M1558.7 366.7h1M1563.2 379.1h1M1528 366.3h1M1559.5 368.8h1M1554.2 366h1M1558.1 385.1h1M1518.6 375.4h1M1525.2 368.7h1M1557.9 368h1M1560.9 378.5h1M1553.9 391.1h1M1526.1 368.3h1M1561.5 376.5h1M1559.6 365.9h1M1538.1 395.4h1M1561.2 369.4h1M1547.3 392.2h1M1526.9 387.6h1M1520.3 369.1h1M1561.4 377.7h1M1544.1 361.9h1M1565.5 371.2h1M1559.4 385.7h1M1538.1 361.6h1M1527.4 368.5h1M1563 379.3h1M1539.8 395.1h1M1526.7 388.8h1M1565.5 379.4h1M1554.1 394.2h1M1561.5 387.1h1M1559 370.1h1M1555.2 363.7h1M1532.6 392.2h1M1566.6 374.6h1M1518.2 375.1h1M1556.4 390.9h1M1554.3 361.2h1M1565.8 380.1h1M1522.6 389.3h1M1546.1 362h1M1529.6 390.6h1M1556 390.8h1M1555.8 363.7h1M1558.1 388.3h1M1543.9 395.6h1M1558.7 391.8h1M1557.4 365.4h1M1530.5 390.8h1M1532.7 396.4h1M1565.6 383.4h1M1557.8 366.4h1M1521.8 386.6h1M1541.3 392.1h1M1559.2 367.4h1M1536.5 363.1h1M1519.5 374.8h1M1557.9 363.6h1M1558.4 387.1h1M1539 363.2h1M1561.4 389.3h1M1535.2 394.2h1M1521.6 382.1h1M1541.6 362.8h1M1559.3 374.8h1M1531.3 390.1h1M1533.7 392.6h1M1521.8 373h1M1542.1 393.7h1M1529.9 393.1h1M1563.1 377.1h1M1539 396.5h1M1528.7 389h1M1522.4 381.8h1M1560.5 382.1h1M1540 361.4h1M1523.8 386.5h1M1559.2 386h1M1548 362.5h1M1563.8 376.5h1M1563.3 380h1M1525.6 389.8h1M1560 367h1M1542.4 395.8h1M1540.7 363.5h1M1529.6 366.6h1M1552.6 365.7h1M1529.6 389h1M1561.7 377.5h1M1567.5 382.2h1M1546.9 392.8h1M1517.8 381.3h1M1526 368.4h1M1522.6 388.2h1M1518.5 377.7h1M1534.3 365.6h1M1556.1 393.6h1M1533.6 364.1h1M1548.5 396.6h1M1524.7 369.9h1M1521.4 376.9h1M1550.6 394.5h1M1564.8 377h1M1554.6 389.9h1M1558.2 363.9h1M1560.4 373.5h1M1562.3 381.1h1M1563.7 368.1h1M1519.7 376.9h1M1518.2 380.8h1M1543.2 361.3h1M1529.8 392.3h1M1532.4 365.8h1M1550.9 392.7h1M1553.5 392.7h1M1526.2 388.1h1M1535 397.6h1M1536.5 394h1M1559.9 374.8h1M1562 391h1M1558.7 389.4h1M1516.9 374.2h1M1547.2 362.8h1M1562 368.9h1M1564.3 379.9h1M1522.3 378.5h1M1527 389.5h1M1566.1 379.6h1M1546.3 395.8h1M1557.5 390.5h1M1556.7 393.5h1M1536.9 362.1h1M1554.4 394.6h1M1547.5 395.2h1M1551.4 393.7h1M1557.3 390.2h1M1523.4 391.7h1M1563.2 380.4h1M1564.3 369.7h1M1535.9 396.6h1M1531 365.6h1M1564.8 381.2h1M1544.4 393.8h1M1535.1 343h1M1535.2 332.4h1M1539.9 351.5h1M1537.2 348.4h1M1529.9 348.7h1M1543.1 342.5h1M1531.5 341.7h1M1538.3 329.3h1M1535.9 358h1M1535.5 344h1M1534 347.1h1M1530.6 338.7h1M1535 350.7h1M1538 357.2h1M1535.5 345.4h1M1534 346.5h1M1537.4 344h1M1536.2 332.4h1M1539.4 359h1M1541.4 332.1h1M1529.2 343.4h1M1541.1 364.6h1M1530.3 368.8h1M1534.5 347.1h1M1533.8 370.9h1M1537.1 342.4h1M1533.6 339.9h1M1526.9 358.6h1M1543.6 336.2h1M1534 328.4h1M1541.3 347.4h1M1534.4 343.6h1M1526.1 363.4h1M1534 348h1M1530.6 331.4h1M1535.7 347.1h1M1534.1 330.3h1M1537.9 330.7h1M1542 363.8h1M1537.8 348.7h1M1531.9 346.2h1M1533.5 366.9h1M1528.3 333.8h1M1534 337h1M1539 326.1h1M1531.9 349.5h1M1534.7 338.9h1M1535.2 338.9h1M1541.1 344.8h1M1537.3 333.2h1M1532.2 357.3h1M1534.4 345.8h1M1532.9 335h1M1537.6 356.5h1M1534.1 339.4h1M1536.8 342.5h1M1541.3 358.1h1M1541.7 355.1h1M1534.2 357.2h1M1529.2 344.2h1M1535.1 339.9h1M1537.1 346.2h1M1532.3 352.7h1M1538.3 351.7h1M1535.5 325.8h1M1537.6 356.1h1M1537.5 354.1h1M1536.8 344.9h1M1531.8 348.2h1M1539.9 353.4h1M1536.2 327.6h1M1539.4 360.3h1M1530.7 337.9h1M1536.2 361.8h1M1535.2 368.6h1M1540.4 341h1M1540.6 332.2h1M1531.5 348.8h1M1535.7 348.3h1M1533.4 337.4h1M1537.1 340.2h1M1532.2 356.4h1M1540.3 320h1M1527.6 364.5h1M1535.5 354.7h1M1536.9 340.9h1M1533.7 332.1h1M1533.4 352.6h1M1530.8 351.1h1M1536.6 346.1h1M1538.2 363.9h1M1536.1 346.7h1M1534.3 367.1h1M1535.9 356.2h1M1535.3 336.3h1M1533.4 344.8h1M1532.6 354.1h1M1537.3 342.3h1M1532.6 341.8h1M1538.2 366.5h1M1536.1 334.1h1M1534.3 331.7h1M1537.7 353.5h1M1539.3 338.2h1M1539.9 355h1M1535.3 362.5h1M1537 337.1h1M1536.8 363.1h1M1540.7 331.5h1M1536.2 344.9h1M1534.9 344.2h1M1538.5 359.4h1M1536.5 353.8h1M1533.7 354.4h1M1532 360.8h1M1532.8 343.1h1M1533.5 351.4h1M1531.5 307.5h1M1532.7 347.2h1M1533.3 342.7h1M1530.2 365.2h1M1533.6 356.7h1M1533.7 325.8h1M1534.6 340.9h1M1532.8 332.7h1M1536.3 331.6h1M1542 344h1M1538.9 330.7h1M1543.3 338.4h1M1541.1 331.7h1M1533.8 349.9h1M1533.1 356.9h1M1538 334.4h1M1536.9 342.9h1M1533 332.5h1M1537 336.7h1M1530.2 333.9h1M1533.1 338h1M1532.8 342.9h1M1533.8 346.3h1M1530.7 344.4h1M1535.7 346.8h1M1538.4 357.9h1M1535.7 339.7h1M1535.4 334.5h1M1534.9 334.3h1M1532.4 349.7h1M1540.3 364h1M1533.8 340.6h1M1537.7 361.8h1M1534.7 342.7h1M1528.2 337.5h1M1532.3 327.9h1M1535.7 348.8h1M1533.5 331.6h1M1528.5 351.9h1M1541.5 365.8h1M1544.1 325.6h1M1538.3 355.6h1M1537.2 338h1M1535.5 356.2h1M1536.1 365.5h1M1530.7 351.6h1M1546.1 337h1M1531.4 356.4h1M1537.7 357.6h1M1535 340.8h1M1536.8 364.9h1M1543.7 354.8h1M1548.1 341.1h1M1550.5 336.7h1M1547.7 338.8h1M1553.5 331.7h1M1552.8 341.9h1M1543.9 343.5h1M1550.3 350.5h1M1553.5 332.8h1M1558.8 344h1M1552.8 332.2h1M1545.8 357.4h1M1553.4 336.7h1M1552.1 359.5h1M1559.6 349.2h1M1553.1 354.4h1M1553.6 360.5h1M1553.5 327.3h1M1551.3 341.7h1M1551.5 338.5h1M1559 367.5h1M1552.5 329.9h1M1550.9 327.6h1M1554.8 373h1M1545.7 355.1h1M1552.9 342.9h1M1556.1 340.8h1M1555.3 353.8h1M1555.9 326.9h1M1550.4 333.8h1M1552.4 337.5h1M1551.3 348h1M1555.5 363.1h1M1556.5 358h1M1556.1 360.9h1M1553.3 351.4h1M1553.2 342.3h1M1551.1 325.2h1M1555 338.5h1M1547.1 354.7h1M1553 347.2h1M1551.6 340h1M1553.1 362.6h1M1548.5 348.1h1M1548.5 340.8h1M1556.6 335.1h1M1558.3 359.8h1M1547.5 333.8h1M1551.1 347.6h1M1551.6 326h1M1544.6 342h1M1556.7 346.4h1M1552.6 337.9h1M1551.3 342.6h1M1553.3 337.2h1M1554.9 347.2h1M1550.9 331.6h1M1553.3 348.2h1M1550.9 353.9h1M1555.1 338.9h1M1550.4 341.3h1M1551.4 328.9h1M1556.5 355h1M1559.2 350.8h1M1555.1 349.1h1M1554.5 336.8h1M1545.5 327.5h1M1555.8 339.7h1M1555.3 340h1M1555.1 341.2h1M1553.6 330.8h1M1558 333h1M1557.2 320.5h1M1551.4 370.4h1M1547.8 362.8h1M1552.3 344.1h1M1558 320h1M1561.5 332.8h1M1549.5 341.9h1M1554.2 351.9h1M1542.7 335.7h1M1556.5 345.3h1M1556.5 352.5h1M1554.7 336.7h1M1562 336.3h1M1550.3 358.5h1M1550.8 330.1h1M1552.4 354.1h1M1544.8 359.9h1M1549.6 341.6h1M1554.7 332.7h1M1553.1 332.9h1M1547.4 353.3h1M1549.8 351.2h1M1554.9 315.8h1M1552.4 360.2h1M1555.2 350.1h1M1555.3 347.7h1M1556.9 349.6h1M1555.9 345.1h1M1548.6 333.6h1M1550.1 349h1M1545.2 351.3h1M1548.5 336.7h1M1547.8 345.8h1M1556 344.9h1M1559.3 341.8h1M1552.3 351.5h1M1553 348.1h1M1551.4 334.9h1M1545 343.9h1M1549.4 330.1h1M1555.4 349.5h1M1553.5 334h1M1552.2 355.7h1M1560.8 348.9h1M1552.9 347.8h1M1558.1 337.8h1M1551.3 358.5h1M1553.3 349h1M1551.5 337h1M1554.4 340.6h1M1553.8 368.7h1M1556.3 341.5h1M1551.6 354.2h1M1564 338.3h1M1547.9 346.1h1M1545.9 355.4h1M1552.3 355.1h1M1559 359.9h1M1554.8 333.2h1M1551.5 334h1M1554.8 350.9h1M1553.6 367.3h1M1546.4 346.6h1M1553.5 357.5h1M1555.6 345.6h1M1551.1 334.6h1M1552.7 326.1h1M1553.8 324.5h1M1556.6 340.7h1M1552.9 340h1M1557.8 354.5h1M1551 351.2h1M1551.1 337.8h1M1555.5 363.2h1M1553.5 329.9h1M1551.7 333.4h1M1539.5 326h1M1547.3 317.4h1M1541.2 321.4h1M1541.6 319.7h1M1554 330.9h1M1542.4 329.2h1M1547.9 325.1h1M1544.5 319.2h1M1544 337h1M1551.1 326.5h1M1551 323.3h1M1549 323.5h1M1546.6 320.3h1M1539 332.3h1M1539.4 332h1M1542.8 321.5h1M1544.5 331.4h1M1542.2 325.8h1M1547.8 335.2h1M1538.7 318.9h1M1557.1 326h1M1535.3 325.8h1M1537.6 335.1h1M1534.8 326.6h1M1535.1 328.1h1M1535.6 324.1h1M1543.2 320.6h1M1542.6 324.6h1M1546.4 328.9h1M1537.5 327.4h1M1544.9 323.8h1M1539 332.4h1M1548.6 339.3h1M1533.8 323.9h1M1552.2 340.4h1M1546.9 323.5h1M1543 326.8h1M1541.6 320.9h1M1546.9 317h1M1544.8 325.5h1M1541.8 328.8h1M1542.4 334.4h1M1546.2 322.5h1M1546.2 328.4h1M1538.6 327.5h1M1547.6 326.1h1M1537.4 319.9h1M1550.5 326.9h1M1541.1 332h1M1546 327.7h1M1542.6 321.1h1M1546.1 326.6h1M1543.2 326.6h1M1548.1 342.8h1M1534 327.6h1M1544.3 325.2h1M1543.6 331.6h1M1536.9 321.3h1M1541 330.9h1M1542.4 341.3h1M1538.8 330.5h1M1544.8 325.8h1M1535.8 332h1M1543.7 335.3h1M1547.8 330.6h1M1548.6 333.3h1M1549.6 326.8h1M1543.1 325.8h1M1548.7 397.1h1M1544.3 409.4h1M1516.3 395.2h1M1544 399.9h1M1524.9 393.5h1M1527.9 411.8h1M1538.4 402.1h1M1534.3 404.6h1M1551.2 412.2h1M1548.8 407.1h1M1535.7 402h1M1536.2 401.9h1M1539.2 405.5h1M1548.3 410.3h1M1528.7 404.9h1M1538.6 398.3h1M1544.2 409.4h1M1521 406.8h1M1528.8 393.9h1M1561.2 396.5h1M1537.1 393.1h1M1537.6 399.2h1M1538.5 409h1M1551.1 395.2h1M1530.1 395.4h1M1554.1 403.7h1M1535.3 405.1h1M1541.8 406.6h1M1539.9 416.7h1M1541.4 401h1M1557.8 401.1h1M1553.7 391.1h1M1538.3 393h1M1537.4 392.7h1M1548.2 415.6h1M1530.8 407.8h1M1540.8 415.6h1M1546.7 399.2h1M1554.3 392.6h1M1546.8 393.6h1M1543.9 409.9h1M1542.5 401.3h1M1540.6 397.4h1M1544.6 401.4h1M1536.9 397.2h1M1551.8 398.3h1M1539.9 399.5h1M1535.6 405.2h1M1545.3 403.3h1M1537.1 414.3h1M1549.7 388.1h1M1537.6 401.7h1M1553.3 394.5h1M1545.5 418.9h1M1564.9 405.9h1M1547.6 415.5h1M1542.1 394.5h1M1529.5 411.4h1M1547.5 399.6h1M1527.3 407.3h1M1541.5 391.6h1M1542.3 397.2h1M1548.4 402.2h1M1550.3 408.3h1M1532.3 389.4h1M1543.1 388.9h1M1543.7 403.7h1M1537 410.7h1M1537.7 416.7h1M1542 402.1h1M1557.6 404h1M1532.1 411h1M1546.9 406.9h1M1547.2 408.6h1M1532.5 399.2h1M1530.2 402.8h1M1531.7 396h1M1551.3 400.7h1M1547.3 397.4h1M1539.1 387.9h1M1530.6 402.9h1M1534.6 404.1h1M1537.6 407.1h1M1532.6 410h1M1551.8 410h1M1523 401.9h1M1539.8 409.1h1" stroke="#3a3a3a" stroke-width="1" fill="none"/>
<path d="M1561.2 378.4L1561.2 377.4L1561.1 376.5L1561 375.5L1560.8 374.6L1560.6 373.6L1560.3 372.7L1560 371.8L1559.7 371L1559.3 370.1L1558.8 369.3L1558.3 368.5L1557.7 367.8L1557.1 367.1L1556.5 366.4L1555.8 365.8L1555 365.2L1554.2 364.7L1553.4 364.2L1552.5 363.8L1551.6 363.4L1550.6 363.1L1549.6 362.9L1548.5 362.7L1547.4 362.5L1546.3 362.4L1545.2 362.4L1544 362.4L1542.9 362.5L1541.7 362.7L1540.5 362.9L1539.3 363.1L1538.1 363.4L1536.9 363.8L1535.7 364.2L1534.6 364.7L1533.4 365.2L1532.3 365.8L1531.3 366.4L1530.3 367.1L1529.3 367.8L1528.4 368.5L1527.5 369.3L1526.7 370.1L1526 371L1525.4 371.8L1524.8 372.7L1524.3 373.6L1523.9 374.6L1523.6 375.5L1523.4 376.5L1523.2 377.4L1523.2 378.4L1523.2 379.3L1523.3 380.2L1523.5 381.1L1523.8 382L1524.1 382.9L1524.4 383.7L1524.9 384.6L1525.4 385.4L1525.9 386.2L1526.6 386.9L1527.2 387.7L1528 388.3L1528.8 389L1529.6 389.6L1530.5 390.2L1531.4 390.7L1532.4 391.2L1533.4 391.7L1534.4 392.1L1535.5 392.4L1536.5 392.7L1537.7 393L1538.8 393.2L1539.9 393.3L1541.1 393.4L1542.2 393.4L1543.3 393.4L1544.5 393.3L1545.6 393.2L1546.7 393L1547.9 392.7L1548.9 392.4L1550 392.1L1551 391.7L1552 391.2L1553 390.7L1553.9 390.2L1554.8 389.6L1555.6 389L1556.4 388.3L1557.2 387.7L1557.8 386.9L1558.5 386.2L1559 385.4L1559.5 384.6L1560 383.7L1560.3 382.9L1560.6 382L1560.9 381.1L1561.1 380.2L1561.2 379.3Z" fill="#fff" stroke="#8a8a8a" stroke-width="0.65"/>
<path d="M1559.2 378.4L1559.1 377.6L1559.1 376.7L1559 375.9L1558.8 375.1L1558.6 374.3L1558.4 373.5L1558.1 372.7L1557.8 371.9L1557.4 371.2L1557 370.5L1556.6 369.8L1556.1 369.2L1555.5 368.6L1554.9 368L1554.3 367.5L1553.6 367L1552.9 366.5L1552.2 366.1L1551.4 365.7L1550.6 365.4L1549.7 365.1L1548.8 364.9L1547.8 364.7L1546.9 364.6L1545.9 364.5L1544.9 364.5L1543.8 364.5L1542.8 364.6L1541.7 364.7L1540.7 364.9L1539.6 365.1L1538.5 365.4L1537.5 365.7L1536.4 366.1L1535.4 366.5L1534.4 367L1533.4 367.5L1532.5 368L1531.5 368.6L1530.7 369.2L1529.9 369.8L1529.1 370.5L1528.4 371.2L1527.8 371.9L1527.2 372.7L1526.7 373.5L1526.2 374.3L1525.9 375.1L1525.6 375.9L1525.4 376.7L1525.3 377.6L1525.2 378.4L1525.3 379.2L1525.4 380L1525.5 380.8L1525.7 381.6L1526 382.4L1526.3 383.1L1526.7 383.9L1527.2 384.6L1527.7 385.3L1528.2 386L1528.9 386.7L1529.5 387.3L1530.2 387.9L1531 388.4L1531.7 388.9L1532.6 389.4L1533.4 389.9L1534.3 390.3L1535.2 390.6L1536.2 390.9L1537.2 391.2L1538.1 391.4L1539.1 391.6L1540.2 391.7L1541.2 391.8L1542.2 391.8L1543.2 391.8L1544.2 391.7L1545.3 391.6L1546.3 391.4L1547.2 391.2L1548.2 390.9L1549.2 390.6L1550.1 390.3L1551 389.9L1551.8 389.4L1552.7 388.9L1553.4 388.4L1554.2 387.9L1554.9 387.3L1555.5 386.7L1556.2 386L1556.7 385.3L1557.2 384.6L1557.7 383.9L1558.1 383.1L1558.4 382.4L1558.7 381.6L1558.9 380.8L1559 380L1559.1 379.2Z" fill="none" stroke="#8a8a8a" stroke-width="0.65"/>
<path d="M1557.1 378.4L1557.1 377.7L1557 377L1556.9 376.3L1556.8 375.6L1556.6 374.9L1556.4 374.2L1556.2 373.5L1555.9 372.9L1555.6 372.3L1555.2 371.7L1554.8 371.1L1554.4 370.6L1553.9 370L1553.4 369.6L1552.9 369.1L1552.3 368.7L1551.6 368.3L1551 367.9L1550.3 367.6L1549.5 367.3L1548.8 367.1L1548 366.9L1547.2 366.8L1546.3 366.7L1545.4 366.6L1544.6 366.6L1543.6 366.6L1542.7 366.7L1541.8 366.8L1540.9 366.9L1539.9 367.1L1539 367.3L1538 367.6L1537.1 367.9L1536.2 368.3L1535.3 368.7L1534.5 369.1L1533.6 369.6L1532.8 370L1532.1 370.6L1531.4 371.1L1530.7 371.7L1530.1 372.3L1529.5 372.9L1529 373.5L1528.6 374.2L1528.2 374.9L1527.9 375.6L1527.6 376.3L1527.4 377L1527.3 377.7L1527.3 378.4L1527.3 379.1L1527.4 379.8L1527.5 380.5L1527.7 381.2L1528 381.9L1528.3 382.6L1528.6 383.2L1529 383.9L1529.4 384.5L1529.9 385.1L1530.5 385.7L1531 386.2L1531.7 386.7L1532.3 387.2L1533 387.7L1533.7 388.1L1534.5 388.5L1535.3 388.8L1536.1 389.1L1536.9 389.4L1537.8 389.6L1538.6 389.8L1539.5 390L1540.4 390.1L1541.3 390.2L1542.2 390.2L1543.1 390.2L1544 390.1L1544.9 390L1545.8 389.8L1546.6 389.6L1547.5 389.4L1548.3 389.1L1549.1 388.8L1549.9 388.5L1550.7 388.1L1551.4 387.7L1552.1 387.2L1552.7 386.7L1553.4 386.2L1553.9 385.7L1554.5 385.1L1555 384.5L1555.4 383.9L1555.8 383.2L1556.1 382.6L1556.4 381.9L1556.7 381.2L1556.9 380.5L1557 379.8L1557.1 379.1Z" fill="none" stroke="#8a8a8a" stroke-width="0.65"/>
<path d="M1555.1 378.4L1555.1 377.8L1555 377.2L1554.9 376.6L1554.8 376L1554.7 375.5L1554.5 374.9L1554.3 374.4L1554 373.8L1553.8 373.3L1553.4 372.8L1553.1 372.3L1552.7 371.9L1552.3 371.4L1551.9 371L1551.4 370.7L1550.9 370.3L1550.3 370L1549.8 369.7L1549.2 369.4L1548.5 369.2L1547.9 369L1547.2 368.9L1546.5 368.7L1545.8 368.6L1545 368.6L1544.2 368.6L1543.4 368.6L1542.7 368.6L1541.8 368.7L1541 368.9L1540.2 369L1539.4 369.2L1538.6 369.4L1537.8 369.7L1537 370L1536.3 370.3L1535.5 370.7L1534.8 371L1534.1 371.4L1533.5 371.9L1532.8 372.3L1532.3 372.8L1531.7 373.3L1531.2 373.8L1530.8 374.4L1530.4 374.9L1530.1 375.5L1529.8 376L1529.6 376.6L1529.5 377.2L1529.4 377.8L1529.3 378.4L1529.4 379L1529.4 379.6L1529.5 380.2L1529.7 380.8L1529.9 381.4L1530.2 382L1530.5 382.6L1530.8 383.1L1531.2 383.7L1531.6 384.2L1532.1 384.7L1532.6 385.1L1533.1 385.6L1533.7 386L1534.3 386.4L1534.9 386.8L1535.5 387.1L1536.2 387.4L1536.9 387.7L1537.6 387.9L1538.4 388.1L1539.1 388.3L1539.9 388.4L1540.6 388.5L1541.4 388.5L1542.2 388.6L1543 388.5L1543.8 388.5L1544.5 388.4L1545.3 388.3L1546 388.1L1546.8 387.9L1547.5 387.7L1548.2 387.4L1548.9 387.1L1549.5 386.8L1550.1 386.4L1550.7 386L1551.3 385.6L1551.8 385.1L1552.3 384.7L1552.8 384.2L1553.2 383.7L1553.6 383.1L1553.9 382.6L1554.2 382L1554.5 381.4L1554.7 380.8L1554.9 380.2L1555 379.6L1555 379Z" fill="none" stroke="#8a8a8a" stroke-width="0.65"/>
<path d="M1553 378.4L1553 377.9L1553 377.4L1552.9 377L1552.8 376.5L1552.7 376L1552.5 375.6L1552.4 375.1L1552.2 374.7L1551.9 374.3L1551.7 373.9L1551.4 373.5L1551.1 373.1L1550.7 372.8L1550.3 372.5L1549.9 372.2L1549.5 371.9L1549.1 371.6L1548.6 371.4L1548.1 371.2L1547.5 371L1547 370.8L1546.4 370.7L1545.8 370.6L1545.2 370.5L1544.6 370.5L1543.9 370.5L1543.2 370.5L1542.6 370.5L1541.9 370.6L1541.2 370.7L1540.5 370.8L1539.9 371L1539.2 371.2L1538.5 371.4L1537.8 371.6L1537.2 371.9L1536.6 372.2L1536 372.5L1535.4 372.8L1534.8 373.1L1534.3 373.5L1533.8 373.9L1533.4 374.3L1533 374.7L1532.6 375.1L1532.3 375.6L1532 376L1531.8 376.5L1531.6 377L1531.5 377.4L1531.4 377.9L1531.4 378.4L1531.4 378.9L1531.4 379.4L1531.5 379.9L1531.7 380.4L1531.9 380.9L1532.1 381.4L1532.3 381.9L1532.6 382.4L1532.9 382.8L1533.3 383.3L1533.7 383.7L1534.1 384.1L1534.5 384.4L1535 384.8L1535.5 385.1L1536 385.4L1536.6 385.7L1537.2 386L1537.8 386.2L1538.4 386.4L1539 386.6L1539.6 386.7L1540.2 386.8L1540.9 386.9L1541.5 386.9L1542.2 386.9L1542.9 386.9L1543.5 386.9L1544.2 386.8L1544.8 386.7L1545.4 386.6L1546 386.4L1546.6 386.2L1547.2 386L1547.8 385.7L1548.4 385.4L1548.9 385.1L1549.4 384.8L1549.9 384.4L1550.3 384.1L1550.7 383.7L1551.1 383.3L1551.5 382.8L1551.8 382.4L1552.1 381.9L1552.3 381.4L1552.5 380.9L1552.7 380.4L1552.9 379.9L1553 379.4L1553 378.9Z" fill="none" stroke="#8a8a8a" stroke-width="0.65"/>
<path d="M1551 378.4L1551 378L1550.9 377.7L1550.9 377.3L1550.8 376.9L1550.7 376.6L1550.6 376.2L1550.4 375.9L1550.3 375.6L1550.1 375.2L1549.9 374.9L1549.6 374.6L1549.4 374.4L1549.1 374.1L1548.8 373.8L1548.5 373.6L1548.1 373.4L1547.8 373.2L1547.4 373L1547 372.8L1546.5 372.7L1546.1 372.6L1545.6 372.5L1545.1 372.4L1544.6 372.3L1544.1 372.3L1543.6 372.3L1543.1 372.3L1542.5 372.3L1542 372.4L1541.4 372.5L1540.9 372.6L1540.3 372.7L1539.7 372.8L1539.2 373L1538.7 373.2L1538.1 373.4L1537.6 373.6L1537.2 373.8L1536.7 374.1L1536.2 374.4L1535.8 374.6L1535.4 374.9L1535.1 375.2L1534.7 375.6L1534.4 375.9L1534.2 376.2L1533.9 376.6L1533.7 376.9L1533.6 377.3L1533.5 377.7L1533.4 378L1533.4 378.4L1533.4 378.8L1533.5 379.2L1533.6 379.7L1533.7 380.1L1533.8 380.5L1534 380.9L1534.2 381.2L1534.4 381.6L1534.7 382L1535 382.3L1535.3 382.7L1535.6 383L1536 383.3L1536.4 383.6L1536.8 383.9L1537.2 384.1L1537.7 384.3L1538.1 384.5L1538.6 384.7L1539.1 384.9L1539.6 385L1540.1 385.1L1540.6 385.2L1541.1 385.3L1541.7 385.3L1542.2 385.3L1542.7 385.3L1543.3 385.3L1543.8 385.2L1544.3 385.1L1544.8 385L1545.3 384.9L1545.8 384.7L1546.3 384.5L1546.7 384.3L1547.2 384.1L1547.6 383.9L1548 383.6L1548.4 383.3L1548.8 383L1549.1 382.7L1549.4 382.3L1549.7 382L1550 381.6L1550.2 381.2L1550.4 380.9L1550.6 380.5L1550.7 380.1L1550.8 379.7L1550.9 379.2L1551 378.8Z" fill="none" stroke="#8a8a8a" stroke-width="0.65"/>
<path d="M1548.9 378.4L1548.9 378.1L1548.9 377.9L1548.9 377.6L1548.8 377.4L1548.7 377.1L1548.6 376.8L1548.5 376.6L1548.4 376.4L1548.3 376.1L1548.1 375.9L1547.9 375.7L1547.7 375.5L1547.5 375.3L1547.3 375.1L1547 374.9L1546.8 374.8L1546.5 374.6L1546.2 374.5L1545.9 374.4L1545.5 374.3L1545.2 374.2L1544.8 374.1L1544.4 374.1L1544.1 374L1543.7 374L1543.3 374L1542.9 374L1542.4 374L1542 374.1L1541.6 374.1L1541.2 374.2L1540.7 374.3L1540.3 374.4L1539.9 374.5L1539.5 374.6L1539.1 374.8L1538.7 374.9L1538.3 375.1L1538 375.3L1537.6 375.5L1537.3 375.7L1537 375.9L1536.7 376.1L1536.5 376.4L1536.2 376.6L1536 376.8L1535.9 377.1L1535.7 377.4L1535.6 377.6L1535.5 377.9L1535.5 378.1L1535.5 378.4L1535.5 378.7L1535.5 379L1535.6 379.4L1535.7 379.7L1535.8 380L1535.9 380.3L1536 380.6L1536.2 380.9L1536.4 381.2L1536.6 381.4L1536.9 381.7L1537.2 381.9L1537.4 382.2L1537.7 382.4L1538 382.6L1538.4 382.8L1538.7 383L1539.1 383.1L1539.4 383.3L1539.8 383.4L1540.2 383.5L1540.6 383.6L1541 383.6L1541.4 383.7L1541.8 383.7L1542.2 383.7L1542.6 383.7L1543 383.7L1543.4 383.6L1543.8 383.6L1544.2 383.5L1544.6 383.4L1545 383.3L1545.3 383.1L1545.7 383L1546 382.8L1546.4 382.6L1546.7 382.4L1547 382.2L1547.2 381.9L1547.5 381.7L1547.8 381.4L1548 381.2L1548.2 380.9L1548.4 380.6L1548.5 380.3L1548.6 380L1548.7 379.7L1548.8 379.4L1548.9 379L1548.9 378.7Z" fill="none" stroke="#8a8a8a" stroke-width="0.65"/>
<path d="M1546.9 378.4L1546.9 378.2L1546.9 378.1L1546.8 377.9L1546.8 377.7L1546.8 377.6L1546.7 377.4L1546.6 377.3L1546.5 377.1L1546.4 377L1546.3 376.8L1546.2 376.7L1546 376.5L1545.9 376.4L1545.7 376.3L1545.6 376.2L1545.4 376.1L1545.2 376L1545 375.9L1544.7 375.9L1544.5 375.8L1544.3 375.7L1544 375.7L1543.8 375.7L1543.5 375.6L1543.2 375.6L1542.9 375.6L1542.7 375.6L1542.4 375.6L1542.1 375.7L1541.8 375.7L1541.5 375.7L1541.2 375.8L1540.9 375.9L1540.6 375.9L1540.3 376L1540 376.1L1539.8 376.2L1539.5 376.3L1539.2 376.4L1539 376.5L1538.8 376.7L1538.6 376.8L1538.4 377L1538.2 377.1L1538 377.3L1537.9 377.4L1537.8 377.6L1537.7 377.7L1537.6 377.9L1537.5 378.1L1537.5 378.2L1537.5 378.4L1537.5 378.6L1537.5 378.8L1537.6 379.1L1537.6 379.3L1537.7 379.5L1537.8 379.7L1537.9 379.9L1538 380.1L1538.2 380.3L1538.3 380.5L1538.5 380.7L1538.7 380.9L1538.9 381L1539.1 381.2L1539.3 381.3L1539.5 381.5L1539.8 381.6L1540 381.7L1540.3 381.8L1540.5 381.9L1540.8 381.9L1541.1 382L1541.4 382.1L1541.6 382.1L1541.9 382.1L1542.2 382.1L1542.5 382.1L1542.8 382.1L1543 382.1L1543.3 382L1543.6 381.9L1543.9 381.9L1544.1 381.8L1544.4 381.7L1544.6 381.6L1544.9 381.5L1545.1 381.3L1545.3 381.2L1545.5 381L1545.7 380.9L1545.9 380.7L1546.1 380.5L1546.2 380.3L1546.4 380.1L1546.5 379.9L1546.6 379.7L1546.7 379.5L1546.8 379.3L1546.8 379.1L1546.9 378.8L1546.9 378.6Z" fill="none" stroke="#8a8a8a" stroke-width="0.65"/>
<path d="M1540 362C1541 352 1540 346 1541 340M1550 363C1549 352 1550 347 1549.5 340" fill="none" stroke="#8a8a8a" stroke-width="0.65"/>
<ellipse cx="1542.2" cy="378.7" rx="17.5" ry="8.2" fill="#6c6c6c" opacity="0.3"/>
<ellipse cx="1542.2" cy="378.7" rx="14.3" ry="6.8" fill="#6c6c6c" opacity="0.3"/>
<ellipse cx="1542.2" cy="378.7" rx="11.2" ry="5.3" fill="#6c6c6c" opacity="0.3"/>
<ellipse cx="1542.2" cy="378.7" rx="8" ry="3.8" fill="#6c6c6c" opacity="0.3"/>
<ellipse cx="1543.7" cy="378.4" rx="3" ry="1.3" fill="#e8e8e8" opacity="0.9"/>
<path d="M1591 276.5H1446.8V421.5H1591" fill="none" stroke="#6e6e6e" stroke-width="1.2"/>
<rect x="1503.1" y="285.6" width="70.8" height="54.8" fill="none" stroke="#333" stroke-width="1"/>
<text x="1460.7" y="298.4" font-size="16.8">2.72</text>
<path d="M1137.4 280.7h4M1137.4 289.5h2.2M1137.4 294.7h2.2M1137.4 298.3h2.2M1137.4 301.2h2.2M1137.4 303.5h2.2M1137.4 305.5h2.2M1137.4 307.2h2.2M1137.4 308.7h2.2M1137.4 310h4M1137.4 319h2.2M1137.4 324.3h2.2M1137.4 328.1h2.2M1137.4 331h2.2M1137.4 333.3h2.2M1137.4 335.4h2.2M1137.4 337.1h2.2M1137.4 338.6h2.2M1137.4 340h4M1137.4 348.9h2.2M1137.4 354.1h2.2M1137.4 357.8h2.2M1137.4 360.6h2.2M1137.4 363h2.2M1137.4 364.9h2.2M1137.4 366.6h2.2M1137.4 368.2h2.2M1137.4 369.5h4M1137.4 378.4h2.2M1137.4 383.6h2.2M1137.4 387.3h2.2M1137.4 390.1h2.2M1137.4 392.5h2.2M1137.4 394.4h2.2M1137.4 396.1h2.2M1137.4 397.7h2.2M1137.4 399h4" stroke="#333" stroke-width="0.8" fill="none"/>
<text x="1133.4" y="408" font-size="12.5" text-anchor="end">10<tspan dy="-8.2" font-size="11.2">1</tspan></text>
<text x="1133.4" y="378.5" font-size="12.5" text-anchor="end">10<tspan dy="-8.2" font-size="11.2">2</tspan></text>
<text x="1133.4" y="349" font-size="12.5" text-anchor="end">10<tspan dy="-8.2" font-size="11.2">3</tspan></text>
<text x="1133.4" y="319" font-size="12.5" text-anchor="end">10<tspan dy="-8.2" font-size="11.2">4</tspan></text>
<text x="1133.4" y="289.7" font-size="12.5" text-anchor="end">10<tspan dy="-8.2" font-size="11.2">5</tspan></text>
<path d="M1157.7 421.5v4M1166.5 421.5v2.2M1171.7 421.5v2.2M1175.3 421.5v2.2M1178.2 421.5v2.2M1180.5 421.5v2.2M1182.5 421.5v2.2M1184.2 421.5v2.2M1185.7 421.5v2.2M1187 421.5v4M1196 421.5v2.2M1201.3 421.5v2.2M1205 421.5v2.2M1207.9 421.5v2.2M1210.3 421.5v2.2M1212.3 421.5v2.2M1214 421.5v2.2M1215.5 421.5v2.2M1216.9 421.5v4M1225.7 421.5v2.2M1230.8 421.5v2.2M1234.4 421.5v2.2M1237.2 421.5v2.2M1239.5 421.5v2.2M1241.5 421.5v2.2M1243.2 421.5v2.2M1244.7 421.5v2.2M1246 421.5v4M1254 421.5v2.2M1258.7 421.5v2.2M1262 421.5v2.2M1264.6 421.5v2.2M1266.7 421.5v2.2M1268.5 421.5v2.2M1270 421.5v2.2M1271.4 421.5v2.2M1272.6 421.5v4" stroke="#333" stroke-width="0.8" fill="none"/>
<clipPath id="cpb"><rect x="1130" y="420" width="170" height="20.5"/></clipPath><g clip-path="url(#cpb)">
<text x="1158.7" y="444" font-size="12.5" text-anchor="middle">10<tspan dy="-8.2" font-size="11.2">1</tspan></text>
<text x="1188" y="444" font-size="12.5" text-anchor="middle">10<tspan dy="-8.2" font-size="11.2">2</tspan></text>
<text x="1217.9" y="444" font-size="12.5" text-anchor="middle">10<tspan dy="-8.2" font-size="11.2">3</tspan></text>
<text x="1247" y="444" font-size="12.5" text-anchor="middle">10<tspan dy="-8.2" font-size="11.2">4</tspan></text>
<text x="1273.6" y="444" font-size="12.5" text-anchor="middle">10<tspan dy="-8.2" font-size="11.2">5</tspan></text>
</g>
<text font-size="28.3" text-anchor="middle" transform="translate(1099.5 196) rotate(-90)">Control</text>
<text font-size="27.5" text-anchor="middle" transform="translate(1100.5 363) rotate(-90)"><tspan font-style="italic">Opa1</tspan><tspan dy="-9.6" font-size="21.4">CD4Cre</tspan></text>
<text x="1132.8" y="470.6" font-size="30">CD4 PE-Cy7</text>
<line x1="1323.4" y1="463.2" x2="1574" y2="463.2" stroke="#000" stroke-width="1.8"/>
<polygon points="1589,463.2 1574,470.2 1574,456.2" fill="#000"/>
<text font-size="30" text-anchor="middle" transform="translate(1634 358) rotate(-90)">IL17A-PE</text>
<line x1="1622.8" y1="287" x2="1622.8" y2="153" stroke="#000" stroke-width="1.8"/>
<polygon points="1622.8,138 1629.8,153 1615.8,153" fill="#000"/>
<line x1="1741" y1="184.9" x2="1741" y2="448.3" stroke="#000" stroke-width="2.6"/>
<line x1="1736.2" y1="447" x2="1741" y2="447" stroke="#000" stroke-width="2.6"/>
<text x="1726.7" y="457.2" font-size="28.5" text-anchor="end">0</text>
<line x1="1736.2" y1="381.8" x2="1741" y2="381.8" stroke="#000" stroke-width="2.6"/>
<text x="1726.7" y="392" font-size="28.5" text-anchor="end">10</text>
<line x1="1736.2" y1="316.6" x2="1741" y2="316.6" stroke="#000" stroke-width="2.6"/>
<text x="1726.7" y="326.8" font-size="28.5" text-anchor="end">20</text>
<line x1="1736.2" y1="251.4" x2="1741" y2="251.4" stroke="#000" stroke-width="2.6"/>
<text x="1726.7" y="261.6" font-size="28.5" text-anchor="end">30</text>
<line x1="1736.2" y1="186.2" x2="1741" y2="186.2" stroke="#000" stroke-width="2.6"/>
<text x="1726.7" y="196.4" font-size="28.5" text-anchor="end">40</text>
<line x1="1736.2" y1="447" x2="2005" y2="447" stroke="#000" stroke-width="2.6"/>
<text font-size="28.8" text-anchor="middle" transform="translate(1681 312.5) rotate(-90)">IL17A + cells (%)</text>
<rect x="1754" y="251" width="27.6" height="195" fill="#fc8077"/>
<rect x="1795.9" y="278.7" width="27.6" height="167.3" fill="#fc8077"/>
<rect x="1837.2" y="349.4" width="27.6" height="96.6" fill="#fc8077"/>
<rect x="1878.9" y="408.7" width="27.6" height="37.3" fill="#0a5396"/>
<rect x="1920.2" y="413" width="27.6" height="33" fill="#0a5396"/>
<rect x="1962.2" y="419.3" width="27.6" height="26.7" fill="#0a5396"/>
<line x1="1767.8" y1="237.6" x2="1767.8" y2="263.8" stroke="#000" stroke-width="2.5"/>
<line x1="1759.8" y1="237.6" x2="1775.8" y2="237.6" stroke="#000" stroke-width="2.5"/>
<line x1="1759.8" y1="263.8" x2="1775.8" y2="263.8" stroke="#000" stroke-width="2.5"/>
<line x1="1809.7" y1="262.4" x2="1809.7" y2="295.2" stroke="#000" stroke-width="2.5"/>
<line x1="1801.7" y1="262.4" x2="1817.7" y2="262.4" stroke="#000" stroke-width="2.5"/>
<line x1="1801.7" y1="295.2" x2="1817.7" y2="295.2" stroke="#000" stroke-width="2.5"/>
<line x1="1851" y1="343.7" x2="1851" y2="355" stroke="#000" stroke-width="2.5"/>
<line x1="1843" y1="343.7" x2="1859" y2="343.7" stroke="#000" stroke-width="2.5"/>
<line x1="1843" y1="355" x2="1859" y2="355" stroke="#000" stroke-width="2.5"/>
<line x1="1892.7" y1="400.7" x2="1892.7" y2="416.4" stroke="#000" stroke-width="2.5"/>
<line x1="1884.7" y1="400.7" x2="1900.7" y2="400.7" stroke="#000" stroke-width="2.5"/>
<line x1="1884.7" y1="416.4" x2="1900.7" y2="416.4" stroke="#000" stroke-width="2.5"/>
<line x1="1934" y1="402.7" x2="1934" y2="423.5" stroke="#000" stroke-width="2.5"/>
<line x1="1926" y1="402.7" x2="1942" y2="402.7" stroke="#000" stroke-width="2.5"/>
<line x1="1926" y1="423.5" x2="1942" y2="423.5" stroke="#000" stroke-width="2.5"/>
<line x1="1976" y1="410" x2="1976" y2="428.4" stroke="#000" stroke-width="2.5"/>
<line x1="1968" y1="410" x2="1984" y2="410" stroke="#000" stroke-width="2.5"/>
<line x1="1968" y1="428.4" x2="1984" y2="428.4" stroke="#000" stroke-width="2.5"/>
<path d="M1763.6 228.2a4.1 4.1 0 1 0 8.2 0a4.1 4.1 0 1 0 -8.2 0M1763.6 253.3a4.1 4.1 0 1 0 8.2 0a4.1 4.1 0 1 0 -8.2 0M1763.6 271.8a4.1 4.1 0 1 0 8.2 0a4.1 4.1 0 1 0 -8.2 0M1805.5 247.3a4.1 4.1 0 1 0 8.2 0a4.1 4.1 0 1 0 -8.2 0M1795.5 296a4.1 4.1 0 1 0 8.2 0a4.1 4.1 0 1 0 -8.2 0M1815.5 293.8a4.1 4.1 0 1 0 8.2 0a4.1 4.1 0 1 0 -8.2 0M1846.8 338.8a4.1 4.1 0 1 0 8.2 0a4.1 4.1 0 1 0 -8.2 0M1836.9 356.5a4.1 4.1 0 1 0 8.2 0a4.1 4.1 0 1 0 -8.2 0M1856.8 352.3a4.1 4.1 0 1 0 8.2 0a4.1 4.1 0 1 0 -8.2 0M1888.8 393.6a4.1 4.1 0 1 0 8.2 0a4.1 4.1 0 1 0 -8.2 0M1888.8 411.3a4.1 4.1 0 1 0 8.2 0a4.1 4.1 0 1 0 -8.2 0M1888.8 422.1a4.1 4.1 0 1 0 8.2 0a4.1 4.1 0 1 0 -8.2 0M1930.4 393.6a4.1 4.1 0 1 0 8.2 0a4.1 4.1 0 1 0 -8.2 0M1930.4 415.9a4.1 4.1 0 1 0 8.2 0a4.1 4.1 0 1 0 -8.2 0M1930.4 430.1a4.1 4.1 0 1 0 8.2 0a4.1 4.1 0 1 0 -8.2 0M1972.3 402.2a4.1 4.1 0 1 0 8.2 0a4.1 4.1 0 1 0 -8.2 0M1962.3 429.3a4.1 4.1 0 1 0 8.2 0a4.1 4.1 0 1 0 -8.2 0M1982.3 425a4.1 4.1 0 1 0 8.2 0a4.1 4.1 0 1 0 -8.2 0" fill="#000"/>
<circle cx="1767.7" cy="469.2" r="10.5" fill="#bfbfbf"/>
<circle cx="1809" cy="469.2" r="10.5" fill="#76e878"/>
<circle cx="1850.9" cy="469.2" r="10.5" fill="#80d4fa"/>
<circle cx="1893.7" cy="469.2" r="10.5" fill="#bfbfbf"/>
<circle cx="1935" cy="469.2" r="10.5" fill="#76e878"/>
<circle cx="1977.3" cy="469.2" r="10.5" fill="#80d4fa"/>
<text x="1774" y="152.6" font-size="24.5"><tspan font-style="italic">P</tspan> =0.0003</text>
<path d="M1772.5 170.6V165.4H1851V313.2" fill="none" stroke="#000" stroke-width="1.8"/>
<text x="1777" y="201.9" font-size="29" text-anchor="middle" font-style="italic">ns</text>
<line x1="1754.5" y1="210.2" x2="1790.2" y2="210.2" stroke="#000" stroke-width="1.8"/>
<text x="1932" y="364.2" font-size="29" text-anchor="middle" font-style="italic">ns</text>
<line x1="1890.3" y1="378" x2="1975" y2="378" stroke="#000" stroke-width="1.8"/>
<rect x="1892.9" y="46.2" width="38" height="28" fill="#fc8077"/>
<rect x="1892.9" y="78.5" width="38" height="28.5" fill="#0a5396"/>
<text x="1942.8" y="65.6" font-size="28">Control</text>
<text x="1943.5" y="100.7" font-size="27.5"><tspan font-style="italic">Opa1</tspan><tspan dy="-9.6" font-size="21.4">CD4Cre</tspan></text>
<circle cx="1876.6" cy="210.2" r="10" fill="#bfbfbf"/>
<circle cx="1876.6" cy="246.2" r="10" fill="#76e878"/>
<circle cx="1878" cy="283.8" r="10.5" fill="#80d4fa"/>
<text x="1900.8" y="218.2" font-size="24.5">DMSO</text>
<text x="1900.8" y="253.9" font-size="24.5">Comp C d0</text>
<text x="1900.8" y="294.4" font-size="24.5">Comp C d3 to d4</text>
<text x="-2.5" y="547.3" font-size="59">c</text>
<text x="184" y="600.5" font-size="34.6">Control</text>
<text x="319.5" y="600.8" font-size="33.5"><tspan font-style="italic">Opa1</tspan><tspan dy="-11.7" font-size="26.1">CD4Cre</tspan></text>
<line x1="181.5" y1="610.8" x2="288.4" y2="610.8" stroke="#000" stroke-width="2.6"/>
<line x1="301.5" y1="610.8" x2="408.4" y2="610.8" stroke="#000" stroke-width="2.6"/>
<ellipse cx="217.8" cy="632.8" rx="17.8" ry="13.4" fill="#c4c4c4"/>
<ellipse cx="270.6" cy="632.8" rx="17.8" ry="13.4" fill="#9b1f9b"/>
<ellipse cx="336.1" cy="632.8" rx="17.8" ry="13.4" fill="#c4c4c4"/>
<ellipse cx="386.6" cy="632.8" rx="17.8" ry="13.4" fill="#9b1f9b"/>
<rect x="177.1" y="655.3" width="253.5" height="41.7" fill="#cfd1cd" stroke="#0a0a0a" stroke-width="2"/>
<rect x="177.1" y="706.1" width="253.5" height="42.1" fill="#cfd1cd" stroke="#0a0a0a" stroke-width="2"/>
<rect x="177.1" y="757.3" width="253.5" height="41.5" fill="#cfd1cd" stroke="#0a0a0a" stroke-width="2"/>
<linearGradient id="lg1" x1="0" x2="1" y1="0" y2="0"><stop offset="0" stop-color="#dedfdc" stop-opacity="0.5"/><stop offset="0.25" stop-color="#e2e2e0" stop-opacity="0.9"/><stop offset="0.7" stop-color="#dedfdc" stop-opacity="0.75"/><stop offset="1" stop-color="#dedfdc" stop-opacity="0"/></linearGradient>
<rect x="178" y="656.3" width="100" height="39.8" fill="url(#lg1)"/>
<path d="M206 674 Q227 679.5 248 674" stroke="#2a2524" stroke-width="5.5" fill="none" stroke-linecap="round" filter="url(#b2)"/>
<path d="M262 681.5 Q282 687 301 681" stroke="#b4b5b2" stroke-width="3.5" fill="none" stroke-linecap="round" filter="url(#b2)"/>
<path d="M318 673.5 Q337 678 357 672.5" stroke="#2a2524" stroke-width="5" fill="none" stroke-linecap="round" filter="url(#b2)"/>
<path d="M370 676 Q385 679.5 401 676" stroke="#aeafac" stroke-width="2.5" fill="none" stroke-linecap="round" filter="url(#b1)"/>
<rect x="204" y="718.7" width="37.5" height="8" rx="4" fill="#2a2524" opacity="1" filter="url(#b1)"/>
<rect x="204" y="731.2" width="37.5" height="8.5" rx="4.2" fill="#2a2524" opacity="1" filter="url(#b1)"/>
<rect x="256" y="718.7" width="39" height="8" rx="4" fill="#2a2524" opacity="1" filter="url(#b1)"/>
<rect x="256" y="731.2" width="39" height="8.5" rx="4.2" fill="#2a2524" opacity="1" filter="url(#b1)"/>
<rect x="204" y="776" width="37.7" height="9" rx="4.5" fill="#2a2524" opacity="1" filter="url(#b1)"/>
<rect x="261.5" y="774.8" width="32.5" height="8.5" rx="4.2" fill="#2a2524" opacity="1" filter="url(#b1)"/>
<rect x="311.5" y="774.8" width="38.8" height="10.5" rx="5.2" fill="#2a2524" opacity="1" filter="url(#b1)"/>
<rect x="363.6" y="772.2" width="38.9" height="12.5" rx="6.2" fill="#2a2524" opacity="1" filter="url(#b2)"/>
<text x="163" y="688.2" font-size="34" text-anchor="end">AMPK</text>
<text x="160" y="742" font-size="34" text-anchor="end">OPA1</text>
<text x="162.5" y="795.8" font-size="34" text-anchor="end">ACTIN</text>
<line x1="431.6" y1="678.5" x2="445" y2="678.5" stroke="#000" stroke-width="2.6"/>
<text x="450.6" y="689.8" font-size="27.5">60 KDa</text>
<line x1="431.6" y1="736.7" x2="445" y2="736.7" stroke="#000" stroke-width="2.6"/>
<text x="451.5" y="747.5" font-size="27.5">80 KDa</text>
<line x1="431.6" y1="783.4" x2="445" y2="783.4" stroke="#000" stroke-width="2.6"/>
<text x="451.5" y="794" font-size="27.5">40 KDa</text>
<circle cx="192.6" cy="837.1" r="16" fill="#c4c4c4"/>
<ellipse cx="313.3" cy="835.1" rx="16.5" ry="15.5" fill="#9b1f9b"/>
<text x="217.8" y="846.2" font-size="34.5" font-style="italic">gCtl</text>
<text x="337.1" y="846.2" font-size="34.5" font-style="italic">gPrkaa1</text>
<text x="930" y="567" font-size="34" text-anchor="middle">Control</text>
<line x1="762.5" y1="576.3" x2="1100" y2="576.3" stroke="#000" stroke-width="1.8"/>
<text x="1240.8" y="567" font-size="33.3"><tspan font-style="italic">Opa1</tspan><tspan dy="-11.7" font-size="26" font-style="italic">CD4Cre</tspan></text>
<line x1="1128.5" y1="576.3" x2="1465" y2="576.3" stroke="#000" stroke-width="1.8"/>
<text x="832.5" y="615.5" font-size="31.5" text-anchor="middle" font-style="italic">gControl</text>
<text x="1012.7" y="613.2" font-size="30.8" text-anchor="middle" font-style="italic">gPrkaa1</text>
<text x="1198" y="615.5" font-size="31.5" text-anchor="middle" font-style="italic">gControl</text>
<text x="1392.7" y="613.2" font-size="30.8" text-anchor="middle" font-style="italic">gPrkaa1</text>
<path d="M794 745h1M798 744h1M799 750h1M800 748h1M800 752h1M800 753h1M801 692h1M801 728h1M801 745h1M801 748h1M801 754h1M801 755h1M802 717h1M802 747h1M802 748h1M802 753h1M803 726h1M803 733h1M803 735h1M803 746h1M803 751h1M803 753h1M803 754h1M803 755h1M804 711h1M804 726h1M804 743h1M804 745h1M804 750h1M804 753h1M804 755h1M805 715h1M805 728h1M805 746h1M805 748h1M805 749h1M806 730h1M806 740h1M806 750h1M806 752h1M806 753h1M806 754h1M807 733h1M807 735h1M807 741h1M807 745h1M807 753h1M807 754h1M807 755h1M808 730h1M808 737h1M808 743h1M808 747h1M808 749h1M808 752h1M808 755h1M808 756h1M809 737h1M809 742h1M809 746h1M809 747h1M809 751h1M809 752h1M809 753h1M809 754h1M810 728h1M810 737h1M810 740h1M810 750h1M810 754h1M811 700h1M811 716h1M811 730h1M811 731h1M811 732h1M811 734h1M811 741h1M811 742h1M811 753h1M811 755h1M811 756h1M812 689h1M812 706h1M812 716h1M812 721h1M812 726h1M812 732h1M812 733h1M812 736h1M812 745h1M812 749h1M812 750h1M812 751h1M812 752h1M812 753h1M812 754h1M812 755h1M812 756h1M813 689h1M813 696h1M813 718h1M813 731h1M813 738h1M813 744h1M813 745h1M813 747h1M813 748h1M813 749h1M813 751h1M813 752h1M813 753h1M813 754h1M813 755h1M813 756h1M814 697h1M814 702h1M814 730h1M814 744h1M814 748h1M814 750h1M814 751h1M814 752h1M814 753h1M814 754h1M814 756h1M815 697h1M815 704h1M815 718h1M815 723h1M815 726h1M815 730h1M815 738h1M815 739h1M815 740h1M815 741h1M815 745h1M815 746h1M815 748h1M815 749h1M815 750h1M815 751h1M815 752h1M815 753h1M815 754h1M815 755h1M815 756h1M815 757h1M816 691h1M816 707h1M816 712h1M816 727h1M816 735h1M816 737h1M816 741h1M816 742h1M816 743h1M816 749h1M816 751h1M816 752h1M816 753h1M816 754h1M816 755h1M816 756h1M817 720h1M817 736h1M817 737h1M817 746h1M817 747h1M817 749h1M817 750h1M817 751h1M817 752h1M817 753h1M817 755h1M817 756h1M817 757h1M818 695h1M818 701h1M818 704h1M818 708h1M818 742h1M818 749h1M818 750h1M818 751h1M818 752h1M818 753h1M818 754h1M818 755h1M818 756h1M818 757h1M818 758h1M819 691h1M819 705h1M819 706h1M819 711h1M819 718h1M819 720h1M819 722h1M819 727h1M819 730h1M819 732h1M819 739h1M819 740h1M819 743h1M819 744h1M819 745h1M819 746h1M819 748h1M819 749h1M819 750h1M819 751h1M819 752h1M819 753h1M819 754h1M819 755h1M820 683h1M820 684h1M820 687h1M820 706h1M820 708h1M820 715h1M820 716h1M820 718h1M820 720h1M820 729h1M820 730h1M820 731h1M820 734h1M820 735h1M820 736h1M820 739h1M820 742h1M820 743h1M820 744h1M820 745h1M820 747h1M820 749h1M820 750h1M820 751h1M820 752h1M820 753h1M820 754h1M820 755h1M820 756h1M820 757h1M820 758h1M820 759h1M821 689h1M821 701h1M821 708h1M821 711h1M821 713h1M821 715h1M821 719h1M821 720h1M821 726h1M821 729h1M821 732h1M821 733h1M821 736h1M821 738h1M821 739h1M821 742h1M821 743h1M821 744h1M821 745h1M821 746h1M821 747h1M821 748h1M821 749h1M821 750h1M821 751h1M821 752h1M821 753h1M821 754h1M821 755h1M821 756h1M821 757h1M822 690h1M822 712h1M822 713h1M822 717h1M822 720h1M822 730h1M822 737h1M822 740h1M822 742h1M822 745h1M822 746h1M822 747h1M822 748h1M822 749h1M822 750h1M822 751h1M822 752h1M822 753h1M822 754h1M822 755h1M822 756h1M822 757h1M822 758h1M823 681h1M823 698h1M823 709h1M823 711h1M823 714h1M823 728h1M823 729h1M823 730h1M823 731h1M823 732h1M823 736h1M823 737h1M823 738h1M823 739h1M823 740h1M823 741h1M823 742h1M823 743h1M823 745h1M823 749h1M823 750h1M823 751h1M823 752h1M823 753h1M823 755h1M823 756h1M823 757h1M823 758h1M824 642h1M824 695h1M824 697h1M824 699h1M824 703h1M824 706h1M824 707h1M824 709h1M824 716h1M824 718h1M824 719h1M824 722h1M824 723h1M824 725h1M824 728h1M824 730h1M824 731h1M824 732h1M824 735h1M824 736h1M824 740h1M824 742h1M824 744h1M824 745h1M824 746h1M824 747h1M824 749h1M824 750h1M824 751h1M824 752h1M824 753h1M824 754h1M824 755h1M824 756h1M824 757h1M824 758h1M825 677h1M825 690h1M825 696h1M825 707h1M825 712h1M825 713h1M825 719h1M825 720h1M825 727h1M825 732h1M825 734h1M825 736h1M825 738h1M825 739h1M825 740h1M825 741h1M825 742h1M825 745h1M825 746h1M825 747h1M825 748h1M825 749h1M825 750h1M825 752h1M825 753h1M825 754h1M825 755h1M825 756h1M825 757h1M825 758h1M826 667h1M826 700h1M826 701h1M826 714h1M826 718h1M826 721h1M826 724h1M826 725h1M826 726h1M826 728h1M826 729h1M826 734h1M826 735h1M826 736h1M826 737h1M826 738h1M826 741h1M826 742h1M826 745h1M826 746h1M826 747h1M826 748h1M826 749h1M826 750h1M826 751h1M826 752h1M826 753h1M826 754h1M826 755h1M826 756h1M826 757h1M826 758h1M827 690h1M827 693h1M827 700h1M827 707h1M827 713h1M827 719h1M827 720h1M827 723h1M827 731h1M827 735h1M827 742h1M827 743h1M827 744h1M827 745h1M827 746h1M827 747h1M827 748h1M827 749h1M827 750h1M827 751h1M827 752h1M827 753h1M827 754h1M827 755h1M827 756h1M827 757h1M827 758h1M828 690h1M828 692h1M828 698h1M828 700h1M828 707h1M828 708h1M828 710h1M828 711h1M828 712h1M828 715h1M828 719h1M828 722h1M828 724h1M828 727h1M828 728h1M828 730h1M828 732h1M828 733h1M828 734h1M828 735h1M828 736h1M828 737h1M828 738h1M828 740h1M828 741h1M828 742h1M828 743h1M828 744h1M828 745h1M828 746h1M828 747h1M828 748h1M828 749h1M828 750h1M828 751h1M828 752h1M828 753h1M828 754h1M828 755h1M828 756h1M828 757h1M828 758h1M828 759h1M829 691h1M829 695h1M829 700h1M829 701h1M829 704h1M829 705h1M829 708h1M829 710h1M829 712h1M829 717h1M829 718h1M829 719h1M829 720h1M829 723h1M829 726h1M829 727h1M829 728h1M829 729h1M829 730h1M829 734h1M829 737h1M829 738h1M829 741h1M829 742h1M829 743h1M829 745h1M829 746h1M829 747h1M829 748h1M829 749h1M829 750h1M829 751h1M829 752h1M829 753h1M829 754h1M829 755h1M829 756h1M829 758h1M830 668h1M830 694h1M830 706h1M830 707h1M830 710h1M830 711h1M830 712h1M830 713h1M830 718h1M830 719h1M830 722h1M830 724h1M830 727h1M830 728h1M830 730h1M830 731h1M830 732h1M830 733h1M830 735h1M830 736h1M830 738h1M830 739h1M830 740h1M830 741h1M830 742h1M830 743h1M830 745h1M830 746h1M830 747h1M830 748h1M830 749h1M830 750h1M830 751h1M830 752h1M830 753h1M830 754h1M830 755h1M830 756h1M830 757h1M830 758h1M830 759h1M830 760h1M831 647h1M831 693h1M831 695h1M831 698h1M831 699h1M831 701h1M831 702h1M831 705h1M831 706h1M831 709h1M831 713h1M831 715h1M831 716h1M831 717h1M831 718h1M831 721h1M831 722h1M831 724h1M831 726h1M831 729h1M831 731h1M831 734h1M831 735h1M831 736h1M831 737h1M831 738h1M831 739h1M831 740h1M831 741h1M831 743h1M831 744h1M831 745h1M831 746h1M831 747h1M831 748h1M831 749h1M831 750h1M831 751h1M831 752h1M831 753h1M831 754h1M831 755h1M831 756h1M831 757h1M831 758h1M832 683h1M832 694h1M832 697h1M832 698h1M832 705h1M832 712h1M832 714h1M832 716h1M832 719h1M832 720h1M832 721h1M832 722h1M832 726h1M832 727h1M832 731h1M832 732h1M832 733h1M832 736h1M832 737h1M832 739h1M832 740h1M832 741h1M832 742h1M832 743h1M832 744h1M832 745h1M832 746h1M832 747h1M832 748h1M832 749h1M832 750h1M832 751h1M832 752h1M832 753h1M832 754h1M832 755h1M832 756h1M832 757h1M832 758h1M832 759h1M833 666h1M833 690h1M833 694h1M833 704h1M833 707h1M833 708h1M833 709h1M833 719h1M833 720h1M833 722h1M833 724h1M833 726h1M833 731h1M833 732h1M833 733h1M833 734h1M833 735h1M833 736h1M833 737h1M833 738h1M833 739h1M833 741h1M833 742h1M833 743h1M833 744h1M833 745h1M833 746h1M833 747h1M833 748h1M833 749h1M833 750h1M833 751h1M833 752h1M833 753h1M833 754h1M833 755h1M833 756h1M833 757h1M833 758h1M834 685h1M834 692h1M834 694h1M834 703h1M834 710h1M834 712h1M834 713h1M834 716h1M834 717h1M834 722h1M834 724h1M834 729h1M834 730h1M834 733h1M834 734h1M834 737h1M834 738h1M834 739h1M834 740h1M834 741h1M834 742h1M834 743h1M834 745h1M834 746h1M834 747h1M834 748h1M834 750h1M834 751h1M834 752h1M834 753h1M834 754h1M834 755h1M834 756h1M834 757h1M834 758h1M834 759h1M835 662h1M835 678h1M835 690h1M835 692h1M835 693h1M835 696h1M835 698h1M835 700h1M835 703h1M835 705h1M835 706h1M835 711h1M835 714h1M835 719h1M835 721h1M835 723h1M835 724h1M835 727h1M835 728h1M835 729h1M835 730h1M835 731h1M835 733h1M835 734h1M835 735h1M835 736h1M835 737h1M835 738h1M835 739h1M835 740h1M835 741h1M835 742h1M835 743h1M835 744h1M835 745h1M835 746h1M835 747h1M835 748h1M835 749h1M835 750h1M835 751h1M835 752h1M835 753h1M835 754h1M835 755h1M835 756h1M835 757h1M835 758h1M835 760h1M836 668h1M836 695h1M836 697h1M836 699h1M836 705h1M836 706h1M836 713h1M836 715h1M836 719h1M836 720h1M836 721h1M836 723h1M836 725h1M836 726h1M836 727h1M836 728h1M836 729h1M836 730h1M836 731h1M836 732h1M836 733h1M836 735h1M836 736h1M836 738h1M836 739h1M836 740h1M836 741h1M836 742h1M836 743h1M836 744h1M836 745h1M836 746h1M836 747h1M836 748h1M836 749h1M836 750h1M836 751h1M836 752h1M836 753h1M836 754h1M836 755h1M836 756h1M836 757h1M836 758h1M836 759h1M837 681h1M837 682h1M837 688h1M837 689h1M837 691h1M837 693h1M837 698h1M837 699h1M837 703h1M837 711h1M837 712h1M837 715h1M837 717h1M837 719h1M837 721h1M837 723h1M837 724h1M837 725h1M837 726h1M837 727h1M837 728h1M837 729h1M837 732h1M837 733h1M837 734h1M837 735h1M837 737h1M837 738h1M837 739h1M837 740h1M837 741h1M837 742h1M837 743h1M837 744h1M837 745h1M837 746h1M837 747h1M837 748h1M837 749h1M837 750h1M837 751h1M837 752h1M837 753h1M837 754h1M837 755h1M837 756h1M837 757h1M837 758h1M837 759h1M838 662h1M838 690h1M838 701h1M838 705h1M838 706h1M838 707h1M838 709h1M838 711h1M838 712h1M838 713h1M838 714h1M838 718h1M838 719h1M838 723h1M838 725h1M838 727h1M838 729h1M838 730h1M838 731h1M838 732h1M838 734h1M838 735h1M838 736h1M838 737h1M838 738h1M838 739h1M838 740h1M838 741h1M838 742h1M838 743h1M838 744h1M838 745h1M838 746h1M838 747h1M838 748h1M838 749h1M838 750h1M838 751h1M838 752h1M838 753h1M838 754h1M838 755h1M838 756h1M838 757h1M838 758h1M838 759h1M838 760h1M839 689h1M839 695h1M839 696h1M839 700h1M839 701h1M839 703h1M839 704h1M839 707h1M839 708h1M839 711h1M839 713h1M839 714h1M839 715h1M839 716h1M839 719h1M839 720h1M839 721h1M839 723h1M839 724h1M839 725h1M839 726h1M839 729h1M839 732h1M839 734h1M839 736h1M839 737h1M839 738h1M839 740h1M839 741h1M839 742h1M839 743h1M839 744h1M839 745h1M839 746h1M839 747h1M839 748h1M839 749h1M839 750h1M839 751h1M839 752h1M839 753h1M839 754h1M839 755h1M839 756h1M839 757h1M839 758h1M839 759h1M839 760h1M840 678h1M840 681h1M840 687h1M840 694h1M840 695h1M840 700h1M840 704h1M840 705h1M840 706h1M840 708h1M840 712h1M840 713h1M840 714h1M840 715h1M840 716h1M840 718h1M840 720h1M840 721h1M840 722h1M840 723h1M840 727h1M840 728h1M840 729h1M840 730h1M840 731h1M840 732h1M840 733h1M840 734h1M840 735h1M840 736h1M840 737h1M840 739h1M840 740h1M840 741h1M840 742h1M840 743h1M840 744h1M840 745h1M840 746h1M840 747h1M840 748h1M840 749h1M840 750h1M840 751h1M840 752h1M840 753h1M840 754h1M840 755h1M840 756h1M840 757h1M840 758h1M840 759h1M841 663h1M841 686h1M841 689h1M841 693h1M841 694h1M841 698h1M841 702h1M841 706h1M841 707h1M841 711h1M841 713h1M841 714h1M841 715h1M841 717h1M841 723h1M841 725h1M841 727h1M841 728h1M841 729h1M841 730h1M841 732h1M841 733h1M841 734h1M841 735h1M841 737h1M841 739h1M841 740h1M841 741h1M841 742h1M841 743h1M841 744h1M841 745h1M841 746h1M841 747h1M841 748h1M841 749h1M841 750h1M841 751h1M841 752h1M841 753h1M841 754h1M841 755h1M841 756h1M841 757h1M841 758h1M841 759h1M841 760h1M842 661h1M842 662h1M842 677h1M842 680h1M842 692h1M842 693h1M842 698h1M842 703h1M842 704h1M842 706h1M842 707h1M842 708h1M842 712h1M842 715h1M842 717h1M842 718h1M842 719h1M842 720h1M842 721h1M842 722h1M842 723h1M842 725h1M842 726h1M842 727h1M842 728h1M842 731h1M842 732h1M842 733h1M842 734h1M842 736h1M842 738h1M842 739h1M842 740h1M842 741h1M842 742h1M842 743h1M842 744h1M842 745h1M842 747h1M842 748h1M842 749h1M842 750h1M842 751h1M842 752h1M842 753h1M842 754h1M842 755h1M842 756h1M842 757h1M842 758h1M842 759h1M842 760h1M843 666h1M843 698h1M843 699h1M843 700h1M843 701h1M843 702h1M843 708h1M843 709h1M843 711h1M843 712h1M843 713h1M843 714h1M843 716h1M843 717h1M843 718h1M843 721h1M843 725h1M843 727h1M843 728h1M843 729h1M843 730h1M843 732h1M843 733h1M843 734h1M843 735h1M843 736h1M843 738h1M843 739h1M843 740h1M843 741h1M843 742h1M843 743h1M843 744h1M843 745h1M843 746h1M843 747h1M843 748h1M843 749h1M843 750h1M843 751h1M843 752h1M843 753h1M843 754h1M843 755h1M843 756h1M843 757h1M843 758h1M843 759h1M843 760h1M844 691h1M844 693h1M844 697h1M844 700h1M844 705h1M844 706h1M844 707h1M844 709h1M844 710h1M844 711h1M844 712h1M844 714h1M844 715h1M844 717h1M844 718h1M844 719h1M844 720h1M844 721h1M844 722h1M844 723h1M844 724h1M844 725h1M844 726h1M844 728h1M844 729h1M844 730h1M844 731h1M844 732h1M844 733h1M844 734h1M844 735h1M844 736h1M844 737h1M844 738h1M844 739h1M844 740h1M844 741h1M844 742h1M844 743h1M844 744h1M844 745h1M844 746h1M844 747h1M844 748h1M844 749h1M844 750h1M844 751h1M844 752h1M844 753h1M844 754h1M844 755h1M844 756h1M844 757h1M844 758h1M844 759h1M844 760h1M845 672h1M845 692h1M845 694h1M845 696h1M845 697h1M845 698h1M845 702h1M845 703h1M845 709h1M845 710h1M845 713h1M845 714h1M845 715h1M845 716h1M845 718h1M845 719h1M845 720h1M845 721h1M845 725h1M845 729h1M845 730h1M845 731h1M845 732h1M845 734h1M845 735h1M845 736h1M845 737h1M845 738h1M845 739h1M845 740h1M845 741h1M845 743h1M845 744h1M845 745h1M845 746h1M845 747h1M845 748h1M845 749h1M845 750h1M845 751h1M845 752h1M845 753h1M845 754h1M845 755h1M845 756h1M845 757h1M845 758h1M845 759h1M846 686h1M846 687h1M846 689h1M846 691h1M846 692h1M846 705h1M846 708h1M846 709h1M846 710h1M846 711h1M846 712h1M846 715h1M846 716h1M846 719h1M846 720h1M846 721h1M846 723h1M846 724h1M846 725h1M846 726h1M846 727h1M846 728h1M846 730h1M846 731h1M846 732h1M846 733h1M846 734h1M846 736h1M846 737h1M846 738h1M846 739h1M846 740h1M846 741h1M846 742h1M846 743h1M846 745h1M846 746h1M846 747h1M846 748h1M846 749h1M846 750h1M846 751h1M846 752h1M846 753h1M846 754h1M846 755h1M846 756h1M846 757h1M846 758h1M846 759h1M847 671h1M847 680h1M847 685h1M847 688h1M847 690h1M847 691h1M847 692h1M847 698h1M847 700h1M847 701h1M847 702h1M847 703h1M847 706h1M847 707h1M847 708h1M847 709h1M847 712h1M847 713h1M847 717h1M847 718h1M847 719h1M847 720h1M847 721h1M847 722h1M847 723h1M847 725h1M847 726h1M847 727h1M847 728h1M847 729h1M847 730h1M847 731h1M847 732h1M847 733h1M847 734h1M847 735h1M847 736h1M847 738h1M847 740h1M847 741h1M847 742h1M847 743h1M847 745h1M847 746h1M847 747h1M847 748h1M847 749h1M847 750h1M847 751h1M847 752h1M847 753h1M847 754h1M847 755h1M847 756h1M847 757h1M847 758h1M847 759h1M847 760h1M848 697h1M848 698h1M848 700h1M848 702h1M848 703h1M848 705h1M848 706h1M848 707h1M848 712h1M848 713h1M848 714h1M848 715h1M848 717h1M848 718h1M848 719h1M848 720h1M848 721h1M848 725h1M848 726h1M848 730h1M848 732h1M848 733h1M848 734h1M848 735h1M848 736h1M848 737h1M848 739h1M848 740h1M848 741h1M848 742h1M848 743h1M848 744h1M848 745h1M848 746h1M848 747h1M848 748h1M848 749h1M848 750h1M848 751h1M848 752h1M848 753h1M848 754h1M848 755h1M848 756h1M848 757h1M848 758h1M848 759h1M848 760h1M849 672h1M849 683h1M849 685h1M849 687h1M849 690h1M849 693h1M849 698h1M849 699h1M849 701h1M849 702h1M849 705h1M849 711h1M849 713h1M849 714h1M849 718h1M849 719h1M849 720h1M849 722h1M849 724h1M849 725h1M849 726h1M849 727h1M849 729h1M849 730h1M849 732h1M849 734h1M849 735h1M849 738h1M849 739h1M849 740h1M849 741h1M849 742h1M849 743h1M849 744h1M849 745h1M849 746h1M849 747h1M849 748h1M849 749h1M849 750h1M849 751h1M849 752h1M849 753h1M849 754h1M849 755h1M849 756h1M849 757h1M849 758h1M849 759h1M850 676h1M850 678h1M850 686h1M850 687h1M850 690h1M850 693h1M850 700h1M850 702h1M850 704h1M850 705h1M850 706h1M850 707h1M850 710h1M850 712h1M850 713h1M850 716h1M850 717h1M850 718h1M850 719h1M850 720h1M850 722h1M850 724h1M850 725h1M850 726h1M850 728h1M850 729h1M850 730h1M850 732h1M850 734h1M850 735h1M850 736h1M850 737h1M850 738h1M850 739h1M850 740h1M850 741h1M850 742h1M850 743h1M850 744h1M850 745h1M850 746h1M850 747h1M850 748h1M850 749h1M850 750h1M850 751h1M850 752h1M850 753h1M850 754h1M850 755h1M850 756h1M850 757h1M850 758h1M850 759h1M850 760h1M851 659h1M851 685h1M851 686h1M851 692h1M851 701h1M851 705h1M851 710h1M851 711h1M851 712h1M851 714h1M851 715h1M851 716h1M851 718h1M851 720h1M851 721h1M851 722h1M851 723h1M851 725h1M851 726h1M851 727h1M851 728h1M851 729h1M851 730h1M851 731h1M851 733h1M851 734h1M851 735h1M851 736h1M851 737h1M851 738h1M851 739h1M851 740h1M851 741h1M851 742h1M851 743h1M851 744h1M851 745h1M851 746h1M851 747h1M851 748h1M851 749h1M851 750h1M851 751h1M851 752h1M851 753h1M851 754h1M851 755h1M851 756h1M851 757h1M851 758h1M851 759h1M852 687h1M852 691h1M852 693h1M852 694h1M852 697h1M852 699h1M852 700h1M852 703h1M852 705h1M852 708h1M852 709h1M852 711h1M852 712h1M852 714h1M852 716h1M852 717h1M852 719h1M852 720h1M852 721h1M852 722h1M852 723h1M852 724h1M852 726h1M852 728h1M852 729h1M852 730h1M852 731h1M852 732h1M852 734h1M852 735h1M852 736h1M852 737h1M852 738h1M852 739h1M852 740h1M852 741h1M852 742h1M852 743h1M852 745h1M852 746h1M852 747h1M852 748h1M852 749h1M852 750h1M852 751h1M852 752h1M852 753h1M852 754h1M852 755h1M852 756h1M852 757h1M852 758h1M852 759h1M853 660h1M853 671h1M853 678h1M853 682h1M853 684h1M853 688h1M853 692h1M853 694h1M853 698h1M853 700h1M853 703h1M853 705h1M853 706h1M853 707h1M853 708h1M853 709h1M853 710h1M853 711h1M853 712h1M853 714h1M853 719h1M853 720h1M853 721h1M853 722h1M853 723h1M853 724h1M853 726h1M853 727h1M853 728h1M853 730h1M853 731h1M853 732h1M853 733h1M853 734h1M853 735h1M853 736h1M853 737h1M853 738h1M853 740h1M853 741h1M853 742h1M853 743h1M853 744h1M853 745h1M853 746h1M853 747h1M853 748h1M853 749h1M853 750h1M853 751h1M853 752h1M853 753h1M853 754h1M853 755h1M853 756h1M853 757h1M853 758h1M853 759h1M853 761h1M854 681h1M854 682h1M854 683h1M854 696h1M854 699h1M854 700h1M854 702h1M854 708h1M854 710h1M854 712h1M854 713h1M854 714h1M854 715h1M854 717h1M854 718h1M854 720h1M854 722h1M854 723h1M854 727h1M854 728h1M854 729h1M854 730h1M854 732h1M854 734h1M854 736h1M854 739h1M854 740h1M854 741h1M854 742h1M854 743h1M854 744h1M854 745h1M854 746h1M854 747h1M854 749h1M854 750h1M854 751h1M854 752h1M854 753h1M854 754h1M854 755h1M854 756h1M854 757h1M854 758h1M854 759h1M855 673h1M855 692h1M855 698h1M855 700h1M855 703h1M855 704h1M855 705h1M855 706h1M855 710h1M855 711h1M855 713h1M855 714h1M855 716h1M855 717h1M855 718h1M855 720h1M855 721h1M855 722h1M855 725h1M855 726h1M855 728h1M855 729h1M855 730h1M855 732h1M855 733h1M855 734h1M855 735h1M855 736h1M855 737h1M855 739h1M855 740h1M855 741h1M855 742h1M855 743h1M855 744h1M855 745h1M855 747h1M855 748h1M855 749h1M855 750h1M855 751h1M855 752h1M855 753h1M855 754h1M855 755h1M855 756h1M855 757h1M855 758h1M855 759h1M856 672h1M856 679h1M856 682h1M856 693h1M856 695h1M856 699h1M856 702h1M856 706h1M856 710h1M856 711h1M856 715h1M856 716h1M856 717h1M856 718h1M856 720h1M856 721h1M856 722h1M856 725h1M856 726h1M856 727h1M856 729h1M856 730h1M856 731h1M856 733h1M856 734h1M856 735h1M856 737h1M856 738h1M856 739h1M856 740h1M856 742h1M856 743h1M856 744h1M856 745h1M856 746h1M856 747h1M856 748h1M856 749h1M856 751h1M856 752h1M856 753h1M856 754h1M856 755h1M856 756h1M856 757h1M856 758h1M856 759h1M856 760h1M857 676h1M857 686h1M857 687h1M857 692h1M857 693h1M857 696h1M857 706h1M857 708h1M857 710h1M857 714h1M857 715h1M857 717h1M857 721h1M857 722h1M857 726h1M857 727h1M857 729h1M857 730h1M857 731h1M857 732h1M857 734h1M857 735h1M857 736h1M857 737h1M857 738h1M857 740h1M857 741h1M857 742h1M857 743h1M857 744h1M857 745h1M857 746h1M857 747h1M857 748h1M857 749h1M857 750h1M857 751h1M857 752h1M857 753h1M857 754h1M857 755h1M857 756h1M857 757h1M857 758h1M857 759h1M857 760h1M858 690h1M858 693h1M858 698h1M858 699h1M858 700h1M858 701h1M858 707h1M858 710h1M858 714h1M858 715h1M858 716h1M858 717h1M858 718h1M858 720h1M858 721h1M858 723h1M858 724h1M858 725h1M858 726h1M858 727h1M858 728h1M858 729h1M858 730h1M858 731h1M858 735h1M858 736h1M858 737h1M858 738h1M858 740h1M858 741h1M858 743h1M858 744h1M858 745h1M858 746h1M858 747h1M858 748h1M858 749h1M858 750h1M858 751h1M858 752h1M858 754h1M858 755h1M858 756h1M858 757h1M858 758h1M858 759h1M859 666h1M859 684h1M859 689h1M859 691h1M859 697h1M859 699h1M859 701h1M859 704h1M859 708h1M859 709h1M859 713h1M859 714h1M859 715h1M859 716h1M859 717h1M859 718h1M859 719h1M859 720h1M859 721h1M859 724h1M859 725h1M859 726h1M859 727h1M859 728h1M859 729h1M859 730h1M859 731h1M859 732h1M859 735h1M859 738h1M859 740h1M859 741h1M859 742h1M859 744h1M859 745h1M859 747h1M859 748h1M859 749h1M859 750h1M859 751h1M859 752h1M859 753h1M859 754h1M859 755h1M859 756h1M859 757h1M859 758h1M859 759h1M860 685h1M860 695h1M860 699h1M860 704h1M860 709h1M860 710h1M860 716h1M860 719h1M860 720h1M860 721h1M860 723h1M860 724h1M860 725h1M860 726h1M860 728h1M860 730h1M860 731h1M860 732h1M860 734h1M860 736h1M860 737h1M860 738h1M860 739h1M860 740h1M860 741h1M860 742h1M860 743h1M860 744h1M860 745h1M860 746h1M860 747h1M860 749h1M860 750h1M860 751h1M860 752h1M860 753h1M860 754h1M860 755h1M860 756h1M860 758h1M861 679h1M861 681h1M861 688h1M861 689h1M861 697h1M861 700h1M861 701h1M861 702h1M861 710h1M861 712h1M861 713h1M861 714h1M861 715h1M861 716h1M861 717h1M861 720h1M861 721h1M861 722h1M861 723h1M861 724h1M861 725h1M861 730h1M861 731h1M861 732h1M861 734h1M861 736h1M861 738h1M861 740h1M861 742h1M861 744h1M861 745h1M861 746h1M861 747h1M861 748h1M861 749h1M861 750h1M861 751h1M861 753h1M861 754h1M861 755h1M861 756h1M861 757h1M861 758h1M861 759h1M862 656h1M862 703h1M862 705h1M862 709h1M862 712h1M862 715h1M862 716h1M862 718h1M862 720h1M862 721h1M862 722h1M862 726h1M862 727h1M862 730h1M862 731h1M862 733h1M862 734h1M862 735h1M862 738h1M862 741h1M862 742h1M862 743h1M862 744h1M862 745h1M862 746h1M862 747h1M862 748h1M862 749h1M862 750h1M862 751h1M862 752h1M862 753h1M862 754h1M862 755h1M862 756h1M862 757h1M862 758h1M862 759h1M863 665h1M863 685h1M863 688h1M863 693h1M863 699h1M863 700h1M863 706h1M863 709h1M863 714h1M863 719h1M863 720h1M863 721h1M863 723h1M863 725h1M863 726h1M863 729h1M863 733h1M863 734h1M863 736h1M863 737h1M863 738h1M863 739h1M863 740h1M863 742h1M863 743h1M863 745h1M863 746h1M863 747h1M863 748h1M863 749h1M863 750h1M863 751h1M863 752h1M863 753h1M863 754h1M863 755h1M863 756h1M863 757h1M863 758h1M863 759h1M864 664h1M864 674h1M864 681h1M864 685h1M864 688h1M864 689h1M864 693h1M864 695h1M864 697h1M864 703h1M864 710h1M864 711h1M864 714h1M864 715h1M864 717h1M864 719h1M864 722h1M864 723h1M864 724h1M864 726h1M864 727h1M864 731h1M864 732h1M864 733h1M864 734h1M864 735h1M864 737h1M864 738h1M864 739h1M864 740h1M864 742h1M864 743h1M864 745h1M864 746h1M864 747h1M864 748h1M864 749h1M864 750h1M864 751h1M864 752h1M864 753h1M864 754h1M864 755h1M864 756h1M864 757h1M864 758h1M865 669h1M865 685h1M865 696h1M865 705h1M865 709h1M865 710h1M865 716h1M865 717h1M865 718h1M865 719h1M865 720h1M865 722h1M865 723h1M865 725h1M865 726h1M865 728h1M865 732h1M865 734h1M865 737h1M865 738h1M865 740h1M865 741h1M865 742h1M865 743h1M865 744h1M865 745h1M865 746h1M865 747h1M865 749h1M865 750h1M865 751h1M865 752h1M865 753h1M865 754h1M865 755h1M865 756h1M865 757h1M865 758h1M866 709h1M866 710h1M866 712h1M866 713h1M866 714h1M866 716h1M866 720h1M866 721h1M866 722h1M866 726h1M866 728h1M866 730h1M866 732h1M866 734h1M866 735h1M866 736h1M866 737h1M866 738h1M866 741h1M866 742h1M866 743h1M866 744h1M866 745h1M866 746h1M866 747h1M866 749h1M866 753h1M866 754h1M866 755h1M866 756h1M866 757h1M866 758h1M867 686h1M867 693h1M867 699h1M867 700h1M867 702h1M867 704h1M867 707h1M867 711h1M867 713h1M867 715h1M867 719h1M867 721h1M867 723h1M867 729h1M867 730h1M867 731h1M867 732h1M867 733h1M867 734h1M867 736h1M867 737h1M867 739h1M867 742h1M867 744h1M867 746h1M867 747h1M867 748h1M867 749h1M867 750h1M867 751h1M867 752h1M867 753h1M867 754h1M867 755h1M867 756h1M867 757h1M867 758h1M868 682h1M868 688h1M868 693h1M868 704h1M868 717h1M868 719h1M868 721h1M868 724h1M868 725h1M868 730h1M868 732h1M868 734h1M868 736h1M868 737h1M868 738h1M868 741h1M868 743h1M868 744h1M868 745h1M868 746h1M868 747h1M868 748h1M868 749h1M868 750h1M868 751h1M868 752h1M868 753h1M868 755h1M868 756h1M868 757h1M869 708h1M869 715h1M869 716h1M869 720h1M869 723h1M869 725h1M869 729h1M869 730h1M869 732h1M869 736h1M869 737h1M869 739h1M869 740h1M869 741h1M869 742h1M869 743h1M869 745h1M869 746h1M869 747h1M869 748h1M869 750h1M869 751h1M869 754h1M869 756h1M869 757h1M869 759h1M870 670h1M870 686h1M870 712h1M870 713h1M870 716h1M870 719h1M870 721h1M870 722h1M870 724h1M870 725h1M870 726h1M870 727h1M870 730h1M870 731h1M870 733h1M870 734h1M870 735h1M870 736h1M870 739h1M870 740h1M870 741h1M870 743h1M870 744h1M870 745h1M870 746h1M870 750h1M870 751h1M870 753h1M870 754h1M870 755h1M870 757h1M870 758h1M870 759h1M871 689h1M871 695h1M871 698h1M871 700h1M871 725h1M871 735h1M871 737h1M871 741h1M871 742h1M871 743h1M871 744h1M871 746h1M871 747h1M871 748h1M871 750h1M871 752h1M871 753h1M871 754h1M871 755h1M871 758h1M872 677h1M872 704h1M872 705h1M872 708h1M872 716h1M872 720h1M872 721h1M872 726h1M872 728h1M872 731h1M872 734h1M872 736h1M872 737h1M872 741h1M872 742h1M872 744h1M872 746h1M872 747h1M872 749h1M872 750h1M872 751h1M872 753h1M872 754h1M872 756h1M872 757h1M873 678h1M873 685h1M873 690h1M873 708h1M873 711h1M873 712h1M873 714h1M873 716h1M873 718h1M873 719h1M873 720h1M873 726h1M873 738h1M873 739h1M873 742h1M873 743h1M873 744h1M873 745h1M873 747h1M873 749h1M873 750h1M873 751h1M873 752h1M873 753h1M873 754h1M873 755h1M873 756h1M873 757h1M874 679h1M874 693h1M874 701h1M874 706h1M874 707h1M874 713h1M874 716h1M874 717h1M874 720h1M874 724h1M874 726h1M874 730h1M874 731h1M874 739h1M874 740h1M874 741h1M874 744h1M874 745h1M874 747h1M874 748h1M874 750h1M874 751h1M874 752h1M874 753h1M874 755h1M874 756h1M874 758h1M875 687h1M875 689h1M875 716h1M875 721h1M875 722h1M875 724h1M875 725h1M875 727h1M875 738h1M875 740h1M875 741h1M875 742h1M875 744h1M875 745h1M875 746h1M875 747h1M875 750h1M875 751h1M875 752h1M875 754h1M875 757h1M876 703h1M876 706h1M876 717h1M876 718h1M876 731h1M876 732h1M876 736h1M876 739h1M876 741h1M876 742h1M876 743h1M876 746h1M876 747h1M876 748h1M876 750h1M876 752h1M876 756h1M876 757h1M877 678h1M877 703h1M877 713h1M877 714h1M877 719h1M877 721h1M877 724h1M877 727h1M877 728h1M877 736h1M877 738h1M877 740h1M877 741h1M877 742h1M877 743h1M877 744h1M877 745h1M877 746h1M877 753h1M877 754h1M877 755h1M877 756h1M877 757h1M878 691h1M878 710h1M878 714h1M878 733h1M878 736h1M878 737h1M878 740h1M878 748h1M878 752h1M878 753h1M878 754h1M878 758h1M879 701h1M879 704h1M879 712h1M879 720h1M879 721h1M879 722h1M879 734h1M879 737h1M879 739h1M879 741h1M879 743h1M879 744h1M879 747h1M879 748h1M879 750h1M879 752h1M879 754h1M879 755h1M879 756h1M879 757h1M880 681h1M880 710h1M880 713h1M880 716h1M880 718h1M880 725h1M880 726h1M880 731h1M880 735h1M880 738h1M880 743h1M881 714h1M881 732h1M881 737h1M881 739h1M881 740h1M881 743h1M881 745h1M881 749h1M881 751h1M882 682h1M882 687h1M882 713h1M882 717h1M882 718h1M882 720h1M882 721h1M882 726h1M882 728h1M882 730h1M882 733h1M882 738h1M882 748h1M882 755h1M882 757h1M883 719h1M883 731h1M883 740h1M883 748h1M883 753h1M883 756h1M883 757h1M884 698h1M884 718h1M884 720h1M884 733h1M886 754h1M903 702h1" stroke="#000" stroke-width="1" fill="none" shape-rendering="crispEdges" transform="translate(0 .5)"/>
<path d="M865 765h1M836 762h1M847 761h1M832 769h1M847 764h1M846 766h1M842 771h1M826 764h1M845 764h1M837 767h1M865 763h1M840 770h1M830 770h1M815 766h1M838 763h1M861 761h1M856 764h1M857 776h1M842 768h1M851 763h1M839 761h1M842 776h1M838 766h1M850 765h1M830 761h1M838 765h1M842 768h1M824 766h1M841 766h1M840 766h1M845 761h1M850 765h1M847 761h1M838 768h1M810 763h1M873 765h1M846 766h1M855 765h1M838 768h1M826 766h1" stroke="#b5b5b5" stroke-width="1" fill="none" shape-rendering="crispEdges" transform="translate(0 .5)"/>
<rect x="748.5" y="632.8" width="179.8" height="181.3" fill="none" stroke="#8a8a8a" stroke-width="1"/>
<rect x="814.3" y="640.3" width="68.4" height="95.1" fill="none" stroke="#222" stroke-width="1"/>
<text x="751" y="666.8" font-size="22" fill="#a23fa2" font-family="DejaVu Sans, Liberation Sans, sans-serif">29,6</text>
<path d="M972 749h1M988 737h1M988 740h1M988 750h1M988 753h1M989 712h1M989 714h1M989 732h1M989 747h1M989 751h1M989 752h1M990 733h1M990 741h1M990 749h1M990 751h1M990 753h1M990 754h1M991 733h1M991 748h1M991 749h1M991 753h1M991 754h1M992 728h1M992 732h1M992 747h1M992 748h1M992 749h1M992 752h1M992 754h1M992 755h1M993 727h1M993 749h1M993 751h1M993 752h1M993 753h1M993 755h1M994 705h1M994 741h1M994 742h1M994 749h1M994 751h1M994 752h1M994 753h1M994 754h1M995 693h1M995 695h1M995 714h1M995 718h1M995 730h1M995 742h1M995 744h1M995 747h1M995 749h1M995 750h1M996 706h1M996 713h1M996 741h1M996 747h1M996 748h1M996 749h1M996 750h1M996 751h1M996 753h1M996 754h1M996 755h1M996 756h1M997 682h1M997 694h1M997 721h1M997 723h1M997 726h1M997 731h1M997 733h1M997 738h1M997 740h1M997 746h1M997 747h1M997 748h1M997 749h1M997 751h1M997 754h1M997 755h1M997 756h1M998 720h1M998 731h1M998 734h1M998 738h1M998 743h1M998 748h1M998 750h1M998 751h1M998 754h1M998 755h1M998 756h1M999 710h1M999 718h1M999 734h1M999 746h1M999 748h1M999 750h1M999 751h1M999 755h1M999 756h1M999 758h1M1000 706h1M1000 707h1M1000 721h1M1000 722h1M1000 743h1M1000 744h1M1000 748h1M1000 749h1M1000 750h1M1000 751h1M1000 752h1M1000 754h1M1000 756h1M1000 757h1M1001 690h1M1001 705h1M1001 719h1M1001 726h1M1001 733h1M1001 745h1M1001 746h1M1001 750h1M1001 751h1M1001 752h1M1001 754h1M1001 755h1M1001 756h1M1001 757h1M1002 715h1M1002 717h1M1002 718h1M1002 721h1M1002 729h1M1002 731h1M1002 733h1M1002 743h1M1002 745h1M1002 747h1M1002 749h1M1002 751h1M1002 752h1M1002 753h1M1002 754h1M1002 755h1M1002 756h1M1003 699h1M1003 709h1M1003 712h1M1003 724h1M1003 727h1M1003 731h1M1003 734h1M1003 740h1M1003 741h1M1003 746h1M1003 748h1M1003 749h1M1003 750h1M1003 751h1M1003 752h1M1003 753h1M1003 754h1M1003 757h1M1003 758h1M1004 688h1M1004 703h1M1004 711h1M1004 723h1M1004 727h1M1004 732h1M1004 733h1M1004 741h1M1004 743h1M1004 747h1M1004 750h1M1004 751h1M1004 752h1M1004 753h1M1004 754h1M1004 755h1M1004 756h1M1004 757h1M1005 686h1M1005 695h1M1005 697h1M1005 699h1M1005 705h1M1005 718h1M1005 719h1M1005 721h1M1005 724h1M1005 734h1M1005 736h1M1005 741h1M1005 742h1M1005 744h1M1005 748h1M1005 749h1M1005 750h1M1005 751h1M1005 752h1M1005 753h1M1005 754h1M1005 755h1M1005 756h1M1005 757h1M1006 670h1M1006 705h1M1006 707h1M1006 728h1M1006 729h1M1006 732h1M1006 733h1M1006 735h1M1006 736h1M1006 742h1M1006 743h1M1006 744h1M1006 748h1M1006 749h1M1006 750h1M1006 751h1M1006 753h1M1006 754h1M1006 755h1M1006 756h1M1006 757h1M1006 758h1M1007 683h1M1007 703h1M1007 705h1M1007 707h1M1007 709h1M1007 711h1M1007 714h1M1007 724h1M1007 725h1M1007 727h1M1007 728h1M1007 736h1M1007 737h1M1007 744h1M1007 745h1M1007 746h1M1007 747h1M1007 748h1M1007 751h1M1007 752h1M1007 753h1M1007 754h1M1007 755h1M1007 756h1M1007 757h1M1007 758h1M1008 692h1M1008 695h1M1008 700h1M1008 705h1M1008 706h1M1008 713h1M1008 714h1M1008 715h1M1008 716h1M1008 717h1M1008 721h1M1008 723h1M1008 724h1M1008 728h1M1008 729h1M1008 733h1M1008 741h1M1008 742h1M1008 743h1M1008 747h1M1008 749h1M1008 750h1M1008 752h1M1008 753h1M1008 754h1M1008 755h1M1008 756h1M1008 757h1M1009 678h1M1009 690h1M1009 696h1M1009 702h1M1009 707h1M1009 711h1M1009 713h1M1009 714h1M1009 717h1M1009 718h1M1009 723h1M1009 724h1M1009 725h1M1009 726h1M1009 728h1M1009 729h1M1009 730h1M1009 732h1M1009 736h1M1009 739h1M1009 742h1M1009 743h1M1009 745h1M1009 746h1M1009 749h1M1009 750h1M1009 751h1M1009 752h1M1009 753h1M1009 754h1M1009 755h1M1009 756h1M1009 757h1M1009 758h1M1010 700h1M1010 709h1M1010 710h1M1010 712h1M1010 714h1M1010 717h1M1010 720h1M1010 721h1M1010 724h1M1010 731h1M1010 732h1M1010 733h1M1010 737h1M1010 738h1M1010 739h1M1010 741h1M1010 743h1M1010 744h1M1010 745h1M1010 747h1M1010 749h1M1010 750h1M1010 751h1M1010 752h1M1010 753h1M1010 754h1M1010 755h1M1010 756h1M1010 757h1M1010 758h1M1011 706h1M1011 707h1M1011 709h1M1011 712h1M1011 715h1M1011 716h1M1011 718h1M1011 722h1M1011 723h1M1011 724h1M1011 725h1M1011 726h1M1011 727h1M1011 728h1M1011 729h1M1011 730h1M1011 732h1M1011 733h1M1011 740h1M1011 741h1M1011 742h1M1011 744h1M1011 747h1M1011 748h1M1011 749h1M1011 750h1M1011 751h1M1011 752h1M1011 753h1M1011 754h1M1011 755h1M1011 756h1M1011 757h1M1011 758h1M1011 759h1M1012 682h1M1012 687h1M1012 693h1M1012 698h1M1012 701h1M1012 707h1M1012 709h1M1012 711h1M1012 716h1M1012 722h1M1012 726h1M1012 728h1M1012 729h1M1012 731h1M1012 732h1M1012 733h1M1012 734h1M1012 735h1M1012 736h1M1012 737h1M1012 739h1M1012 741h1M1012 742h1M1012 744h1M1012 745h1M1012 746h1M1012 747h1M1012 748h1M1012 749h1M1012 750h1M1012 751h1M1012 752h1M1012 753h1M1012 754h1M1012 755h1M1012 756h1M1012 757h1M1012 758h1M1013 673h1M1013 702h1M1013 706h1M1013 707h1M1013 709h1M1013 712h1M1013 714h1M1013 716h1M1013 719h1M1013 724h1M1013 725h1M1013 728h1M1013 731h1M1013 738h1M1013 739h1M1013 740h1M1013 741h1M1013 742h1M1013 745h1M1013 746h1M1013 747h1M1013 748h1M1013 749h1M1013 750h1M1013 751h1M1013 752h1M1013 753h1M1013 754h1M1013 755h1M1013 756h1M1013 757h1M1013 758h1M1014 670h1M1014 683h1M1014 693h1M1014 696h1M1014 703h1M1014 710h1M1014 711h1M1014 713h1M1014 715h1M1014 716h1M1014 720h1M1014 721h1M1014 722h1M1014 724h1M1014 725h1M1014 727h1M1014 730h1M1014 731h1M1014 732h1M1014 733h1M1014 734h1M1014 736h1M1014 737h1M1014 740h1M1014 742h1M1014 743h1M1014 744h1M1014 745h1M1014 746h1M1014 747h1M1014 748h1M1014 749h1M1014 750h1M1014 751h1M1014 752h1M1014 753h1M1014 754h1M1014 755h1M1014 756h1M1014 757h1M1014 758h1M1015 695h1M1015 696h1M1015 698h1M1015 702h1M1015 717h1M1015 722h1M1015 727h1M1015 728h1M1015 729h1M1015 731h1M1015 733h1M1015 735h1M1015 737h1M1015 738h1M1015 740h1M1015 743h1M1015 744h1M1015 745h1M1015 746h1M1015 748h1M1015 749h1M1015 750h1M1015 751h1M1015 752h1M1015 753h1M1015 754h1M1015 755h1M1015 756h1M1015 757h1M1015 758h1M1015 759h1M1016 657h1M1016 691h1M1016 692h1M1016 696h1M1016 697h1M1016 699h1M1016 702h1M1016 712h1M1016 714h1M1016 717h1M1016 718h1M1016 720h1M1016 721h1M1016 722h1M1016 724h1M1016 725h1M1016 726h1M1016 727h1M1016 728h1M1016 730h1M1016 731h1M1016 732h1M1016 733h1M1016 736h1M1016 737h1M1016 738h1M1016 740h1M1016 743h1M1016 744h1M1016 746h1M1016 747h1M1016 748h1M1016 749h1M1016 750h1M1016 751h1M1016 752h1M1016 753h1M1016 754h1M1016 755h1M1016 756h1M1016 757h1M1016 758h1M1016 759h1M1016 760h1M1017 687h1M1017 690h1M1017 704h1M1017 708h1M1017 709h1M1017 711h1M1017 712h1M1017 713h1M1017 714h1M1017 715h1M1017 725h1M1017 726h1M1017 727h1M1017 728h1M1017 729h1M1017 731h1M1017 732h1M1017 735h1M1017 736h1M1017 739h1M1017 740h1M1017 741h1M1017 742h1M1017 744h1M1017 745h1M1017 746h1M1017 747h1M1017 748h1M1017 749h1M1017 750h1M1017 751h1M1017 752h1M1017 753h1M1017 754h1M1017 755h1M1017 756h1M1017 757h1M1017 758h1M1018 655h1M1018 678h1M1018 689h1M1018 690h1M1018 696h1M1018 698h1M1018 702h1M1018 707h1M1018 712h1M1018 713h1M1018 715h1M1018 717h1M1018 720h1M1018 723h1M1018 726h1M1018 727h1M1018 728h1M1018 729h1M1018 730h1M1018 731h1M1018 733h1M1018 734h1M1018 735h1M1018 736h1M1018 737h1M1018 739h1M1018 740h1M1018 741h1M1018 742h1M1018 743h1M1018 744h1M1018 745h1M1018 746h1M1018 747h1M1018 748h1M1018 749h1M1018 750h1M1018 751h1M1018 752h1M1018 753h1M1018 754h1M1018 755h1M1018 756h1M1018 757h1M1018 758h1M1018 759h1M1019 678h1M1019 690h1M1019 692h1M1019 697h1M1019 698h1M1019 701h1M1019 706h1M1019 712h1M1019 714h1M1019 717h1M1019 718h1M1019 719h1M1019 722h1M1019 723h1M1019 725h1M1019 726h1M1019 728h1M1019 730h1M1019 732h1M1019 733h1M1019 734h1M1019 735h1M1019 736h1M1019 737h1M1019 738h1M1019 739h1M1019 740h1M1019 741h1M1019 742h1M1019 743h1M1019 744h1M1019 745h1M1019 746h1M1019 747h1M1019 748h1M1019 749h1M1019 750h1M1019 751h1M1019 752h1M1019 753h1M1019 754h1M1019 755h1M1019 756h1M1019 757h1M1019 758h1M1019 759h1M1020 677h1M1020 684h1M1020 689h1M1020 693h1M1020 694h1M1020 697h1M1020 700h1M1020 701h1M1020 705h1M1020 708h1M1020 709h1M1020 712h1M1020 713h1M1020 714h1M1020 718h1M1020 720h1M1020 723h1M1020 724h1M1020 725h1M1020 727h1M1020 728h1M1020 730h1M1020 731h1M1020 732h1M1020 733h1M1020 734h1M1020 735h1M1020 736h1M1020 737h1M1020 738h1M1020 739h1M1020 740h1M1020 741h1M1020 742h1M1020 743h1M1020 744h1M1020 745h1M1020 746h1M1020 747h1M1020 748h1M1020 749h1M1020 750h1M1020 751h1M1020 752h1M1020 753h1M1020 754h1M1020 755h1M1020 756h1M1020 757h1M1020 758h1M1020 759h1M1021 680h1M1021 686h1M1021 692h1M1021 694h1M1021 697h1M1021 700h1M1021 701h1M1021 702h1M1021 704h1M1021 705h1M1021 710h1M1021 711h1M1021 713h1M1021 714h1M1021 715h1M1021 716h1M1021 717h1M1021 718h1M1021 719h1M1021 721h1M1021 722h1M1021 723h1M1021 724h1M1021 726h1M1021 730h1M1021 731h1M1021 732h1M1021 733h1M1021 735h1M1021 736h1M1021 737h1M1021 738h1M1021 739h1M1021 740h1M1021 742h1M1021 744h1M1021 745h1M1021 746h1M1021 747h1M1021 748h1M1021 749h1M1021 750h1M1021 751h1M1021 752h1M1021 753h1M1021 754h1M1021 755h1M1021 756h1M1021 757h1M1021 758h1M1021 759h1M1022 658h1M1022 660h1M1022 675h1M1022 688h1M1022 690h1M1022 693h1M1022 695h1M1022 699h1M1022 702h1M1022 704h1M1022 705h1M1022 710h1M1022 713h1M1022 714h1M1022 716h1M1022 717h1M1022 719h1M1022 720h1M1022 721h1M1022 723h1M1022 725h1M1022 729h1M1022 730h1M1022 732h1M1022 733h1M1022 734h1M1022 735h1M1022 736h1M1022 737h1M1022 738h1M1022 739h1M1022 740h1M1022 741h1M1022 742h1M1022 743h1M1022 744h1M1022 745h1M1022 746h1M1022 747h1M1022 748h1M1022 749h1M1022 750h1M1022 751h1M1022 752h1M1022 753h1M1022 754h1M1022 755h1M1022 756h1M1022 757h1M1022 758h1M1022 759h1M1023 677h1M1023 687h1M1023 688h1M1023 694h1M1023 696h1M1023 697h1M1023 701h1M1023 703h1M1023 704h1M1023 706h1M1023 707h1M1023 709h1M1023 710h1M1023 712h1M1023 713h1M1023 714h1M1023 717h1M1023 718h1M1023 720h1M1023 721h1M1023 722h1M1023 723h1M1023 724h1M1023 725h1M1023 729h1M1023 730h1M1023 731h1M1023 733h1M1023 734h1M1023 735h1M1023 736h1M1023 737h1M1023 738h1M1023 740h1M1023 741h1M1023 742h1M1023 743h1M1023 744h1M1023 745h1M1023 746h1M1023 747h1M1023 748h1M1023 749h1M1023 750h1M1023 751h1M1023 752h1M1023 753h1M1023 754h1M1023 755h1M1023 756h1M1023 757h1M1023 758h1M1023 760h1M1024 685h1M1024 686h1M1024 690h1M1024 692h1M1024 693h1M1024 696h1M1024 697h1M1024 698h1M1024 699h1M1024 700h1M1024 701h1M1024 702h1M1024 703h1M1024 705h1M1024 706h1M1024 708h1M1024 709h1M1024 711h1M1024 712h1M1024 714h1M1024 715h1M1024 717h1M1024 718h1M1024 719h1M1024 720h1M1024 724h1M1024 725h1M1024 727h1M1024 728h1M1024 729h1M1024 731h1M1024 732h1M1024 733h1M1024 734h1M1024 735h1M1024 736h1M1024 737h1M1024 740h1M1024 741h1M1024 742h1M1024 743h1M1024 744h1M1024 745h1M1024 746h1M1024 747h1M1024 748h1M1024 749h1M1024 750h1M1024 751h1M1024 752h1M1024 753h1M1024 754h1M1024 755h1M1024 756h1M1024 757h1M1024 758h1M1024 759h1M1024 760h1M1025 676h1M1025 680h1M1025 690h1M1025 695h1M1025 699h1M1025 701h1M1025 702h1M1025 705h1M1025 706h1M1025 708h1M1025 712h1M1025 713h1M1025 715h1M1025 716h1M1025 717h1M1025 718h1M1025 719h1M1025 721h1M1025 722h1M1025 725h1M1025 726h1M1025 727h1M1025 728h1M1025 729h1M1025 730h1M1025 731h1M1025 732h1M1025 733h1M1025 734h1M1025 736h1M1025 737h1M1025 738h1M1025 739h1M1025 740h1M1025 741h1M1025 742h1M1025 743h1M1025 744h1M1025 745h1M1025 746h1M1025 747h1M1025 748h1M1025 749h1M1025 750h1M1025 751h1M1025 752h1M1025 753h1M1025 754h1M1025 755h1M1025 756h1M1025 757h1M1025 758h1M1025 759h1M1026 669h1M1026 675h1M1026 682h1M1026 683h1M1026 690h1M1026 692h1M1026 700h1M1026 703h1M1026 704h1M1026 705h1M1026 709h1M1026 711h1M1026 712h1M1026 714h1M1026 716h1M1026 718h1M1026 721h1M1026 723h1M1026 724h1M1026 725h1M1026 726h1M1026 728h1M1026 731h1M1026 732h1M1026 733h1M1026 734h1M1026 737h1M1026 738h1M1026 739h1M1026 740h1M1026 741h1M1026 742h1M1026 743h1M1026 744h1M1026 745h1M1026 746h1M1026 747h1M1026 748h1M1026 749h1M1026 750h1M1026 751h1M1026 752h1M1026 753h1M1026 754h1M1026 755h1M1026 756h1M1026 757h1M1026 758h1M1027 660h1M1027 674h1M1027 680h1M1027 682h1M1027 684h1M1027 691h1M1027 695h1M1027 696h1M1027 697h1M1027 698h1M1027 699h1M1027 704h1M1027 706h1M1027 708h1M1027 710h1M1027 711h1M1027 716h1M1027 718h1M1027 719h1M1027 720h1M1027 722h1M1027 723h1M1027 724h1M1027 725h1M1027 726h1M1027 729h1M1027 730h1M1027 731h1M1027 733h1M1027 734h1M1027 735h1M1027 736h1M1027 738h1M1027 739h1M1027 740h1M1027 741h1M1027 742h1M1027 743h1M1027 744h1M1027 745h1M1027 746h1M1027 747h1M1027 748h1M1027 749h1M1027 750h1M1027 751h1M1027 752h1M1027 753h1M1027 754h1M1027 755h1M1027 756h1M1027 757h1M1027 758h1M1027 759h1M1027 760h1M1028 668h1M1028 669h1M1028 681h1M1028 683h1M1028 689h1M1028 698h1M1028 699h1M1028 705h1M1028 706h1M1028 707h1M1028 708h1M1028 713h1M1028 714h1M1028 715h1M1028 716h1M1028 718h1M1028 720h1M1028 722h1M1028 723h1M1028 725h1M1028 727h1M1028 728h1M1028 729h1M1028 730h1M1028 731h1M1028 733h1M1028 735h1M1028 736h1M1028 738h1M1028 739h1M1028 740h1M1028 741h1M1028 742h1M1028 743h1M1028 744h1M1028 745h1M1028 746h1M1028 747h1M1028 749h1M1028 750h1M1028 751h1M1028 752h1M1028 753h1M1028 754h1M1028 755h1M1028 756h1M1028 757h1M1028 758h1M1028 759h1M1029 657h1M1029 666h1M1029 684h1M1029 690h1M1029 698h1M1029 699h1M1029 701h1M1029 703h1M1029 704h1M1029 706h1M1029 707h1M1029 709h1M1029 710h1M1029 711h1M1029 715h1M1029 717h1M1029 719h1M1029 720h1M1029 721h1M1029 722h1M1029 723h1M1029 724h1M1029 725h1M1029 726h1M1029 727h1M1029 728h1M1029 729h1M1029 730h1M1029 731h1M1029 732h1M1029 733h1M1029 734h1M1029 735h1M1029 736h1M1029 737h1M1029 738h1M1029 739h1M1029 740h1M1029 741h1M1029 742h1M1029 743h1M1029 744h1M1029 745h1M1029 746h1M1029 747h1M1029 748h1M1029 749h1M1029 750h1M1029 751h1M1029 752h1M1029 753h1M1029 754h1M1029 755h1M1029 756h1M1029 757h1M1029 758h1M1029 759h1M1030 659h1M1030 673h1M1030 683h1M1030 689h1M1030 694h1M1030 699h1M1030 702h1M1030 703h1M1030 705h1M1030 708h1M1030 709h1M1030 711h1M1030 712h1M1030 713h1M1030 715h1M1030 717h1M1030 718h1M1030 723h1M1030 724h1M1030 725h1M1030 726h1M1030 727h1M1030 729h1M1030 730h1M1030 731h1M1030 732h1M1030 734h1M1030 735h1M1030 736h1M1030 737h1M1030 738h1M1030 739h1M1030 740h1M1030 741h1M1030 742h1M1030 743h1M1030 744h1M1030 745h1M1030 746h1M1030 747h1M1030 748h1M1030 749h1M1030 750h1M1030 751h1M1030 752h1M1030 753h1M1030 754h1M1030 755h1M1030 756h1M1030 757h1M1030 758h1M1030 759h1M1030 760h1M1031 651h1M1031 684h1M1031 689h1M1031 690h1M1031 692h1M1031 695h1M1031 696h1M1031 699h1M1031 701h1M1031 706h1M1031 708h1M1031 710h1M1031 711h1M1031 712h1M1031 713h1M1031 716h1M1031 717h1M1031 718h1M1031 719h1M1031 720h1M1031 721h1M1031 723h1M1031 724h1M1031 725h1M1031 726h1M1031 727h1M1031 728h1M1031 729h1M1031 730h1M1031 731h1M1031 732h1M1031 733h1M1031 734h1M1031 736h1M1031 737h1M1031 738h1M1031 739h1M1031 740h1M1031 741h1M1031 742h1M1031 743h1M1031 744h1M1031 745h1M1031 746h1M1031 747h1M1031 748h1M1031 749h1M1031 750h1M1031 751h1M1031 752h1M1031 753h1M1031 754h1M1031 755h1M1031 756h1M1031 757h1M1031 758h1M1031 759h1M1032 651h1M1032 669h1M1032 679h1M1032 682h1M1032 695h1M1032 696h1M1032 699h1M1032 702h1M1032 703h1M1032 707h1M1032 709h1M1032 710h1M1032 712h1M1032 715h1M1032 717h1M1032 719h1M1032 720h1M1032 721h1M1032 723h1M1032 724h1M1032 725h1M1032 726h1M1032 728h1M1032 729h1M1032 730h1M1032 731h1M1032 732h1M1032 733h1M1032 734h1M1032 735h1M1032 736h1M1032 737h1M1032 739h1M1032 740h1M1032 741h1M1032 742h1M1032 743h1M1032 744h1M1032 745h1M1032 746h1M1032 748h1M1032 749h1M1032 750h1M1032 751h1M1032 752h1M1032 753h1M1032 754h1M1032 755h1M1032 756h1M1032 757h1M1032 758h1M1032 759h1M1033 675h1M1033 676h1M1033 680h1M1033 684h1M1033 691h1M1033 694h1M1033 696h1M1033 704h1M1033 705h1M1033 708h1M1033 709h1M1033 711h1M1033 714h1M1033 715h1M1033 716h1M1033 717h1M1033 718h1M1033 719h1M1033 720h1M1033 721h1M1033 722h1M1033 723h1M1033 725h1M1033 726h1M1033 728h1M1033 729h1M1033 732h1M1033 733h1M1033 735h1M1033 736h1M1033 737h1M1033 738h1M1033 739h1M1033 740h1M1033 741h1M1033 742h1M1033 744h1M1033 745h1M1033 746h1M1033 747h1M1033 748h1M1033 749h1M1033 750h1M1033 751h1M1033 752h1M1033 753h1M1033 754h1M1033 755h1M1033 756h1M1033 757h1M1033 758h1M1033 759h1M1033 760h1M1034 657h1M1034 676h1M1034 687h1M1034 688h1M1034 696h1M1034 697h1M1034 698h1M1034 699h1M1034 700h1M1034 702h1M1034 707h1M1034 708h1M1034 711h1M1034 712h1M1034 713h1M1034 716h1M1034 717h1M1034 719h1M1034 720h1M1034 721h1M1034 722h1M1034 723h1M1034 726h1M1034 727h1M1034 728h1M1034 729h1M1034 730h1M1034 731h1M1034 733h1M1034 734h1M1034 735h1M1034 736h1M1034 737h1M1034 738h1M1034 739h1M1034 740h1M1034 741h1M1034 742h1M1034 743h1M1034 744h1M1034 745h1M1034 746h1M1034 747h1M1034 748h1M1034 749h1M1034 750h1M1034 751h1M1034 752h1M1034 753h1M1034 754h1M1034 755h1M1034 756h1M1034 757h1M1034 758h1M1034 759h1M1034 760h1M1035 655h1M1035 674h1M1035 693h1M1035 694h1M1035 695h1M1035 697h1M1035 698h1M1035 700h1M1035 705h1M1035 706h1M1035 707h1M1035 708h1M1035 710h1M1035 712h1M1035 713h1M1035 714h1M1035 715h1M1035 716h1M1035 717h1M1035 718h1M1035 719h1M1035 721h1M1035 722h1M1035 723h1M1035 724h1M1035 725h1M1035 726h1M1035 728h1M1035 729h1M1035 730h1M1035 731h1M1035 732h1M1035 733h1M1035 734h1M1035 735h1M1035 736h1M1035 737h1M1035 738h1M1035 739h1M1035 740h1M1035 741h1M1035 742h1M1035 743h1M1035 744h1M1035 745h1M1035 746h1M1035 747h1M1035 748h1M1035 749h1M1035 750h1M1035 751h1M1035 752h1M1035 753h1M1035 754h1M1035 755h1M1035 756h1M1035 757h1M1035 758h1M1035 759h1M1035 760h1M1036 669h1M1036 677h1M1036 687h1M1036 693h1M1036 694h1M1036 695h1M1036 696h1M1036 701h1M1036 702h1M1036 705h1M1036 708h1M1036 710h1M1036 711h1M1036 712h1M1036 713h1M1036 716h1M1036 717h1M1036 718h1M1036 719h1M1036 720h1M1036 721h1M1036 722h1M1036 725h1M1036 727h1M1036 728h1M1036 729h1M1036 730h1M1036 731h1M1036 732h1M1036 733h1M1036 734h1M1036 736h1M1036 737h1M1036 738h1M1036 739h1M1036 741h1M1036 742h1M1036 743h1M1036 744h1M1036 745h1M1036 746h1M1036 747h1M1036 748h1M1036 749h1M1036 750h1M1036 751h1M1036 752h1M1036 753h1M1036 754h1M1036 755h1M1036 756h1M1036 757h1M1036 758h1M1036 759h1M1036 760h1M1037 650h1M1037 679h1M1037 690h1M1037 699h1M1037 701h1M1037 702h1M1037 704h1M1037 705h1M1037 706h1M1037 708h1M1037 709h1M1037 711h1M1037 712h1M1037 713h1M1037 714h1M1037 717h1M1037 718h1M1037 720h1M1037 721h1M1037 722h1M1037 725h1M1037 727h1M1037 729h1M1037 730h1M1037 731h1M1037 732h1M1037 733h1M1037 734h1M1037 735h1M1037 736h1M1037 740h1M1037 741h1M1037 742h1M1037 743h1M1037 744h1M1037 745h1M1037 746h1M1037 747h1M1037 748h1M1037 749h1M1037 750h1M1037 751h1M1037 752h1M1037 753h1M1037 754h1M1037 755h1M1037 756h1M1037 757h1M1037 758h1M1037 759h1M1037 760h1M1038 680h1M1038 693h1M1038 694h1M1038 696h1M1038 702h1M1038 703h1M1038 708h1M1038 709h1M1038 710h1M1038 711h1M1038 713h1M1038 714h1M1038 717h1M1038 719h1M1038 720h1M1038 722h1M1038 723h1M1038 724h1M1038 726h1M1038 727h1M1038 728h1M1038 729h1M1038 730h1M1038 733h1M1038 734h1M1038 735h1M1038 736h1M1038 737h1M1038 738h1M1038 739h1M1038 740h1M1038 741h1M1038 742h1M1038 743h1M1038 745h1M1038 746h1M1038 747h1M1038 748h1M1038 749h1M1038 750h1M1038 751h1M1038 752h1M1038 753h1M1038 754h1M1038 755h1M1038 756h1M1038 757h1M1038 758h1M1038 759h1M1038 760h1M1039 666h1M1039 674h1M1039 676h1M1039 686h1M1039 691h1M1039 695h1M1039 697h1M1039 700h1M1039 706h1M1039 707h1M1039 709h1M1039 710h1M1039 711h1M1039 712h1M1039 716h1M1039 717h1M1039 718h1M1039 720h1M1039 722h1M1039 723h1M1039 724h1M1039 727h1M1039 729h1M1039 730h1M1039 731h1M1039 732h1M1039 733h1M1039 734h1M1039 735h1M1039 736h1M1039 737h1M1039 740h1M1039 741h1M1039 742h1M1039 743h1M1039 744h1M1039 745h1M1039 746h1M1039 747h1M1039 748h1M1039 749h1M1039 750h1M1039 751h1M1039 752h1M1039 753h1M1039 754h1M1039 755h1M1039 756h1M1039 757h1M1039 758h1M1039 759h1M1040 670h1M1040 694h1M1040 695h1M1040 701h1M1040 702h1M1040 704h1M1040 707h1M1040 710h1M1040 711h1M1040 713h1M1040 714h1M1040 715h1M1040 717h1M1040 718h1M1040 720h1M1040 721h1M1040 722h1M1040 723h1M1040 724h1M1040 726h1M1040 728h1M1040 729h1M1040 730h1M1040 731h1M1040 732h1M1040 733h1M1040 734h1M1040 735h1M1040 736h1M1040 737h1M1040 738h1M1040 740h1M1040 741h1M1040 742h1M1040 744h1M1040 745h1M1040 746h1M1040 747h1M1040 748h1M1040 749h1M1040 750h1M1040 751h1M1040 752h1M1040 753h1M1040 754h1M1040 755h1M1040 756h1M1040 757h1M1040 758h1M1040 759h1M1040 760h1M1041 679h1M1041 681h1M1041 682h1M1041 692h1M1041 695h1M1041 699h1M1041 702h1M1041 704h1M1041 706h1M1041 707h1M1041 712h1M1041 713h1M1041 714h1M1041 715h1M1041 716h1M1041 717h1M1041 718h1M1041 719h1M1041 720h1M1041 721h1M1041 722h1M1041 723h1M1041 724h1M1041 725h1M1041 726h1M1041 727h1M1041 728h1M1041 729h1M1041 733h1M1041 736h1M1041 737h1M1041 738h1M1041 739h1M1041 740h1M1041 742h1M1041 744h1M1041 745h1M1041 746h1M1041 747h1M1041 748h1M1041 749h1M1041 750h1M1041 751h1M1041 752h1M1041 753h1M1041 754h1M1041 755h1M1041 756h1M1041 757h1M1041 758h1M1041 759h1M1042 662h1M1042 676h1M1042 684h1M1042 689h1M1042 691h1M1042 694h1M1042 697h1M1042 698h1M1042 700h1M1042 701h1M1042 704h1M1042 705h1M1042 706h1M1042 708h1M1042 709h1M1042 710h1M1042 711h1M1042 712h1M1042 713h1M1042 714h1M1042 717h1M1042 718h1M1042 719h1M1042 720h1M1042 721h1M1042 722h1M1042 723h1M1042 724h1M1042 725h1M1042 726h1M1042 727h1M1042 728h1M1042 730h1M1042 732h1M1042 733h1M1042 735h1M1042 737h1M1042 738h1M1042 739h1M1042 740h1M1042 741h1M1042 742h1M1042 743h1M1042 745h1M1042 746h1M1042 747h1M1042 748h1M1042 749h1M1042 750h1M1042 751h1M1042 752h1M1042 753h1M1042 754h1M1042 755h1M1042 756h1M1042 757h1M1042 758h1M1042 759h1M1043 681h1M1043 686h1M1043 687h1M1043 691h1M1043 692h1M1043 693h1M1043 699h1M1043 700h1M1043 708h1M1043 709h1M1043 710h1M1043 712h1M1043 714h1M1043 716h1M1043 718h1M1043 719h1M1043 720h1M1043 721h1M1043 722h1M1043 723h1M1043 724h1M1043 725h1M1043 726h1M1043 728h1M1043 729h1M1043 730h1M1043 732h1M1043 734h1M1043 735h1M1043 736h1M1043 737h1M1043 738h1M1043 739h1M1043 740h1M1043 741h1M1043 742h1M1043 743h1M1043 744h1M1043 745h1M1043 746h1M1043 747h1M1043 748h1M1043 749h1M1043 750h1M1043 751h1M1043 752h1M1043 753h1M1043 754h1M1043 755h1M1043 756h1M1043 757h1M1043 758h1M1043 759h1M1044 676h1M1044 693h1M1044 694h1M1044 695h1M1044 697h1M1044 701h1M1044 705h1M1044 709h1M1044 710h1M1044 712h1M1044 720h1M1044 721h1M1044 723h1M1044 724h1M1044 725h1M1044 726h1M1044 727h1M1044 728h1M1044 729h1M1044 731h1M1044 732h1M1044 733h1M1044 734h1M1044 735h1M1044 736h1M1044 737h1M1044 738h1M1044 740h1M1044 741h1M1044 742h1M1044 743h1M1044 744h1M1044 745h1M1044 746h1M1044 747h1M1044 749h1M1044 750h1M1044 751h1M1044 752h1M1044 753h1M1044 754h1M1044 755h1M1044 756h1M1044 757h1M1044 758h1M1044 759h1M1044 760h1M1045 651h1M1045 685h1M1045 690h1M1045 691h1M1045 697h1M1045 699h1M1045 700h1M1045 703h1M1045 705h1M1045 707h1M1045 709h1M1045 711h1M1045 712h1M1045 713h1M1045 714h1M1045 717h1M1045 719h1M1045 720h1M1045 721h1M1045 723h1M1045 724h1M1045 725h1M1045 726h1M1045 728h1M1045 732h1M1045 733h1M1045 735h1M1045 738h1M1045 739h1M1045 740h1M1045 741h1M1045 742h1M1045 743h1M1045 744h1M1045 745h1M1045 746h1M1045 747h1M1045 748h1M1045 749h1M1045 750h1M1045 751h1M1045 752h1M1045 753h1M1045 754h1M1045 755h1M1045 756h1M1045 757h1M1045 758h1M1045 759h1M1046 677h1M1046 678h1M1046 685h1M1046 687h1M1046 693h1M1046 695h1M1046 705h1M1046 709h1M1046 711h1M1046 713h1M1046 716h1M1046 717h1M1046 720h1M1046 721h1M1046 724h1M1046 725h1M1046 727h1M1046 728h1M1046 729h1M1046 731h1M1046 732h1M1046 734h1M1046 735h1M1046 737h1M1046 738h1M1046 739h1M1046 740h1M1046 741h1M1046 742h1M1046 743h1M1046 744h1M1046 746h1M1046 747h1M1046 748h1M1046 749h1M1046 750h1M1046 751h1M1046 752h1M1046 753h1M1046 754h1M1046 755h1M1046 756h1M1046 757h1M1046 758h1M1046 759h1M1047 677h1M1047 688h1M1047 690h1M1047 692h1M1047 693h1M1047 694h1M1047 696h1M1047 698h1M1047 704h1M1047 705h1M1047 706h1M1047 707h1M1047 708h1M1047 709h1M1047 711h1M1047 713h1M1047 714h1M1047 715h1M1047 719h1M1047 720h1M1047 723h1M1047 728h1M1047 729h1M1047 730h1M1047 731h1M1047 733h1M1047 734h1M1047 736h1M1047 737h1M1047 738h1M1047 739h1M1047 740h1M1047 741h1M1047 742h1M1047 743h1M1047 744h1M1047 745h1M1047 747h1M1047 748h1M1047 749h1M1047 750h1M1047 751h1M1047 752h1M1047 753h1M1047 754h1M1047 755h1M1047 756h1M1047 757h1M1047 758h1M1047 759h1M1048 670h1M1048 687h1M1048 694h1M1048 697h1M1048 702h1M1048 703h1M1048 710h1M1048 712h1M1048 714h1M1048 717h1M1048 718h1M1048 719h1M1048 720h1M1048 721h1M1048 724h1M1048 725h1M1048 727h1M1048 729h1M1048 730h1M1048 731h1M1048 732h1M1048 733h1M1048 735h1M1048 737h1M1048 738h1M1048 739h1M1048 740h1M1048 741h1M1048 742h1M1048 743h1M1048 744h1M1048 745h1M1048 746h1M1048 747h1M1048 748h1M1048 749h1M1048 750h1M1048 751h1M1048 752h1M1048 753h1M1048 754h1M1048 755h1M1048 756h1M1048 757h1M1048 758h1M1048 759h1M1049 683h1M1049 688h1M1049 694h1M1049 695h1M1049 698h1M1049 702h1M1049 708h1M1049 709h1M1049 713h1M1049 714h1M1049 715h1M1049 719h1M1049 720h1M1049 722h1M1049 725h1M1049 728h1M1049 729h1M1049 731h1M1049 732h1M1049 733h1M1049 734h1M1049 735h1M1049 736h1M1049 737h1M1049 738h1M1049 740h1M1049 742h1M1049 743h1M1049 744h1M1049 745h1M1049 746h1M1049 747h1M1049 748h1M1049 749h1M1049 750h1M1049 751h1M1049 752h1M1049 753h1M1049 754h1M1049 755h1M1049 756h1M1049 757h1M1049 758h1M1050 673h1M1050 682h1M1050 695h1M1050 696h1M1050 698h1M1050 705h1M1050 707h1M1050 712h1M1050 714h1M1050 716h1M1050 720h1M1050 722h1M1050 723h1M1050 724h1M1050 725h1M1050 728h1M1050 729h1M1050 731h1M1050 732h1M1050 733h1M1050 735h1M1050 737h1M1050 738h1M1050 739h1M1050 740h1M1050 741h1M1050 743h1M1050 744h1M1050 747h1M1050 748h1M1050 749h1M1050 750h1M1050 751h1M1050 752h1M1050 754h1M1050 755h1M1050 756h1M1050 757h1M1050 758h1M1051 665h1M1051 667h1M1051 689h1M1051 695h1M1051 697h1M1051 701h1M1051 703h1M1051 705h1M1051 706h1M1051 710h1M1051 712h1M1051 713h1M1051 714h1M1051 715h1M1051 716h1M1051 717h1M1051 718h1M1051 719h1M1051 720h1M1051 721h1M1051 722h1M1051 726h1M1051 727h1M1051 729h1M1051 730h1M1051 731h1M1051 732h1M1051 733h1M1051 734h1M1051 737h1M1051 738h1M1051 739h1M1051 740h1M1051 741h1M1051 742h1M1051 743h1M1051 744h1M1051 745h1M1051 746h1M1051 747h1M1051 748h1M1051 749h1M1051 750h1M1051 751h1M1051 753h1M1051 754h1M1051 755h1M1051 756h1M1051 757h1M1051 758h1M1052 679h1M1052 682h1M1052 687h1M1052 688h1M1052 694h1M1052 698h1M1052 701h1M1052 706h1M1052 709h1M1052 711h1M1052 717h1M1052 722h1M1052 724h1M1052 730h1M1052 731h1M1052 732h1M1052 734h1M1052 735h1M1052 736h1M1052 737h1M1052 738h1M1052 739h1M1052 740h1M1052 742h1M1052 743h1M1052 744h1M1052 745h1M1052 746h1M1052 747h1M1052 748h1M1052 749h1M1052 750h1M1052 751h1M1052 752h1M1052 753h1M1052 754h1M1052 755h1M1052 756h1M1052 757h1M1052 758h1M1053 686h1M1053 688h1M1053 692h1M1053 696h1M1053 700h1M1053 703h1M1053 704h1M1053 705h1M1053 708h1M1053 712h1M1053 717h1M1053 723h1M1053 724h1M1053 725h1M1053 727h1M1053 732h1M1053 735h1M1053 737h1M1053 738h1M1053 739h1M1053 740h1M1053 746h1M1053 747h1M1053 748h1M1053 749h1M1053 750h1M1053 751h1M1053 752h1M1053 753h1M1053 754h1M1053 755h1M1053 756h1M1053 757h1M1054 684h1M1054 685h1M1054 687h1M1054 693h1M1054 696h1M1054 700h1M1054 701h1M1054 702h1M1054 704h1M1054 711h1M1054 712h1M1054 714h1M1054 715h1M1054 717h1M1054 718h1M1054 721h1M1054 722h1M1054 724h1M1054 725h1M1054 726h1M1054 727h1M1054 728h1M1054 730h1M1054 732h1M1054 733h1M1054 734h1M1054 735h1M1054 736h1M1054 737h1M1054 738h1M1054 741h1M1054 742h1M1054 743h1M1054 744h1M1054 746h1M1054 747h1M1054 748h1M1054 749h1M1054 750h1M1054 751h1M1054 752h1M1054 753h1M1054 754h1M1054 755h1M1054 756h1M1055 683h1M1055 690h1M1055 695h1M1055 699h1M1055 705h1M1055 712h1M1055 713h1M1055 714h1M1055 715h1M1055 716h1M1055 717h1M1055 719h1M1055 723h1M1055 724h1M1055 726h1M1055 729h1M1055 730h1M1055 731h1M1055 732h1M1055 738h1M1055 739h1M1055 740h1M1055 742h1M1055 743h1M1055 744h1M1055 745h1M1055 747h1M1055 748h1M1055 749h1M1055 750h1M1055 751h1M1055 752h1M1055 753h1M1055 754h1M1055 757h1M1055 758h1M1056 682h1M1056 689h1M1056 691h1M1056 692h1M1056 700h1M1056 709h1M1056 711h1M1056 712h1M1056 713h1M1056 714h1M1056 718h1M1056 719h1M1056 720h1M1056 723h1M1056 726h1M1056 727h1M1056 730h1M1056 733h1M1056 734h1M1056 735h1M1056 737h1M1056 741h1M1056 743h1M1056 744h1M1056 745h1M1056 746h1M1056 749h1M1056 750h1M1056 751h1M1056 752h1M1056 753h1M1056 754h1M1056 755h1M1056 756h1M1056 758h1M1056 759h1M1057 687h1M1057 696h1M1057 697h1M1057 707h1M1057 709h1M1057 715h1M1057 719h1M1057 722h1M1057 723h1M1057 725h1M1057 726h1M1057 727h1M1057 732h1M1057 733h1M1057 734h1M1057 736h1M1057 738h1M1057 741h1M1057 742h1M1057 744h1M1057 745h1M1057 746h1M1057 747h1M1057 750h1M1057 751h1M1057 752h1M1057 755h1M1057 756h1M1057 757h1M1058 649h1M1058 662h1M1058 677h1M1058 697h1M1058 704h1M1058 708h1M1058 709h1M1058 719h1M1058 721h1M1058 722h1M1058 723h1M1058 725h1M1058 727h1M1058 728h1M1058 729h1M1058 736h1M1058 737h1M1058 738h1M1058 739h1M1058 740h1M1058 745h1M1058 746h1M1058 747h1M1058 748h1M1058 749h1M1058 750h1M1058 751h1M1058 753h1M1058 754h1M1058 755h1M1058 756h1M1058 757h1M1059 699h1M1059 701h1M1059 706h1M1059 707h1M1059 710h1M1059 721h1M1059 722h1M1059 727h1M1059 730h1M1059 732h1M1059 735h1M1059 737h1M1059 741h1M1059 743h1M1059 746h1M1059 747h1M1059 748h1M1059 749h1M1059 750h1M1059 751h1M1059 752h1M1059 753h1M1059 754h1M1059 755h1M1059 757h1M1059 758h1M1060 674h1M1060 675h1M1060 692h1M1060 698h1M1060 713h1M1060 718h1M1060 721h1M1060 722h1M1060 723h1M1060 728h1M1060 732h1M1060 734h1M1060 735h1M1060 737h1M1060 738h1M1060 739h1M1060 740h1M1060 741h1M1060 745h1M1060 747h1M1060 748h1M1060 749h1M1060 750h1M1060 752h1M1060 753h1M1060 754h1M1060 756h1M1060 757h1M1060 758h1M1061 705h1M1061 708h1M1061 710h1M1061 711h1M1061 716h1M1061 726h1M1061 727h1M1061 728h1M1061 737h1M1061 738h1M1061 740h1M1061 742h1M1061 743h1M1061 744h1M1061 746h1M1061 749h1M1061 750h1M1061 751h1M1061 752h1M1061 753h1M1061 754h1M1061 755h1M1062 676h1M1062 690h1M1062 697h1M1062 708h1M1062 717h1M1062 719h1M1062 724h1M1062 731h1M1062 734h1M1062 735h1M1062 739h1M1062 740h1M1062 741h1M1062 742h1M1062 744h1M1062 745h1M1062 749h1M1062 750h1M1062 751h1M1062 753h1M1062 757h1M1063 675h1M1063 695h1M1063 709h1M1063 712h1M1063 714h1M1063 721h1M1063 723h1M1063 730h1M1063 732h1M1063 734h1M1063 738h1M1063 740h1M1063 741h1M1063 745h1M1063 746h1M1063 748h1M1063 749h1M1063 750h1M1063 751h1M1063 752h1M1063 754h1M1063 755h1M1064 698h1M1064 709h1M1064 711h1M1064 723h1M1064 729h1M1064 732h1M1064 736h1M1064 741h1M1064 744h1M1064 745h1M1064 747h1M1064 748h1M1064 749h1M1064 757h1M1065 671h1M1065 703h1M1065 704h1M1065 709h1M1065 713h1M1065 715h1M1065 719h1M1065 722h1M1065 724h1M1065 728h1M1065 730h1M1065 736h1M1065 740h1M1065 741h1M1065 746h1M1065 748h1M1065 749h1M1065 752h1M1065 755h1M1065 756h1M1066 687h1M1066 723h1M1066 728h1M1066 731h1M1066 740h1M1066 741h1M1066 743h1M1066 744h1M1066 748h1M1066 749h1M1066 750h1M1066 751h1M1066 754h1M1066 757h1M1067 698h1M1067 706h1M1067 713h1M1067 719h1M1067 723h1M1067 731h1M1067 733h1M1067 735h1M1067 737h1M1067 740h1M1067 746h1M1067 751h1M1067 757h1M1068 722h1M1068 737h1M1068 738h1M1068 741h1M1068 747h1M1068 748h1M1068 750h1M1068 755h1M1068 756h1M1069 739h1M1070 740h1M1070 747h1M1071 724h1M1073 739h1M1078 729h1M1078 741h1M1079 734h1" stroke="#000" stroke-width="1" fill="none" shape-rendering="crispEdges" transform="translate(0 .5)"/>
<path d="M1016 762h1M1027 761h1M1045 768h1M1028 761h1M1019 763h1M1007 761h1M998 764h1M1021 766h1M1033 772h1M1048 767h1M1019 762h1M1011 770h1M1021 767h1M1027 765h1M1013 767h1M1001 768h1M1027 765h1M1036 765h1M1047 764h1M994 761h1M1032 769h1M1024 772h1M1035 770h1M1036 764h1M1030 762h1M1035 765h1M1028 765h1M1034 767h1M1029 766h1M1029 764h1M1031 763h1M1015 766h1M1037 761h1M1037 784h1M1022 768h1M1008 766h1M1041 764h1M1030 765h1M1021 764h1M1027 768h1" stroke="#b5b5b5" stroke-width="1" fill="none" shape-rendering="crispEdges" transform="translate(0 .5)"/>
<rect x="936.5" y="632.8" width="179.8" height="181.3" fill="none" stroke="#8a8a8a" stroke-width="1"/>
<rect x="1002.2" y="640.3" width="68.4" height="95.1" fill="none" stroke="#222" stroke-width="1"/>
<text x="939" y="666.8" font-size="22" fill="#a23fa2" font-family="DejaVu Sans, Liberation Sans, sans-serif">29,5</text>
<path d="M1168 760h1M1176 723h1M1176 756h1M1176 758h1M1176 761h1M1176 762h1M1176 763h1M1177 757h1M1177 762h1M1177 764h1M1178 752h1M1178 759h1M1178 762h1M1179 754h1M1179 755h1M1179 758h1M1179 762h1M1179 763h1M1180 726h1M1180 748h1M1180 759h1M1180 761h1M1180 763h1M1181 719h1M1181 751h1M1181 756h1M1181 757h1M1181 762h1M1181 763h1M1181 764h1M1181 765h1M1182 696h1M1182 728h1M1182 760h1M1182 763h1M1183 754h1M1183 758h1M1183 759h1M1183 761h1M1183 763h1M1184 758h1M1184 759h1M1185 734h1M1185 742h1M1185 756h1M1185 757h1M1185 760h1M1185 761h1M1185 762h1M1185 763h1M1185 764h1M1185 765h1M1186 743h1M1186 756h1M1186 759h1M1186 760h1M1186 763h1M1186 766h1M1187 721h1M1187 722h1M1187 750h1M1187 761h1M1187 762h1M1187 763h1M1187 765h1M1188 734h1M1188 737h1M1188 751h1M1188 754h1M1188 755h1M1188 758h1M1188 760h1M1188 761h1M1188 762h1M1188 763h1M1188 764h1M1189 754h1M1189 757h1M1189 758h1M1189 759h1M1189 760h1M1189 762h1M1189 763h1M1190 693h1M1190 699h1M1190 741h1M1190 754h1M1190 758h1M1190 759h1M1190 762h1M1190 763h1M1190 764h1M1190 766h1M1190 767h1M1191 735h1M1191 736h1M1191 740h1M1191 742h1M1191 756h1M1191 760h1M1191 761h1M1191 762h1M1191 763h1M1191 764h1M1191 766h1M1192 755h1M1192 757h1M1192 758h1M1192 759h1M1192 760h1M1192 761h1M1192 763h1M1192 764h1M1193 733h1M1193 747h1M1193 749h1M1193 752h1M1193 753h1M1193 754h1M1193 755h1M1193 756h1M1193 757h1M1193 758h1M1193 759h1M1193 761h1M1193 763h1M1193 764h1M1193 765h1M1193 766h1M1194 722h1M1194 737h1M1194 741h1M1194 744h1M1194 755h1M1194 757h1M1194 758h1M1194 759h1M1194 760h1M1194 761h1M1194 762h1M1194 763h1M1194 764h1M1194 765h1M1194 766h1M1195 725h1M1195 739h1M1195 750h1M1195 752h1M1195 755h1M1195 756h1M1195 759h1M1195 760h1M1195 761h1M1195 762h1M1195 763h1M1195 764h1M1195 766h1M1196 713h1M1196 724h1M1196 753h1M1196 756h1M1196 757h1M1196 758h1M1196 759h1M1196 761h1M1196 762h1M1196 763h1M1196 764h1M1196 765h1M1196 766h1M1197 710h1M1197 713h1M1197 727h1M1197 739h1M1197 745h1M1197 752h1M1197 754h1M1197 755h1M1197 758h1M1197 759h1M1197 760h1M1197 761h1M1197 762h1M1197 764h1M1197 765h1M1197 766h1M1197 767h1M1198 719h1M1198 722h1M1198 746h1M1198 750h1M1198 751h1M1198 753h1M1198 754h1M1198 755h1M1198 756h1M1198 757h1M1198 758h1M1198 759h1M1198 760h1M1198 761h1M1198 762h1M1198 763h1M1198 764h1M1198 765h1M1198 766h1M1199 693h1M1199 708h1M1199 719h1M1199 724h1M1199 725h1M1199 745h1M1199 747h1M1199 750h1M1199 752h1M1199 753h1M1199 754h1M1199 755h1M1199 756h1M1199 757h1M1199 758h1M1199 759h1M1199 760h1M1199 761h1M1199 762h1M1199 763h1M1199 764h1M1199 765h1M1199 766h1M1200 707h1M1200 708h1M1200 712h1M1200 722h1M1200 726h1M1200 729h1M1200 741h1M1200 746h1M1200 755h1M1200 756h1M1200 757h1M1200 758h1M1200 759h1M1200 760h1M1200 761h1M1200 762h1M1200 763h1M1200 764h1M1200 765h1M1200 766h1M1200 767h1M1201 690h1M1201 717h1M1201 726h1M1201 729h1M1201 732h1M1201 738h1M1201 742h1M1201 745h1M1201 751h1M1201 754h1M1201 755h1M1201 756h1M1201 758h1M1201 759h1M1201 760h1M1201 761h1M1201 762h1M1201 763h1M1201 764h1M1201 765h1M1201 766h1M1201 767h1M1202 707h1M1202 726h1M1202 728h1M1202 729h1M1202 744h1M1202 746h1M1202 749h1M1202 753h1M1202 754h1M1202 755h1M1202 756h1M1202 757h1M1202 758h1M1202 759h1M1202 760h1M1202 761h1M1202 762h1M1202 763h1M1202 764h1M1202 765h1M1202 766h1M1202 767h1M1203 686h1M1203 698h1M1203 701h1M1203 712h1M1203 727h1M1203 731h1M1203 737h1M1203 744h1M1203 746h1M1203 748h1M1203 751h1M1203 752h1M1203 756h1M1203 757h1M1203 758h1M1203 759h1M1203 761h1M1203 762h1M1203 763h1M1203 764h1M1203 765h1M1203 766h1M1203 767h1M1204 706h1M1204 708h1M1204 711h1M1204 721h1M1204 731h1M1204 745h1M1204 748h1M1204 749h1M1204 750h1M1204 752h1M1204 753h1M1204 754h1M1204 755h1M1204 756h1M1204 757h1M1204 758h1M1204 759h1M1204 760h1M1204 761h1M1204 762h1M1204 763h1M1204 764h1M1204 765h1M1204 766h1M1205 704h1M1205 729h1M1205 732h1M1205 740h1M1205 741h1M1205 745h1M1205 747h1M1205 748h1M1205 750h1M1205 751h1M1205 756h1M1205 757h1M1205 759h1M1205 760h1M1205 761h1M1205 762h1M1205 763h1M1205 764h1M1205 765h1M1205 766h1M1205 767h1M1206 684h1M1206 694h1M1206 714h1M1206 715h1M1206 717h1M1206 719h1M1206 720h1M1206 721h1M1206 724h1M1206 727h1M1206 729h1M1206 731h1M1206 733h1M1206 734h1M1206 738h1M1206 739h1M1206 742h1M1206 746h1M1206 747h1M1206 748h1M1206 749h1M1206 750h1M1206 751h1M1206 752h1M1206 753h1M1206 755h1M1206 756h1M1206 757h1M1206 758h1M1206 759h1M1206 760h1M1206 761h1M1206 762h1M1206 763h1M1206 764h1M1206 765h1M1206 766h1M1207 695h1M1207 698h1M1207 700h1M1207 710h1M1207 712h1M1207 719h1M1207 726h1M1207 727h1M1207 728h1M1207 729h1M1207 733h1M1207 734h1M1207 736h1M1207 738h1M1207 739h1M1207 741h1M1207 748h1M1207 749h1M1207 750h1M1207 751h1M1207 753h1M1207 754h1M1207 755h1M1207 756h1M1207 757h1M1207 758h1M1207 759h1M1207 760h1M1207 761h1M1207 762h1M1207 763h1M1207 764h1M1207 765h1M1207 766h1M1207 767h1M1208 695h1M1208 700h1M1208 715h1M1208 721h1M1208 725h1M1208 726h1M1208 727h1M1208 728h1M1208 732h1M1208 735h1M1208 741h1M1208 743h1M1208 744h1M1208 745h1M1208 748h1M1208 749h1M1208 750h1M1208 751h1M1208 752h1M1208 753h1M1208 754h1M1208 755h1M1208 756h1M1208 757h1M1208 758h1M1208 759h1M1208 760h1M1208 761h1M1208 762h1M1208 763h1M1208 764h1M1208 765h1M1208 766h1M1208 767h1M1209 663h1M1209 677h1M1209 688h1M1209 701h1M1209 702h1M1209 703h1M1209 708h1M1209 716h1M1209 718h1M1209 726h1M1209 727h1M1209 728h1M1209 729h1M1209 731h1M1209 734h1M1209 738h1M1209 740h1M1209 742h1M1209 744h1M1209 746h1M1209 749h1M1209 750h1M1209 752h1M1209 753h1M1209 754h1M1209 756h1M1209 757h1M1209 758h1M1209 759h1M1209 760h1M1209 761h1M1209 762h1M1209 763h1M1209 764h1M1209 765h1M1209 766h1M1209 767h1M1210 721h1M1210 729h1M1210 735h1M1210 743h1M1210 744h1M1210 749h1M1210 750h1M1210 751h1M1210 752h1M1210 754h1M1210 755h1M1210 756h1M1210 757h1M1210 758h1M1210 759h1M1210 760h1M1210 761h1M1210 762h1M1210 763h1M1210 764h1M1210 765h1M1210 766h1M1210 767h1M1210 768h1M1211 675h1M1211 721h1M1211 726h1M1211 728h1M1211 732h1M1211 733h1M1211 738h1M1211 739h1M1211 740h1M1211 743h1M1211 745h1M1211 746h1M1211 747h1M1211 748h1M1211 749h1M1211 750h1M1211 751h1M1211 752h1M1211 753h1M1211 754h1M1211 755h1M1211 756h1M1211 757h1M1211 758h1M1211 759h1M1211 760h1M1211 761h1M1211 762h1M1211 763h1M1211 764h1M1211 765h1M1211 766h1M1212 679h1M1212 691h1M1212 695h1M1212 698h1M1212 706h1M1212 726h1M1212 727h1M1212 729h1M1212 731h1M1212 732h1M1212 733h1M1212 738h1M1212 739h1M1212 740h1M1212 742h1M1212 743h1M1212 744h1M1212 748h1M1212 749h1M1212 750h1M1212 752h1M1212 753h1M1212 754h1M1212 755h1M1212 756h1M1212 757h1M1212 759h1M1212 760h1M1212 761h1M1212 762h1M1212 763h1M1212 764h1M1212 765h1M1212 766h1M1212 767h1M1213 691h1M1213 711h1M1213 714h1M1213 717h1M1213 719h1M1213 720h1M1213 722h1M1213 724h1M1213 725h1M1213 726h1M1213 732h1M1213 733h1M1213 734h1M1213 736h1M1213 737h1M1213 740h1M1213 742h1M1213 744h1M1213 746h1M1213 747h1M1213 748h1M1213 749h1M1213 750h1M1213 751h1M1213 753h1M1213 754h1M1213 755h1M1213 756h1M1213 757h1M1213 758h1M1213 759h1M1213 760h1M1213 761h1M1213 762h1M1213 763h1M1213 764h1M1213 765h1M1213 766h1M1213 767h1M1213 769h1M1214 682h1M1214 706h1M1214 710h1M1214 713h1M1214 715h1M1214 720h1M1214 729h1M1214 731h1M1214 737h1M1214 739h1M1214 743h1M1214 744h1M1214 745h1M1214 746h1M1214 747h1M1214 748h1M1214 750h1M1214 752h1M1214 753h1M1214 754h1M1214 755h1M1214 756h1M1214 757h1M1214 758h1M1214 759h1M1214 760h1M1214 761h1M1214 762h1M1214 763h1M1214 764h1M1214 765h1M1214 766h1M1214 767h1M1215 697h1M1215 707h1M1215 708h1M1215 709h1M1215 712h1M1215 717h1M1215 724h1M1215 727h1M1215 732h1M1215 739h1M1215 742h1M1215 743h1M1215 745h1M1215 747h1M1215 748h1M1215 749h1M1215 750h1M1215 751h1M1215 752h1M1215 753h1M1215 754h1M1215 755h1M1215 756h1M1215 757h1M1215 758h1M1215 759h1M1215 760h1M1215 761h1M1215 762h1M1215 763h1M1215 764h1M1215 765h1M1215 766h1M1215 767h1M1216 706h1M1216 711h1M1216 713h1M1216 717h1M1216 720h1M1216 725h1M1216 726h1M1216 728h1M1216 733h1M1216 734h1M1216 735h1M1216 738h1M1216 739h1M1216 740h1M1216 742h1M1216 744h1M1216 745h1M1216 746h1M1216 748h1M1216 749h1M1216 750h1M1216 752h1M1216 754h1M1216 755h1M1216 756h1M1216 757h1M1216 758h1M1216 759h1M1216 760h1M1216 761h1M1216 762h1M1216 763h1M1216 764h1M1216 765h1M1216 766h1M1216 767h1M1217 680h1M1217 695h1M1217 711h1M1217 720h1M1217 721h1M1217 726h1M1217 727h1M1217 733h1M1217 735h1M1217 738h1M1217 743h1M1217 744h1M1217 745h1M1217 746h1M1217 747h1M1217 749h1M1217 751h1M1217 752h1M1217 753h1M1217 755h1M1217 756h1M1217 757h1M1217 758h1M1217 759h1M1217 760h1M1217 761h1M1217 762h1M1217 763h1M1217 764h1M1217 765h1M1217 766h1M1217 767h1M1217 768h1M1218 686h1M1218 705h1M1218 707h1M1218 712h1M1218 719h1M1218 720h1M1218 721h1M1218 729h1M1218 731h1M1218 732h1M1218 733h1M1218 734h1M1218 736h1M1218 737h1M1218 738h1M1218 743h1M1218 744h1M1218 747h1M1218 750h1M1218 752h1M1218 753h1M1218 754h1M1218 755h1M1218 756h1M1218 757h1M1218 758h1M1218 759h1M1218 760h1M1218 761h1M1218 762h1M1218 763h1M1218 764h1M1218 765h1M1218 766h1M1218 767h1M1218 768h1M1219 689h1M1219 694h1M1219 701h1M1219 705h1M1219 707h1M1219 715h1M1219 717h1M1219 720h1M1219 724h1M1219 725h1M1219 726h1M1219 728h1M1219 729h1M1219 737h1M1219 738h1M1219 740h1M1219 741h1M1219 745h1M1219 746h1M1219 747h1M1219 751h1M1219 752h1M1219 753h1M1219 754h1M1219 755h1M1219 756h1M1219 757h1M1219 758h1M1219 759h1M1219 760h1M1219 761h1M1219 762h1M1219 763h1M1219 764h1M1219 765h1M1219 766h1M1219 767h1M1219 769h1M1220 686h1M1220 692h1M1220 702h1M1220 706h1M1220 708h1M1220 709h1M1220 711h1M1220 713h1M1220 718h1M1220 720h1M1220 721h1M1220 724h1M1220 725h1M1220 732h1M1220 733h1M1220 735h1M1220 736h1M1220 739h1M1220 740h1M1220 741h1M1220 742h1M1220 743h1M1220 745h1M1220 747h1M1220 748h1M1220 749h1M1220 751h1M1220 752h1M1220 753h1M1220 754h1M1220 755h1M1220 756h1M1220 757h1M1220 758h1M1220 759h1M1220 760h1M1220 761h1M1220 762h1M1220 763h1M1220 764h1M1220 765h1M1220 766h1M1220 767h1M1220 768h1M1221 676h1M1221 678h1M1221 692h1M1221 697h1M1221 707h1M1221 716h1M1221 719h1M1221 727h1M1221 729h1M1221 734h1M1221 735h1M1221 738h1M1221 739h1M1221 741h1M1221 743h1M1221 745h1M1221 746h1M1221 747h1M1221 748h1M1221 749h1M1221 750h1M1221 751h1M1221 752h1M1221 753h1M1221 754h1M1221 755h1M1221 756h1M1221 757h1M1221 758h1M1221 759h1M1221 760h1M1221 761h1M1221 762h1M1221 763h1M1221 764h1M1221 765h1M1221 766h1M1221 767h1M1222 702h1M1222 703h1M1222 704h1M1222 714h1M1222 716h1M1222 719h1M1222 721h1M1222 722h1M1222 727h1M1222 729h1M1222 733h1M1222 734h1M1222 735h1M1222 736h1M1222 737h1M1222 740h1M1222 742h1M1222 745h1M1222 746h1M1222 747h1M1222 748h1M1222 749h1M1222 750h1M1222 751h1M1222 752h1M1222 753h1M1222 754h1M1222 755h1M1222 756h1M1222 757h1M1222 758h1M1222 759h1M1222 760h1M1222 761h1M1222 762h1M1222 763h1M1222 764h1M1222 765h1M1222 766h1M1222 767h1M1222 768h1M1223 660h1M1223 691h1M1223 700h1M1223 707h1M1223 708h1M1223 709h1M1223 712h1M1223 718h1M1223 720h1M1223 723h1M1223 726h1M1223 729h1M1223 730h1M1223 731h1M1223 732h1M1223 733h1M1223 735h1M1223 736h1M1223 737h1M1223 738h1M1223 742h1M1223 743h1M1223 744h1M1223 746h1M1223 747h1M1223 748h1M1223 749h1M1223 750h1M1223 751h1M1223 752h1M1223 754h1M1223 755h1M1223 756h1M1223 757h1M1223 758h1M1223 759h1M1223 760h1M1223 761h1M1223 762h1M1223 763h1M1223 764h1M1223 765h1M1223 766h1M1223 767h1M1224 700h1M1224 701h1M1224 703h1M1224 705h1M1224 711h1M1224 718h1M1224 719h1M1224 721h1M1224 725h1M1224 728h1M1224 730h1M1224 731h1M1224 733h1M1224 736h1M1224 739h1M1224 740h1M1224 742h1M1224 743h1M1224 744h1M1224 745h1M1224 746h1M1224 749h1M1224 750h1M1224 751h1M1224 752h1M1224 753h1M1224 754h1M1224 755h1M1224 756h1M1224 757h1M1224 758h1M1224 759h1M1224 760h1M1224 761h1M1224 762h1M1224 763h1M1224 764h1M1224 765h1M1224 766h1M1224 767h1M1225 701h1M1225 703h1M1225 708h1M1225 710h1M1225 711h1M1225 713h1M1225 717h1M1225 718h1M1225 719h1M1225 720h1M1225 726h1M1225 727h1M1225 729h1M1225 733h1M1225 734h1M1225 736h1M1225 739h1M1225 740h1M1225 741h1M1225 742h1M1225 744h1M1225 745h1M1225 747h1M1225 750h1M1225 751h1M1225 752h1M1225 753h1M1225 754h1M1225 755h1M1225 756h1M1225 757h1M1225 758h1M1225 759h1M1225 760h1M1225 761h1M1225 762h1M1225 763h1M1225 764h1M1225 765h1M1225 766h1M1225 767h1M1225 768h1M1226 695h1M1226 713h1M1226 715h1M1226 716h1M1226 718h1M1226 721h1M1226 722h1M1226 726h1M1226 727h1M1226 738h1M1226 739h1M1226 740h1M1226 743h1M1226 745h1M1226 748h1M1226 749h1M1226 750h1M1226 751h1M1226 752h1M1226 753h1M1226 754h1M1226 755h1M1226 756h1M1226 757h1M1226 758h1M1226 759h1M1226 760h1M1226 761h1M1226 762h1M1226 763h1M1226 764h1M1226 765h1M1226 766h1M1226 767h1M1227 692h1M1227 694h1M1227 704h1M1227 707h1M1227 712h1M1227 720h1M1227 724h1M1227 725h1M1227 726h1M1227 729h1M1227 733h1M1227 735h1M1227 737h1M1227 739h1M1227 741h1M1227 743h1M1227 744h1M1227 745h1M1227 746h1M1227 747h1M1227 748h1M1227 749h1M1227 751h1M1227 752h1M1227 753h1M1227 754h1M1227 755h1M1227 756h1M1227 757h1M1227 758h1M1227 759h1M1227 760h1M1227 761h1M1227 762h1M1227 763h1M1227 764h1M1227 765h1M1227 766h1M1227 767h1M1227 768h1M1228 687h1M1228 698h1M1228 708h1M1228 717h1M1228 719h1M1228 721h1M1228 722h1M1228 724h1M1228 728h1M1228 733h1M1228 737h1M1228 739h1M1228 740h1M1228 741h1M1228 742h1M1228 744h1M1228 745h1M1228 746h1M1228 747h1M1228 748h1M1228 749h1M1228 750h1M1228 751h1M1228 753h1M1228 754h1M1228 755h1M1228 756h1M1228 758h1M1228 759h1M1228 760h1M1228 761h1M1228 762h1M1228 763h1M1228 764h1M1228 765h1M1228 766h1M1228 767h1M1229 672h1M1229 685h1M1229 703h1M1229 704h1M1229 709h1M1229 713h1M1229 715h1M1229 719h1M1229 721h1M1229 723h1M1229 726h1M1229 727h1M1229 730h1M1229 735h1M1229 738h1M1229 739h1M1229 742h1M1229 743h1M1229 744h1M1229 746h1M1229 747h1M1229 748h1M1229 751h1M1229 752h1M1229 754h1M1229 755h1M1229 756h1M1229 757h1M1229 758h1M1229 759h1M1229 760h1M1229 761h1M1229 762h1M1229 763h1M1229 764h1M1229 765h1M1229 766h1M1229 767h1M1229 768h1M1230 692h1M1230 694h1M1230 697h1M1230 699h1M1230 706h1M1230 710h1M1230 713h1M1230 715h1M1230 717h1M1230 718h1M1230 721h1M1230 724h1M1230 727h1M1230 729h1M1230 735h1M1230 740h1M1230 741h1M1230 746h1M1230 747h1M1230 748h1M1230 750h1M1230 751h1M1230 752h1M1230 753h1M1230 754h1M1230 755h1M1230 756h1M1230 757h1M1230 758h1M1230 759h1M1230 760h1M1230 761h1M1230 762h1M1230 763h1M1230 764h1M1230 765h1M1230 766h1M1230 767h1M1230 768h1M1231 686h1M1231 702h1M1231 703h1M1231 708h1M1231 709h1M1231 712h1M1231 717h1M1231 718h1M1231 719h1M1231 721h1M1231 722h1M1231 724h1M1231 726h1M1231 727h1M1231 729h1M1231 732h1M1231 733h1M1231 736h1M1231 741h1M1231 745h1M1231 748h1M1231 750h1M1231 751h1M1231 752h1M1231 753h1M1231 754h1M1231 755h1M1231 756h1M1231 757h1M1231 758h1M1231 759h1M1231 760h1M1231 761h1M1231 762h1M1231 763h1M1231 764h1M1231 765h1M1231 766h1M1231 767h1M1232 692h1M1232 695h1M1232 708h1M1232 710h1M1232 717h1M1232 722h1M1232 726h1M1232 727h1M1232 728h1M1232 729h1M1232 738h1M1232 739h1M1232 740h1M1232 742h1M1232 746h1M1232 749h1M1232 751h1M1232 752h1M1232 753h1M1232 754h1M1232 755h1M1232 756h1M1232 757h1M1232 758h1M1232 759h1M1232 760h1M1232 761h1M1232 762h1M1232 763h1M1232 764h1M1232 765h1M1232 766h1M1232 767h1M1232 768h1M1233 692h1M1233 719h1M1233 722h1M1233 723h1M1233 724h1M1233 725h1M1233 729h1M1233 731h1M1233 733h1M1233 735h1M1233 737h1M1233 738h1M1233 740h1M1233 743h1M1233 747h1M1233 748h1M1233 751h1M1233 752h1M1233 754h1M1233 755h1M1233 756h1M1233 757h1M1233 758h1M1233 759h1M1233 760h1M1233 761h1M1233 762h1M1233 763h1M1233 764h1M1233 765h1M1233 766h1M1233 767h1M1234 688h1M1234 698h1M1234 700h1M1234 708h1M1234 716h1M1234 718h1M1234 725h1M1234 726h1M1234 729h1M1234 733h1M1234 734h1M1234 735h1M1234 736h1M1234 738h1M1234 739h1M1234 740h1M1234 741h1M1234 743h1M1234 744h1M1234 746h1M1234 747h1M1234 750h1M1234 752h1M1234 754h1M1234 755h1M1234 756h1M1234 757h1M1234 758h1M1234 759h1M1234 760h1M1234 761h1M1234 762h1M1234 763h1M1234 764h1M1234 765h1M1234 766h1M1234 767h1M1235 716h1M1235 719h1M1235 723h1M1235 726h1M1235 727h1M1235 732h1M1235 733h1M1235 736h1M1235 738h1M1235 740h1M1235 742h1M1235 743h1M1235 744h1M1235 746h1M1235 748h1M1235 749h1M1235 751h1M1235 753h1M1235 754h1M1235 755h1M1235 756h1M1235 757h1M1235 758h1M1235 760h1M1235 761h1M1235 762h1M1235 763h1M1235 764h1M1235 765h1M1235 766h1M1236 702h1M1236 710h1M1236 714h1M1236 722h1M1236 723h1M1236 724h1M1236 725h1M1236 728h1M1236 729h1M1236 734h1M1236 737h1M1236 738h1M1236 740h1M1236 742h1M1236 746h1M1236 747h1M1236 748h1M1236 750h1M1236 753h1M1236 754h1M1236 755h1M1236 756h1M1236 757h1M1236 758h1M1236 759h1M1236 760h1M1236 761h1M1236 762h1M1236 763h1M1236 764h1M1236 765h1M1236 766h1M1236 767h1M1236 768h1M1237 691h1M1237 694h1M1237 705h1M1237 707h1M1237 716h1M1237 721h1M1237 724h1M1237 725h1M1237 727h1M1237 730h1M1237 735h1M1237 737h1M1237 741h1M1237 742h1M1237 746h1M1237 748h1M1237 750h1M1237 751h1M1237 752h1M1237 753h1M1237 754h1M1237 755h1M1237 756h1M1237 757h1M1237 758h1M1237 759h1M1237 760h1M1237 761h1M1237 762h1M1237 763h1M1237 764h1M1237 765h1M1237 766h1M1238 708h1M1238 709h1M1238 718h1M1238 724h1M1238 727h1M1238 728h1M1238 730h1M1238 734h1M1238 739h1M1238 740h1M1238 745h1M1238 746h1M1238 747h1M1238 750h1M1238 751h1M1238 753h1M1238 754h1M1238 755h1M1238 756h1M1238 757h1M1238 758h1M1238 759h1M1238 760h1M1238 761h1M1238 762h1M1238 763h1M1238 764h1M1238 765h1M1238 766h1M1238 767h1M1239 684h1M1239 715h1M1239 716h1M1239 720h1M1239 721h1M1239 726h1M1239 731h1M1239 732h1M1239 733h1M1239 734h1M1239 739h1M1239 740h1M1239 744h1M1239 746h1M1239 747h1M1239 751h1M1239 752h1M1239 753h1M1239 754h1M1239 755h1M1239 756h1M1239 757h1M1239 758h1M1239 759h1M1239 760h1M1239 761h1M1239 762h1M1239 764h1M1239 765h1M1239 766h1M1240 692h1M1240 713h1M1240 715h1M1240 718h1M1240 721h1M1240 723h1M1240 724h1M1240 735h1M1240 740h1M1240 741h1M1240 748h1M1240 749h1M1240 750h1M1240 752h1M1240 754h1M1240 755h1M1240 756h1M1240 757h1M1240 758h1M1240 760h1M1240 761h1M1240 762h1M1240 763h1M1240 764h1M1240 765h1M1240 766h1M1240 767h1M1241 657h1M1241 709h1M1241 729h1M1241 733h1M1241 736h1M1241 737h1M1241 739h1M1241 740h1M1241 744h1M1241 748h1M1241 749h1M1241 751h1M1241 752h1M1241 753h1M1241 754h1M1241 755h1M1241 756h1M1241 757h1M1241 758h1M1241 759h1M1241 760h1M1241 761h1M1241 762h1M1241 763h1M1241 764h1M1241 765h1M1241 766h1M1241 768h1M1242 704h1M1242 720h1M1242 722h1M1242 727h1M1242 732h1M1242 733h1M1242 745h1M1242 750h1M1242 753h1M1242 754h1M1242 755h1M1242 756h1M1242 757h1M1242 758h1M1242 759h1M1242 760h1M1242 761h1M1242 762h1M1242 763h1M1242 764h1M1242 765h1M1242 766h1M1243 704h1M1243 705h1M1243 722h1M1243 725h1M1243 731h1M1243 737h1M1243 738h1M1243 739h1M1243 741h1M1243 742h1M1243 743h1M1243 747h1M1243 748h1M1243 751h1M1243 752h1M1243 753h1M1243 754h1M1243 756h1M1243 758h1M1243 759h1M1243 760h1M1243 761h1M1243 763h1M1243 764h1M1243 765h1M1243 766h1M1243 767h1M1244 671h1M1244 687h1M1244 699h1M1244 709h1M1244 710h1M1244 713h1M1244 715h1M1244 716h1M1244 718h1M1244 722h1M1244 723h1M1244 724h1M1244 729h1M1244 731h1M1244 733h1M1244 737h1M1244 739h1M1244 747h1M1244 748h1M1244 750h1M1244 751h1M1244 752h1M1244 753h1M1244 754h1M1244 755h1M1244 756h1M1244 757h1M1244 758h1M1244 759h1M1244 760h1M1244 762h1M1244 763h1M1244 765h1M1245 706h1M1245 714h1M1245 715h1M1245 724h1M1245 726h1M1245 733h1M1245 738h1M1245 744h1M1245 745h1M1245 751h1M1245 752h1M1245 753h1M1245 754h1M1245 756h1M1245 757h1M1245 758h1M1245 759h1M1245 760h1M1245 761h1M1245 762h1M1245 763h1M1245 764h1M1245 765h1M1245 766h1M1245 767h1M1246 697h1M1246 709h1M1246 732h1M1246 733h1M1246 735h1M1246 743h1M1246 750h1M1246 751h1M1246 754h1M1246 756h1M1246 757h1M1246 758h1M1246 759h1M1246 760h1M1246 761h1M1246 762h1M1246 763h1M1246 764h1M1246 765h1M1246 766h1M1247 697h1M1247 702h1M1247 707h1M1247 714h1M1247 738h1M1247 739h1M1247 746h1M1247 749h1M1247 754h1M1247 755h1M1247 756h1M1247 760h1M1247 761h1M1247 762h1M1247 763h1M1247 764h1M1247 765h1M1247 766h1M1248 710h1M1248 723h1M1248 731h1M1248 732h1M1248 739h1M1248 743h1M1248 747h1M1248 748h1M1248 750h1M1248 754h1M1248 755h1M1248 756h1M1248 757h1M1248 758h1M1248 760h1M1248 761h1M1248 762h1M1248 763h1M1249 694h1M1249 721h1M1249 737h1M1249 742h1M1249 750h1M1249 751h1M1249 752h1M1249 753h1M1249 755h1M1249 756h1M1249 757h1M1249 758h1M1249 759h1M1249 761h1M1249 762h1M1249 765h1M1249 766h1M1250 727h1M1250 730h1M1250 733h1M1250 740h1M1250 752h1M1250 756h1M1250 758h1M1250 759h1M1250 760h1M1250 762h1M1250 763h1M1250 764h1M1251 701h1M1251 707h1M1251 742h1M1251 747h1M1251 748h1M1251 750h1M1251 751h1M1251 754h1M1251 758h1M1251 759h1M1251 760h1M1251 762h1M1251 763h1M1251 764h1M1251 765h1M1252 706h1M1252 713h1M1252 723h1M1252 729h1M1252 734h1M1252 737h1M1252 749h1M1252 752h1M1252 754h1M1252 757h1M1252 760h1M1252 761h1M1252 762h1M1252 764h1M1252 766h1M1253 715h1M1253 725h1M1253 729h1M1253 753h1M1253 755h1M1253 757h1M1253 760h1M1253 761h1M1253 762h1M1253 763h1M1253 766h1M1254 708h1M1254 736h1M1254 756h1M1254 758h1M1254 760h1M1254 761h1M1254 764h1M1254 766h1M1255 702h1M1255 715h1M1255 732h1M1255 743h1M1255 748h1M1255 751h1M1255 756h1M1255 759h1M1255 764h1M1255 765h1M1256 727h1M1256 742h1M1256 756h1M1256 758h1M1256 760h1M1256 762h1M1256 763h1M1256 765h1M1257 689h1M1257 748h1M1257 753h1M1257 757h1M1257 759h1M1257 760h1M1258 750h1M1258 751h1M1258 757h1M1258 760h1M1258 762h1M1278 762h1" stroke="#000" stroke-width="1" fill="none" shape-rendering="crispEdges" transform="translate(0 .5)"/>
<path d="M1202 771h1M1208 774h1M1219 774h1M1208 773h1M1206 774h1M1257 772h1M1215 779h1M1253 776h1M1233 774h1M1230 769h1M1202 775h1M1217 770h1M1237 784h1M1228 770h1M1198 782h1M1210 771h1M1210 782h1M1226 769h1M1244 776h1M1205 775h1M1221 776h1M1211 769h1M1226 771h1M1205 770h1M1209 773h1M1245 778h1M1233 778h1M1207 777h1M1218 783h1M1221 772h1M1222 769h1M1215 771h1M1218 770h1M1219 777h1M1207 770h1M1223 789h1M1213 776h1M1216 772h1M1242 773h1M1214 771h1" stroke="#b5b5b5" stroke-width="1" fill="none" shape-rendering="crispEdges" transform="translate(0 .5)"/>
<rect x="1124.4" y="632.8" width="179.8" height="181.3" fill="none" stroke="#8a8a8a" stroke-width="1"/>
<rect x="1190.9" y="640.3" width="68.4" height="95.1" fill="none" stroke="#222" stroke-width="1"/>
<text x="1126.9" y="666.8" font-size="22" fill="#a23fa2" font-family="DejaVu Sans, Liberation Sans, sans-serif">13,2</text>
<path d="M1360 757h1M1366 744h1M1366 757h1M1366 758h1M1366 760h1M1366 762h1M1366 763h1M1367 758h1M1367 759h1M1368 762h1M1368 763h1M1368 764h1M1369 734h1M1369 756h1M1369 757h1M1369 759h1M1369 760h1M1369 761h1M1369 762h1M1369 765h1M1370 730h1M1370 754h1M1370 758h1M1370 760h1M1370 761h1M1370 763h1M1370 764h1M1371 747h1M1371 760h1M1371 761h1M1371 762h1M1371 765h1M1372 732h1M1372 751h1M1372 757h1M1372 759h1M1372 760h1M1372 761h1M1372 762h1M1372 763h1M1372 765h1M1372 767h1M1373 707h1M1373 720h1M1373 743h1M1373 756h1M1373 758h1M1373 761h1M1373 763h1M1374 750h1M1374 754h1M1374 755h1M1374 759h1M1374 761h1M1374 762h1M1374 763h1M1374 764h1M1374 765h1M1374 766h1M1375 744h1M1375 753h1M1375 755h1M1375 757h1M1375 758h1M1375 759h1M1375 762h1M1375 763h1M1375 764h1M1375 765h1M1375 766h1M1376 732h1M1376 736h1M1376 748h1M1376 758h1M1376 760h1M1376 761h1M1376 763h1M1376 764h1M1376 765h1M1377 684h1M1377 714h1M1377 743h1M1377 746h1M1377 758h1M1377 759h1M1377 761h1M1377 762h1M1377 763h1M1377 765h1M1378 703h1M1378 757h1M1378 761h1M1378 762h1M1378 763h1M1378 765h1M1379 725h1M1379 735h1M1379 741h1M1379 754h1M1379 755h1M1379 760h1M1379 761h1M1379 762h1M1379 763h1M1379 764h1M1380 756h1M1380 757h1M1380 758h1M1380 759h1M1380 760h1M1380 761h1M1380 762h1M1380 763h1M1380 765h1M1380 766h1M1381 720h1M1381 725h1M1381 731h1M1381 739h1M1381 742h1M1381 743h1M1381 744h1M1381 754h1M1381 761h1M1381 762h1M1381 763h1M1381 764h1M1381 765h1M1381 766h1M1381 767h1M1382 728h1M1382 732h1M1382 747h1M1382 756h1M1382 757h1M1382 758h1M1382 759h1M1382 761h1M1382 762h1M1382 763h1M1382 764h1M1382 765h1M1382 766h1M1383 709h1M1383 720h1M1383 721h1M1383 724h1M1383 741h1M1383 751h1M1383 752h1M1383 755h1M1383 759h1M1383 760h1M1383 761h1M1383 763h1M1383 764h1M1383 765h1M1383 766h1M1384 716h1M1384 718h1M1384 720h1M1384 725h1M1384 727h1M1384 730h1M1384 734h1M1384 740h1M1384 741h1M1384 745h1M1384 750h1M1384 752h1M1384 755h1M1384 757h1M1384 758h1M1384 760h1M1384 761h1M1384 762h1M1384 764h1M1384 765h1M1384 766h1M1385 719h1M1385 733h1M1385 740h1M1385 747h1M1385 749h1M1385 751h1M1385 755h1M1385 756h1M1385 758h1M1385 760h1M1385 761h1M1385 762h1M1385 763h1M1385 764h1M1385 765h1M1385 766h1M1386 710h1M1386 716h1M1386 732h1M1386 733h1M1386 736h1M1386 740h1M1386 744h1M1386 748h1M1386 754h1M1386 755h1M1386 757h1M1386 758h1M1386 759h1M1386 760h1M1386 762h1M1386 763h1M1386 764h1M1386 765h1M1386 766h1M1387 702h1M1387 704h1M1387 715h1M1387 720h1M1387 726h1M1387 729h1M1387 730h1M1387 744h1M1387 753h1M1387 754h1M1387 755h1M1387 756h1M1387 759h1M1387 760h1M1387 761h1M1387 762h1M1387 763h1M1387 764h1M1387 765h1M1387 767h1M1388 693h1M1388 701h1M1388 707h1M1388 709h1M1388 716h1M1388 719h1M1388 724h1M1388 729h1M1388 734h1M1388 735h1M1388 739h1M1388 745h1M1388 746h1M1388 749h1M1388 752h1M1388 755h1M1388 756h1M1388 757h1M1388 758h1M1388 759h1M1388 761h1M1388 762h1M1388 763h1M1388 764h1M1388 765h1M1388 766h1M1389 722h1M1389 731h1M1389 732h1M1389 735h1M1389 738h1M1389 739h1M1389 741h1M1389 742h1M1389 746h1M1389 749h1M1389 751h1M1389 754h1M1389 755h1M1389 757h1M1389 758h1M1389 759h1M1389 761h1M1389 762h1M1389 763h1M1389 764h1M1389 765h1M1389 766h1M1390 697h1M1390 706h1M1390 721h1M1390 737h1M1390 739h1M1390 740h1M1390 746h1M1390 747h1M1390 748h1M1390 749h1M1390 751h1M1390 753h1M1390 756h1M1390 757h1M1390 758h1M1390 759h1M1390 760h1M1390 761h1M1390 762h1M1390 763h1M1390 764h1M1390 765h1M1390 767h1M1390 768h1M1391 689h1M1391 700h1M1391 707h1M1391 710h1M1391 720h1M1391 727h1M1391 728h1M1391 730h1M1391 732h1M1391 738h1M1391 739h1M1391 741h1M1391 747h1M1391 748h1M1391 749h1M1391 751h1M1391 752h1M1391 755h1M1391 756h1M1391 757h1M1391 758h1M1391 759h1M1391 760h1M1391 761h1M1391 762h1M1391 763h1M1391 764h1M1391 765h1M1391 766h1M1392 702h1M1392 712h1M1392 713h1M1392 726h1M1392 727h1M1392 730h1M1392 733h1M1392 735h1M1392 737h1M1392 747h1M1392 748h1M1392 749h1M1392 750h1M1392 751h1M1392 752h1M1392 753h1M1392 754h1M1392 755h1M1392 756h1M1392 757h1M1392 758h1M1392 759h1M1392 760h1M1392 761h1M1392 762h1M1392 763h1M1392 764h1M1392 765h1M1392 766h1M1392 767h1M1393 685h1M1393 705h1M1393 716h1M1393 717h1M1393 719h1M1393 731h1M1393 738h1M1393 739h1M1393 740h1M1393 742h1M1393 744h1M1393 746h1M1393 747h1M1393 750h1M1393 751h1M1393 752h1M1393 754h1M1393 755h1M1393 756h1M1393 757h1M1393 758h1M1393 759h1M1393 760h1M1393 761h1M1393 762h1M1393 763h1M1393 764h1M1393 765h1M1393 766h1M1393 767h1M1393 768h1M1394 688h1M1394 705h1M1394 713h1M1394 714h1M1394 715h1M1394 719h1M1394 723h1M1394 731h1M1394 738h1M1394 739h1M1394 740h1M1394 743h1M1394 745h1M1394 746h1M1394 747h1M1394 748h1M1394 751h1M1394 753h1M1394 754h1M1394 755h1M1394 756h1M1394 757h1M1394 758h1M1394 759h1M1394 760h1M1394 761h1M1394 762h1M1394 764h1M1394 765h1M1394 766h1M1394 767h1M1395 699h1M1395 701h1M1395 713h1M1395 725h1M1395 731h1M1395 732h1M1395 735h1M1395 736h1M1395 741h1M1395 745h1M1395 747h1M1395 748h1M1395 749h1M1395 750h1M1395 751h1M1395 752h1M1395 754h1M1395 755h1M1395 756h1M1395 758h1M1395 759h1M1395 760h1M1395 761h1M1395 762h1M1395 763h1M1395 764h1M1395 765h1M1395 766h1M1396 701h1M1396 712h1M1396 715h1M1396 718h1M1396 721h1M1396 723h1M1396 724h1M1396 729h1M1396 730h1M1396 731h1M1396 735h1M1396 742h1M1396 745h1M1396 746h1M1396 747h1M1396 748h1M1396 749h1M1396 750h1M1396 751h1M1396 752h1M1396 753h1M1396 754h1M1396 755h1M1396 756h1M1396 757h1M1396 758h1M1396 759h1M1396 760h1M1396 761h1M1396 762h1M1396 763h1M1396 764h1M1396 765h1M1396 766h1M1396 767h1M1396 768h1M1397 689h1M1397 693h1M1397 713h1M1397 714h1M1397 715h1M1397 717h1M1397 729h1M1397 732h1M1397 733h1M1397 734h1M1397 736h1M1397 738h1M1397 739h1M1397 740h1M1397 745h1M1397 746h1M1397 747h1M1397 749h1M1397 754h1M1397 755h1M1397 756h1M1397 757h1M1397 758h1M1397 759h1M1397 760h1M1397 761h1M1397 762h1M1397 763h1M1397 764h1M1397 765h1M1397 766h1M1397 767h1M1398 686h1M1398 698h1M1398 699h1M1398 720h1M1398 721h1M1398 724h1M1398 728h1M1398 730h1M1398 731h1M1398 739h1M1398 741h1M1398 742h1M1398 743h1M1398 745h1M1398 746h1M1398 747h1M1398 750h1M1398 751h1M1398 752h1M1398 753h1M1398 754h1M1398 756h1M1398 757h1M1398 758h1M1398 759h1M1398 760h1M1398 761h1M1398 762h1M1398 763h1M1398 764h1M1398 765h1M1398 766h1M1398 767h1M1398 768h1M1399 704h1M1399 705h1M1399 710h1M1399 712h1M1399 714h1M1399 717h1M1399 719h1M1399 720h1M1399 724h1M1399 726h1M1399 727h1M1399 730h1M1399 732h1M1399 736h1M1399 737h1M1399 738h1M1399 739h1M1399 745h1M1399 746h1M1399 749h1M1399 750h1M1399 752h1M1399 753h1M1399 754h1M1399 755h1M1399 756h1M1399 757h1M1399 758h1M1399 759h1M1399 760h1M1399 761h1M1399 762h1M1399 763h1M1399 764h1M1399 765h1M1399 766h1M1399 767h1M1399 768h1M1400 690h1M1400 700h1M1400 706h1M1400 711h1M1400 716h1M1400 717h1M1400 730h1M1400 731h1M1400 732h1M1400 736h1M1400 743h1M1400 745h1M1400 746h1M1400 747h1M1400 749h1M1400 751h1M1400 752h1M1400 753h1M1400 754h1M1400 755h1M1400 756h1M1400 757h1M1400 758h1M1400 759h1M1400 760h1M1400 761h1M1400 762h1M1400 763h1M1400 764h1M1400 765h1M1400 766h1M1400 767h1M1401 692h1M1401 708h1M1401 718h1M1401 723h1M1401 727h1M1401 730h1M1401 731h1M1401 733h1M1401 735h1M1401 738h1M1401 740h1M1401 741h1M1401 742h1M1401 743h1M1401 744h1M1401 745h1M1401 746h1M1401 747h1M1401 748h1M1401 750h1M1401 751h1M1401 752h1M1401 753h1M1401 754h1M1401 755h1M1401 756h1M1401 757h1M1401 758h1M1401 759h1M1401 760h1M1401 761h1M1401 762h1M1401 763h1M1401 764h1M1401 765h1M1401 766h1M1401 767h1M1402 690h1M1402 694h1M1402 702h1M1402 716h1M1402 718h1M1402 723h1M1402 727h1M1402 728h1M1402 729h1M1402 732h1M1402 734h1M1402 736h1M1402 738h1M1402 739h1M1402 742h1M1402 743h1M1402 745h1M1402 747h1M1402 748h1M1402 751h1M1402 752h1M1402 753h1M1402 754h1M1402 755h1M1402 756h1M1402 757h1M1402 758h1M1402 759h1M1402 760h1M1402 761h1M1402 762h1M1402 763h1M1402 764h1M1402 765h1M1402 766h1M1402 767h1M1403 698h1M1403 725h1M1403 727h1M1403 739h1M1403 740h1M1403 741h1M1403 742h1M1403 743h1M1403 744h1M1403 745h1M1403 746h1M1403 747h1M1403 749h1M1403 751h1M1403 752h1M1403 753h1M1403 754h1M1403 755h1M1403 756h1M1403 757h1M1403 758h1M1403 759h1M1403 760h1M1403 761h1M1403 762h1M1403 763h1M1403 764h1M1403 765h1M1403 766h1M1403 767h1M1404 704h1M1404 710h1M1404 712h1M1404 725h1M1404 728h1M1404 729h1M1404 731h1M1404 732h1M1404 735h1M1404 736h1M1404 737h1M1404 743h1M1404 744h1M1404 745h1M1404 746h1M1404 748h1M1404 749h1M1404 750h1M1404 751h1M1404 752h1M1404 753h1M1404 755h1M1404 756h1M1404 757h1M1404 758h1M1404 759h1M1404 760h1M1404 761h1M1404 762h1M1404 763h1M1404 764h1M1404 765h1M1404 766h1M1404 767h1M1405 702h1M1405 703h1M1405 711h1M1405 717h1M1405 719h1M1405 730h1M1405 732h1M1405 733h1M1405 734h1M1405 735h1M1405 738h1M1405 739h1M1405 741h1M1405 742h1M1405 745h1M1405 746h1M1405 747h1M1405 748h1M1405 749h1M1405 751h1M1405 752h1M1405 753h1M1405 754h1M1405 755h1M1405 756h1M1405 757h1M1405 758h1M1405 759h1M1405 760h1M1405 761h1M1405 762h1M1405 763h1M1405 764h1M1405 765h1M1405 766h1M1405 767h1M1405 768h1M1406 686h1M1406 694h1M1406 703h1M1406 704h1M1406 706h1M1406 711h1M1406 717h1M1406 721h1M1406 722h1M1406 723h1M1406 725h1M1406 730h1M1406 733h1M1406 737h1M1406 741h1M1406 746h1M1406 747h1M1406 749h1M1406 750h1M1406 752h1M1406 753h1M1406 754h1M1406 755h1M1406 756h1M1406 757h1M1406 758h1M1406 759h1M1406 760h1M1406 761h1M1406 762h1M1406 763h1M1406 764h1M1406 765h1M1406 766h1M1406 767h1M1407 698h1M1407 699h1M1407 708h1M1407 709h1M1407 716h1M1407 717h1M1407 718h1M1407 721h1M1407 725h1M1407 731h1M1407 733h1M1407 736h1M1407 737h1M1407 739h1M1407 740h1M1407 742h1M1407 743h1M1407 744h1M1407 745h1M1407 747h1M1407 748h1M1407 749h1M1407 751h1M1407 752h1M1407 753h1M1407 754h1M1407 755h1M1407 756h1M1407 757h1M1407 758h1M1407 759h1M1407 760h1M1407 761h1M1407 762h1M1407 763h1M1407 764h1M1407 765h1M1407 766h1M1407 767h1M1408 677h1M1408 687h1M1408 706h1M1408 709h1M1408 711h1M1408 718h1M1408 729h1M1408 731h1M1408 732h1M1408 734h1M1408 736h1M1408 737h1M1408 739h1M1408 742h1M1408 743h1M1408 745h1M1408 747h1M1408 750h1M1408 751h1M1408 752h1M1408 753h1M1408 754h1M1408 755h1M1408 756h1M1408 757h1M1408 758h1M1408 759h1M1408 760h1M1408 761h1M1408 762h1M1408 763h1M1408 764h1M1408 765h1M1408 766h1M1408 767h1M1409 699h1M1409 707h1M1409 711h1M1409 719h1M1409 721h1M1409 722h1M1409 723h1M1409 726h1M1409 727h1M1409 729h1M1409 733h1M1409 735h1M1409 736h1M1409 737h1M1409 738h1M1409 740h1M1409 741h1M1409 742h1M1409 744h1M1409 746h1M1409 747h1M1409 748h1M1409 749h1M1409 750h1M1409 751h1M1409 752h1M1409 753h1M1409 754h1M1409 755h1M1409 756h1M1409 757h1M1409 758h1M1409 759h1M1409 760h1M1409 761h1M1409 762h1M1409 763h1M1409 764h1M1409 765h1M1409 766h1M1409 767h1M1409 768h1M1410 695h1M1410 704h1M1410 707h1M1410 712h1M1410 717h1M1410 718h1M1410 719h1M1410 720h1M1410 723h1M1410 724h1M1410 725h1M1410 726h1M1410 732h1M1410 734h1M1410 735h1M1410 736h1M1410 739h1M1410 742h1M1410 743h1M1410 744h1M1410 745h1M1410 746h1M1410 748h1M1410 749h1M1410 751h1M1410 752h1M1410 753h1M1410 754h1M1410 755h1M1410 756h1M1410 757h1M1410 758h1M1410 759h1M1410 760h1M1410 761h1M1410 762h1M1410 763h1M1410 764h1M1410 765h1M1410 766h1M1410 767h1M1410 768h1M1411 683h1M1411 714h1M1411 715h1M1411 718h1M1411 720h1M1411 721h1M1411 724h1M1411 727h1M1411 728h1M1411 731h1M1411 732h1M1411 733h1M1411 734h1M1411 738h1M1411 740h1M1411 741h1M1411 742h1M1411 743h1M1411 745h1M1411 746h1M1411 748h1M1411 749h1M1411 750h1M1411 751h1M1411 752h1M1411 753h1M1411 754h1M1411 755h1M1411 756h1M1411 757h1M1411 758h1M1411 759h1M1411 760h1M1411 761h1M1411 762h1M1411 763h1M1411 764h1M1411 765h1M1411 766h1M1411 767h1M1411 768h1M1412 710h1M1412 728h1M1412 730h1M1412 733h1M1412 735h1M1412 736h1M1412 739h1M1412 740h1M1412 743h1M1412 744h1M1412 746h1M1412 749h1M1412 751h1M1412 752h1M1412 753h1M1412 754h1M1412 755h1M1412 756h1M1412 757h1M1412 758h1M1412 759h1M1412 760h1M1412 761h1M1412 762h1M1412 763h1M1412 764h1M1412 765h1M1412 766h1M1412 767h1M1412 768h1M1413 676h1M1413 685h1M1413 695h1M1413 705h1M1413 706h1M1413 707h1M1413 711h1M1413 719h1M1413 720h1M1413 723h1M1413 726h1M1413 729h1M1413 731h1M1413 735h1M1413 736h1M1413 737h1M1413 738h1M1413 740h1M1413 741h1M1413 742h1M1413 745h1M1413 746h1M1413 748h1M1413 751h1M1413 752h1M1413 753h1M1413 754h1M1413 755h1M1413 756h1M1413 757h1M1413 758h1M1413 759h1M1413 760h1M1413 761h1M1413 762h1M1413 763h1M1413 764h1M1413 765h1M1413 766h1M1413 767h1M1413 768h1M1414 670h1M1414 696h1M1414 706h1M1414 708h1M1414 710h1M1414 714h1M1414 717h1M1414 722h1M1414 726h1M1414 730h1M1414 732h1M1414 733h1M1414 737h1M1414 740h1M1414 741h1M1414 742h1M1414 743h1M1414 744h1M1414 745h1M1414 747h1M1414 748h1M1414 749h1M1414 750h1M1414 751h1M1414 752h1M1414 753h1M1414 754h1M1414 755h1M1414 756h1M1414 757h1M1414 758h1M1414 759h1M1414 760h1M1414 761h1M1414 762h1M1414 763h1M1414 764h1M1414 765h1M1414 766h1M1414 767h1M1414 769h1M1415 670h1M1415 722h1M1415 724h1M1415 725h1M1415 726h1M1415 729h1M1415 731h1M1415 733h1M1415 736h1M1415 738h1M1415 739h1M1415 742h1M1415 743h1M1415 744h1M1415 745h1M1415 749h1M1415 751h1M1415 753h1M1415 754h1M1415 755h1M1415 756h1M1415 757h1M1415 758h1M1415 759h1M1415 760h1M1415 761h1M1415 762h1M1415 763h1M1415 764h1M1415 765h1M1415 766h1M1415 767h1M1415 768h1M1416 690h1M1416 693h1M1416 697h1M1416 703h1M1416 704h1M1416 711h1M1416 712h1M1416 718h1M1416 720h1M1416 722h1M1416 728h1M1416 730h1M1416 734h1M1416 735h1M1416 737h1M1416 738h1M1416 739h1M1416 741h1M1416 747h1M1416 748h1M1416 749h1M1416 750h1M1416 751h1M1416 752h1M1416 753h1M1416 754h1M1416 755h1M1416 756h1M1416 757h1M1416 758h1M1416 759h1M1416 760h1M1416 761h1M1416 762h1M1416 763h1M1416 764h1M1416 765h1M1416 766h1M1416 767h1M1416 768h1M1417 674h1M1417 711h1M1417 717h1M1417 719h1M1417 727h1M1417 729h1M1417 730h1M1417 731h1M1417 733h1M1417 735h1M1417 736h1M1417 738h1M1417 739h1M1417 740h1M1417 741h1M1417 744h1M1417 745h1M1417 747h1M1417 748h1M1417 749h1M1417 750h1M1417 751h1M1417 752h1M1417 753h1M1417 754h1M1417 755h1M1417 756h1M1417 757h1M1417 758h1M1417 759h1M1417 760h1M1417 761h1M1417 762h1M1417 763h1M1417 764h1M1417 765h1M1417 766h1M1417 767h1M1417 768h1M1418 692h1M1418 704h1M1418 707h1M1418 708h1M1418 712h1M1418 714h1M1418 715h1M1418 721h1M1418 723h1M1418 727h1M1418 729h1M1418 730h1M1418 731h1M1418 732h1M1418 734h1M1418 739h1M1418 741h1M1418 742h1M1418 743h1M1418 745h1M1418 748h1M1418 750h1M1418 751h1M1418 752h1M1418 754h1M1418 755h1M1418 756h1M1418 757h1M1418 758h1M1418 759h1M1418 760h1M1418 761h1M1418 762h1M1418 763h1M1418 764h1M1418 765h1M1418 766h1M1418 767h1M1419 686h1M1419 698h1M1419 710h1M1419 717h1M1419 718h1M1419 722h1M1419 730h1M1419 731h1M1419 733h1M1419 735h1M1419 737h1M1419 739h1M1419 742h1M1419 743h1M1419 749h1M1419 751h1M1419 752h1M1419 753h1M1419 754h1M1419 755h1M1419 756h1M1419 757h1M1419 758h1M1419 759h1M1419 760h1M1419 761h1M1419 762h1M1419 763h1M1419 764h1M1419 765h1M1419 766h1M1419 767h1M1419 768h1M1420 709h1M1420 710h1M1420 711h1M1420 726h1M1420 728h1M1420 730h1M1420 731h1M1420 733h1M1420 734h1M1420 743h1M1420 744h1M1420 745h1M1420 747h1M1420 748h1M1420 749h1M1420 750h1M1420 751h1M1420 753h1M1420 754h1M1420 755h1M1420 756h1M1420 757h1M1420 758h1M1420 759h1M1420 760h1M1420 761h1M1420 762h1M1420 763h1M1420 764h1M1420 765h1M1420 766h1M1420 767h1M1420 768h1M1421 691h1M1421 706h1M1421 710h1M1421 715h1M1421 718h1M1421 720h1M1421 724h1M1421 725h1M1421 733h1M1421 735h1M1421 738h1M1421 740h1M1421 741h1M1421 745h1M1421 747h1M1421 748h1M1421 749h1M1421 750h1M1421 752h1M1421 753h1M1421 754h1M1421 755h1M1421 756h1M1421 757h1M1421 758h1M1421 759h1M1421 760h1M1421 761h1M1421 762h1M1421 763h1M1421 764h1M1421 765h1M1421 766h1M1421 767h1M1422 715h1M1422 718h1M1422 719h1M1422 720h1M1422 721h1M1422 725h1M1422 727h1M1422 729h1M1422 735h1M1422 736h1M1422 737h1M1422 738h1M1422 741h1M1422 742h1M1422 747h1M1422 748h1M1422 749h1M1422 750h1M1422 751h1M1422 752h1M1422 753h1M1422 754h1M1422 755h1M1422 756h1M1422 757h1M1422 758h1M1422 759h1M1422 760h1M1422 761h1M1422 762h1M1422 763h1M1422 764h1M1422 765h1M1422 766h1M1422 767h1M1422 768h1M1423 697h1M1423 709h1M1423 713h1M1423 718h1M1423 720h1M1423 730h1M1423 734h1M1423 735h1M1423 736h1M1423 745h1M1423 749h1M1423 750h1M1423 753h1M1423 754h1M1423 755h1M1423 756h1M1423 757h1M1423 758h1M1423 759h1M1423 760h1M1423 761h1M1423 762h1M1423 763h1M1423 764h1M1423 765h1M1423 766h1M1423 767h1M1423 768h1M1424 704h1M1424 714h1M1424 719h1M1424 729h1M1424 733h1M1424 742h1M1424 744h1M1424 746h1M1424 747h1M1424 748h1M1424 749h1M1424 750h1M1424 752h1M1424 754h1M1424 755h1M1424 756h1M1424 757h1M1424 758h1M1424 759h1M1424 760h1M1424 761h1M1424 762h1M1424 763h1M1424 764h1M1424 765h1M1424 766h1M1424 767h1M1425 704h1M1425 712h1M1425 714h1M1425 716h1M1425 719h1M1425 723h1M1425 727h1M1425 729h1M1425 732h1M1425 733h1M1425 734h1M1425 736h1M1425 742h1M1425 746h1M1425 748h1M1425 749h1M1425 750h1M1425 751h1M1425 752h1M1425 753h1M1425 754h1M1425 755h1M1425 758h1M1425 759h1M1425 760h1M1425 761h1M1425 762h1M1425 763h1M1425 764h1M1425 765h1M1425 766h1M1425 767h1M1426 672h1M1426 702h1M1426 724h1M1426 726h1M1426 735h1M1426 736h1M1426 740h1M1426 746h1M1426 748h1M1426 750h1M1426 751h1M1426 752h1M1426 753h1M1426 754h1M1426 756h1M1426 757h1M1426 758h1M1426 759h1M1426 760h1M1426 761h1M1426 762h1M1426 763h1M1426 764h1M1426 765h1M1426 766h1M1427 674h1M1427 701h1M1427 702h1M1427 705h1M1427 711h1M1427 714h1M1427 719h1M1427 722h1M1427 727h1M1427 728h1M1427 729h1M1427 730h1M1427 743h1M1427 744h1M1427 748h1M1427 750h1M1427 751h1M1427 752h1M1427 753h1M1427 754h1M1427 755h1M1427 757h1M1427 758h1M1427 759h1M1427 760h1M1427 761h1M1427 762h1M1427 763h1M1427 764h1M1427 765h1M1427 766h1M1427 767h1M1427 768h1M1428 688h1M1428 708h1M1428 714h1M1428 717h1M1428 719h1M1428 721h1M1428 725h1M1428 727h1M1428 729h1M1428 732h1M1428 735h1M1428 737h1M1428 743h1M1428 748h1M1428 749h1M1428 753h1M1428 754h1M1428 755h1M1428 756h1M1428 758h1M1428 759h1M1428 760h1M1428 761h1M1428 762h1M1428 763h1M1428 764h1M1428 765h1M1428 766h1M1428 767h1M1429 726h1M1429 731h1M1429 737h1M1429 738h1M1429 740h1M1429 741h1M1429 745h1M1429 749h1M1429 750h1M1429 751h1M1429 752h1M1429 753h1M1429 754h1M1429 755h1M1429 757h1M1429 758h1M1429 759h1M1429 761h1M1429 762h1M1429 763h1M1429 764h1M1429 765h1M1429 766h1M1429 767h1M1430 684h1M1430 693h1M1430 716h1M1430 718h1M1430 729h1M1430 731h1M1430 734h1M1430 743h1M1430 747h1M1430 748h1M1430 749h1M1430 750h1M1430 751h1M1430 752h1M1430 754h1M1430 755h1M1430 756h1M1430 757h1M1430 758h1M1430 759h1M1430 760h1M1430 761h1M1430 762h1M1430 763h1M1430 764h1M1430 765h1M1430 766h1M1431 687h1M1431 709h1M1431 717h1M1431 719h1M1431 722h1M1431 725h1M1431 728h1M1431 735h1M1431 748h1M1431 750h1M1431 751h1M1431 752h1M1431 753h1M1431 755h1M1431 756h1M1431 757h1M1431 758h1M1431 759h1M1431 760h1M1431 761h1M1431 762h1M1431 763h1M1431 764h1M1431 765h1M1431 766h1M1431 767h1M1432 712h1M1432 728h1M1432 731h1M1432 732h1M1432 736h1M1432 741h1M1432 745h1M1432 746h1M1432 750h1M1432 751h1M1432 755h1M1432 758h1M1432 759h1M1432 760h1M1432 761h1M1432 763h1M1432 764h1M1432 765h1M1432 766h1M1432 767h1M1433 705h1M1433 710h1M1433 718h1M1433 722h1M1433 732h1M1433 738h1M1433 739h1M1433 741h1M1433 744h1M1433 747h1M1433 748h1M1433 749h1M1433 750h1M1433 751h1M1433 754h1M1433 755h1M1433 759h1M1433 760h1M1433 761h1M1433 762h1M1433 763h1M1433 764h1M1433 765h1M1434 707h1M1434 716h1M1434 733h1M1434 736h1M1434 745h1M1434 751h1M1434 753h1M1434 755h1M1434 757h1M1434 758h1M1434 759h1M1434 760h1M1434 761h1M1434 762h1M1434 763h1M1434 764h1M1434 765h1M1434 766h1M1435 709h1M1435 711h1M1435 716h1M1435 723h1M1435 725h1M1435 729h1M1435 730h1M1435 731h1M1435 732h1M1435 737h1M1435 739h1M1435 740h1M1435 741h1M1435 751h1M1435 752h1M1435 753h1M1435 754h1M1435 755h1M1435 756h1M1435 757h1M1435 758h1M1435 759h1M1435 760h1M1435 761h1M1435 762h1M1435 765h1M1436 704h1M1436 715h1M1436 723h1M1436 739h1M1436 744h1M1436 745h1M1436 747h1M1436 748h1M1436 751h1M1436 752h1M1436 754h1M1436 755h1M1436 757h1M1436 758h1M1436 759h1M1436 760h1M1436 761h1M1436 762h1M1436 764h1M1436 765h1M1436 767h1M1437 696h1M1437 706h1M1437 715h1M1437 734h1M1437 745h1M1437 748h1M1437 750h1M1437 753h1M1437 754h1M1437 755h1M1437 756h1M1437 757h1M1437 759h1M1437 762h1M1437 763h1M1437 765h1M1437 767h1M1438 741h1M1438 751h1M1438 753h1M1438 756h1M1438 757h1M1438 759h1M1438 760h1M1438 761h1M1438 762h1M1438 763h1M1438 764h1M1438 765h1M1438 766h1M1438 767h1M1439 701h1M1439 713h1M1439 715h1M1439 742h1M1439 748h1M1439 753h1M1439 755h1M1439 757h1M1439 759h1M1439 762h1M1439 763h1M1439 764h1M1440 717h1M1440 739h1M1440 749h1M1440 750h1M1440 752h1M1440 754h1M1440 755h1M1440 756h1M1440 758h1M1440 760h1M1440 763h1M1440 766h1M1441 712h1M1441 741h1M1441 751h1M1441 752h1M1441 756h1M1441 757h1M1441 760h1M1441 761h1M1441 762h1M1442 722h1M1442 745h1M1442 747h1M1442 748h1M1442 754h1M1442 757h1M1442 759h1M1442 760h1M1442 762h1M1442 765h1M1443 721h1M1443 737h1M1443 749h1M1443 760h1M1443 762h1M1443 764h1M1444 741h1M1444 749h1M1444 756h1M1444 757h1M1444 760h1M1444 761h1M1444 763h1M1444 764h1M1444 765h1M1444 766h1M1445 737h1M1445 763h1M1447 754h1M1450 764h1M1455 754h1M1459 752h1M1461 754h1M1463 755h1" stroke="#000" stroke-width="1" fill="none" shape-rendering="crispEdges" transform="translate(0 .5)"/>
<path d="M1402 773h1M1409 772h1M1413 776h1M1407 769h1M1409 772h1M1423 771h1M1396 775h1M1403 777h1M1428 771h1M1387 769h1M1407 770h1M1393 782h1M1415 781h1M1406 777h1M1425 776h1M1414 769h1M1410 774h1M1422 785h1M1396 772h1M1403 779h1M1416 779h1M1422 776h1M1381 773h1M1409 770h1M1390 770h1M1396 783h1M1376 770h1M1415 780h1M1393 782h1M1406 779h1M1417 773h1M1391 771h1M1412 769h1M1391 769h1M1371 774h1M1403 773h1M1414 779h1M1377 773h1M1411 779h1M1389 772h1" stroke="#b5b5b5" stroke-width="1" fill="none" shape-rendering="crispEdges" transform="translate(0 .5)"/>
<path d="M1493.1 632.8H1314.3V814.1H1493.1" fill="none" stroke="#8a8a8a" stroke-width="1"/>
<rect x="1380.4" y="640.3" width="68.4" height="95.1" fill="none" stroke="#222" stroke-width="1"/>
<text x="1316.8" y="666.8" font-size="22" fill="#a23fa2" font-family="DejaVu Sans, Liberation Sans, sans-serif">13,2</text>
<text x="737" y="660.1" font-size="15.5" text-anchor="end">10<tspan dy="-10.2" font-size="14">5</tspan></text>
<text x="737" y="703.1" font-size="15.5" text-anchor="end">10<tspan dy="-10.2" font-size="14">4</tspan></text>
<text x="737" y="752.9" font-size="15.5" text-anchor="end">10<tspan dy="-10.2" font-size="14">3</tspan></text>
<text x="737" y="812.3" font-size="15.5" text-anchor="end">-10<tspan dy="-10.2" font-size="14">3</tspan></text>
<text x="728" y="780.4" font-size="15.5" text-anchor="end">0</text>
<path d="M743.5 742h5M745.5 727.2h3M745.5 718.5h3M745.5 712.4h3M745.5 707.6h3M745.5 703.7h3M745.5 700.4h3M745.5 697.6h3M745.5 695.1h3M743.5 692.8h5M745.5 679.9h3M745.5 672.3h3M745.5 666.9h3M745.5 662.7h3M745.5 659.3h3M745.5 656.5h3M745.5 654h3M745.5 651.8h3M743.5 649.8h5M743.5 802h5M743.5 772.2h5M745.5 753.6h3M745.5 750.7h3M745.5 748.6h3M745.5 747h3M745.5 745.7h3M745.5 744.6h3M745.5 743.6h3M745.5 742.8h3" fill="none" stroke="#333" stroke-width="0.8"/>
<rect x="743.5" y="768.5" width="4.5" height="7.5" fill="#111"/>
<path d="M818 814.1v5M832.6 814.1v3M841.2 814.1v3M847.3 814.1v3M852 814.1v3M855.8 814.1v3M859.1 814.1v3M861.9 814.1v3M864.4 814.1v3M866.6 814.1v5M879.8 814.1v3M887.6 814.1v3M893.1 814.1v3M897.4 814.1v3M900.8 814.1v3M903.8 814.1v3M906.3 814.1v3M908.6 814.1v3M910.6 814.1v5M788.5 814.1v5M758.9 814.1v5M806.5 814.1v3M769.9 814.1v3M809.4 814.1v3M767 814.1v3M811.5 814.1v3M765 814.1v3M813.1 814.1v3M763.4 814.1v3M814.4 814.1v3M762.1 814.1v3M815.5 814.1v3M761 814.1v3M816.4 814.1v3M760.1 814.1v3M817.3 814.1v3M759.2 814.1v3" fill="none" stroke="#333" stroke-width="0.8"/>
<rect x="784.5" y="814.6" width="7.5" height="4" fill="#111"/>
<clipPath id="cpc"><rect x="740" y="815" width="200" height="23.8"/></clipPath><g clip-path="url(#cpc)">
<text x="751.7" y="842.1" font-size="16.5">-10<tspan dy="-10.9" font-size="14.8">3</tspan></text>
<text x="785.5" y="842.1" font-size="16.5">0</text>
<text x="813.6" y="842.1" font-size="16.5">10<tspan dy="-10.9" font-size="14.8">3</tspan></text>
<text x="862.8" y="842.1" font-size="16.5">10<tspan dy="-10.9" font-size="14.8">4</tspan></text>
<text x="902.9" y="842.1" font-size="16.5">10<tspan dy="-10.9" font-size="14.8">5</tspan></text>
</g>
<text font-size="30.5" text-anchor="middle" letter-spacing="-0.3" transform="translate(698.5 766) rotate(-90)">IL17A PE</text>
<line x1="688.5" y1="667" x2="688.5" y2="632" stroke="#000" stroke-width="2"/>
<polygon points="688.5,613 697.5,632 679.5,632" fill="#000"/>
<text x="767.3" y="871.5" font-size="30.2">CD4 BV711</text>
<line x1="942.7" y1="859.5" x2="1470" y2="859.5" stroke="#000" stroke-width="2"/>
<polygon points="1490,859.5 1470,869.5 1470,849.5" fill="#000"/>
<line x1="1674.2" y1="560.3" x2="1674.2" y2="843.2" stroke="#000" stroke-width="2.6"/>
<line x1="1668.7" y1="841.9" x2="1674.2" y2="841.9" stroke="#000" stroke-width="2.6"/>
<text x="1659.7" y="853.2" font-size="31.5" text-anchor="end">0</text>
<line x1="1668.7" y1="785.8" x2="1674.2" y2="785.8" stroke="#000" stroke-width="2.6"/>
<text x="1659.7" y="797.1" font-size="31.5" text-anchor="end">10</text>
<line x1="1668.7" y1="729.8" x2="1674.2" y2="729.8" stroke="#000" stroke-width="2.6"/>
<text x="1659.7" y="741.1" font-size="31.5" text-anchor="end">20</text>
<line x1="1668.7" y1="673.7" x2="1674.2" y2="673.7" stroke="#000" stroke-width="2.6"/>
<text x="1659.7" y="685" font-size="31.5" text-anchor="end">30</text>
<line x1="1668.7" y1="617.7" x2="1674.2" y2="617.7" stroke="#000" stroke-width="2.6"/>
<text x="1659.7" y="628.9" font-size="31.5" text-anchor="end">40</text>
<line x1="1668.7" y1="561.6" x2="1674.2" y2="561.6" stroke="#000" stroke-width="2.6"/>
<text x="1659.7" y="572.9" font-size="31.5" text-anchor="end">50</text>
<line x1="1668.7" y1="841.9" x2="1856" y2="841.9" stroke="#000" stroke-width="2.6"/>
<line x1="1701.5" y1="841.9" x2="1701.5" y2="846.9" stroke="#000" stroke-width="2.6"/>
<line x1="1743.6" y1="841.9" x2="1743.6" y2="846.9" stroke="#000" stroke-width="2.6"/>
<line x1="1785.4" y1="841.9" x2="1785.4" y2="846.9" stroke="#000" stroke-width="2.6"/>
<line x1="1827.2" y1="841.9" x2="1827.2" y2="846.9" stroke="#000" stroke-width="2.6"/>
<text font-size="35.3" text-anchor="middle" transform="translate(1589.5 698) rotate(-90)">IL17A + cells (%)</text>
<rect x="1687.9" y="662.5" width="27.6" height="178.4" fill="#fc8077"/>
<rect x="1729.7" y="691" width="27.6" height="149.9" fill="#fc8077"/>
<rect x="1771.8" y="767" width="27.6" height="73.9" fill="#0a5396"/>
<rect x="1813.6" y="770.8" width="27.6" height="70.1" fill="#0a5396"/>
<line x1="1701.7" y1="630.5" x2="1701.7" y2="693.8" stroke="#000" stroke-width="2.5"/>
<line x1="1693.2" y1="630.5" x2="1710.2" y2="630.5" stroke="#000" stroke-width="2.5"/>
<line x1="1693.2" y1="693.8" x2="1710.2" y2="693.8" stroke="#000" stroke-width="2.5"/>
<line x1="1743.5" y1="670.4" x2="1743.5" y2="711.6" stroke="#000" stroke-width="2.5"/>
<line x1="1735" y1="670.4" x2="1752" y2="670.4" stroke="#000" stroke-width="2.5"/>
<line x1="1735" y1="711.6" x2="1752" y2="711.6" stroke="#000" stroke-width="2.5"/>
<path d="M1695.9 604.5a5.6 5.6 0 1 0 11.2 0a5.6 5.6 0 1 0 -11.2 0M1695.9 671.7a5.6 5.6 0 1 0 11.2 0a5.6 5.6 0 1 0 -11.2 0M1695.9 712.8a5.6 5.6 0 1 0 11.2 0a5.6 5.6 0 1 0 -11.2 0M1729.8 667.9a5.6 5.6 0 1 0 11.2 0a5.6 5.6 0 1 0 -11.2 0M1746.5 673.6a5.6 5.6 0 1 0 11.2 0a5.6 5.6 0 1 0 -11.2 0M1738 732.8a5.6 5.6 0 1 0 11.2 0a5.6 5.6 0 1 0 -11.2 0M1771.6 771.7a5.6 5.6 0 1 0 11.2 0a5.6 5.6 0 1 0 -11.2 0M1779.8 762.2a5.6 5.6 0 1 0 11.2 0a5.6 5.6 0 1 0 -11.2 0M1788.4 765.4a5.6 5.6 0 1 0 11.2 0a5.6 5.6 0 1 0 -11.2 0M1813.1 771.7a5.6 5.6 0 1 0 11.2 0a5.6 5.6 0 1 0 -11.2 0M1821.6 767.6a5.6 5.6 0 1 0 11.2 0a5.6 5.6 0 1 0 -11.2 0M1830.2 770.2a5.6 5.6 0 1 0 11.2 0a5.6 5.6 0 1 0 -11.2 0" fill="#000"/>
<circle cx="1699.9" cy="871.5" r="13.3" fill="#c4c4c4"/>
<circle cx="1744.2" cy="871.5" r="13.3" fill="#9b1f9b"/>
<circle cx="1787" cy="871.5" r="13.3" fill="#c4c4c4"/>
<circle cx="1831" cy="871.5" r="13.3" fill="#9b1f9b"/>
<rect x="1874.7" y="576" width="33.3" height="21.2" fill="#fc8077"/>
<rect x="1874.7" y="607.7" width="33.3" height="21.5" fill="#0a5396"/>
<text x="1920.6" y="594" font-size="29.6">Control</text>
<text x="1921.5" y="629.8" font-size="29"><tspan font-style="italic">Opa1</tspan><tspan dy="-10.1" font-size="22.6">CD4Cre</tspan></text>
<circle cx="1888.3" cy="696.4" r="13.6" fill="#c4c4c4"/>
<circle cx="1888.3" cy="734.4" r="13.6" fill="#9b1f9b"/>
<text x="1922.2" y="697.4" font-size="30" font-style="italic">gCtl</text>
<text x="1921" y="740.5" font-size="30" font-style="italic">gPrkaa1</text>
<text x="-3" y="962.6" font-size="59">d</text>
<text x="242.5" y="1005.8" font-size="38.7" text-anchor="middle">pS6</text>
<text x="509.5" y="1005.8" font-size="38.7" text-anchor="middle">p4EBP1</text>
<text font-size="40.5" text-anchor="middle" transform="translate(55 1190) rotate(-90)">gMFI</text>
<line x1="150.4" y1="1049.8" x2="150.4" y2="1340.4" stroke="#000" stroke-width="2.6"/>
<line x1="145.9" y1="1339.1" x2="150.4" y2="1339.1" stroke="#000" stroke-width="2.6"/>
<text x="136.9" y="1350.6" font-size="32" text-anchor="end">0</text>
<line x1="145.9" y1="1267.1" x2="150.4" y2="1267.1" stroke="#000" stroke-width="2.6"/>
<text x="136.9" y="1278.6" font-size="32" text-anchor="end">200</text>
<line x1="145.9" y1="1195.1" x2="150.4" y2="1195.1" stroke="#000" stroke-width="2.6"/>
<text x="136.9" y="1206.6" font-size="32" text-anchor="end">400</text>
<line x1="145.9" y1="1123.1" x2="150.4" y2="1123.1" stroke="#000" stroke-width="2.6"/>
<text x="136.9" y="1134.6" font-size="32" text-anchor="end">600</text>
<line x1="145.9" y1="1051.1" x2="150.4" y2="1051.1" stroke="#000" stroke-width="2.6"/>
<text x="136.9" y="1062.6" font-size="32" text-anchor="end">800</text>
<line x1="145.9" y1="1339.1" x2="338" y2="1339.1" stroke="#000" stroke-width="2.6"/>
<rect x="165.3" y="1198.7" width="28.9" height="139.4" fill="#fc8077"/>
<line x1="179.8" y1="1339.1" x2="179.8" y2="1344.1" stroke="#000" stroke-width="2.6"/>
<rect x="208.7" y="1202.3" width="28.9" height="135.8" fill="#0a5396"/>
<line x1="223.2" y1="1339.1" x2="223.2" y2="1344.1" stroke="#000" stroke-width="2.6"/>
<rect x="251.6" y="1179.7" width="28.9" height="158.4" fill="#fc8077"/>
<line x1="266.1" y1="1339.1" x2="266.1" y2="1344.1" stroke="#000" stroke-width="2.6"/>
<rect x="294.9" y="1183.3" width="28.9" height="154.8" fill="#0a5396"/>
<line x1="309.4" y1="1339.1" x2="309.4" y2="1344.1" stroke="#000" stroke-width="2.6"/>
<line x1="179.8" y1="1182" x2="179.8" y2="1215.8" stroke="#000" stroke-width="2.5"/>
<line x1="171.8" y1="1182" x2="187.8" y2="1182" stroke="#000" stroke-width="2.5"/>
<line x1="171.8" y1="1215.8" x2="187.8" y2="1215.8" stroke="#000" stroke-width="2.5"/>
<line x1="223.2" y1="1193.3" x2="223.2" y2="1209" stroke="#000" stroke-width="2.5"/>
<line x1="215.2" y1="1193.3" x2="231.2" y2="1193.3" stroke="#000" stroke-width="2.5"/>
<line x1="215.2" y1="1209" x2="231.2" y2="1209" stroke="#000" stroke-width="2.5"/>
<line x1="266.1" y1="1171.6" x2="266.1" y2="1186.5" stroke="#000" stroke-width="2.5"/>
<line x1="258.1" y1="1171.6" x2="274.1" y2="1171.6" stroke="#000" stroke-width="2.5"/>
<line x1="258.1" y1="1186.5" x2="274.1" y2="1186.5" stroke="#000" stroke-width="2.5"/>
<line x1="309.4" y1="1179.7" x2="309.4" y2="1186.5" stroke="#000" stroke-width="2.5"/>
<line x1="301.4" y1="1179.7" x2="317.4" y2="1179.7" stroke="#000" stroke-width="2.5"/>
<line x1="301.4" y1="1186.5" x2="317.4" y2="1186.5" stroke="#000" stroke-width="2.5"/>
<path d="M173.8 1130.9a6 6 0 1 0 12 0a6 6 0 1 0 -12 0M173.8 1149a6 6 0 1 0 12 0a6 6 0 1 0 -12 0M173.8 1163.9a6 6 0 1 0 12 0a6 6 0 1 0 -12 0M173.8 1178.4a6 6 0 1 0 12 0a6 6 0 1 0 -12 0M164.7 1245.2a6 6 0 1 0 12 0a6 6 0 1 0 -12 0M171.1 1242a6 6 0 1 0 12 0a6 6 0 1 0 -12 0M176.9 1243.4a6 6 0 1 0 12 0a6 6 0 1 0 -12 0M182.8 1242.5a6 6 0 1 0 12 0a6 6 0 1 0 -12 0M217.1 1167.1a6 6 0 1 0 12 0a6 6 0 1 0 -12 0M217.1 1185.1a6 6 0 1 0 12 0a6 6 0 1 0 -12 0M209 1194.2a6 6 0 1 0 12 0a6 6 0 1 0 -12 0M225.3 1192.4a6 6 0 1 0 12 0a6 6 0 1 0 -12 0M217.1 1205.5a6 6 0 1 0 12 0a6 6 0 1 0 -12 0M209 1224.9a6 6 0 1 0 12 0a6 6 0 1 0 -12 0M217.1 1220.4a6 6 0 1 0 12 0a6 6 0 1 0 -12 0M225.3 1223.5a6 6 0 1 0 12 0a6 6 0 1 0 -12 0M251.5 1157.1a6 6 0 1 0 12 0a6 6 0 1 0 -12 0M257.3 1166.2a6 6 0 1 0 12 0a6 6 0 1 0 -12 0M268.2 1167.5a6 6 0 1 0 12 0a6 6 0 1 0 -12 0M263.2 1179.7a6 6 0 1 0 12 0a6 6 0 1 0 -12 0M251.5 1191a6 6 0 1 0 12 0a6 6 0 1 0 -12 0M263.2 1193.3a6 6 0 1 0 12 0a6 6 0 1 0 -12 0M257.3 1202.3a6 6 0 1 0 12 0a6 6 0 1 0 -12 0M260.5 1211.3a6 6 0 1 0 12 0a6 6 0 1 0 -12 0M303.4 1161.6a6 6 0 1 0 12 0a6 6 0 1 0 -12 0M295.3 1179.7a6 6 0 1 0 12 0a6 6 0 1 0 -12 0M307.9 1176.1a6 6 0 1 0 12 0a6 6 0 1 0 -12 0M301.1 1184.2a6 6 0 1 0 12 0a6 6 0 1 0 -12 0M312.4 1186.5a6 6 0 1 0 12 0a6 6 0 1 0 -12 0M305.7 1188.7a6 6 0 1 0 12 0a6 6 0 1 0 -12 0M299.3 1196.4a6 6 0 1 0 12 0a6 6 0 1 0 -12 0M303.4 1191a6 6 0 1 0 12 0a6 6 0 1 0 -12 0" fill="#000"/>
<circle cx="178.4" cy="1371.7" r="14" fill="#c0c0c0"/>
<circle cx="223.1" cy="1371.7" r="14" fill="#000"/>
<circle cx="267.4" cy="1371.7" r="14" fill="#c0c0c0"/>
<circle cx="312.6" cy="1371.7" r="14" fill="#000"/>
<line x1="421" y1="1049.7" x2="421" y2="1340.4" stroke="#000" stroke-width="2.6"/>
<line x1="416.5" y1="1339.1" x2="421" y2="1339.1" stroke="#000" stroke-width="2.6"/>
<text x="407.5" y="1350.6" font-size="32" text-anchor="end">0</text>
<line x1="416.5" y1="1243.1" x2="421" y2="1243.1" stroke="#000" stroke-width="2.6"/>
<text x="407.5" y="1254.5" font-size="32" text-anchor="end">100</text>
<line x1="416.5" y1="1147" x2="421" y2="1147" stroke="#000" stroke-width="2.6"/>
<text x="407.5" y="1158.5" font-size="32" text-anchor="end">200</text>
<line x1="416.5" y1="1051" x2="421" y2="1051" stroke="#000" stroke-width="2.6"/>
<text x="407.5" y="1062.5" font-size="32" text-anchor="end">300</text>
<line x1="416.5" y1="1339.1" x2="608.5" y2="1339.1" stroke="#000" stroke-width="2.6"/>
<rect x="435.9" y="1203.2" width="28.9" height="134.9" fill="#fc8077"/>
<line x1="450.4" y1="1339.1" x2="450.4" y2="1344.1" stroke="#000" stroke-width="2.6"/>
<rect x="479.2" y="1211.3" width="28.9" height="126.8" fill="#0a5396"/>
<line x1="493.7" y1="1339.1" x2="493.7" y2="1344.1" stroke="#000" stroke-width="2.6"/>
<rect x="522.1" y="1189.7" width="28.9" height="148.4" fill="#fc8077"/>
<line x1="536.6" y1="1339.1" x2="536.6" y2="1344.1" stroke="#000" stroke-width="2.6"/>
<rect x="565.5" y="1156.2" width="28.9" height="181.9" fill="#0a5396"/>
<line x1="580" y1="1339.1" x2="580" y2="1344.1" stroke="#000" stroke-width="2.6"/>
<line x1="450.4" y1="1184.2" x2="450.4" y2="1222.6" stroke="#000" stroke-width="2.5"/>
<line x1="442.4" y1="1184.2" x2="458.4" y2="1184.2" stroke="#000" stroke-width="2.5"/>
<line x1="442.4" y1="1222.6" x2="458.4" y2="1222.6" stroke="#000" stroke-width="2.5"/>
<line x1="493.7" y1="1192.4" x2="493.7" y2="1230.7" stroke="#000" stroke-width="2.5"/>
<line x1="485.7" y1="1192.4" x2="501.7" y2="1192.4" stroke="#000" stroke-width="2.5"/>
<line x1="485.7" y1="1230.7" x2="501.7" y2="1230.7" stroke="#000" stroke-width="2.5"/>
<line x1="536.6" y1="1169.8" x2="536.6" y2="1209" stroke="#000" stroke-width="2.5"/>
<line x1="528.6" y1="1169.8" x2="544.6" y2="1169.8" stroke="#000" stroke-width="2.5"/>
<line x1="528.6" y1="1209" x2="544.6" y2="1209" stroke="#000" stroke-width="2.5"/>
<line x1="580" y1="1140" x2="580" y2="1171.6" stroke="#000" stroke-width="2.5"/>
<line x1="572" y1="1140" x2="588" y2="1140" stroke="#000" stroke-width="2.5"/>
<line x1="572" y1="1171.6" x2="588" y2="1171.6" stroke="#000" stroke-width="2.5"/>
<path d="M444.3 1153.5a6 6 0 1 0 12 0a6 6 0 1 0 -12 0M435.3 1163a6 6 0 1 0 12 0a6 6 0 1 0 -12 0M453.3 1163.9a6 6 0 1 0 12 0a6 6 0 1 0 -12 0M439.8 1253.3a6 6 0 1 0 12 0a6 6 0 1 0 -12 0M449.3 1253.3a6 6 0 1 0 12 0a6 6 0 1 0 -12 0M444.3 1266a6 6 0 1 0 12 0a6 6 0 1 0 -12 0M487.7 1141.3a6 6 0 1 0 12 0a6 6 0 1 0 -12 0M487.7 1163.9a6 6 0 1 0 12 0a6 6 0 1 0 -12 0M487.7 1182a6 6 0 1 0 12 0a6 6 0 1 0 -12 0M487.7 1206.8a6 6 0 1 0 12 0a6 6 0 1 0 -12 0M478.6 1252a6 6 0 1 0 12 0a6 6 0 1 0 -12 0M495.8 1263.3a6 6 0 1 0 12 0a6 6 0 1 0 -12 0M478.6 1268.7a6 6 0 1 0 12 0a6 6 0 1 0 -12 0M530.6 1130a6 6 0 1 0 12 0a6 6 0 1 0 -12 0M521.6 1154.9a6 6 0 1 0 12 0a6 6 0 1 0 -12 0M539.6 1150.4a6 6 0 1 0 12 0a6 6 0 1 0 -12 0M530.6 1167.5a6 6 0 1 0 12 0a6 6 0 1 0 -12 0M521.6 1220.4a6 6 0 1 0 12 0a6 6 0 1 0 -12 0M539.6 1230.3a6 6 0 1 0 12 0a6 6 0 1 0 -12 0M530.6 1271.4a6 6 0 1 0 12 0a6 6 0 1 0 -12 0M573.9 1089.4a6 6 0 1 0 12 0a6 6 0 1 0 -12 0M573.9 1119.6a6 6 0 1 0 12 0a6 6 0 1 0 -12 0M573.9 1137.7a6 6 0 1 0 12 0a6 6 0 1 0 -12 0M573.9 1154a6 6 0 1 0 12 0a6 6 0 1 0 -12 0M565.4 1189.6a6 6 0 1 0 12 0a6 6 0 1 0 -12 0M582.5 1190.1a6 6 0 1 0 12 0a6 6 0 1 0 -12 0M573.9 1211.3a6 6 0 1 0 12 0a6 6 0 1 0 -12 0" fill="#000"/>
<circle cx="448.5" cy="1372.6" r="14" fill="#c0c0c0"/>
<circle cx="493.7" cy="1372.6" r="14" fill="#000"/>
<circle cx="537.5" cy="1372.6" r="14" fill="#c0c0c0"/>
<circle cx="583.6" cy="1372.6" r="14" fill="#000"/>
<rect x="644" y="1085.8" width="39.4" height="29.3" fill="#fc8077"/>
<rect x="644" y="1117.8" width="39.4" height="29.4" fill="#0a5396"/>
<text x="694.2" y="1105.2" font-size="27">Control</text>
<text x="695" y="1142.2" font-size="26"><tspan font-style="italic">Opa1</tspan><tspan dy="-9.1" font-size="20.3">CD4Cre</tspan></text>
<circle cx="666.2" cy="1184.2" r="17" fill="#c0c0c0"/>
<circle cx="666.2" cy="1221.7" r="17" fill="#000"/>
<text x="700" y="1189.6" font-size="26" font-style="italic">gCtl</text>
<text x="700" y="1231.7" font-size="26" font-style="italic">gStk11</text>
<text x="830" y="962.5" font-size="59">e</text>
<text x="1075.7" y="1013" font-size="32.5" text-anchor="middle">Control</text>
<line x1="1008.1" y1="1031.1" x2="1160.3" y2="1031.1" stroke="#000" stroke-width="2.6"/>
<text x="1180.8" y="1011.4" font-size="32"><tspan font-style="italic">Opa1</tspan><tspan dy="-11.2" font-size="25">CD4Cre</tspan></text>
<line x1="1179.9" y1="1030.5" x2="1332.1" y2="1030.5" stroke="#000" stroke-width="2.6"/>
<line x1="982.3" y1="1050.3" x2="982.3" y2="1341.2" stroke="#000" stroke-width="2.6"/>
<line x1="976.8" y1="1339.9" x2="982.3" y2="1339.9" stroke="#000" stroke-width="2.6"/>
<text x="967.8" y="1351.2" font-size="31.5" text-anchor="end">0</text>
<line x1="976.8" y1="1267.8" x2="982.3" y2="1267.8" stroke="#000" stroke-width="2.6"/>
<text x="967.8" y="1279.1" font-size="31.5" text-anchor="end">10</text>
<line x1="976.8" y1="1195.7" x2="982.3" y2="1195.7" stroke="#000" stroke-width="2.6"/>
<text x="967.8" y="1207" font-size="31.5" text-anchor="end">20</text>
<line x1="976.8" y1="1123.7" x2="982.3" y2="1123.7" stroke="#000" stroke-width="2.6"/>
<text x="967.8" y="1134.9" font-size="31.5" text-anchor="end">30</text>
<line x1="976.8" y1="1051.6" x2="982.3" y2="1051.6" stroke="#000" stroke-width="2.6"/>
<text x="967.8" y="1062.9" font-size="31.5" text-anchor="end">40</text>
<line x1="976.8" y1="1339.9" x2="1351" y2="1339.9" stroke="#000" stroke-width="2.6"/>
<line x1="1024.2" y1="1339.9" x2="1024.2" y2="1344.9" stroke="#000" stroke-width="2.6"/>
<line x1="1119.4" y1="1339.9" x2="1119.4" y2="1344.9" stroke="#000" stroke-width="2.6"/>
<line x1="1214.9" y1="1339.9" x2="1214.9" y2="1344.9" stroke="#000" stroke-width="2.6"/>
<line x1="1309.1" y1="1339.9" x2="1309.1" y2="1344.9" stroke="#000" stroke-width="2.6"/>
<text font-size="34.5" text-anchor="middle" transform="translate(896 1189) rotate(-90)">IL17A + cells (%)</text>
<rect x="994.9" y="1177.8" width="23.6" height="161.1" fill="#d3d3d3"/>
<rect x="1030.5" y="1249.3" width="23.6" height="89.6" fill="#d3d3d3"/>
<rect x="1090.1" y="1157" width="23.6" height="181.9" fill="#d3d3d3"/>
<rect x="1125.7" y="1204.6" width="23.6" height="134.3" fill="#d3d3d3"/>
<rect x="1185.5" y="1328.7" width="23.6" height="10.2" fill="#d3d3d3"/>
<rect x="1220.8" y="1318.6" width="23.6" height="20.3" fill="#d3d3d3"/>
<rect x="1280.1" y="1249.3" width="23.6" height="89.6" fill="#d3d3d3"/>
<rect x="1315.7" y="1258.8" width="23.6" height="80.1" fill="#d3d3d3"/>
<line x1="1006.6" y1="1138.1" x2="1006.6" y2="1217.8" stroke="#000" stroke-width="2.4"/>
<line x1="1000.6" y1="1138.1" x2="1012.6" y2="1138.1" stroke="#000" stroke-width="2.4"/>
<line x1="1137.5" y1="1198.9" x2="1137.5" y2="1212.1" stroke="#cb83f3" stroke-width="1.6"/>
<line x1="1132" y1="1198.9" x2="1143" y2="1198.9" stroke="#cb83f3" stroke-width="1.6"/>
<line x1="1132" y1="1212.1" x2="1143" y2="1212.1" stroke="#cb83f3" stroke-width="1.6"/>
<line x1="1131" y1="1205.5" x2="1144" y2="1205.5" stroke="#cb83f3" stroke-width="1.6"/>
<path d="M1001 1099a5.6 5.6 0 1 0 11.2 0a5.6 5.6 0 1 0 -11.2 0M995 1219.4a5.6 5.6 0 1 0 11.2 0a5.6 5.6 0 1 0 -11.2 0M1007.3 1216.2a5.6 5.6 0 1 0 11.2 0a5.6 5.6 0 1 0 -11.2 0M1089.5 1164.2a5.6 5.6 0 1 0 11.2 0a5.6 5.6 0 1 0 -11.2 0M1095.8 1156.3a5.6 5.6 0 1 0 11.2 0a5.6 5.6 0 1 0 -11.2 0M1102.1 1156.3a5.6 5.6 0 1 0 11.2 0a5.6 5.6 0 1 0 -11.2 0M1184.7 1328.7a5.6 5.6 0 1 0 11.2 0a5.6 5.6 0 1 0 -11.2 0M1191 1326.5a5.6 5.6 0 1 0 11.2 0a5.6 5.6 0 1 0 -11.2 0M1197.3 1328.7a5.6 5.6 0 1 0 11.2 0a5.6 5.6 0 1 0 -11.2 0M1280.2 1245.5a5.6 5.6 0 1 0 11.2 0a5.6 5.6 0 1 0 -11.2 0M1292.8 1244.6a5.6 5.6 0 1 0 11.2 0a5.6 5.6 0 1 0 -11.2 0M1286.1 1257.2a5.6 5.6 0 1 0 11.2 0a5.6 5.6 0 1 0 -11.2 0" fill="#000"/>
<path d="M1030.3 1250.3a5.6 5.6 0 1 0 11.2 0a5.6 5.6 0 1 0 -11.2 0M1036.6 1247.7a5.6 5.6 0 1 0 11.2 0a5.6 5.6 0 1 0 -11.2 0M1042.9 1250.3a5.6 5.6 0 1 0 11.2 0a5.6 5.6 0 1 0 -11.2 0M1124.8 1195.1a5.6 5.6 0 1 0 11.2 0a5.6 5.6 0 1 0 -11.2 0M1138 1197.9a5.6 5.6 0 1 0 11.2 0a5.6 5.6 0 1 0 -11.2 0M1131.4 1218.7a5.6 5.6 0 1 0 11.2 0a5.6 5.6 0 1 0 -11.2 0M1220.9 1320.2a5.6 5.6 0 1 0 11.2 0a5.6 5.6 0 1 0 -11.2 0M1227.2 1315.5a5.6 5.6 0 1 0 11.2 0a5.6 5.6 0 1 0 -11.2 0M1233.5 1315.5a5.6 5.6 0 1 0 11.2 0a5.6 5.6 0 1 0 -11.2 0M1315.5 1261.9a5.6 5.6 0 1 0 11.2 0a5.6 5.6 0 1 0 -11.2 0M1321.8 1254a5.6 5.6 0 1 0 11.2 0a5.6 5.6 0 1 0 -11.2 0M1328.1 1258.8a5.6 5.6 0 1 0 11.2 0a5.6 5.6 0 1 0 -11.2 0" fill="#cb83f3"/>
<line x1="1291" y1="1251.5" x2="1303" y2="1251.5" stroke="#000" stroke-width="1.6"/>
<text x="994.9" y="1073.8" font-size="22.7"><tspan font-style="italic">P</tspan> =0.0118</text>
<path d="M1006.6 1088.6H1042.5V1191" fill="none" stroke="#000" stroke-width="1.4"/>
<circle cx="1227.5" cy="1088.6" r="5.6" fill="#000"/>
<circle cx="1227.5" cy="1119.2" r="5.6" fill="#cb83f3"/>
<text x="1261.2" y="1095.5" font-size="22.8">Vehicle</text>
<text x="1261.2" y="1126.4" font-size="22.8">Rapamycin</text>
<text font-size="32.5" text-anchor="end" font-style="italic" transform="translate(1031 1363) rotate(-45)">gCtl</text>
<text font-size="32.5" text-anchor="end" font-style="italic" transform="translate(1126 1364) rotate(-45)">gStk11</text>
<text font-size="32.5" text-anchor="end" font-style="italic" transform="translate(1221.5 1363) rotate(-45)">gCtl</text>
<text font-size="32.5" text-anchor="end" font-style="italic" transform="translate(1315.5 1364) rotate(-45)">gStk11</text>
<text x="1406" y="962.4" font-size="59">f</text>
<rect x="1931" y="914.4" width="38.2" height="28.5" fill="#fc8077"/>
<rect x="1931" y="946.8" width="38.2" height="29.3" fill="#0a5396"/>
<text x="1981.7" y="934.3" font-size="27">Control</text>
<text x="1982.5" y="970.2" font-size="26.5"><tspan font-style="italic">Opa1</tspan><tspan dy="-9.3" font-size="20.7">CD4Cre</tspan></text>
<path d="M1540 1168.5L1540 1168.5L1541.5 1168.5L1543 1168.5L1544.5 1168.5L1546 1168.5L1547.5 1168.4L1549 1168.4L1550.5 1168.3L1552 1168.2L1553.5 1168.1L1555 1167.8L1556.5 1167.4L1558 1166.9L1559.5 1166L1561 1164.9L1562.5 1163.2L1564 1161.1L1565.5 1158.2L1567 1154.5L1568.5 1149.8L1570 1144.1L1571.5 1137.4L1573 1129.5L1574.5 1120.6L1576 1110.9L1577.5 1100.7L1579 1090.2L1580.5 1080L1582 1070.4L1583.5 1062L1585 1055.2L1586.5 1050.4L1588 1047.9L1589.5 1047.8L1591 1050.4L1592.5 1055.5L1594 1062.8L1595.5 1071.8L1597 1082L1598.5 1092.9L1600 1103.9L1601.5 1114.5L1603 1124.4L1604.5 1133.2L1606 1140.9L1607.5 1147.4L1609 1152.8L1610.5 1157L1612 1160.3L1613.5 1162.8L1615 1164.6L1616.5 1165.9L1618 1166.8L1619.5 1167.4L1621 1167.8L1622.5 1168.1L1624 1168.3L1625.5 1168.4L1627 1168.4L1628.5 1168.5L1630 1168.5L1631.5 1168.5L1633 1168.5L1634.5 1168.5L1635 1168.5Z" fill="#fc8077"/>
<line x1="1479.5" y1="1168.5" x2="1733.9" y2="1168.5" stroke="#f7a6a0" stroke-width="1"/>
<path d="M1550 1295.5L1550 1295.5L1551.5 1295.5L1553 1295.5L1554.5 1295.5L1556 1295.5L1557.5 1295.5L1559 1295.4L1560.5 1295.4L1562 1295.3L1563.5 1295.1L1565 1294.9L1566.5 1294.5L1568 1293.9L1569.5 1293.1L1571 1291.9L1572.5 1290.2L1574 1287.8L1575.5 1284.7L1577 1280.7L1578.5 1275.6L1580 1269.4L1581.5 1262L1583 1253.5L1584.5 1243.9L1586 1233.6L1587.5 1222.9L1589 1212.2L1590.5 1202.1L1592 1193.1L1593.5 1185.7L1595 1180.4L1596.5 1177.5L1598 1177.2L1599.5 1179.3L1601 1183.8L1602.5 1190.2L1604 1198.2L1605.5 1207.5L1607 1217.5L1608.5 1227.7L1610 1237.8L1611.5 1247.4L1613 1256.2L1614.5 1264L1616 1270.8L1617.5 1276.5L1619 1281.2L1620.5 1285L1622 1287.9L1623.5 1290.1L1625 1291.8L1626.5 1293L1628 1293.8L1629.5 1294.4L1631 1294.8L1632.5 1295.1L1634 1295.2L1635.5 1295.3L1637 1295.4L1638.5 1295.4L1640 1295.5L1641.5 1295.5L1643 1295.5L1644.5 1295.5L1645 1295.5Z" fill="#0b55a0"/>
<rect x="1479.5" y="1040.5" width="254.4" height="255.6" fill="none" stroke="#777" stroke-width="1"/>
<line x1="1585.6" y1="1040.5" x2="1585.6" y2="1296.1" stroke="#111" stroke-width="2" stroke-dasharray="2 2.4"/>
<text x="1631" y="1081.5" font-size="34.5">Control</text>
<text x="1611" y="1210.2" font-size="30.5"><tspan font-style="italic">Opa1</tspan><tspan dy="-10.7" font-size="23.8">CD4Cre</tspan></text>
<path d="M1505.6 1296.1v5M1521.2 1296.1v3M1530.3 1296.1v3M1536.7 1296.1v3M1541.7 1296.1v3M1545.8 1296.1v3M1549.3 1296.1v3M1552.3 1296.1v3M1554.9 1296.1v3M1557.3 1296.1v5M1572.9 1296.1v3M1582 1296.1v3M1588.4 1296.1v3M1593.4 1296.1v3M1597.5 1296.1v3M1601 1296.1v3M1604 1296.1v3M1606.6 1296.1v3M1609 1296.1v5M1624.4 1296.1v3M1633.5 1296.1v3M1639.9 1296.1v3M1644.9 1296.1v3M1648.9 1296.1v3M1652.4 1296.1v3M1655.3 1296.1v3M1658 1296.1v3M1660.3 1296.1v5M1675.6 1296.1v3M1684.6 1296.1v3M1690.9 1296.1v3M1695.9 1296.1v3M1699.9 1296.1v3M1703.3 1296.1v3M1706.3 1296.1v3M1708.9 1296.1v3M1711.2 1296.1v5M1726.7 1296.1v3M1485.1 1296.1v3M1490.1 1296.1v3M1494.2 1296.1v3M1497.6 1296.1v3M1500.6 1296.1v3M1503.2 1296.1v3" fill="none" stroke="#222" stroke-width="0.9"/>
<clipPath id="cpf"><rect x="1470" y="1296" width="280" height="24"/></clipPath><g clip-path="url(#cpf)">
<text x="1515.6" y="1323.5" font-size="16.5" text-anchor="middle">10<tspan dy="-10.9" font-size="14.8">1</tspan></text>
<text x="1567.1" y="1323.5" font-size="16.5" text-anchor="middle">10<tspan dy="-10.9" font-size="14.8">2</tspan></text>
<text x="1619" y="1323.5" font-size="16.5" text-anchor="middle">10<tspan dy="-10.9" font-size="14.8">3</tspan></text>
<text x="1669.8" y="1323.5" font-size="16.5" text-anchor="middle">10<tspan dy="-10.9" font-size="14.8">4</tspan></text>
<text x="1718.5" y="1323.5" font-size="16.5" text-anchor="middle">10<tspan dy="-10.9" font-size="14.8">5</tspan></text>
</g>
<text font-size="35" text-anchor="middle" transform="translate(1458.5 1230.5) rotate(-90)">% of max</text>
<line x1="1450.5" y1="1149.7" x2="1450.5" y2="1068" stroke="#000" stroke-width="2"/>
<polygon points="1450.5,1048 1462,1068 1439,1068" fill="#000"/>
<text x="1502.1" y="1364.4" font-size="34.5">pH2Ax 488</text>
<line x1="1701.2" y1="1352" x2="1733.5" y2="1352" stroke="#000" stroke-width="2"/>
<polygon points="1753.5,1352 1733.5,1362.5 1733.5,1341.5" fill="#000"/>
<line x1="1915" y1="1050.1" x2="1915" y2="1333.3" stroke="#000" stroke-width="2.6"/>
<line x1="1909.5" y1="1332" x2="1915" y2="1332" stroke="#000" stroke-width="2.6"/>
<text x="1901.5" y="1343.2" font-size="31.4" text-anchor="end">0</text>
<line x1="1909.5" y1="1238.5" x2="1915" y2="1238.5" stroke="#000" stroke-width="2.6"/>
<text x="1901.5" y="1249.7" font-size="31.4" text-anchor="end">200</text>
<line x1="1909.5" y1="1144.9" x2="1915" y2="1144.9" stroke="#000" stroke-width="2.6"/>
<text x="1901.5" y="1156.2" font-size="31.4" text-anchor="end">400</text>
<line x1="1909.5" y1="1051.4" x2="1915" y2="1051.4" stroke="#000" stroke-width="2.6"/>
<text x="1901.5" y="1062.7" font-size="31.4" text-anchor="end">600</text>
<line x1="1909.5" y1="1332" x2="2030" y2="1332" stroke="#000" stroke-width="2.6"/>
<rect x="1931" y="1157.6" width="34.3" height="173.4" fill="#fc8077"/>
<rect x="1977.8" y="1110" width="34.4" height="221" fill="#0a5396"/>
<line x1="1948.2" y1="1151.8" x2="1948.2" y2="1163.5" stroke="#000" stroke-width="2.5"/>
<line x1="1939.2" y1="1151.8" x2="1957.2" y2="1151.8" stroke="#000" stroke-width="2.5"/>
<line x1="1939.2" y1="1163.5" x2="1957.2" y2="1163.5" stroke="#000" stroke-width="2.5"/>
<line x1="1995" y1="1096.3" x2="1995" y2="1125.2" stroke="#000" stroke-width="2.5"/>
<line x1="1985.5" y1="1096.3" x2="2004.5" y2="1096.3" stroke="#000" stroke-width="2.5"/>
<line x1="1985.5" y1="1125.2" x2="2004.5" y2="1125.2" stroke="#000" stroke-width="2.5"/>
<path d="M1930.9 1145.8a6 6 0 1 0 12 0a6 6 0 1 0 -12 0M1954.3 1141.9a6 6 0 1 0 12 0a6 6 0 1 0 -12 0M1942.6 1151.7a6 6 0 1 0 12 0a6 6 0 1 0 -12 0M1930.9 1170.4a6 6 0 1 0 12 0a6 6 0 1 0 -12 0M1942.6 1165.4a6 6 0 1 0 12 0a6 6 0 1 0 -12 0M1954.3 1170.4a6 6 0 1 0 12 0a6 6 0 1 0 -12 0M1976.9 1072.9a6 6 0 1 0 12 0a6 6 0 1 0 -12 0M2001.1 1076.8a6 6 0 1 0 12 0a6 6 0 1 0 -12 0M1989 1088.5a6 6 0 1 0 12 0a6 6 0 1 0 -12 0M1976.9 1133.4a6 6 0 1 0 12 0a6 6 0 1 0 -12 0M1976.9 1146.6a6 6 0 1 0 12 0a6 6 0 1 0 -12 0M2000.3 1145.1a6 6 0 1 0 12 0a6 6 0 1 0 -12 0" fill="#000"/>
<text x="1932.2" y="1038.5" font-size="26"><tspan font-style="italic">P</tspan> =0.0099</text>
<path d="M1945.8 1131V1048.5H1992.7V1060.5" fill="none" stroke="#000" stroke-width="1.5"/>
<text font-size="32" text-anchor="middle" transform="translate(1835.5 1188) rotate(-90)">pH2Ax gMFI</text>
<text x="5.2" y="1494" font-size="59">g</text>
<text x="394.9" y="1496" font-size="59">h</text>
<text x="786" y="1496" font-size="59">i</text>
<line x1="185.3" y1="1607.9" x2="185.3" y2="1913.3" stroke="#000" stroke-width="2.6"/>
<line x1="178.8" y1="1912" x2="185.3" y2="1912" stroke="#000" stroke-width="2.6"/>
<text x="169.8" y="1924" font-size="33.5" text-anchor="end">0</text>
<line x1="178.8" y1="1836.3" x2="185.3" y2="1836.3" stroke="#000" stroke-width="2.6"/>
<text x="169.8" y="1848.3" font-size="33.5" text-anchor="end">50</text>
<line x1="178.8" y1="1760.6" x2="185.3" y2="1760.6" stroke="#000" stroke-width="2.6"/>
<text x="169.8" y="1772.6" font-size="33.5" text-anchor="end">100</text>
<line x1="178.8" y1="1684.9" x2="185.3" y2="1684.9" stroke="#000" stroke-width="2.6"/>
<text x="169.8" y="1696.9" font-size="33.5" text-anchor="end">150</text>
<line x1="178.8" y1="1609.2" x2="185.3" y2="1609.2" stroke="#000" stroke-width="2.6"/>
<text x="169.8" y="1621.2" font-size="33.5" text-anchor="end">200</text>
<line x1="178.8" y1="1912" x2="309.5" y2="1912" stroke="#000" stroke-width="2.6"/>
<rect x="202.4" y="1755.5" width="38.3" height="155.5" fill="#fc8077"/>
<rect x="253.3" y="1749.5" width="38.3" height="161.5" fill="#0a5396"/>
<line x1="221.5" y1="1744.2" x2="221.5" y2="1766.3" stroke="#000" stroke-width="2.5"/>
<line x1="212" y1="1744.2" x2="231" y2="1744.2" stroke="#000" stroke-width="2.5"/>
<line x1="212" y1="1766.3" x2="231" y2="1766.3" stroke="#000" stroke-width="2.5"/>
<line x1="272.4" y1="1736.4" x2="272.4" y2="1763.3" stroke="#000" stroke-width="2.5"/>
<line x1="262.9" y1="1736.4" x2="281.9" y2="1736.4" stroke="#000" stroke-width="2.5"/>
<line x1="262.9" y1="1763.3" x2="281.9" y2="1763.3" stroke="#000" stroke-width="2.5"/>
<path d="M215.5 1682.5a6 6 0 1 0 12 0a6 6 0 1 0 -12 0M215.5 1739.4a6 6 0 1 0 12 0a6 6 0 1 0 -12 0M203.6 1765.1a6 6 0 1 0 12 0a6 6 0 1 0 -12 0M215.5 1760.3a6 6 0 1 0 12 0a6 6 0 1 0 -12 0M227.5 1762.1a6 6 0 1 0 12 0a6 6 0 1 0 -12 0M209.5 1772.3a6 6 0 1 0 12 0a6 6 0 1 0 -12 0M226.3 1774.1a6 6 0 1 0 12 0a6 6 0 1 0 -12 0M215.5 1790.3a6 6 0 1 0 12 0a6 6 0 1 0 -12 0M266.4 1675.3a6 6 0 1 0 12 0a6 6 0 1 0 -12 0M266.4 1710.6a6 6 0 1 0 12 0a6 6 0 1 0 -12 0M266.4 1748.3a6 6 0 1 0 12 0a6 6 0 1 0 -12 0M257.4 1766.3a6 6 0 1 0 12 0a6 6 0 1 0 -12 0M275.4 1766.3a6 6 0 1 0 12 0a6 6 0 1 0 -12 0M254.4 1784.3a6 6 0 1 0 12 0a6 6 0 1 0 -12 0M269.4 1775.3a6 6 0 1 0 12 0a6 6 0 1 0 -12 0M280.2 1781.3a6 6 0 1 0 12 0a6 6 0 1 0 -12 0" fill="#000"/>
<text x="242.5" y="1637.2" font-size="32" text-anchor="middle" font-style="italic">ns</text>
<path d="M218.7 1659.5V1648.2H271.3V1659.5" fill="none" stroke="#000" stroke-width="2.8"/>
<text font-size="32.8" text-anchor="middle" transform="translate(63 1755.5) rotate(-90)">Relative cAMP levels</text>
<text font-size="32.8" text-anchor="middle" transform="translate(100.5 1755.5) rotate(-90)">(Peak Area)</text>
<line x1="551.3" y1="1604.2" x2="551.3" y2="1914.3" stroke="#000" stroke-width="2.6"/>
<line x1="539.3" y1="1913" x2="551.3" y2="1913" stroke="#000" stroke-width="2.6"/>
<text x="534.3" y="1924.8" font-size="33" text-anchor="end">0.00</text>
<line x1="539.3" y1="1851.5" x2="551.3" y2="1851.5" stroke="#000" stroke-width="2.6"/>
<text x="534.3" y="1863.3" font-size="33" text-anchor="end">0.05</text>
<line x1="539.3" y1="1790" x2="551.3" y2="1790" stroke="#000" stroke-width="2.6"/>
<text x="534.3" y="1801.8" font-size="33" text-anchor="end">0.10</text>
<line x1="539.3" y1="1728.5" x2="551.3" y2="1728.5" stroke="#000" stroke-width="2.6"/>
<text x="534.3" y="1740.3" font-size="33" text-anchor="end">0.15</text>
<line x1="539.3" y1="1667" x2="551.3" y2="1667" stroke="#000" stroke-width="2.6"/>
<text x="534.3" y="1678.8" font-size="33" text-anchor="end">0.20</text>
<line x1="539.3" y1="1605.5" x2="551.3" y2="1605.5" stroke="#000" stroke-width="2.6"/>
<text x="534.3" y="1617.3" font-size="33" text-anchor="end">0.25</text>
<line x1="539.3" y1="1913" x2="670.6" y2="1913" stroke="#000" stroke-width="2.6"/>
<rect x="568.8" y="1657.3" width="34.7" height="254.7" fill="#fc8077"/>
<rect x="619.7" y="1679.5" width="35.9" height="232.5" fill="#0a5396"/>
<line x1="586.2" y1="1654" x2="586.2" y2="1660.5" stroke="#000" stroke-width="1.6"/>
<line x1="579.2" y1="1654" x2="593.2" y2="1654" stroke="#000" stroke-width="1.6"/>
<line x1="579.2" y1="1660.5" x2="593.2" y2="1660.5" stroke="#000" stroke-width="1.6"/>
<line x1="637.6" y1="1666" x2="637.6" y2="1681" stroke="#000" stroke-width="1.8"/>
<line x1="631.1" y1="1666" x2="644.1" y2="1666" stroke="#000" stroke-width="1.8"/>
<line x1="631.1" y1="1681" x2="644.1" y2="1681" stroke="#000" stroke-width="1.8"/>
<path d="M569 1650.8a4.6 4.6 0 1 0 9.2 0a4.6 4.6 0 1 0 -9.2 0M575 1654.3a4.6 4.6 0 1 0 9.2 0a4.6 4.6 0 1 0 -9.2 0M581 1649.6a4.6 4.6 0 1 0 9.2 0a4.6 4.6 0 1 0 -9.2 0M588.1 1650.8a4.6 4.6 0 1 0 9.2 0a4.6 4.6 0 1 0 -9.2 0M594.1 1658.5a4.6 4.6 0 1 0 9.2 0a4.6 4.6 0 1 0 -9.2 0M573.2 1660.3a4.6 4.6 0 1 0 9.2 0a4.6 4.6 0 1 0 -9.2 0M585.1 1662.7a4.6 4.6 0 1 0 9.2 0a4.6 4.6 0 1 0 -9.2 0M581 1670.5a4.6 4.6 0 1 0 9.2 0a4.6 4.6 0 1 0 -9.2 0M628.9 1661.5a4.6 4.6 0 1 0 9.2 0a4.6 4.6 0 1 0 -9.2 0M639 1666.3a4.6 4.6 0 1 0 9.2 0a4.6 4.6 0 1 0 -9.2 0M621.1 1674.7a4.6 4.6 0 1 0 9.2 0a4.6 4.6 0 1 0 -9.2 0M633 1679.5a4.6 4.6 0 1 0 9.2 0a4.6 4.6 0 1 0 -9.2 0M645 1679.5a4.6 4.6 0 1 0 9.2 0a4.6 4.6 0 1 0 -9.2 0M621.1 1690.3a4.6 4.6 0 1 0 9.2 0a4.6 4.6 0 1 0 -9.2 0M633 1691.5a4.6 4.6 0 1 0 9.2 0a4.6 4.6 0 1 0 -9.2 0M645 1688.5a4.6 4.6 0 1 0 9.2 0a4.6 4.6 0 1 0 -9.2 0" fill="#000"/>
<text x="561.6" y="1587.9" font-size="28.3"><tspan font-style="italic">P</tspan> =0.0009</text>
<path d="M582.9 1637.4V1613.2H637.5V1659" fill="none" stroke="#000" stroke-width="1.5"/>
<text font-size="41.5" text-anchor="middle" transform="translate(446 1754) rotate(-90)">Indo-1 ratio</text>
<line x1="934" y1="1607.5" x2="934" y2="1913.3" stroke="#000" stroke-width="2.6"/>
<line x1="927.5" y1="1912" x2="934" y2="1912" stroke="#000" stroke-width="2.6"/>
<text x="918.5" y="1923.8" font-size="33" text-anchor="end">0</text>
<line x1="927.5" y1="1851.4" x2="934" y2="1851.4" stroke="#000" stroke-width="2.6"/>
<text x="918.5" y="1863.2" font-size="33" text-anchor="end">200</text>
<line x1="927.5" y1="1790.7" x2="934" y2="1790.7" stroke="#000" stroke-width="2.6"/>
<text x="918.5" y="1802.5" font-size="33" text-anchor="end">400</text>
<line x1="927.5" y1="1730.1" x2="934" y2="1730.1" stroke="#000" stroke-width="2.6"/>
<text x="918.5" y="1741.9" font-size="33" text-anchor="end">600</text>
<line x1="927.5" y1="1669.4" x2="934" y2="1669.4" stroke="#000" stroke-width="2.6"/>
<text x="918.5" y="1681.3" font-size="33" text-anchor="end">800</text>
<line x1="927.5" y1="1608.8" x2="934" y2="1608.8" stroke="#000" stroke-width="2.6"/>
<text x="918.5" y="1620.6" font-size="33" text-anchor="end">1000</text>
<line x1="927.5" y1="1912" x2="1058" y2="1912" stroke="#000" stroke-width="2.6"/>
<rect x="952" y="1712.4" width="37.1" height="198.6" fill="#fc8077"/>
<rect x="1001.7" y="1649.6" width="38.3" height="261.4" fill="#0a5396"/>
<line x1="970.5" y1="1703.4" x2="970.5" y2="1720.2" stroke="#000" stroke-width="2.5"/>
<line x1="959.5" y1="1703.4" x2="981.5" y2="1703.4" stroke="#000" stroke-width="2.5"/>
<line x1="959.5" y1="1720.2" x2="981.5" y2="1720.2" stroke="#000" stroke-width="2.5"/>
<line x1="1020.8" y1="1639.4" x2="1020.8" y2="1659.7" stroke="#000" stroke-width="2.5"/>
<line x1="1009.8" y1="1639.4" x2="1031.8" y2="1639.4" stroke="#000" stroke-width="2.5"/>
<line x1="1009.8" y1="1659.7" x2="1031.8" y2="1659.7" stroke="#000" stroke-width="2.5"/>
<path d="M952 1703.4a6 6 0 1 0 12 0a6 6 0 1 0 -12 0M977.1 1708.2a6 6 0 1 0 12 0a6 6 0 1 0 -12 0M964.5 1726.2a6 6 0 1 0 12 0a6 6 0 1 0 -12 0M1014.8 1632.8a6 6 0 1 0 12 0a6 6 0 1 0 -12 0M1014.8 1650.8a6 6 0 1 0 12 0a6 6 0 1 0 -12 0M1014.8 1666.3a6 6 0 1 0 12 0a6 6 0 1 0 -12 0" fill="#000"/>
<text x="929.8" y="1583.7" font-size="28.3"><tspan font-style="italic">P</tspan> =0.0065</text>
<path d="M971.4 1668.5V1604.6H1021V1615.5" fill="none" stroke="#000" stroke-width="1.5"/>
<text font-size="37" text-anchor="middle" transform="translate(828.5 1755) rotate(-90)">MitoSOX (gMFI)</text>
<rect x="908.9" y="1980.7" width="40.1" height="29.3" fill="#fc8077"/>
<rect x="908.9" y="2013.6" width="40.1" height="29.3" fill="#0a5396"/>
<text x="958" y="2001" font-size="27.5">Control</text>
<text x="959" y="2038.7" font-size="26.5"><tspan font-style="italic">Opa1</tspan><tspan dy="-9.3" font-size="20.7">CD4Cre</tspan></text>
<text x="1131" y="1506" font-size="59">j</text>
<circle cx="1815.7" cy="1469.8" r="9.8" fill="#fc8077"/>
<circle cx="1816.5" cy="1519" r="9.8" fill="#0a5396"/>
<text x="1859.2" y="1480.2" font-size="31.2">Control</text>
<text x="1863" y="1531.6" font-size="29.5"><tspan font-style="italic">Opa1</tspan><tspan dy="-10.3" font-size="23">CD4Cre</tspan></text>
<text x="1527.1" y="1539.3" font-size="35.7">P &lt;0.0001</text>
<path d="M1583.6 1696.7V1560.8H1610.4V1575.8" fill="none" stroke="#000" stroke-width="2"/>
<line x1="1380.5" y1="1546" x2="1380.5" y2="1938.8" stroke="#000" stroke-width="3.8"/>
<line x1="1363.5" y1="1936.9" x2="1380.5" y2="1936.9" stroke="#000" stroke-width="3.8"/>
<text x="1357.5" y="1950.4" font-size="37.8" text-anchor="end">-1</text>
<line x1="1363.5" y1="1839.7" x2="1380.5" y2="1839.7" stroke="#000" stroke-width="3.8"/>
<text x="1357.5" y="1853.2" font-size="37.8" text-anchor="end">0</text>
<line x1="1363.5" y1="1742.4" x2="1380.5" y2="1742.4" stroke="#000" stroke-width="3.8"/>
<text x="1357.5" y="1755.9" font-size="37.8" text-anchor="end">1</text>
<line x1="1363.5" y1="1645.2" x2="1380.5" y2="1645.2" stroke="#000" stroke-width="3.8"/>
<text x="1357.5" y="1658.7" font-size="37.8" text-anchor="end">2</text>
<line x1="1363.5" y1="1547.9" x2="1380.5" y2="1547.9" stroke="#000" stroke-width="3.8"/>
<text x="1357.5" y="1561.4" font-size="37.8" text-anchor="end">3</text>
<line x1="1363.5" y1="1936.9" x2="2003.7" y2="1936.9" stroke="#000" stroke-width="3.8"/>
<line x1="1407.3" y1="1936.9" x2="1407.3" y2="1952.9" stroke="#000" stroke-width="3.8"/>
<line x1="1470.5" y1="1936.9" x2="1470.5" y2="1952.9" stroke="#000" stroke-width="3.8"/>
<line x1="1533.6" y1="1936.9" x2="1533.6" y2="1952.9" stroke="#000" stroke-width="3.8"/>
<line x1="1596.8" y1="1936.9" x2="1596.8" y2="1952.9" stroke="#000" stroke-width="3.8"/>
<line x1="1660" y1="1936.9" x2="1660" y2="1952.9" stroke="#000" stroke-width="3.8"/>
<line x1="1723.2" y1="1936.9" x2="1723.2" y2="1952.9" stroke="#000" stroke-width="3.8"/>
<line x1="1786.3" y1="1936.9" x2="1786.3" y2="1952.9" stroke="#000" stroke-width="3.8"/>
<line x1="1849.5" y1="1936.9" x2="1849.5" y2="1952.9" stroke="#000" stroke-width="3.8"/>
<line x1="1912.7" y1="1936.9" x2="1912.7" y2="1952.9" stroke="#000" stroke-width="3.8"/>
<line x1="1975.8" y1="1936.9" x2="1975.8" y2="1952.9" stroke="#000" stroke-width="3.8"/>
<line x1="1380.5" y1="1839.7" x2="2005" y2="1839.7" stroke="#000" stroke-width="2.6" stroke-dasharray="2.6 4.2"/>
<path d="M1385.5 1817.6a10 10 0 1 0 20 0a10 10 0 1 0 -20 0M1385.5 1825.7a10 10 0 1 0 20 0a10 10 0 1 0 -20 0M1385.5 1833.7a10 10 0 1 0 20 0a10 10 0 1 0 -20 0M1385.5 1841.8a10 10 0 1 0 20 0a10 10 0 1 0 -20 0M1385.5 1849.8a10 10 0 1 0 20 0a10 10 0 1 0 -20 0M1444.6 1813.8a10 10 0 1 0 20 0a10 10 0 1 0 -20 0M1452.7 1811.1a10 10 0 1 0 20 0a10 10 0 1 0 -20 0M1448.9 1849.8a10 10 0 1 0 20 0a10 10 0 1 0 -20 0M1448.9 1865.9a10 10 0 1 0 20 0a10 10 0 1 0 -20 0M1451.1 1875.6a10 10 0 1 0 20 0a10 10 0 1 0 -20 0M1509.1 1804.2a10 10 0 1 0 20 0a10 10 0 1 0 -20 0M1516.1 1804.7a10 10 0 1 0 20 0a10 10 0 1 0 -20 0M1512.8 1836.4a10 10 0 1 0 20 0a10 10 0 1 0 -20 0M1512.8 1844.5a10 10 0 1 0 20 0a10 10 0 1 0 -20 0M1512.8 1852.5a10 10 0 1 0 20 0a10 10 0 1 0 -20 0M1512.8 1859.5a10 10 0 1 0 20 0a10 10 0 1 0 -20 0M1574.6 1735.9a10 10 0 1 0 20 0a10 10 0 1 0 -20 0M1574.6 1745.1a10 10 0 1 0 20 0a10 10 0 1 0 -20 0M1574.6 1755.8a10 10 0 1 0 20 0a10 10 0 1 0 -20 0M1574.6 1766.6a10 10 0 1 0 20 0a10 10 0 1 0 -20 0M1638 1769.2a10 10 0 1 0 20 0a10 10 0 1 0 -20 0M1638 1780a10 10 0 1 0 20 0a10 10 0 1 0 -20 0M1638 1790.7a10 10 0 1 0 20 0a10 10 0 1 0 -20 0M1638 1801.5a10 10 0 1 0 20 0a10 10 0 1 0 -20 0M1638 1811.1a10 10 0 1 0 20 0a10 10 0 1 0 -20 0M1701.4 1834.8a10 10 0 1 0 20 0a10 10 0 1 0 -20 0M1701.4 1844.5a10 10 0 1 0 20 0a10 10 0 1 0 -20 0M1701.4 1854.1a10 10 0 1 0 20 0a10 10 0 1 0 -20 0M1701.4 1861.7a10 10 0 1 0 20 0a10 10 0 1 0 -20 0M1701.4 1870.2a10 10 0 1 0 20 0a10 10 0 1 0 -20 0M1764.8 1793.4a10 10 0 1 0 20 0a10 10 0 1 0 -20 0M1764.8 1804.2a10 10 0 1 0 20 0a10 10 0 1 0 -20 0M1764.8 1814.9a10 10 0 1 0 20 0a10 10 0 1 0 -20 0M1764.8 1823a10 10 0 1 0 20 0a10 10 0 1 0 -20 0M1827.7 1750.4a10 10 0 1 0 20 0a10 10 0 1 0 -20 0M1827.7 1755.8a10 10 0 1 0 20 0a10 10 0 1 0 -20 0M1827.7 1788a10 10 0 1 0 20 0a10 10 0 1 0 -20 0M1827.7 1836.4a10 10 0 1 0 20 0a10 10 0 1 0 -20 0M1827.7 1841.8a10 10 0 1 0 20 0a10 10 0 1 0 -20 0M1827.7 1867a10 10 0 1 0 20 0a10 10 0 1 0 -20 0M1891.6 1841.8a10 10 0 1 0 20 0a10 10 0 1 0 -20 0M1891.6 1849.8a10 10 0 1 0 20 0a10 10 0 1 0 -20 0M1891.6 1857.9a10 10 0 1 0 20 0a10 10 0 1 0 -20 0M1891.6 1864.9a10 10 0 1 0 20 0a10 10 0 1 0 -20 0M1955 1845.5a10 10 0 1 0 20 0a10 10 0 1 0 -20 0M1955 1854.1a10 10 0 1 0 20 0a10 10 0 1 0 -20 0M1955 1860.6a10 10 0 1 0 20 0a10 10 0 1 0 -20 0" fill="#fc8077"/>
<path d="M1410.2 1774.6a10 10 0 1 0 20 0a10 10 0 1 0 -20 0M1404.3 1825.7a10 10 0 1 0 20 0a10 10 0 1 0 -20 0M1412.4 1831a10 10 0 1 0 20 0a10 10 0 1 0 -20 0M1408.1 1844.5a10 10 0 1 0 20 0a10 10 0 1 0 -20 0M1407 1860.6a10 10 0 1 0 20 0a10 10 0 1 0 -20 0M1411.3 1868.6a10 10 0 1 0 20 0a10 10 0 1 0 -20 0M1472.5 1788a10 10 0 1 0 20 0a10 10 0 1 0 -20 0M1472.5 1806.8a10 10 0 1 0 20 0a10 10 0 1 0 -20 0M1472.5 1817.6a10 10 0 1 0 20 0a10 10 0 1 0 -20 0M1472.5 1839.1a10 10 0 1 0 20 0a10 10 0 1 0 -20 0M1472.5 1852.5a10 10 0 1 0 20 0a10 10 0 1 0 -20 0M1535.9 1750.4a10 10 0 1 0 20 0a10 10 0 1 0 -20 0M1535.9 1790.7a10 10 0 1 0 20 0a10 10 0 1 0 -20 0M1535.9 1807.9a10 10 0 1 0 20 0a10 10 0 1 0 -20 0M1535.9 1828.3a10 10 0 1 0 20 0a10 10 0 1 0 -20 0M1535.9 1841.8a10 10 0 1 0 20 0a10 10 0 1 0 -20 0M1535.9 1863.3a10 10 0 1 0 20 0a10 10 0 1 0 -20 0M1598.8 1596.2a10 10 0 1 0 20 0a10 10 0 1 0 -20 0M1598.8 1617.7a10 10 0 1 0 20 0a10 10 0 1 0 -20 0M1598.8 1636.5a10 10 0 1 0 20 0a10 10 0 1 0 -20 0M1598.8 1683.3a10 10 0 1 0 20 0a10 10 0 1 0 -20 0M1598.8 1688.6a10 10 0 1 0 20 0a10 10 0 1 0 -20 0M1600.4 1696.7a10 10 0 1 0 20 0a10 10 0 1 0 -20 0M1598.8 1727.9a10 10 0 1 0 20 0a10 10 0 1 0 -20 0M1662.2 1734.9a10 10 0 1 0 20 0a10 10 0 1 0 -20 0M1662.2 1763.9a10 10 0 1 0 20 0a10 10 0 1 0 -20 0M1662.2 1777.3a10 10 0 1 0 20 0a10 10 0 1 0 -20 0M1662.2 1789.7a10 10 0 1 0 20 0a10 10 0 1 0 -20 0M1725.6 1831a10 10 0 1 0 20 0a10 10 0 1 0 -20 0M1725.6 1849.8a10 10 0 1 0 20 0a10 10 0 1 0 -20 0M1725.6 1861.7a10 10 0 1 0 20 0a10 10 0 1 0 -20 0M1725.6 1868.6a10 10 0 1 0 20 0a10 10 0 1 0 -20 0M1725.6 1884.8a10 10 0 1 0 20 0a10 10 0 1 0 -20 0M1788.5 1769.2a10 10 0 1 0 20 0a10 10 0 1 0 -20 0M1788.5 1780a10 10 0 1 0 20 0a10 10 0 1 0 -20 0M1788.5 1790.7a10 10 0 1 0 20 0a10 10 0 1 0 -20 0M1788.5 1806.8a10 10 0 1 0 20 0a10 10 0 1 0 -20 0M1788.5 1818.7a10 10 0 1 0 20 0a10 10 0 1 0 -20 0M1851.9 1714.4a10 10 0 1 0 20 0a10 10 0 1 0 -20 0M1851.9 1758.5a10 10 0 1 0 20 0a10 10 0 1 0 -20 0M1851.9 1802.5a10 10 0 1 0 20 0a10 10 0 1 0 -20 0M1851.9 1807.9a10 10 0 1 0 20 0a10 10 0 1 0 -20 0M1851.9 1817.6a10 10 0 1 0 20 0a10 10 0 1 0 -20 0M1851.9 1829.4a10 10 0 1 0 20 0a10 10 0 1 0 -20 0M1914.7 1841.8a10 10 0 1 0 20 0a10 10 0 1 0 -20 0M1914.7 1854.1a10 10 0 1 0 20 0a10 10 0 1 0 -20 0M1914.7 1865.9a10 10 0 1 0 20 0a10 10 0 1 0 -20 0M1914.7 1882.1a10 10 0 1 0 20 0a10 10 0 1 0 -20 0M1972.2 1816a10 10 0 1 0 20 0a10 10 0 1 0 -20 0M1980.8 1818.7a10 10 0 1 0 20 0a10 10 0 1 0 -20 0M1976.5 1847.1a10 10 0 1 0 20 0a10 10 0 1 0 -20 0" fill="#0a5396"/>
<text font-size="40.5" text-anchor="end" transform="translate(1416.3 1987.4) rotate(-45)">PKAi</text>
<text font-size="40.5" text-anchor="end" transform="translate(1479.5 1987.4) rotate(-45)">PKC-ζ pseudo</text>
<text font-size="40.5" text-anchor="end" transform="translate(1542.6 1987.4) rotate(-45)">PKC-ζ myr</text>
<text font-size="40.5" text-anchor="end" transform="translate(1605.8 1987.4) rotate(-45)">KU-55933</text>
<text font-size="40.5" text-anchor="end" transform="translate(1669 1987.4) rotate(-45)">BI-D1870</text>
<text font-size="40.5" text-anchor="end" transform="translate(1732.2 1987.4) rotate(-45)">Ex-527</text>
<text font-size="40.5" text-anchor="end" transform="translate(1795.3 1987.4) rotate(-45)">Sirtinol</text>
<text font-size="40.5" text-anchor="end" transform="translate(1858.5 1987.4) rotate(-45)">NR</text>
<text font-size="40.5" text-anchor="end" transform="translate(1921.7 1987.4) rotate(-45)">Tempol</text>
<text font-size="40.5" text-anchor="end" transform="translate(1984.8 1987.4) rotate(-45)">NAC</text>
<text font-size="40" text-anchor="middle" transform="translate(1221.5 1745) rotate(-90)">IL-17A expression</text>
<text font-size="36.5" text-anchor="middle" transform="translate(1267.5 1735.6) rotate(-90)">log2 FC (treatment vs vehicle)</text>
</svg>
</body></html>
